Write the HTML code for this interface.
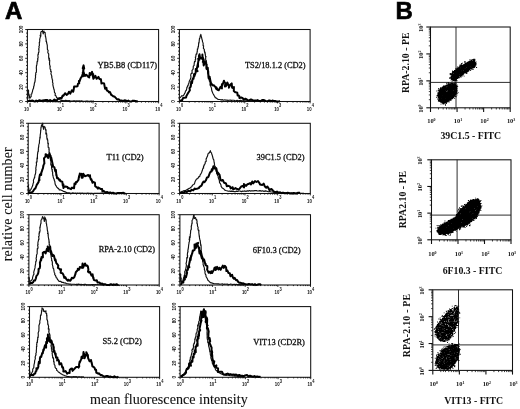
<!DOCTYPE html>
<html><head><meta charset="utf-8"><style>html,body{margin:0;padding:0;background:#fff;width:520px;height:409px;overflow:hidden}svg{display:block;filter:grayscale(1) blur(0.3px)}</style></head><body>
<svg width="520" height="409" viewBox="0 0 520 409">
<rect width="520" height="409" fill="#fff"/>
<text x="4.9" y="18.7" font-family="&quot;Liberation Sans&quot;, sans-serif" font-weight="bold" font-size="24" fill="#000" stroke="#000" stroke-width="0.7">A</text>
<text x="395.6" y="18.8" font-family="&quot;Liberation Sans&quot;, sans-serif" font-weight="bold" font-size="24" fill="#000" stroke="#000" stroke-width="0.6">B</text>
<rect x="27.4" y="29.5" width="131.20" height="72.00" fill="none" stroke="#111" stroke-width="1.05"/>
<line x1="25.20" y1="101.50" x2="27.4" y2="101.50" stroke="#111" stroke-width="0.9"/>
<line x1="26.10" y1="97.90" x2="27.4" y2="97.90" stroke="#111" stroke-width="0.9"/>
<line x1="26.10" y1="94.30" x2="27.4" y2="94.30" stroke="#111" stroke-width="0.9"/>
<line x1="26.10" y1="90.70" x2="27.4" y2="90.70" stroke="#111" stroke-width="0.9"/>
<line x1="25.20" y1="87.10" x2="27.4" y2="87.10" stroke="#111" stroke-width="0.9"/>
<line x1="26.10" y1="83.50" x2="27.4" y2="83.50" stroke="#111" stroke-width="0.9"/>
<line x1="26.10" y1="79.90" x2="27.4" y2="79.90" stroke="#111" stroke-width="0.9"/>
<line x1="26.10" y1="76.30" x2="27.4" y2="76.30" stroke="#111" stroke-width="0.9"/>
<line x1="25.20" y1="72.70" x2="27.4" y2="72.70" stroke="#111" stroke-width="0.9"/>
<line x1="26.10" y1="69.10" x2="27.4" y2="69.10" stroke="#111" stroke-width="0.9"/>
<line x1="26.10" y1="65.50" x2="27.4" y2="65.50" stroke="#111" stroke-width="0.9"/>
<line x1="26.10" y1="61.90" x2="27.4" y2="61.90" stroke="#111" stroke-width="0.9"/>
<line x1="25.20" y1="58.30" x2="27.4" y2="58.30" stroke="#111" stroke-width="0.9"/>
<line x1="26.10" y1="54.70" x2="27.4" y2="54.70" stroke="#111" stroke-width="0.9"/>
<line x1="26.10" y1="51.10" x2="27.4" y2="51.10" stroke="#111" stroke-width="0.9"/>
<line x1="26.10" y1="47.50" x2="27.4" y2="47.50" stroke="#111" stroke-width="0.9"/>
<line x1="25.20" y1="43.90" x2="27.4" y2="43.90" stroke="#111" stroke-width="0.9"/>
<line x1="26.10" y1="40.30" x2="27.4" y2="40.30" stroke="#111" stroke-width="0.9"/>
<line x1="26.10" y1="36.70" x2="27.4" y2="36.70" stroke="#111" stroke-width="0.9"/>
<line x1="26.10" y1="33.10" x2="27.4" y2="33.10" stroke="#111" stroke-width="0.9"/>
<line x1="25.20" y1="29.50" x2="27.4" y2="29.50" stroke="#111" stroke-width="0.9"/>
<text transform="translate(22.80,101.50) rotate(-90) scale(0.8,1)" font-family="&quot;Liberation Sans&quot;, sans-serif" font-weight="bold" font-size="5.8" text-anchor="middle" fill="#111">0</text>
<text transform="translate(22.80,87.10) rotate(-90) scale(0.8,1)" font-family="&quot;Liberation Sans&quot;, sans-serif" font-weight="bold" font-size="5.8" text-anchor="middle" fill="#111">20</text>
<text transform="translate(22.80,72.70) rotate(-90) scale(0.8,1)" font-family="&quot;Liberation Sans&quot;, sans-serif" font-weight="bold" font-size="5.8" text-anchor="middle" fill="#111">40</text>
<text transform="translate(22.80,58.30) rotate(-90) scale(0.8,1)" font-family="&quot;Liberation Sans&quot;, sans-serif" font-weight="bold" font-size="5.8" text-anchor="middle" fill="#111">60</text>
<text transform="translate(22.80,43.90) rotate(-90) scale(0.8,1)" font-family="&quot;Liberation Sans&quot;, sans-serif" font-weight="bold" font-size="5.8" text-anchor="middle" fill="#111">80</text>
<text transform="translate(22.80,29.50) rotate(-90) scale(0.8,1)" font-family="&quot;Liberation Sans&quot;, sans-serif" font-weight="bold" font-size="5.8" text-anchor="middle" fill="#111">100</text>
<line x1="27.40" y1="101.5" x2="27.40" y2="103.40" stroke="#111" stroke-width="0.9"/>
<line x1="37.27" y1="101.5" x2="37.27" y2="102.60" stroke="#111" stroke-width="0.9"/>
<line x1="43.05" y1="101.5" x2="43.05" y2="102.60" stroke="#111" stroke-width="0.9"/>
<line x1="47.15" y1="101.5" x2="47.15" y2="102.60" stroke="#111" stroke-width="0.9"/>
<line x1="50.33" y1="101.5" x2="50.33" y2="102.60" stroke="#111" stroke-width="0.9"/>
<line x1="52.92" y1="101.5" x2="52.92" y2="102.60" stroke="#111" stroke-width="0.9"/>
<line x1="55.12" y1="101.5" x2="55.12" y2="102.60" stroke="#111" stroke-width="0.9"/>
<line x1="57.02" y1="101.5" x2="57.02" y2="102.60" stroke="#111" stroke-width="0.9"/>
<line x1="58.70" y1="101.5" x2="58.70" y2="102.60" stroke="#111" stroke-width="0.9"/>
<line x1="60.20" y1="101.5" x2="60.20" y2="103.40" stroke="#111" stroke-width="0.9"/>
<line x1="70.07" y1="101.5" x2="70.07" y2="102.60" stroke="#111" stroke-width="0.9"/>
<line x1="75.85" y1="101.5" x2="75.85" y2="102.60" stroke="#111" stroke-width="0.9"/>
<line x1="79.95" y1="101.5" x2="79.95" y2="102.60" stroke="#111" stroke-width="0.9"/>
<line x1="83.13" y1="101.5" x2="83.13" y2="102.60" stroke="#111" stroke-width="0.9"/>
<line x1="85.72" y1="101.5" x2="85.72" y2="102.60" stroke="#111" stroke-width="0.9"/>
<line x1="87.92" y1="101.5" x2="87.92" y2="102.60" stroke="#111" stroke-width="0.9"/>
<line x1="89.82" y1="101.5" x2="89.82" y2="102.60" stroke="#111" stroke-width="0.9"/>
<line x1="91.50" y1="101.5" x2="91.50" y2="102.60" stroke="#111" stroke-width="0.9"/>
<line x1="93.00" y1="101.5" x2="93.00" y2="103.40" stroke="#111" stroke-width="0.9"/>
<line x1="102.87" y1="101.5" x2="102.87" y2="102.60" stroke="#111" stroke-width="0.9"/>
<line x1="108.65" y1="101.5" x2="108.65" y2="102.60" stroke="#111" stroke-width="0.9"/>
<line x1="112.75" y1="101.5" x2="112.75" y2="102.60" stroke="#111" stroke-width="0.9"/>
<line x1="115.93" y1="101.5" x2="115.93" y2="102.60" stroke="#111" stroke-width="0.9"/>
<line x1="118.52" y1="101.5" x2="118.52" y2="102.60" stroke="#111" stroke-width="0.9"/>
<line x1="120.72" y1="101.5" x2="120.72" y2="102.60" stroke="#111" stroke-width="0.9"/>
<line x1="122.62" y1="101.5" x2="122.62" y2="102.60" stroke="#111" stroke-width="0.9"/>
<line x1="124.30" y1="101.5" x2="124.30" y2="102.60" stroke="#111" stroke-width="0.9"/>
<line x1="125.80" y1="101.5" x2="125.80" y2="103.40" stroke="#111" stroke-width="0.9"/>
<line x1="135.67" y1="101.5" x2="135.67" y2="102.60" stroke="#111" stroke-width="0.9"/>
<line x1="141.45" y1="101.5" x2="141.45" y2="102.60" stroke="#111" stroke-width="0.9"/>
<line x1="145.55" y1="101.5" x2="145.55" y2="102.60" stroke="#111" stroke-width="0.9"/>
<line x1="148.73" y1="101.5" x2="148.73" y2="102.60" stroke="#111" stroke-width="0.9"/>
<line x1="151.32" y1="101.5" x2="151.32" y2="102.60" stroke="#111" stroke-width="0.9"/>
<line x1="153.52" y1="101.5" x2="153.52" y2="102.60" stroke="#111" stroke-width="0.9"/>
<line x1="155.42" y1="101.5" x2="155.42" y2="102.60" stroke="#111" stroke-width="0.9"/>
<line x1="157.10" y1="101.5" x2="157.10" y2="102.60" stroke="#111" stroke-width="0.9"/>
<line x1="158.60" y1="101.5" x2="158.60" y2="103.40" stroke="#111" stroke-width="0.9"/>
<text transform="translate(26.50,110.50) scale(0.72,1)" font-family="&quot;Liberation Sans&quot;, sans-serif" font-weight="bold" font-size="6.0" text-anchor="middle" fill="#111">10</text>
<text transform="translate(29.00,107.30) scale(0.8,1)" font-family="&quot;Liberation Sans&quot;, sans-serif" font-weight="bold" font-size="5.0" fill="#111">0</text>
<text transform="translate(59.30,110.50) scale(0.72,1)" font-family="&quot;Liberation Sans&quot;, sans-serif" font-weight="bold" font-size="6.0" text-anchor="middle" fill="#111">10</text>
<text transform="translate(61.80,107.30) scale(0.8,1)" font-family="&quot;Liberation Sans&quot;, sans-serif" font-weight="bold" font-size="5.0" fill="#111">1</text>
<text transform="translate(92.10,110.50) scale(0.72,1)" font-family="&quot;Liberation Sans&quot;, sans-serif" font-weight="bold" font-size="6.0" text-anchor="middle" fill="#111">10</text>
<text transform="translate(94.60,107.30) scale(0.8,1)" font-family="&quot;Liberation Sans&quot;, sans-serif" font-weight="bold" font-size="5.0" fill="#111">2</text>
<text transform="translate(124.90,110.50) scale(0.72,1)" font-family="&quot;Liberation Sans&quot;, sans-serif" font-weight="bold" font-size="6.0" text-anchor="middle" fill="#111">10</text>
<text transform="translate(127.40,107.30) scale(0.8,1)" font-family="&quot;Liberation Sans&quot;, sans-serif" font-weight="bold" font-size="5.0" fill="#111">3</text>
<text transform="translate(157.70,110.50) scale(0.72,1)" font-family="&quot;Liberation Sans&quot;, sans-serif" font-weight="bold" font-size="6.0" text-anchor="middle" fill="#111">10</text>
<text transform="translate(160.20,107.30) scale(0.8,1)" font-family="&quot;Liberation Sans&quot;, sans-serif" font-weight="bold" font-size="5.0" fill="#111">4</text>
<path d="M28.1,98.7 L28.0,98.1 L27.8,96.3 L28.0,95.8 L28.0,94.1 L28.4,92.9 L27.8,91.6 L28.1,89.9 L28.0,89.9 L28.6,90.7 L28.5,92.5 L28.6,93.5 L29.2,94.9 L29.5,97.0 L29.5,97.5 L29.9,98.3 L30.4,97.2 L31.2,96.5 L31.1,94.2 L31.7,94.0 L32.2,92.2 L32.4,91.9 L32.7,90.1 L32.7,89.9 L33.7,87.7 L33.5,87.3 L34.2,85.2 L34.1,85.3 L34.5,82.7 L34.7,82.5 L35.1,81.0 L35.2,80.2 L35.2,78.9 L35.6,77.1 L35.5,76.6 L35.5,74.7 L35.8,74.7 L35.7,72.8 L36.3,72.5 L36.4,71.6 L36.5,68.5 L36.2,68.1 L36.4,67.3 L36.5,65.4 L36.7,65.5 L37.1,63.1 L36.9,63.5 L37.2,61.2 L37.5,61.8 L37.9,59.0 L37.5,59.0 L38.1,57.7 L37.9,55.2 L38.2,53.9 L38.3,54.6 L38.5,52.2 L38.9,52.2 L38.9,51.2 L38.9,48.5 L38.5,49.1 L39.2,47.4 L38.9,46.5 L39.4,45.5 L39.3,42.3 L39.5,42.7 L39.8,40.2 L39.7,40.1 L39.7,39.4 L40.5,36.4 L40.1,35.3 L40.8,36.2 L40.8,32.4 L40.7,34.0 L41.0,31.8 L42.1,31.2 L42.5,30.6 L43.2,33.9 L44.0,31.0 L44.1,32.4 L45.2,32.5 L45.1,32.8 L45.4,36.4 L45.5,36.1 L46.0,38.9 L46.1,39.8 L46.1,41.6 L46.4,41.1 L46.6,42.3 L46.7,43.0 L47.3,45.3 L47.2,44.8 L47.3,45.9 L47.4,49.1 L47.5,49.6 L48.1,50.3 L47.8,52.4 L48.6,54.0 L48.5,53.5 L48.7,54.2 L48.7,56.5 L48.6,56.6 L48.9,59.2 L49.4,58.3 L49.2,60.6 L49.7,60.2 L49.6,62.6 L49.5,62.4 L49.6,64.6 L49.7,64.9 L50.3,66.7 L50.0,66.3 L50.1,69.1 L50.8,69.6 L50.7,71.5 L51.3,71.6 L50.9,74.0 L51.2,74.4 L51.8,76.1 L51.8,77.1 L51.6,76.9 L51.9,77.8 L52.4,80.2 L52.6,79.9 L52.5,82.3 L53.0,83.2 L52.8,84.9 L53.0,85.3 L53.4,87.3 L53.5,87.3 L53.9,89.3 L54.2,89.6 L54.3,90.7 L54.5,92.5 L55.3,93.3 L55.1,95.4 L56.0,95.8 L56.6,97.7 L57.2,97.9 L58.1,99.1 L59.1,99.1 L60.1,99.7 L61.2,100.4 L63.2,100.6 L64.2,100.7 L65.4,100.4 L66.9,100.5 L68.0,100.9 L69.0,100.5 L70.1,100.9 L71.2,101.0 L72.4,101.0 L73.6,100.8 L74.7,100.8 L75.8,101.0 L76.9,100.8 L78.0,101.1 L79.1,100.8 L80.6,101.1 L81.7,100.9 L82.9,101.2 L84.0,101.2 L85.2,101.3 L86.3,101.0 L87.5,101.1 L88.6,101.3 L89.6,101.2 L91.1,101.1 L92.4,101.3 L93.4,101.1 L94.0,101.4" fill="none" stroke="#111" stroke-width="1.15" stroke-linejoin="round" stroke-opacity="1.0"/>
<path d="M27.9,101.5 L29.4,100.5 L30.7,101.2 L32.2,100.5 L34.0,101.2 L35.1,101.5 L36.2,100.6 L37.9,101.2 L39.5,100.2 L41.0,101.0 L42.7,100.5 L44.3,100.2 L45.9,100.1 L47.4,100.1 L48.8,101.2 L50.1,100.0 L51.3,100.9 L53.0,100.8 L54.4,99.6 L55.7,100.6 L57.0,100.2 L58.4,98.4 L60.3,97.9 L61.5,98.4 L62.7,95.5 L63.3,95.8 L65.2,93.2 L66.6,95.0 L68.1,93.7 L69.0,91.7 L70.3,93.6 L71.8,90.3 L73.2,91.7 L73.7,89.6 L74.1,86.6 L76.2,86.4 L77.5,86.2 L78.0,83.7 L79.2,83.3 L78.9,81.0 L79.4,81.7 L80.5,78.6 L82.1,76.0 L82.5,74.5 L83.0,76.2 L82.9,73.4 L83.2,71.9 L82.7,72.9 L83.4,71.1 L83.4,68.2 L82.7,68.2 L83.6,65.4 L84.2,68.6 L83.5,68.5 L83.8,67.2 L83.3,68.3 L83.1,73.0 L83.5,71.8 L84.0,73.3 L84.9,76.0 L86.3,74.8 L88.7,77.2 L89.2,77.5 L89.7,72.9 L90.6,74.9 L92.1,71.8 L93.0,77.0 L93.2,73.9 L93.3,78.8 L95.4,75.9 L96.6,78.8 L98.5,76.9 L99.3,78.8 L100.8,79.5 L100.9,79.1 L101.5,83.6 L101.9,82.9 L104.1,83.5 L104.7,86.7 L105.1,88.7 L106.4,87.7 L106.8,90.4 L108.8,91.6 L108.9,92.3 L109.9,92.0 L111.3,95.0 L112.0,95.2 L113.2,96.3 L114.8,96.8 L115.3,97.4 L117.1,99.4 L118.6,99.3 L119.9,100.5 L121.4,100.6 L123.1,100.9 L124.5,100.3 L125.9,100.5 L127.1,101.4 L128.4,100.6 L129.8,101.5 L131.5,101.5 L132.7,100.7 L133.9,100.8 L135.6,101.0 L137.0,101.5 L138.0,101.1" fill="none" stroke="#000" stroke-width="2.0" stroke-linejoin="round" stroke-opacity="1.0"/>
<text x="97.5" y="67.5" font-family="&quot;Liberation Serif&quot;, serif" font-size="8.6" fill="#111" stroke="#111" stroke-width="0.3" textLength="59.5" lengthAdjust="spacingAndGlyphs">YB5.B8 (CD117)</text>
<rect x="179.4" y="29.5" width="130.70" height="72.00" fill="none" stroke="#111" stroke-width="1.05"/>
<line x1="177.20" y1="101.50" x2="179.4" y2="101.50" stroke="#111" stroke-width="0.9"/>
<line x1="178.10" y1="97.90" x2="179.4" y2="97.90" stroke="#111" stroke-width="0.9"/>
<line x1="178.10" y1="94.30" x2="179.4" y2="94.30" stroke="#111" stroke-width="0.9"/>
<line x1="178.10" y1="90.70" x2="179.4" y2="90.70" stroke="#111" stroke-width="0.9"/>
<line x1="177.20" y1="87.10" x2="179.4" y2="87.10" stroke="#111" stroke-width="0.9"/>
<line x1="178.10" y1="83.50" x2="179.4" y2="83.50" stroke="#111" stroke-width="0.9"/>
<line x1="178.10" y1="79.90" x2="179.4" y2="79.90" stroke="#111" stroke-width="0.9"/>
<line x1="178.10" y1="76.30" x2="179.4" y2="76.30" stroke="#111" stroke-width="0.9"/>
<line x1="177.20" y1="72.70" x2="179.4" y2="72.70" stroke="#111" stroke-width="0.9"/>
<line x1="178.10" y1="69.10" x2="179.4" y2="69.10" stroke="#111" stroke-width="0.9"/>
<line x1="178.10" y1="65.50" x2="179.4" y2="65.50" stroke="#111" stroke-width="0.9"/>
<line x1="178.10" y1="61.90" x2="179.4" y2="61.90" stroke="#111" stroke-width="0.9"/>
<line x1="177.20" y1="58.30" x2="179.4" y2="58.30" stroke="#111" stroke-width="0.9"/>
<line x1="178.10" y1="54.70" x2="179.4" y2="54.70" stroke="#111" stroke-width="0.9"/>
<line x1="178.10" y1="51.10" x2="179.4" y2="51.10" stroke="#111" stroke-width="0.9"/>
<line x1="178.10" y1="47.50" x2="179.4" y2="47.50" stroke="#111" stroke-width="0.9"/>
<line x1="177.20" y1="43.90" x2="179.4" y2="43.90" stroke="#111" stroke-width="0.9"/>
<line x1="178.10" y1="40.30" x2="179.4" y2="40.30" stroke="#111" stroke-width="0.9"/>
<line x1="178.10" y1="36.70" x2="179.4" y2="36.70" stroke="#111" stroke-width="0.9"/>
<line x1="178.10" y1="33.10" x2="179.4" y2="33.10" stroke="#111" stroke-width="0.9"/>
<line x1="177.20" y1="29.50" x2="179.4" y2="29.50" stroke="#111" stroke-width="0.9"/>
<text transform="translate(174.80,101.50) rotate(-90) scale(0.8,1)" font-family="&quot;Liberation Sans&quot;, sans-serif" font-weight="bold" font-size="5.8" text-anchor="middle" fill="#111">0</text>
<text transform="translate(174.80,87.10) rotate(-90) scale(0.8,1)" font-family="&quot;Liberation Sans&quot;, sans-serif" font-weight="bold" font-size="5.8" text-anchor="middle" fill="#111">20</text>
<text transform="translate(174.80,72.70) rotate(-90) scale(0.8,1)" font-family="&quot;Liberation Sans&quot;, sans-serif" font-weight="bold" font-size="5.8" text-anchor="middle" fill="#111">40</text>
<text transform="translate(174.80,58.30) rotate(-90) scale(0.8,1)" font-family="&quot;Liberation Sans&quot;, sans-serif" font-weight="bold" font-size="5.8" text-anchor="middle" fill="#111">60</text>
<text transform="translate(174.80,43.90) rotate(-90) scale(0.8,1)" font-family="&quot;Liberation Sans&quot;, sans-serif" font-weight="bold" font-size="5.8" text-anchor="middle" fill="#111">80</text>
<text transform="translate(174.80,29.50) rotate(-90) scale(0.8,1)" font-family="&quot;Liberation Sans&quot;, sans-serif" font-weight="bold" font-size="5.8" text-anchor="middle" fill="#111">100</text>
<line x1="179.40" y1="101.5" x2="179.40" y2="103.40" stroke="#111" stroke-width="0.9"/>
<line x1="189.24" y1="101.5" x2="189.24" y2="102.60" stroke="#111" stroke-width="0.9"/>
<line x1="194.99" y1="101.5" x2="194.99" y2="102.60" stroke="#111" stroke-width="0.9"/>
<line x1="199.07" y1="101.5" x2="199.07" y2="102.60" stroke="#111" stroke-width="0.9"/>
<line x1="202.24" y1="101.5" x2="202.24" y2="102.60" stroke="#111" stroke-width="0.9"/>
<line x1="204.83" y1="101.5" x2="204.83" y2="102.60" stroke="#111" stroke-width="0.9"/>
<line x1="207.01" y1="101.5" x2="207.01" y2="102.60" stroke="#111" stroke-width="0.9"/>
<line x1="208.91" y1="101.5" x2="208.91" y2="102.60" stroke="#111" stroke-width="0.9"/>
<line x1="210.58" y1="101.5" x2="210.58" y2="102.60" stroke="#111" stroke-width="0.9"/>
<line x1="212.08" y1="101.5" x2="212.08" y2="103.40" stroke="#111" stroke-width="0.9"/>
<line x1="221.91" y1="101.5" x2="221.91" y2="102.60" stroke="#111" stroke-width="0.9"/>
<line x1="227.66" y1="101.5" x2="227.66" y2="102.60" stroke="#111" stroke-width="0.9"/>
<line x1="231.75" y1="101.5" x2="231.75" y2="102.60" stroke="#111" stroke-width="0.9"/>
<line x1="234.91" y1="101.5" x2="234.91" y2="102.60" stroke="#111" stroke-width="0.9"/>
<line x1="237.50" y1="101.5" x2="237.50" y2="102.60" stroke="#111" stroke-width="0.9"/>
<line x1="239.69" y1="101.5" x2="239.69" y2="102.60" stroke="#111" stroke-width="0.9"/>
<line x1="241.58" y1="101.5" x2="241.58" y2="102.60" stroke="#111" stroke-width="0.9"/>
<line x1="243.25" y1="101.5" x2="243.25" y2="102.60" stroke="#111" stroke-width="0.9"/>
<line x1="244.75" y1="101.5" x2="244.75" y2="103.40" stroke="#111" stroke-width="0.9"/>
<line x1="254.59" y1="101.5" x2="254.59" y2="102.60" stroke="#111" stroke-width="0.9"/>
<line x1="260.34" y1="101.5" x2="260.34" y2="102.60" stroke="#111" stroke-width="0.9"/>
<line x1="264.42" y1="101.5" x2="264.42" y2="102.60" stroke="#111" stroke-width="0.9"/>
<line x1="267.59" y1="101.5" x2="267.59" y2="102.60" stroke="#111" stroke-width="0.9"/>
<line x1="270.18" y1="101.5" x2="270.18" y2="102.60" stroke="#111" stroke-width="0.9"/>
<line x1="272.36" y1="101.5" x2="272.36" y2="102.60" stroke="#111" stroke-width="0.9"/>
<line x1="274.26" y1="101.5" x2="274.26" y2="102.60" stroke="#111" stroke-width="0.9"/>
<line x1="275.93" y1="101.5" x2="275.93" y2="102.60" stroke="#111" stroke-width="0.9"/>
<line x1="277.43" y1="101.5" x2="277.43" y2="103.40" stroke="#111" stroke-width="0.9"/>
<line x1="287.26" y1="101.5" x2="287.26" y2="102.60" stroke="#111" stroke-width="0.9"/>
<line x1="293.01" y1="101.5" x2="293.01" y2="102.60" stroke="#111" stroke-width="0.9"/>
<line x1="297.10" y1="101.5" x2="297.10" y2="102.60" stroke="#111" stroke-width="0.9"/>
<line x1="300.26" y1="101.5" x2="300.26" y2="102.60" stroke="#111" stroke-width="0.9"/>
<line x1="302.85" y1="101.5" x2="302.85" y2="102.60" stroke="#111" stroke-width="0.9"/>
<line x1="305.04" y1="101.5" x2="305.04" y2="102.60" stroke="#111" stroke-width="0.9"/>
<line x1="306.93" y1="101.5" x2="306.93" y2="102.60" stroke="#111" stroke-width="0.9"/>
<line x1="308.60" y1="101.5" x2="308.60" y2="102.60" stroke="#111" stroke-width="0.9"/>
<line x1="310.10" y1="101.5" x2="310.10" y2="103.40" stroke="#111" stroke-width="0.9"/>
<text transform="translate(178.50,110.50) scale(0.72,1)" font-family="&quot;Liberation Sans&quot;, sans-serif" font-weight="bold" font-size="6.0" text-anchor="middle" fill="#111">10</text>
<text transform="translate(181.00,107.30) scale(0.8,1)" font-family="&quot;Liberation Sans&quot;, sans-serif" font-weight="bold" font-size="5.0" fill="#111">0</text>
<text transform="translate(211.18,110.50) scale(0.72,1)" font-family="&quot;Liberation Sans&quot;, sans-serif" font-weight="bold" font-size="6.0" text-anchor="middle" fill="#111">10</text>
<text transform="translate(213.68,107.30) scale(0.8,1)" font-family="&quot;Liberation Sans&quot;, sans-serif" font-weight="bold" font-size="5.0" fill="#111">1</text>
<text transform="translate(243.85,110.50) scale(0.72,1)" font-family="&quot;Liberation Sans&quot;, sans-serif" font-weight="bold" font-size="6.0" text-anchor="middle" fill="#111">10</text>
<text transform="translate(246.35,107.30) scale(0.8,1)" font-family="&quot;Liberation Sans&quot;, sans-serif" font-weight="bold" font-size="5.0" fill="#111">2</text>
<text transform="translate(276.53,110.50) scale(0.72,1)" font-family="&quot;Liberation Sans&quot;, sans-serif" font-weight="bold" font-size="6.0" text-anchor="middle" fill="#111">10</text>
<text transform="translate(279.03,107.30) scale(0.8,1)" font-family="&quot;Liberation Sans&quot;, sans-serif" font-weight="bold" font-size="5.0" fill="#111">3</text>
<text transform="translate(309.20,110.50) scale(0.72,1)" font-family="&quot;Liberation Sans&quot;, sans-serif" font-weight="bold" font-size="6.0" text-anchor="middle" fill="#111">10</text>
<text transform="translate(311.70,107.30) scale(0.8,1)" font-family="&quot;Liberation Sans&quot;, sans-serif" font-weight="bold" font-size="5.0" fill="#111">4</text>
<path d="M179.9,97.8 L180.6,97.1 L181.9,95.7 L183.1,95.9 L183.9,94.9 L184.8,93.0 L185.1,92.9 L185.5,91.0 L186.2,90.5 L186.7,88.8 L186.9,87.3 L187.6,86.7 L187.5,85.9 L188.0,85.8 L188.5,83.7 L188.9,83.4 L189.3,81.2 L190.0,79.8 L190.3,79.4 L190.5,78.5 L191.0,77.1 L190.7,75.4 L191.0,73.8 L191.4,73.2 L192.2,73.4 L192.0,70.5 L192.8,69.7 L193.2,68.5 L193.2,68.3 L193.3,66.6 L193.3,66.2 L194.2,65.3 L194.1,64.3 L194.5,61.6 L195.2,61.7 L195.3,59.2 L195.7,59.2 L195.3,57.0 L195.7,57.1 L196.1,54.1 L196.8,54.2 L197.1,51.6 L197.3,51.8 L197.3,51.0 L197.4,48.9 L197.8,49.1 L198.2,46.4 L198.4,46.9 L198.6,44.5 L198.6,44.4 L198.7,42.6 L199.0,43.1 L199.2,41.0 L199.5,38.3 L199.8,38.5 L200.3,35.7 L200.5,36.3 L200.8,34.3 L201.5,37.3 L201.5,37.2 L202.1,39.9 L202.4,40.2 L202.3,40.2 L202.5,41.6 L203.1,43.1 L203.1,45.7 L203.6,45.9 L203.4,48.3 L204.3,49.3 L204.3,50.9 L204.3,50.3 L204.8,53.1 L205.0,52.1 L205.4,54.8 L205.2,54.4 L205.7,57.2 L206.0,56.6 L205.6,57.7 L205.8,61.1 L206.3,60.7 L206.6,62.8 L206.3,63.0 L207.1,64.5 L206.9,65.6 L206.9,65.9 L207.1,68.1 L207.1,67.9 L207.5,70.6 L207.7,71.0 L207.9,73.3 L208.2,74.2 L208.5,74.1 L208.6,76.3 L208.9,76.1 L209.0,78.1 L209.2,79.9 L209.4,81.2 L210.0,81.4 L210.2,83.4 L210.3,83.1 L210.1,85.3 L210.3,85.2 L211.2,87.4 L211.5,88.4 L211.7,90.2 L212.0,91.3 L212.4,91.8 L212.5,92.6 L213.1,93.8 L214.2,95.6 L214.4,96.0 L215.3,97.6 L216.2,98.0 L217.2,98.8 L218.2,99.5 L219.9,99.5 L221.2,100.0 L222.1,99.6 L223.5,100.2 L224.9,99.8 L225.8,100.2 L226.8,100.0 L227.9,100.4 L229.1,100.3 L230.2,100.1 L231.4,100.4 L232.5,100.2 L233.8,100.3 L234.9,100.6 L236.0,100.7 L237.1,100.3 L238.1,100.7 L239.5,100.5 L240.6,100.4 L241.7,100.6 L243.0,100.8 L244.1,101.0 L245.3,100.9 L246.5,100.9 L247.6,101.0 L248.7,100.8 L249.7,101.1 L251.2,100.9 L252.4,101.3 L253.4,101.0 L254.0,101.0" fill="none" stroke="#111" stroke-width="1.15" stroke-linejoin="round" stroke-opacity="1.0"/>
<path d="M180.0,100.8 L181.1,100.3 L182.2,100.1 L183.1,97.9 L184.3,97.8 L186.1,97.5 L186.4,95.9 L188.1,93.1 L188.3,92.7 L188.3,92.8 L189.9,90.2 L189.5,88.1 L190.8,86.5 L190.7,85.0 L190.9,85.7 L191.2,81.5 L192.0,83.1 L192.6,79.0 L193.2,78.0 L193.5,78.8 L194.1,74.1 L194.3,76.5 L195.8,72.1 L195.7,72.6 L195.8,68.9 L197.5,71.1 L196.6,69.7 L198.0,63.3 L198.1,66.8 L197.9,64.0 L198.5,60.4 L198.2,58.7 L199.5,59.7 L198.9,56.0 L199.5,54.3 L200.1,57.8 L200.3,57.6 L202.3,59.0 L202.4,54.6 L202.7,59.3 L202.4,56.4 L203.8,60.2 L202.8,62.0 L203.3,60.4 L203.7,65.4 L205.0,61.8 L206.2,64.1 L206.6,69.0 L206.3,67.8 L207.8,67.8 L208.1,73.3 L208.2,71.1 L208.4,76.3 L208.6,78.2 L209.9,79.3 L209.7,76.8 L209.9,78.6 L211.0,83.2 L210.8,84.8 L210.9,82.7 L212.8,85.5 L213.8,85.3 L215.1,86.6 L216.4,89.1 L216.3,87.2 L217.8,90.1 L218.7,90.2 L220.6,86.7 L221.9,88.4 L221.9,84.6 L222.1,83.9 L222.4,85.3 L223.9,80.7 L224.5,82.3 L225.1,82.8 L225.4,82.9 L224.9,86.6 L225.7,86.4 L227.3,83.8 L227.4,82.5 L229.0,86.6 L228.9,87.7 L230.4,84.5 L231.7,83.4 L232.1,87.6 L233.6,88.5 L233.9,87.1 L233.8,91.0 L235.2,92.2 L235.3,92.1 L237.3,92.8 L237.6,95.5 L238.4,95.3 L239.3,96.2 L239.4,98.0 L241.2,97.5 L242.8,98.2 L243.7,99.8 L245.4,98.7 L246.6,99.4 L248.1,100.4 L249.4,100.2 L250.9,99.5 L251.9,99.8 L253.7,100.7 L254.6,100.6 L256.0,100.6 L257.5,100.1 L259.0,100.9 L260.6,101.0 L262.5,99.9 L264.0,100.1 L265.7,100.9 L267.3,101.3 L268.7,100.5 L270.0,100.6 L271.4,101.2 L272.5,100.5 L273.8,101.1 L275.0,100.9 L276.6,101.5 L278.0,101.5 L279.1,101.5 L280.0,100.8" fill="none" stroke="#000" stroke-width="2.0" stroke-linejoin="round" stroke-opacity="1.0"/>
<text x="244.9" y="67.7" font-family="&quot;Liberation Serif&quot;, serif" font-size="8.6" fill="#111" stroke="#111" stroke-width="0.3" textLength="60.7" lengthAdjust="spacingAndGlyphs">TS2/18.1.2 (CD2)</text>
<rect x="28.2" y="123.3" width="130.90" height="70.20" fill="none" stroke="#111" stroke-width="1.05"/>
<line x1="26.00" y1="193.50" x2="28.2" y2="193.50" stroke="#111" stroke-width="0.9"/>
<line x1="26.90" y1="189.99" x2="28.2" y2="189.99" stroke="#111" stroke-width="0.9"/>
<line x1="26.90" y1="186.48" x2="28.2" y2="186.48" stroke="#111" stroke-width="0.9"/>
<line x1="26.90" y1="182.97" x2="28.2" y2="182.97" stroke="#111" stroke-width="0.9"/>
<line x1="26.00" y1="179.46" x2="28.2" y2="179.46" stroke="#111" stroke-width="0.9"/>
<line x1="26.90" y1="175.95" x2="28.2" y2="175.95" stroke="#111" stroke-width="0.9"/>
<line x1="26.90" y1="172.44" x2="28.2" y2="172.44" stroke="#111" stroke-width="0.9"/>
<line x1="26.90" y1="168.93" x2="28.2" y2="168.93" stroke="#111" stroke-width="0.9"/>
<line x1="26.00" y1="165.42" x2="28.2" y2="165.42" stroke="#111" stroke-width="0.9"/>
<line x1="26.90" y1="161.91" x2="28.2" y2="161.91" stroke="#111" stroke-width="0.9"/>
<line x1="26.90" y1="158.40" x2="28.2" y2="158.40" stroke="#111" stroke-width="0.9"/>
<line x1="26.90" y1="154.89" x2="28.2" y2="154.89" stroke="#111" stroke-width="0.9"/>
<line x1="26.00" y1="151.38" x2="28.2" y2="151.38" stroke="#111" stroke-width="0.9"/>
<line x1="26.90" y1="147.87" x2="28.2" y2="147.87" stroke="#111" stroke-width="0.9"/>
<line x1="26.90" y1="144.36" x2="28.2" y2="144.36" stroke="#111" stroke-width="0.9"/>
<line x1="26.90" y1="140.85" x2="28.2" y2="140.85" stroke="#111" stroke-width="0.9"/>
<line x1="26.00" y1="137.34" x2="28.2" y2="137.34" stroke="#111" stroke-width="0.9"/>
<line x1="26.90" y1="133.83" x2="28.2" y2="133.83" stroke="#111" stroke-width="0.9"/>
<line x1="26.90" y1="130.32" x2="28.2" y2="130.32" stroke="#111" stroke-width="0.9"/>
<line x1="26.90" y1="126.81" x2="28.2" y2="126.81" stroke="#111" stroke-width="0.9"/>
<line x1="26.00" y1="123.30" x2="28.2" y2="123.30" stroke="#111" stroke-width="0.9"/>
<text transform="translate(23.60,193.50) rotate(-90) scale(0.8,1)" font-family="&quot;Liberation Sans&quot;, sans-serif" font-weight="bold" font-size="5.8" text-anchor="middle" fill="#111">0</text>
<text transform="translate(23.60,179.46) rotate(-90) scale(0.8,1)" font-family="&quot;Liberation Sans&quot;, sans-serif" font-weight="bold" font-size="5.8" text-anchor="middle" fill="#111">20</text>
<text transform="translate(23.60,165.42) rotate(-90) scale(0.8,1)" font-family="&quot;Liberation Sans&quot;, sans-serif" font-weight="bold" font-size="5.8" text-anchor="middle" fill="#111">40</text>
<text transform="translate(23.60,151.38) rotate(-90) scale(0.8,1)" font-family="&quot;Liberation Sans&quot;, sans-serif" font-weight="bold" font-size="5.8" text-anchor="middle" fill="#111">60</text>
<text transform="translate(23.60,137.34) rotate(-90) scale(0.8,1)" font-family="&quot;Liberation Sans&quot;, sans-serif" font-weight="bold" font-size="5.8" text-anchor="middle" fill="#111">80</text>
<text transform="translate(23.60,123.30) rotate(-90) scale(0.8,1)" font-family="&quot;Liberation Sans&quot;, sans-serif" font-weight="bold" font-size="5.8" text-anchor="middle" fill="#111">100</text>
<line x1="28.20" y1="193.5" x2="28.20" y2="195.40" stroke="#111" stroke-width="0.9"/>
<line x1="38.05" y1="193.5" x2="38.05" y2="194.60" stroke="#111" stroke-width="0.9"/>
<line x1="43.81" y1="193.5" x2="43.81" y2="194.60" stroke="#111" stroke-width="0.9"/>
<line x1="47.90" y1="193.5" x2="47.90" y2="194.60" stroke="#111" stroke-width="0.9"/>
<line x1="51.07" y1="193.5" x2="51.07" y2="194.60" stroke="#111" stroke-width="0.9"/>
<line x1="53.66" y1="193.5" x2="53.66" y2="194.60" stroke="#111" stroke-width="0.9"/>
<line x1="55.86" y1="193.5" x2="55.86" y2="194.60" stroke="#111" stroke-width="0.9"/>
<line x1="57.75" y1="193.5" x2="57.75" y2="194.60" stroke="#111" stroke-width="0.9"/>
<line x1="59.43" y1="193.5" x2="59.43" y2="194.60" stroke="#111" stroke-width="0.9"/>
<line x1="60.92" y1="193.5" x2="60.92" y2="195.40" stroke="#111" stroke-width="0.9"/>
<line x1="70.78" y1="193.5" x2="70.78" y2="194.60" stroke="#111" stroke-width="0.9"/>
<line x1="76.54" y1="193.5" x2="76.54" y2="194.60" stroke="#111" stroke-width="0.9"/>
<line x1="80.63" y1="193.5" x2="80.63" y2="194.60" stroke="#111" stroke-width="0.9"/>
<line x1="83.80" y1="193.5" x2="83.80" y2="194.60" stroke="#111" stroke-width="0.9"/>
<line x1="86.39" y1="193.5" x2="86.39" y2="194.60" stroke="#111" stroke-width="0.9"/>
<line x1="88.58" y1="193.5" x2="88.58" y2="194.60" stroke="#111" stroke-width="0.9"/>
<line x1="90.48" y1="193.5" x2="90.48" y2="194.60" stroke="#111" stroke-width="0.9"/>
<line x1="92.15" y1="193.5" x2="92.15" y2="194.60" stroke="#111" stroke-width="0.9"/>
<line x1="93.65" y1="193.5" x2="93.65" y2="195.40" stroke="#111" stroke-width="0.9"/>
<line x1="103.50" y1="193.5" x2="103.50" y2="194.60" stroke="#111" stroke-width="0.9"/>
<line x1="109.26" y1="193.5" x2="109.26" y2="194.60" stroke="#111" stroke-width="0.9"/>
<line x1="113.35" y1="193.5" x2="113.35" y2="194.60" stroke="#111" stroke-width="0.9"/>
<line x1="116.52" y1="193.5" x2="116.52" y2="194.60" stroke="#111" stroke-width="0.9"/>
<line x1="119.11" y1="193.5" x2="119.11" y2="194.60" stroke="#111" stroke-width="0.9"/>
<line x1="121.31" y1="193.5" x2="121.31" y2="194.60" stroke="#111" stroke-width="0.9"/>
<line x1="123.20" y1="193.5" x2="123.20" y2="194.60" stroke="#111" stroke-width="0.9"/>
<line x1="124.88" y1="193.5" x2="124.88" y2="194.60" stroke="#111" stroke-width="0.9"/>
<line x1="126.38" y1="193.5" x2="126.38" y2="195.40" stroke="#111" stroke-width="0.9"/>
<line x1="136.23" y1="193.5" x2="136.23" y2="194.60" stroke="#111" stroke-width="0.9"/>
<line x1="141.99" y1="193.5" x2="141.99" y2="194.60" stroke="#111" stroke-width="0.9"/>
<line x1="146.08" y1="193.5" x2="146.08" y2="194.60" stroke="#111" stroke-width="0.9"/>
<line x1="149.25" y1="193.5" x2="149.25" y2="194.60" stroke="#111" stroke-width="0.9"/>
<line x1="151.84" y1="193.5" x2="151.84" y2="194.60" stroke="#111" stroke-width="0.9"/>
<line x1="154.03" y1="193.5" x2="154.03" y2="194.60" stroke="#111" stroke-width="0.9"/>
<line x1="155.93" y1="193.5" x2="155.93" y2="194.60" stroke="#111" stroke-width="0.9"/>
<line x1="157.60" y1="193.5" x2="157.60" y2="194.60" stroke="#111" stroke-width="0.9"/>
<line x1="159.10" y1="193.5" x2="159.10" y2="195.40" stroke="#111" stroke-width="0.9"/>
<text transform="translate(27.30,202.50) scale(0.72,1)" font-family="&quot;Liberation Sans&quot;, sans-serif" font-weight="bold" font-size="6.0" text-anchor="middle" fill="#111">10</text>
<text transform="translate(29.80,199.30) scale(0.8,1)" font-family="&quot;Liberation Sans&quot;, sans-serif" font-weight="bold" font-size="5.0" fill="#111">0</text>
<text transform="translate(60.02,202.50) scale(0.72,1)" font-family="&quot;Liberation Sans&quot;, sans-serif" font-weight="bold" font-size="6.0" text-anchor="middle" fill="#111">10</text>
<text transform="translate(62.52,199.30) scale(0.8,1)" font-family="&quot;Liberation Sans&quot;, sans-serif" font-weight="bold" font-size="5.0" fill="#111">1</text>
<text transform="translate(92.75,202.50) scale(0.72,1)" font-family="&quot;Liberation Sans&quot;, sans-serif" font-weight="bold" font-size="6.0" text-anchor="middle" fill="#111">10</text>
<text transform="translate(95.25,199.30) scale(0.8,1)" font-family="&quot;Liberation Sans&quot;, sans-serif" font-weight="bold" font-size="5.0" fill="#111">2</text>
<text transform="translate(125.48,202.50) scale(0.72,1)" font-family="&quot;Liberation Sans&quot;, sans-serif" font-weight="bold" font-size="6.0" text-anchor="middle" fill="#111">10</text>
<text transform="translate(127.98,199.30) scale(0.8,1)" font-family="&quot;Liberation Sans&quot;, sans-serif" font-weight="bold" font-size="5.0" fill="#111">3</text>
<text transform="translate(158.20,202.50) scale(0.72,1)" font-family="&quot;Liberation Sans&quot;, sans-serif" font-weight="bold" font-size="6.0" text-anchor="middle" fill="#111">10</text>
<text transform="translate(160.70,199.30) scale(0.8,1)" font-family="&quot;Liberation Sans&quot;, sans-serif" font-weight="bold" font-size="5.0" fill="#111">4</text>
<path d="M28.6,191.8 L28.6,190.4 L28.7,189.7 L28.3,187.6 L28.5,186.9 L28.3,185.3 L28.7,184.9 L28.3,185.1 L28.4,187.0 L28.8,188.5 L29.1,190.0 L29.8,190.9 L30.8,189.7 L31.2,188.6 L31.7,187.8 L32.6,185.8 L32.7,185.3 L33.2,183.1 L33.6,182.5 L33.4,180.5 L33.6,179.5 L34.2,178.7 L34.2,178.1 L34.8,177.1 L34.7,176.5 L35.2,174.1 L35.4,174.2 L35.7,172.7 L35.7,170.7 L36.1,169.7 L35.8,169.4 L35.8,167.8 L35.9,167.9 L36.3,165.1 L36.5,165.3 L36.5,164.4 L36.3,162.0 L36.5,162.7 L37.0,161.7 L37.0,160.0 L37.0,157.8 L37.5,158.7 L37.4,157.3 L37.4,156.3 L37.5,154.4 L37.8,152.6 L37.6,153.2 L38.2,150.7 L38.3,151.6 L38.4,148.8 L38.2,149.5 L38.6,146.7 L38.7,147.3 L38.8,144.5 L39.0,144.2 L39.4,143.1 L39.5,140.3 L39.7,139.4 L39.9,138.0 L39.8,137.1 L40.2,137.9 L40.2,134.8 L40.4,134.3 L40.4,134.2 L40.7,130.8 L40.6,130.4 L40.8,130.5 L41.0,127.2 L41.2,127.3 L41.5,125.1 L42.1,124.7 L42.8,123.2 L42.6,126.7 L43.2,126.4 L43.5,129.3 L44.1,126.4 L45.1,127.2 L45.3,129.0 L45.5,130.2 L45.8,129.4 L46.1,130.2 L45.8,134.0 L46.5,133.2 L46.9,136.2 L46.7,136.0 L47.0,138.9 L47.3,139.9 L47.4,138.6 L47.9,141.4 L47.8,141.4 L47.9,143.8 L48.4,143.1 L48.1,145.9 L48.3,147.6 L49.1,147.7 L48.9,149.9 L49.2,149.4 L49.0,152.1 L49.2,151.7 L49.4,153.9 L49.3,155.0 L50.1,154.7 L49.6,155.6 L50.2,157.2 L50.3,158.0 L50.4,159.3 L50.5,160.5 L51.0,161.7 L50.8,163.5 L50.8,164.9 L51.3,164.4 L51.6,166.7 L51.6,168.1 L52.1,170.0 L52.5,169.8 L52.1,170.9 L52.7,172.3 L52.6,173.1 L52.8,175.5 L53.0,175.4 L53.2,176.9 L53.5,178.0 L54.3,179.7 L54.2,180.0 L54.9,181.8 L54.9,182.3 L55.2,184.3 L55.8,185.5 L56.1,185.8 L56.6,186.8 L57.7,188.1 L58.6,188.5 L59.3,189.9 L60.3,189.8 L61.4,190.3 L62.5,190.8 L63.6,191.4 L64.5,191.6 L65.7,192.1 L67.1,192.9 L69.2,192.8 L70.2,193.1 L71.5,193.2 L72.8,192.9 L74.3,193.2 L75.3,193.1 L76.5,193.2 L77.6,193.0 L78.7,193.3 L79.9,193.1 L81.0,193.3 L82.2,193.1 L83.3,193.3 L84.5,193.2 L85.6,193.4 L86.7,193.4 L87.7,193.1 L89.1,193.4 L90.6,193.4 L91.9,193.2 L93.1,193.5 L94.3,193.2 L95.5,193.2 L96.7,193.4 L97.8,193.2 L98.8,193.3 L99.8,193.2 L101.2,193.1 L102.4,193.3 L103.4,193.0 L104.0,193.2" fill="none" stroke="#111" stroke-width="1.15" stroke-linejoin="round" stroke-opacity="1.0"/>
<path d="M28.5,193.5 L29.2,192.3 L30.6,192.7 L31.9,192.1 L32.9,191.6 L34.0,189.7 L35.1,188.4 L35.3,188.6 L36.7,185.0 L36.6,185.1 L38.2,182.6 L38.4,182.4 L39.3,178.8 L39.5,180.2 L39.1,179.2 L39.9,174.6 L41.2,175.0 L41.3,172.3 L41.6,172.1 L42.5,169.1 L42.8,168.9 L43.4,165.9 L43.1,166.3 L44.4,163.0 L44.4,163.5 L44.0,158.4 L45.0,157.0 L45.7,156.6 L45.6,155.2 L45.6,154.2 L47.2,155.1 L47.2,156.3 L48.2,157.9 L49.5,153.2 L50.4,156.7 L50.6,155.8 L50.9,159.0 L51.2,157.4 L52.5,163.5 L52.0,161.1 L53.0,165.7 L52.3,166.6 L52.8,166.2 L54.4,167.3 L55.3,171.4 L55.9,170.0 L56.2,173.5 L56.3,175.2 L56.4,174.5 L57.1,178.2 L57.7,177.7 L59.7,180.6 L59.5,179.5 L61.2,181.6 L62.3,181.7 L62.8,185.7 L63.4,184.5 L63.4,188.1 L64.0,186.7 L65.5,186.5 L67.5,187.0 L68.0,188.3 L68.9,188.1 L71.0,189.1 L72.0,187.6 L74.0,188.3 L74.2,187.0 L74.5,183.4 L75.5,184.2 L76.0,181.9 L76.6,182.3 L78.6,179.7 L78.5,179.5 L79.1,175.9 L79.1,177.2 L79.8,173.6 L79.9,174.9 L81.6,173.9 L81.7,177.8 L82.0,175.6 L82.7,177.6 L83.3,173.7 L84.9,176.2 L86.2,175.8 L88.1,175.0 L89.5,176.7 L90.0,175.2 L90.2,177.5 L90.9,179.8 L91.3,179.1 L92.6,182.8 L93.1,181.8 L94.9,182.7 L95.2,186.2 L97.2,187.6 L97.9,188.6 L98.4,187.5 L100.9,189.1 L102.1,188.9 L102.4,191.4 L103.8,191.1 L105.5,192.6 L107.0,192.0 L108.8,192.8 L110.3,192.4 L111.7,193.4 L113.0,192.7 L114.7,193.5 L116.2,193.5 L117.8,193.0 L119.5,193.0 L120.7,193.0 L121.9,193.1 L123.5,192.8 L124.8,193.4 L125.4,193.4" fill="none" stroke="#000" stroke-width="2.0" stroke-linejoin="round" stroke-opacity="1.0"/>
<text x="106.5" y="159.7" font-family="&quot;Liberation Serif&quot;, serif" font-size="8.6" fill="#111" stroke="#111" stroke-width="0.3" textLength="37.2" lengthAdjust="spacingAndGlyphs">T11 (CD2)</text>
<rect x="179.6" y="123.3" width="130.70" height="70.20" fill="none" stroke="#111" stroke-width="1.05"/>
<line x1="177.40" y1="193.50" x2="179.6" y2="193.50" stroke="#111" stroke-width="0.9"/>
<line x1="178.30" y1="189.99" x2="179.6" y2="189.99" stroke="#111" stroke-width="0.9"/>
<line x1="178.30" y1="186.48" x2="179.6" y2="186.48" stroke="#111" stroke-width="0.9"/>
<line x1="178.30" y1="182.97" x2="179.6" y2="182.97" stroke="#111" stroke-width="0.9"/>
<line x1="177.40" y1="179.46" x2="179.6" y2="179.46" stroke="#111" stroke-width="0.9"/>
<line x1="178.30" y1="175.95" x2="179.6" y2="175.95" stroke="#111" stroke-width="0.9"/>
<line x1="178.30" y1="172.44" x2="179.6" y2="172.44" stroke="#111" stroke-width="0.9"/>
<line x1="178.30" y1="168.93" x2="179.6" y2="168.93" stroke="#111" stroke-width="0.9"/>
<line x1="177.40" y1="165.42" x2="179.6" y2="165.42" stroke="#111" stroke-width="0.9"/>
<line x1="178.30" y1="161.91" x2="179.6" y2="161.91" stroke="#111" stroke-width="0.9"/>
<line x1="178.30" y1="158.40" x2="179.6" y2="158.40" stroke="#111" stroke-width="0.9"/>
<line x1="178.30" y1="154.89" x2="179.6" y2="154.89" stroke="#111" stroke-width="0.9"/>
<line x1="177.40" y1="151.38" x2="179.6" y2="151.38" stroke="#111" stroke-width="0.9"/>
<line x1="178.30" y1="147.87" x2="179.6" y2="147.87" stroke="#111" stroke-width="0.9"/>
<line x1="178.30" y1="144.36" x2="179.6" y2="144.36" stroke="#111" stroke-width="0.9"/>
<line x1="178.30" y1="140.85" x2="179.6" y2="140.85" stroke="#111" stroke-width="0.9"/>
<line x1="177.40" y1="137.34" x2="179.6" y2="137.34" stroke="#111" stroke-width="0.9"/>
<line x1="178.30" y1="133.83" x2="179.6" y2="133.83" stroke="#111" stroke-width="0.9"/>
<line x1="178.30" y1="130.32" x2="179.6" y2="130.32" stroke="#111" stroke-width="0.9"/>
<line x1="178.30" y1="126.81" x2="179.6" y2="126.81" stroke="#111" stroke-width="0.9"/>
<line x1="177.40" y1="123.30" x2="179.6" y2="123.30" stroke="#111" stroke-width="0.9"/>
<text transform="translate(175.00,193.50) rotate(-90) scale(0.8,1)" font-family="&quot;Liberation Sans&quot;, sans-serif" font-weight="bold" font-size="5.8" text-anchor="middle" fill="#111">0</text>
<text transform="translate(175.00,179.46) rotate(-90) scale(0.8,1)" font-family="&quot;Liberation Sans&quot;, sans-serif" font-weight="bold" font-size="5.8" text-anchor="middle" fill="#111">20</text>
<text transform="translate(175.00,165.42) rotate(-90) scale(0.8,1)" font-family="&quot;Liberation Sans&quot;, sans-serif" font-weight="bold" font-size="5.8" text-anchor="middle" fill="#111">40</text>
<text transform="translate(175.00,151.38) rotate(-90) scale(0.8,1)" font-family="&quot;Liberation Sans&quot;, sans-serif" font-weight="bold" font-size="5.8" text-anchor="middle" fill="#111">60</text>
<text transform="translate(175.00,137.34) rotate(-90) scale(0.8,1)" font-family="&quot;Liberation Sans&quot;, sans-serif" font-weight="bold" font-size="5.8" text-anchor="middle" fill="#111">80</text>
<text transform="translate(175.00,123.30) rotate(-90) scale(0.8,1)" font-family="&quot;Liberation Sans&quot;, sans-serif" font-weight="bold" font-size="5.8" text-anchor="middle" fill="#111">100</text>
<line x1="179.60" y1="193.5" x2="179.60" y2="195.40" stroke="#111" stroke-width="0.9"/>
<line x1="189.44" y1="193.5" x2="189.44" y2="194.60" stroke="#111" stroke-width="0.9"/>
<line x1="195.19" y1="193.5" x2="195.19" y2="194.60" stroke="#111" stroke-width="0.9"/>
<line x1="199.27" y1="193.5" x2="199.27" y2="194.60" stroke="#111" stroke-width="0.9"/>
<line x1="202.44" y1="193.5" x2="202.44" y2="194.60" stroke="#111" stroke-width="0.9"/>
<line x1="205.03" y1="193.5" x2="205.03" y2="194.60" stroke="#111" stroke-width="0.9"/>
<line x1="207.21" y1="193.5" x2="207.21" y2="194.60" stroke="#111" stroke-width="0.9"/>
<line x1="209.11" y1="193.5" x2="209.11" y2="194.60" stroke="#111" stroke-width="0.9"/>
<line x1="210.78" y1="193.5" x2="210.78" y2="194.60" stroke="#111" stroke-width="0.9"/>
<line x1="212.28" y1="193.5" x2="212.28" y2="195.40" stroke="#111" stroke-width="0.9"/>
<line x1="222.11" y1="193.5" x2="222.11" y2="194.60" stroke="#111" stroke-width="0.9"/>
<line x1="227.86" y1="193.5" x2="227.86" y2="194.60" stroke="#111" stroke-width="0.9"/>
<line x1="231.95" y1="193.5" x2="231.95" y2="194.60" stroke="#111" stroke-width="0.9"/>
<line x1="235.11" y1="193.5" x2="235.11" y2="194.60" stroke="#111" stroke-width="0.9"/>
<line x1="237.70" y1="193.5" x2="237.70" y2="194.60" stroke="#111" stroke-width="0.9"/>
<line x1="239.89" y1="193.5" x2="239.89" y2="194.60" stroke="#111" stroke-width="0.9"/>
<line x1="241.78" y1="193.5" x2="241.78" y2="194.60" stroke="#111" stroke-width="0.9"/>
<line x1="243.45" y1="193.5" x2="243.45" y2="194.60" stroke="#111" stroke-width="0.9"/>
<line x1="244.95" y1="193.5" x2="244.95" y2="195.40" stroke="#111" stroke-width="0.9"/>
<line x1="254.79" y1="193.5" x2="254.79" y2="194.60" stroke="#111" stroke-width="0.9"/>
<line x1="260.54" y1="193.5" x2="260.54" y2="194.60" stroke="#111" stroke-width="0.9"/>
<line x1="264.62" y1="193.5" x2="264.62" y2="194.60" stroke="#111" stroke-width="0.9"/>
<line x1="267.79" y1="193.5" x2="267.79" y2="194.60" stroke="#111" stroke-width="0.9"/>
<line x1="270.38" y1="193.5" x2="270.38" y2="194.60" stroke="#111" stroke-width="0.9"/>
<line x1="272.56" y1="193.5" x2="272.56" y2="194.60" stroke="#111" stroke-width="0.9"/>
<line x1="274.46" y1="193.5" x2="274.46" y2="194.60" stroke="#111" stroke-width="0.9"/>
<line x1="276.13" y1="193.5" x2="276.13" y2="194.60" stroke="#111" stroke-width="0.9"/>
<line x1="277.62" y1="193.5" x2="277.62" y2="195.40" stroke="#111" stroke-width="0.9"/>
<line x1="287.46" y1="193.5" x2="287.46" y2="194.60" stroke="#111" stroke-width="0.9"/>
<line x1="293.21" y1="193.5" x2="293.21" y2="194.60" stroke="#111" stroke-width="0.9"/>
<line x1="297.30" y1="193.5" x2="297.30" y2="194.60" stroke="#111" stroke-width="0.9"/>
<line x1="300.46" y1="193.5" x2="300.46" y2="194.60" stroke="#111" stroke-width="0.9"/>
<line x1="303.05" y1="193.5" x2="303.05" y2="194.60" stroke="#111" stroke-width="0.9"/>
<line x1="305.24" y1="193.5" x2="305.24" y2="194.60" stroke="#111" stroke-width="0.9"/>
<line x1="307.13" y1="193.5" x2="307.13" y2="194.60" stroke="#111" stroke-width="0.9"/>
<line x1="308.80" y1="193.5" x2="308.80" y2="194.60" stroke="#111" stroke-width="0.9"/>
<line x1="310.30" y1="193.5" x2="310.30" y2="195.40" stroke="#111" stroke-width="0.9"/>
<text transform="translate(178.70,202.50) scale(0.72,1)" font-family="&quot;Liberation Sans&quot;, sans-serif" font-weight="bold" font-size="6.0" text-anchor="middle" fill="#111">10</text>
<text transform="translate(181.20,199.30) scale(0.8,1)" font-family="&quot;Liberation Sans&quot;, sans-serif" font-weight="bold" font-size="5.0" fill="#111">0</text>
<text transform="translate(211.38,202.50) scale(0.72,1)" font-family="&quot;Liberation Sans&quot;, sans-serif" font-weight="bold" font-size="6.0" text-anchor="middle" fill="#111">10</text>
<text transform="translate(213.88,199.30) scale(0.8,1)" font-family="&quot;Liberation Sans&quot;, sans-serif" font-weight="bold" font-size="5.0" fill="#111">1</text>
<text transform="translate(244.05,202.50) scale(0.72,1)" font-family="&quot;Liberation Sans&quot;, sans-serif" font-weight="bold" font-size="6.0" text-anchor="middle" fill="#111">10</text>
<text transform="translate(246.55,199.30) scale(0.8,1)" font-family="&quot;Liberation Sans&quot;, sans-serif" font-weight="bold" font-size="5.0" fill="#111">2</text>
<text transform="translate(276.73,202.50) scale(0.72,1)" font-family="&quot;Liberation Sans&quot;, sans-serif" font-weight="bold" font-size="6.0" text-anchor="middle" fill="#111">10</text>
<text transform="translate(279.23,199.30) scale(0.8,1)" font-family="&quot;Liberation Sans&quot;, sans-serif" font-weight="bold" font-size="5.0" fill="#111">3</text>
<text transform="translate(309.40,202.50) scale(0.72,1)" font-family="&quot;Liberation Sans&quot;, sans-serif" font-weight="bold" font-size="6.0" text-anchor="middle" fill="#111">10</text>
<text transform="translate(311.90,199.30) scale(0.8,1)" font-family="&quot;Liberation Sans&quot;, sans-serif" font-weight="bold" font-size="5.0" fill="#111">4</text>
<path d="M180.0,193.2 L180.7,192.2 L181.9,191.4 L183.0,191.3 L184.1,190.6 L185.4,190.8 L186.4,189.9 L187.1,190.0 L188.0,189.0 L189.0,188.4 L190.0,188.2 L190.6,187.3 L191.5,187.0 L192.3,185.6 L192.9,184.7 L193.9,184.5 L194.6,183.4 L195.0,181.9 L195.1,181.6 L196.1,179.7 L196.8,178.9 L197.2,178.9 L198.0,178.2 L198.9,176.6 L199.7,176.6 L200.2,174.7 L200.5,174.5 L201.5,172.7 L201.8,171.9 L202.2,170.8 L202.8,168.7 L202.9,168.1 L203.6,168.2 L203.5,166.1 L204.1,165.9 L204.4,164.2 L205.1,164.0 L205.3,161.8 L205.9,161.6 L206.2,161.3 L206.1,158.8 L206.4,158.6 L207.0,157.0 L207.5,156.1 L207.9,154.3 L208.4,153.1 L209.2,153.1 L210.4,150.7 L210.8,152.5 L211.5,152.7 L211.7,154.0 L212.1,154.8 L212.7,157.0 L213.2,159.1 L213.1,158.8 L213.8,159.9 L214.1,162.2 L214.5,164.1 L214.4,165.1 L214.5,164.9 L214.9,166.8 L215.3,166.5 L216.0,167.9 L215.8,170.2 L216.4,170.5 L216.5,171.1 L216.7,173.9 L217.6,173.9 L217.5,175.2 L218.2,176.3 L218.2,177.3 L218.4,178.1 L219.2,179.9 L219.4,180.9 L219.5,182.5 L219.7,182.9 L220.4,183.7 L221.0,184.9 L221.1,186.3 L222.2,187.9 L222.8,188.3 L223.9,189.0 L224.8,190.1 L225.8,190.5 L226.9,190.8 L228.2,191.2 L229.4,191.0 L230.5,191.4 L231.7,191.1 L233.2,191.5 L234.3,191.6 L235.4,191.7 L236.5,191.1 L237.7,191.5 L238.9,191.0 L239.9,191.0 L241.4,191.6 L242.8,191.1 L243.7,191.3 L245.0,190.9 L246.0,191.4 L247.2,190.7 L248.1,191.3 L249.3,190.6 L250.2,191.1 L251.2,190.8 L252.3,190.8 L253.6,190.9 L254.9,190.6 L256.4,190.5 L257.2,191.0 L258.3,191.0 L259.9,190.6 L261.4,191.1 L262.5,190.8 L264.0,191.4 L265.5,190.9 L267.0,191.3 L268.3,191.8 L269.8,191.5 L271.1,192.0 L272.1,192.0 L273.2,192.3 L274.4,192.0 L275.4,192.4 L276.7,192.3 L278.1,192.3 L279.6,192.8 L280.7,192.8 L281.7,192.8 L282.8,192.5 L283.8,192.6 L284.9,192.9 L286.0,192.8 L287.0,193.0 L288.0,193.1 L289.0,192.9 L290.5,193.1 L291.6,192.8 L292.8,193.1 L293.9,193.0 L295.1,193.2 L296.2,193.0 L297.4,193.2 L298.5,193.1 L299.6,193.3 L300.6,193.3 L301.9,193.3 L303.1,193.2 L304.0,193.2" fill="none" stroke="#111" stroke-width="1.15" stroke-linejoin="round" stroke-opacity="1.0"/>
<path d="M180.0,192.8 L181.2,192.8 L182.5,192.4 L183.8,192.8 L185.2,191.5 L186.9,192.0 L188.5,190.7 L190.4,191.4 L191.5,189.8 L193.2,190.4 L194.8,188.5 L195.4,189.0 L196.8,188.8 L198.8,188.1 L199.6,186.9 L201.5,185.7 L202.6,183.0 L203.5,181.6 L204.5,182.2 L206.0,180.0 L205.9,180.4 L207.0,177.4 L207.9,177.3 L208.4,176.8 L209.8,173.0 L210.7,171.6 L211.6,171.5 L211.8,169.2 L212.5,170.1 L213.4,166.2 L214.4,168.4 L216.3,168.2 L217.1,172.1 L216.5,171.1 L218.1,174.2 L217.7,172.3 L219.6,174.9 L220.3,178.8 L220.4,179.5 L221.2,180.7 L222.8,180.0 L224.0,182.7 L224.9,183.0 L226.0,183.5 L226.8,186.3 L227.8,185.8 L229.9,186.4 L230.7,188.4 L232.7,187.2 L233.2,189.5 L235.5,188.1 L236.9,189.0 L238.8,189.4 L239.6,188.6 L241.2,186.5 L242.8,186.0 L244.0,187.5 L243.9,184.1 L246.1,185.9 L247.5,184.2 L249.1,183.7 L250.1,183.0 L251.0,184.5 L252.2,181.5 L253.2,183.4 L255.0,181.1 L256.4,182.0 L258.0,181.1 L259.6,183.3 L260.0,184.4 L262.4,184.9 L263.7,183.6 L264.9,186.6 L266.2,187.7 L267.4,186.5 L268.9,188.9 L269.4,190.1 L271.4,189.0 L273.1,190.8 L274.1,191.8 L275.8,192.3 L277.0,191.6 L278.4,192.7 L280.1,192.3 L281.6,193.2 L283.0,192.6 L284.5,193.3 L286.1,193.3 L287.8,192.8 L289.5,193.4 L291.0,193.5 L292.7,193.5 L293.8,193.0 L295.0,193.5 L296.7,193.5 L298.2,192.7 L299.4,192.7 L300.0,192.9" fill="none" stroke="#000" stroke-width="2.0" stroke-linejoin="round" stroke-opacity="1.0"/>
<text x="256.6" y="159.5" font-family="&quot;Liberation Serif&quot;, serif" font-size="8.6" fill="#111" stroke="#111" stroke-width="0.3" textLength="48.0" lengthAdjust="spacingAndGlyphs">39C1.5 (CD2)</text>
<rect x="28.9" y="214.7" width="130.30" height="70.30" fill="none" stroke="#111" stroke-width="1.05"/>
<line x1="26.70" y1="285.00" x2="28.9" y2="285.00" stroke="#111" stroke-width="0.9"/>
<line x1="27.60" y1="281.49" x2="28.9" y2="281.49" stroke="#111" stroke-width="0.9"/>
<line x1="27.60" y1="277.97" x2="28.9" y2="277.97" stroke="#111" stroke-width="0.9"/>
<line x1="27.60" y1="274.45" x2="28.9" y2="274.45" stroke="#111" stroke-width="0.9"/>
<line x1="26.70" y1="270.94" x2="28.9" y2="270.94" stroke="#111" stroke-width="0.9"/>
<line x1="27.60" y1="267.43" x2="28.9" y2="267.43" stroke="#111" stroke-width="0.9"/>
<line x1="27.60" y1="263.91" x2="28.9" y2="263.91" stroke="#111" stroke-width="0.9"/>
<line x1="27.60" y1="260.39" x2="28.9" y2="260.39" stroke="#111" stroke-width="0.9"/>
<line x1="26.70" y1="256.88" x2="28.9" y2="256.88" stroke="#111" stroke-width="0.9"/>
<line x1="27.60" y1="253.37" x2="28.9" y2="253.37" stroke="#111" stroke-width="0.9"/>
<line x1="27.60" y1="249.85" x2="28.9" y2="249.85" stroke="#111" stroke-width="0.9"/>
<line x1="27.60" y1="246.33" x2="28.9" y2="246.33" stroke="#111" stroke-width="0.9"/>
<line x1="26.70" y1="242.82" x2="28.9" y2="242.82" stroke="#111" stroke-width="0.9"/>
<line x1="27.60" y1="239.31" x2="28.9" y2="239.31" stroke="#111" stroke-width="0.9"/>
<line x1="27.60" y1="235.79" x2="28.9" y2="235.79" stroke="#111" stroke-width="0.9"/>
<line x1="27.60" y1="232.27" x2="28.9" y2="232.27" stroke="#111" stroke-width="0.9"/>
<line x1="26.70" y1="228.76" x2="28.9" y2="228.76" stroke="#111" stroke-width="0.9"/>
<line x1="27.60" y1="225.25" x2="28.9" y2="225.25" stroke="#111" stroke-width="0.9"/>
<line x1="27.60" y1="221.73" x2="28.9" y2="221.73" stroke="#111" stroke-width="0.9"/>
<line x1="27.60" y1="218.21" x2="28.9" y2="218.21" stroke="#111" stroke-width="0.9"/>
<line x1="26.70" y1="214.70" x2="28.9" y2="214.70" stroke="#111" stroke-width="0.9"/>
<text transform="translate(24.30,285.00) rotate(-90) scale(0.8,1)" font-family="&quot;Liberation Sans&quot;, sans-serif" font-weight="bold" font-size="5.8" text-anchor="middle" fill="#111">0</text>
<text transform="translate(24.30,270.94) rotate(-90) scale(0.8,1)" font-family="&quot;Liberation Sans&quot;, sans-serif" font-weight="bold" font-size="5.8" text-anchor="middle" fill="#111">20</text>
<text transform="translate(24.30,256.88) rotate(-90) scale(0.8,1)" font-family="&quot;Liberation Sans&quot;, sans-serif" font-weight="bold" font-size="5.8" text-anchor="middle" fill="#111">40</text>
<text transform="translate(24.30,242.82) rotate(-90) scale(0.8,1)" font-family="&quot;Liberation Sans&quot;, sans-serif" font-weight="bold" font-size="5.8" text-anchor="middle" fill="#111">60</text>
<text transform="translate(24.30,228.76) rotate(-90) scale(0.8,1)" font-family="&quot;Liberation Sans&quot;, sans-serif" font-weight="bold" font-size="5.8" text-anchor="middle" fill="#111">80</text>
<text transform="translate(24.30,214.70) rotate(-90) scale(0.8,1)" font-family="&quot;Liberation Sans&quot;, sans-serif" font-weight="bold" font-size="5.8" text-anchor="middle" fill="#111">100</text>
<line x1="28.90" y1="285.0" x2="28.90" y2="286.90" stroke="#111" stroke-width="0.9"/>
<line x1="38.71" y1="285.0" x2="38.71" y2="286.10" stroke="#111" stroke-width="0.9"/>
<line x1="44.44" y1="285.0" x2="44.44" y2="286.10" stroke="#111" stroke-width="0.9"/>
<line x1="48.51" y1="285.0" x2="48.51" y2="286.10" stroke="#111" stroke-width="0.9"/>
<line x1="51.67" y1="285.0" x2="51.67" y2="286.10" stroke="#111" stroke-width="0.9"/>
<line x1="54.25" y1="285.0" x2="54.25" y2="286.10" stroke="#111" stroke-width="0.9"/>
<line x1="56.43" y1="285.0" x2="56.43" y2="286.10" stroke="#111" stroke-width="0.9"/>
<line x1="58.32" y1="285.0" x2="58.32" y2="286.10" stroke="#111" stroke-width="0.9"/>
<line x1="59.98" y1="285.0" x2="59.98" y2="286.10" stroke="#111" stroke-width="0.9"/>
<line x1="61.47" y1="285.0" x2="61.47" y2="286.90" stroke="#111" stroke-width="0.9"/>
<line x1="71.28" y1="285.0" x2="71.28" y2="286.10" stroke="#111" stroke-width="0.9"/>
<line x1="77.02" y1="285.0" x2="77.02" y2="286.10" stroke="#111" stroke-width="0.9"/>
<line x1="81.09" y1="285.0" x2="81.09" y2="286.10" stroke="#111" stroke-width="0.9"/>
<line x1="84.24" y1="285.0" x2="84.24" y2="286.10" stroke="#111" stroke-width="0.9"/>
<line x1="86.82" y1="285.0" x2="86.82" y2="286.10" stroke="#111" stroke-width="0.9"/>
<line x1="89.00" y1="285.0" x2="89.00" y2="286.10" stroke="#111" stroke-width="0.9"/>
<line x1="90.89" y1="285.0" x2="90.89" y2="286.10" stroke="#111" stroke-width="0.9"/>
<line x1="92.56" y1="285.0" x2="92.56" y2="286.10" stroke="#111" stroke-width="0.9"/>
<line x1="94.05" y1="285.0" x2="94.05" y2="286.90" stroke="#111" stroke-width="0.9"/>
<line x1="103.86" y1="285.0" x2="103.86" y2="286.10" stroke="#111" stroke-width="0.9"/>
<line x1="109.59" y1="285.0" x2="109.59" y2="286.10" stroke="#111" stroke-width="0.9"/>
<line x1="113.66" y1="285.0" x2="113.66" y2="286.10" stroke="#111" stroke-width="0.9"/>
<line x1="116.82" y1="285.0" x2="116.82" y2="286.10" stroke="#111" stroke-width="0.9"/>
<line x1="119.40" y1="285.0" x2="119.40" y2="286.10" stroke="#111" stroke-width="0.9"/>
<line x1="121.58" y1="285.0" x2="121.58" y2="286.10" stroke="#111" stroke-width="0.9"/>
<line x1="123.47" y1="285.0" x2="123.47" y2="286.10" stroke="#111" stroke-width="0.9"/>
<line x1="125.13" y1="285.0" x2="125.13" y2="286.10" stroke="#111" stroke-width="0.9"/>
<line x1="126.62" y1="285.0" x2="126.62" y2="286.90" stroke="#111" stroke-width="0.9"/>
<line x1="136.43" y1="285.0" x2="136.43" y2="286.10" stroke="#111" stroke-width="0.9"/>
<line x1="142.17" y1="285.0" x2="142.17" y2="286.10" stroke="#111" stroke-width="0.9"/>
<line x1="146.24" y1="285.0" x2="146.24" y2="286.10" stroke="#111" stroke-width="0.9"/>
<line x1="149.39" y1="285.0" x2="149.39" y2="286.10" stroke="#111" stroke-width="0.9"/>
<line x1="151.97" y1="285.0" x2="151.97" y2="286.10" stroke="#111" stroke-width="0.9"/>
<line x1="154.15" y1="285.0" x2="154.15" y2="286.10" stroke="#111" stroke-width="0.9"/>
<line x1="156.04" y1="285.0" x2="156.04" y2="286.10" stroke="#111" stroke-width="0.9"/>
<line x1="157.71" y1="285.0" x2="157.71" y2="286.10" stroke="#111" stroke-width="0.9"/>
<line x1="159.20" y1="285.0" x2="159.20" y2="286.90" stroke="#111" stroke-width="0.9"/>
<text transform="translate(28.00,294.00) scale(0.72,1)" font-family="&quot;Liberation Sans&quot;, sans-serif" font-weight="bold" font-size="6.0" text-anchor="middle" fill="#111">10</text>
<text transform="translate(30.50,290.80) scale(0.8,1)" font-family="&quot;Liberation Sans&quot;, sans-serif" font-weight="bold" font-size="5.0" fill="#111">0</text>
<text transform="translate(60.57,294.00) scale(0.72,1)" font-family="&quot;Liberation Sans&quot;, sans-serif" font-weight="bold" font-size="6.0" text-anchor="middle" fill="#111">10</text>
<text transform="translate(63.07,290.80) scale(0.8,1)" font-family="&quot;Liberation Sans&quot;, sans-serif" font-weight="bold" font-size="5.0" fill="#111">1</text>
<text transform="translate(93.15,294.00) scale(0.72,1)" font-family="&quot;Liberation Sans&quot;, sans-serif" font-weight="bold" font-size="6.0" text-anchor="middle" fill="#111">10</text>
<text transform="translate(95.65,290.80) scale(0.8,1)" font-family="&quot;Liberation Sans&quot;, sans-serif" font-weight="bold" font-size="5.0" fill="#111">2</text>
<text transform="translate(125.72,294.00) scale(0.72,1)" font-family="&quot;Liberation Sans&quot;, sans-serif" font-weight="bold" font-size="6.0" text-anchor="middle" fill="#111">10</text>
<text transform="translate(128.22,290.80) scale(0.8,1)" font-family="&quot;Liberation Sans&quot;, sans-serif" font-weight="bold" font-size="5.0" fill="#111">3</text>
<text transform="translate(158.30,294.00) scale(0.72,1)" font-family="&quot;Liberation Sans&quot;, sans-serif" font-weight="bold" font-size="6.0" text-anchor="middle" fill="#111">10</text>
<text transform="translate(160.80,290.80) scale(0.8,1)" font-family="&quot;Liberation Sans&quot;, sans-serif" font-weight="bold" font-size="5.0" fill="#111">4</text>
<path d="M29.1,282.8 L29.2,281.6 L29.2,280.3 L29.1,279.2 L29.4,278.2 L28.9,277.3 L29.3,279.3 L29.3,280.6 L29.5,281.3 L30.4,281.2 L31.4,280.3 L32.5,279.0 L32.5,277.8 L32.9,276.4 L33.4,275.0 L34.0,274.1 L33.7,272.5 L33.9,271.7 L34.4,269.8 L34.4,269.8 L35.0,267.9 L35.1,266.8 L35.1,266.1 L35.3,265.3 L35.6,263.9 L35.8,261.4 L36.3,261.2 L36.4,259.2 L36.2,259.1 L36.1,258.2 L36.5,257.0 L36.5,255.0 L36.5,255.2 L37.1,253.7 L37.2,253.1 L37.1,250.7 L37.2,251.5 L37.3,248.5 L37.8,248.8 L38.0,247.1 L38.1,247.4 L37.6,245.1 L38.1,244.8 L37.9,243.8 L38.0,241.8 L38.1,242.0 L38.7,239.3 L38.4,240.2 L39.0,239.1 L38.6,236.4 L39.2,236.1 L39.0,233.6 L39.3,233.9 L39.3,231.8 L39.7,232.5 L40.1,230.5 L40.0,230.0 L39.8,227.0 L40.1,228.0 L40.2,226.7 L40.7,223.7 L41.0,223.5 L41.0,220.5 L41.6,219.3 L41.8,218.8 L42.0,219.1 L42.5,216.5 L43.0,217.3 L43.1,217.4 L43.9,219.0 L44.3,221.5 L44.8,220.1 L44.7,216.9 L45.2,217.9 L46.1,220.0 L46.2,221.4 L46.1,221.0 L46.3,223.6 L46.6,223.9 L46.6,225.1 L46.9,226.5 L47.1,227.4 L47.3,229.8 L47.7,231.5 L47.9,232.5 L47.5,233.6 L48.0,233.0 L48.3,235.1 L48.1,235.2 L48.4,237.5 L48.5,237.7 L48.8,240.0 L49.0,239.7 L49.0,242.4 L49.4,241.9 L49.2,242.8 L49.2,245.2 L49.9,245.1 L49.8,247.6 L49.8,246.9 L49.9,249.5 L50.1,250.5 L50.7,251.0 L50.6,251.6 L50.5,252.8 L50.8,254.9 L50.9,254.9 L51.3,257.3 L51.1,256.8 L51.7,259.2 L51.6,260.6 L52.1,260.8 L52.4,262.8 L52.4,263.0 L52.3,264.5 L52.5,265.2 L53.0,267.1 L52.9,268.1 L53.6,268.5 L53.8,269.6 L54.1,271.7 L54.3,272.4 L54.8,273.5 L54.7,274.7 L55.6,275.7 L56.3,277.8 L56.9,278.1 L57.5,279.5 L58.1,280.0 L58.9,281.3 L60.6,281.3 L61.7,282.3 L63.0,282.3 L64.1,283.0 L65.3,282.9 L66.4,283.6 L67.9,283.8 L69.2,284.1 L70.3,284.0 L71.5,284.2 L72.8,284.3 L74.3,284.2 L75.3,284.5 L76.4,284.2 L77.6,284.4 L78.7,284.1 L79.9,284.5 L81.1,284.4 L82.2,284.5 L83.3,284.6 L84.5,284.3 L85.6,284.4 L86.7,284.7 L87.7,284.7 L89.1,284.7 L90.6,284.7 L91.9,284.5 L93.1,284.5 L94.3,284.8 L95.5,284.6 L96.7,284.7 L97.7,284.5 L98.8,284.8 L99.8,284.7 L101.2,284.9 L102.4,284.9 L103.4,284.6 L104.0,284.8" fill="none" stroke="#111" stroke-width="1.15" stroke-linejoin="round" stroke-opacity="1.0"/>
<path d="M29.2,284.5 L29.3,284.2 L30.6,282.8 L32.0,283.1 L33.1,282.3 L33.8,280.6 L35.0,280.6 L35.9,278.3 L36.4,275.9 L36.5,276.0 L37.3,275.0 L38.1,273.6 L38.6,271.0 L38.5,269.2 L39.3,268.7 L39.7,268.2 L40.1,266.0 L39.9,262.3 L40.4,261.6 L41.1,258.6 L41.2,260.2 L41.5,257.1 L42.6,257.6 L42.9,257.3 L42.8,252.8 L44.2,251.7 L45.6,253.4 L46.9,248.7 L48.3,251.2 L47.7,246.6 L49.1,248.8 L50.2,246.9 L50.5,250.6 L50.4,252.3 L51.0,250.9 L51.9,254.3 L52.3,256.1 L52.8,254.8 L53.9,255.6 L55.1,260.6 L55.5,259.4 L56.3,263.1 L57.4,264.2 L58.3,265.6 L57.9,267.8 L59.8,269.0 L60.0,269.8 L61.1,269.3 L60.6,272.8 L61.4,273.0 L62.5,273.2 L63.5,274.9 L64.3,277.9 L65.2,277.1 L66.4,279.3 L67.9,280.8 L68.3,279.7 L70.2,280.8 L70.7,280.2 L71.9,277.7 L73.1,278.3 L74.3,277.2 L75.4,274.2 L75.8,272.2 L77.4,270.5 L77.8,270.2 L77.8,268.8 L79.1,269.6 L79.9,266.9 L82.0,267.9 L82.6,263.5 L82.8,266.0 L83.1,267.7 L85.0,263.5 L86.0,265.7 L86.1,265.8 L87.3,265.6 L87.8,266.3 L88.4,269.4 L88.0,271.7 L89.0,272.5 L89.9,271.8 L91.5,275.6 L92.6,274.3 L93.2,278.2 L93.4,277.5 L93.8,279.9 L95.5,280.6 L96.8,280.2 L97.6,282.6 L99.4,282.5 L100.6,283.7 L102.2,283.6 L103.5,284.6 L104.9,284.1 L106.5,284.9 L107.8,285.0 L109.4,285.0 L110.9,284.2 L112.6,285.0 L113.8,284.3 L115.0,285.0 L116.6,284.2 L117.9,285.0 L118.5,284.3" fill="none" stroke="#000" stroke-width="2.0" stroke-linejoin="round" stroke-opacity="1.0"/>
<text x="98.7" y="252.1" font-family="&quot;Liberation Serif&quot;, serif" font-size="8.6" fill="#111" stroke="#111" stroke-width="0.3" textLength="56.4" lengthAdjust="spacingAndGlyphs">RPA-2.10 (CD2)</text>
<rect x="179.9" y="214.7" width="130.60" height="70.30" fill="none" stroke="#111" stroke-width="1.05"/>
<line x1="177.70" y1="285.00" x2="179.9" y2="285.00" stroke="#111" stroke-width="0.9"/>
<line x1="178.60" y1="281.49" x2="179.9" y2="281.49" stroke="#111" stroke-width="0.9"/>
<line x1="178.60" y1="277.97" x2="179.9" y2="277.97" stroke="#111" stroke-width="0.9"/>
<line x1="178.60" y1="274.45" x2="179.9" y2="274.45" stroke="#111" stroke-width="0.9"/>
<line x1="177.70" y1="270.94" x2="179.9" y2="270.94" stroke="#111" stroke-width="0.9"/>
<line x1="178.60" y1="267.43" x2="179.9" y2="267.43" stroke="#111" stroke-width="0.9"/>
<line x1="178.60" y1="263.91" x2="179.9" y2="263.91" stroke="#111" stroke-width="0.9"/>
<line x1="178.60" y1="260.39" x2="179.9" y2="260.39" stroke="#111" stroke-width="0.9"/>
<line x1="177.70" y1="256.88" x2="179.9" y2="256.88" stroke="#111" stroke-width="0.9"/>
<line x1="178.60" y1="253.37" x2="179.9" y2="253.37" stroke="#111" stroke-width="0.9"/>
<line x1="178.60" y1="249.85" x2="179.9" y2="249.85" stroke="#111" stroke-width="0.9"/>
<line x1="178.60" y1="246.33" x2="179.9" y2="246.33" stroke="#111" stroke-width="0.9"/>
<line x1="177.70" y1="242.82" x2="179.9" y2="242.82" stroke="#111" stroke-width="0.9"/>
<line x1="178.60" y1="239.31" x2="179.9" y2="239.31" stroke="#111" stroke-width="0.9"/>
<line x1="178.60" y1="235.79" x2="179.9" y2="235.79" stroke="#111" stroke-width="0.9"/>
<line x1="178.60" y1="232.27" x2="179.9" y2="232.27" stroke="#111" stroke-width="0.9"/>
<line x1="177.70" y1="228.76" x2="179.9" y2="228.76" stroke="#111" stroke-width="0.9"/>
<line x1="178.60" y1="225.25" x2="179.9" y2="225.25" stroke="#111" stroke-width="0.9"/>
<line x1="178.60" y1="221.73" x2="179.9" y2="221.73" stroke="#111" stroke-width="0.9"/>
<line x1="178.60" y1="218.21" x2="179.9" y2="218.21" stroke="#111" stroke-width="0.9"/>
<line x1="177.70" y1="214.70" x2="179.9" y2="214.70" stroke="#111" stroke-width="0.9"/>
<text transform="translate(175.30,285.00) rotate(-90) scale(0.8,1)" font-family="&quot;Liberation Sans&quot;, sans-serif" font-weight="bold" font-size="5.8" text-anchor="middle" fill="#111">0</text>
<text transform="translate(175.30,270.94) rotate(-90) scale(0.8,1)" font-family="&quot;Liberation Sans&quot;, sans-serif" font-weight="bold" font-size="5.8" text-anchor="middle" fill="#111">20</text>
<text transform="translate(175.30,256.88) rotate(-90) scale(0.8,1)" font-family="&quot;Liberation Sans&quot;, sans-serif" font-weight="bold" font-size="5.8" text-anchor="middle" fill="#111">40</text>
<text transform="translate(175.30,242.82) rotate(-90) scale(0.8,1)" font-family="&quot;Liberation Sans&quot;, sans-serif" font-weight="bold" font-size="5.8" text-anchor="middle" fill="#111">60</text>
<text transform="translate(175.30,228.76) rotate(-90) scale(0.8,1)" font-family="&quot;Liberation Sans&quot;, sans-serif" font-weight="bold" font-size="5.8" text-anchor="middle" fill="#111">80</text>
<text transform="translate(175.30,214.70) rotate(-90) scale(0.8,1)" font-family="&quot;Liberation Sans&quot;, sans-serif" font-weight="bold" font-size="5.8" text-anchor="middle" fill="#111">100</text>
<line x1="179.90" y1="285.0" x2="179.90" y2="286.90" stroke="#111" stroke-width="0.9"/>
<line x1="189.73" y1="285.0" x2="189.73" y2="286.10" stroke="#111" stroke-width="0.9"/>
<line x1="195.48" y1="285.0" x2="195.48" y2="286.10" stroke="#111" stroke-width="0.9"/>
<line x1="199.56" y1="285.0" x2="199.56" y2="286.10" stroke="#111" stroke-width="0.9"/>
<line x1="202.72" y1="285.0" x2="202.72" y2="286.10" stroke="#111" stroke-width="0.9"/>
<line x1="205.31" y1="285.0" x2="205.31" y2="286.10" stroke="#111" stroke-width="0.9"/>
<line x1="207.49" y1="285.0" x2="207.49" y2="286.10" stroke="#111" stroke-width="0.9"/>
<line x1="209.39" y1="285.0" x2="209.39" y2="286.10" stroke="#111" stroke-width="0.9"/>
<line x1="211.06" y1="285.0" x2="211.06" y2="286.10" stroke="#111" stroke-width="0.9"/>
<line x1="212.55" y1="285.0" x2="212.55" y2="286.90" stroke="#111" stroke-width="0.9"/>
<line x1="222.38" y1="285.0" x2="222.38" y2="286.10" stroke="#111" stroke-width="0.9"/>
<line x1="228.13" y1="285.0" x2="228.13" y2="286.10" stroke="#111" stroke-width="0.9"/>
<line x1="232.21" y1="285.0" x2="232.21" y2="286.10" stroke="#111" stroke-width="0.9"/>
<line x1="235.37" y1="285.0" x2="235.37" y2="286.10" stroke="#111" stroke-width="0.9"/>
<line x1="237.96" y1="285.0" x2="237.96" y2="286.10" stroke="#111" stroke-width="0.9"/>
<line x1="240.14" y1="285.0" x2="240.14" y2="286.10" stroke="#111" stroke-width="0.9"/>
<line x1="242.04" y1="285.0" x2="242.04" y2="286.10" stroke="#111" stroke-width="0.9"/>
<line x1="243.71" y1="285.0" x2="243.71" y2="286.10" stroke="#111" stroke-width="0.9"/>
<line x1="245.20" y1="285.0" x2="245.20" y2="286.90" stroke="#111" stroke-width="0.9"/>
<line x1="255.03" y1="285.0" x2="255.03" y2="286.10" stroke="#111" stroke-width="0.9"/>
<line x1="260.78" y1="285.0" x2="260.78" y2="286.10" stroke="#111" stroke-width="0.9"/>
<line x1="264.86" y1="285.0" x2="264.86" y2="286.10" stroke="#111" stroke-width="0.9"/>
<line x1="268.02" y1="285.0" x2="268.02" y2="286.10" stroke="#111" stroke-width="0.9"/>
<line x1="270.61" y1="285.0" x2="270.61" y2="286.10" stroke="#111" stroke-width="0.9"/>
<line x1="272.79" y1="285.0" x2="272.79" y2="286.10" stroke="#111" stroke-width="0.9"/>
<line x1="274.69" y1="285.0" x2="274.69" y2="286.10" stroke="#111" stroke-width="0.9"/>
<line x1="276.36" y1="285.0" x2="276.36" y2="286.10" stroke="#111" stroke-width="0.9"/>
<line x1="277.85" y1="285.0" x2="277.85" y2="286.90" stroke="#111" stroke-width="0.9"/>
<line x1="287.68" y1="285.0" x2="287.68" y2="286.10" stroke="#111" stroke-width="0.9"/>
<line x1="293.43" y1="285.0" x2="293.43" y2="286.10" stroke="#111" stroke-width="0.9"/>
<line x1="297.51" y1="285.0" x2="297.51" y2="286.10" stroke="#111" stroke-width="0.9"/>
<line x1="300.67" y1="285.0" x2="300.67" y2="286.10" stroke="#111" stroke-width="0.9"/>
<line x1="303.26" y1="285.0" x2="303.26" y2="286.10" stroke="#111" stroke-width="0.9"/>
<line x1="305.44" y1="285.0" x2="305.44" y2="286.10" stroke="#111" stroke-width="0.9"/>
<line x1="307.34" y1="285.0" x2="307.34" y2="286.10" stroke="#111" stroke-width="0.9"/>
<line x1="309.01" y1="285.0" x2="309.01" y2="286.10" stroke="#111" stroke-width="0.9"/>
<line x1="310.50" y1="285.0" x2="310.50" y2="286.90" stroke="#111" stroke-width="0.9"/>
<text transform="translate(179.00,294.00) scale(0.72,1)" font-family="&quot;Liberation Sans&quot;, sans-serif" font-weight="bold" font-size="6.0" text-anchor="middle" fill="#111">10</text>
<text transform="translate(181.50,290.80) scale(0.8,1)" font-family="&quot;Liberation Sans&quot;, sans-serif" font-weight="bold" font-size="5.0" fill="#111">0</text>
<text transform="translate(211.65,294.00) scale(0.72,1)" font-family="&quot;Liberation Sans&quot;, sans-serif" font-weight="bold" font-size="6.0" text-anchor="middle" fill="#111">10</text>
<text transform="translate(214.15,290.80) scale(0.8,1)" font-family="&quot;Liberation Sans&quot;, sans-serif" font-weight="bold" font-size="5.0" fill="#111">1</text>
<text transform="translate(244.30,294.00) scale(0.72,1)" font-family="&quot;Liberation Sans&quot;, sans-serif" font-weight="bold" font-size="6.0" text-anchor="middle" fill="#111">10</text>
<text transform="translate(246.80,290.80) scale(0.8,1)" font-family="&quot;Liberation Sans&quot;, sans-serif" font-weight="bold" font-size="5.0" fill="#111">2</text>
<text transform="translate(276.95,294.00) scale(0.72,1)" font-family="&quot;Liberation Sans&quot;, sans-serif" font-weight="bold" font-size="6.0" text-anchor="middle" fill="#111">10</text>
<text transform="translate(279.45,290.80) scale(0.8,1)" font-family="&quot;Liberation Sans&quot;, sans-serif" font-weight="bold" font-size="5.0" fill="#111">3</text>
<text transform="translate(309.60,294.00) scale(0.72,1)" font-family="&quot;Liberation Sans&quot;, sans-serif" font-weight="bold" font-size="6.0" text-anchor="middle" fill="#111">10</text>
<text transform="translate(312.10,290.80) scale(0.8,1)" font-family="&quot;Liberation Sans&quot;, sans-serif" font-weight="bold" font-size="5.0" fill="#111">4</text>
<path d="M180.3,282.8 L180.2,282.0 L180.3,280.4 L180.1,279.2 L180.3,278.4 L180.5,276.0 L180.0,275.7 L179.9,273.9 L179.9,273.6 L180.8,274.5 L180.7,276.4 L180.7,277.1 L181.3,278.4 L181.1,280.0 L181.5,281.4 L181.7,282.0 L182.3,281.7 L183.0,281.1 L183.3,279.2 L183.7,277.3 L184.5,276.6 L184.2,275.5 L184.8,274.2 L184.8,273.6 L184.7,271.5 L185.1,271.0 L185.7,269.3 L185.9,268.0 L186.1,267.3 L186.4,265.2 L186.4,264.8 L186.0,263.1 L186.3,263.0 L186.6,261.0 L186.8,259.8 L186.7,259.0 L186.9,257.4 L187.5,257.9 L187.6,255.2 L187.3,255.2 L187.6,252.3 L188.1,251.8 L187.8,251.6 L187.9,250.4 L188.3,248.2 L188.2,249.1 L188.5,246.7 L188.5,246.5 L188.7,244.8 L189.1,242.5 L188.9,242.9 L189.6,240.9 L189.1,239.0 L189.7,239.7 L189.4,236.8 L190.1,237.8 L190.2,236.8 L190.3,235.4 L190.2,234.9 L190.5,233.5 L190.7,230.3 L191.0,229.9 L191.3,229.2 L191.3,225.9 L191.2,226.8 L191.7,224.8 L191.9,223.0 L192.2,223.4 L192.0,220.7 L192.2,220.3 L192.7,219.5 L193.2,217.7 L193.6,215.3 L194.1,215.1 L194.3,218.4 L195.2,217.9 L195.5,217.5 L196.2,219.8 L196.7,219.5 L197.1,221.9 L196.8,223.2 L196.9,222.5 L197.4,224.1 L197.5,226.0 L198.2,227.9 L197.9,228.8 L198.5,230.9 L198.9,230.2 L198.8,232.8 L198.9,233.2 L199.0,234.1 L199.3,236.6 L199.4,235.7 L199.4,237.0 L199.6,238.7 L200.3,241.4 L200.4,240.8 L200.3,241.5 L200.6,244.0 L200.7,245.4 L201.0,244.7 L201.1,246.0 L201.2,248.7 L201.1,248.4 L201.3,250.5 L201.1,249.9 L201.4,251.4 L201.5,252.5 L202.1,254.6 L202.0,254.0 L201.9,255.7 L202.5,257.4 L202.7,257.4 L202.5,259.4 L202.6,261.2 L203.0,262.6 L203.2,262.5 L203.1,264.5 L203.5,265.6 L203.8,266.7 L204.1,267.0 L204.5,268.9 L204.3,269.2 L205.2,271.6 L204.9,271.8 L205.2,273.8 L205.5,274.4 L205.9,274.9 L206.1,276.7 L206.8,277.8 L207.3,278.6 L207.9,280.2 L208.7,280.9 L210.0,282.3 L211.1,282.9 L212.1,282.9 L213.1,283.4 L214.2,283.7 L215.4,283.8 L217.7,283.9 L218.7,283.9 L219.9,284.2 L221.3,284.0 L222.7,283.9 L223.8,284.4 L224.8,284.1 L226.0,284.3 L227.1,284.1 L228.3,284.4 L229.4,284.5 L230.6,284.1 L231.8,284.2 L232.9,284.5 L234.1,284.2 L235.2,284.5 L236.2,284.3 L237.3,284.5 L238.7,284.6 L240.0,284.4 L241.3,284.7 L242.6,284.4 L243.8,284.4 L245.0,284.4 L246.2,284.4 L247.3,284.6 L248.4,284.7 L249.4,284.5 L250.8,284.5 L252.1,284.8 L253.1,284.5 L254.0,284.6" fill="none" stroke="#111" stroke-width="1.15" stroke-linejoin="round" stroke-opacity="1.0"/>
<path d="M180.2,284.5 L181.1,284.2 L182.3,282.3 L183.3,282.6 L183.5,280.4 L184.9,279.5 L184.8,279.6 L184.8,276.1 L186.0,277.2 L187.1,272.8 L186.5,273.5 L186.8,270.3 L187.2,270.6 L187.9,269.7 L188.2,266.1 L189.4,267.3 L188.9,265.7 L189.7,261.1 L189.7,262.1 L190.2,257.9 L190.6,260.1 L191.1,255.6 L191.1,256.9 L192.3,252.7 L192.3,253.2 L192.8,250.4 L193.4,250.8 L194.7,249.8 L194.5,244.6 L196.0,247.9 L196.3,243.5 L195.9,244.7 L198.2,242.9 L197.4,244.3 L199.2,249.5 L199.2,247.5 L199.2,251.4 L199.5,253.4 L200.0,250.4 L201.0,252.8 L200.9,254.8 L201.9,258.6 L201.9,255.9 L203.3,260.7 L204.0,259.3 L204.3,260.3 L205.6,265.3 L205.6,263.8 L205.6,265.0 L207.3,266.0 L207.4,267.7 L207.1,269.6 L208.7,272.7 L209.2,271.7 L210.5,273.2 L211.3,271.2 L212.1,273.0 L213.9,269.6 L214.6,267.8 L214.4,268.4 L215.5,267.3 L215.5,270.0 L216.4,269.2 L217.2,266.9 L218.6,269.4 L219.5,267.7 L220.6,269.8 L222.8,265.6 L223.8,267.9 L224.9,265.8 L226.1,267.3 L226.4,271.1 L227.2,270.2 L228.5,273.0 L229.8,273.2 L230.5,276.2 L232.1,274.7 L232.9,277.5 L234.0,278.8 L234.7,277.9 L236.1,280.2 L237.1,280.0 L238.4,282.3 L239.5,282.7 L240.8,282.8 L242.1,283.5 L243.3,283.3 L244.5,283.9 L245.8,284.3 L247.2,284.5 L248.9,284.0 L250.6,284.5 L252.1,284.1 L253.7,285.0 L254.9,284.2 L256.1,284.9 L257.3,284.8 L258.9,284.2 L260.2,284.3 L261.2,285.0" fill="none" stroke="#000" stroke-width="2.0" stroke-linejoin="round" stroke-opacity="1.0"/>
<text x="252.7" y="252.5" font-family="&quot;Liberation Serif&quot;, serif" font-size="8.6" fill="#111" stroke="#111" stroke-width="0.3" textLength="48.0" lengthAdjust="spacingAndGlyphs">6F10.3 (CD2)</text>
<rect x="29.5" y="306.6" width="130.10" height="70.70" fill="none" stroke="#111" stroke-width="1.05"/>
<line x1="27.30" y1="377.30" x2="29.5" y2="377.30" stroke="#111" stroke-width="0.9"/>
<line x1="28.20" y1="373.76" x2="29.5" y2="373.76" stroke="#111" stroke-width="0.9"/>
<line x1="28.20" y1="370.23" x2="29.5" y2="370.23" stroke="#111" stroke-width="0.9"/>
<line x1="28.20" y1="366.69" x2="29.5" y2="366.69" stroke="#111" stroke-width="0.9"/>
<line x1="27.30" y1="363.16" x2="29.5" y2="363.16" stroke="#111" stroke-width="0.9"/>
<line x1="28.20" y1="359.62" x2="29.5" y2="359.62" stroke="#111" stroke-width="0.9"/>
<line x1="28.20" y1="356.09" x2="29.5" y2="356.09" stroke="#111" stroke-width="0.9"/>
<line x1="28.20" y1="352.56" x2="29.5" y2="352.56" stroke="#111" stroke-width="0.9"/>
<line x1="27.30" y1="349.02" x2="29.5" y2="349.02" stroke="#111" stroke-width="0.9"/>
<line x1="28.20" y1="345.49" x2="29.5" y2="345.49" stroke="#111" stroke-width="0.9"/>
<line x1="28.20" y1="341.95" x2="29.5" y2="341.95" stroke="#111" stroke-width="0.9"/>
<line x1="28.20" y1="338.42" x2="29.5" y2="338.42" stroke="#111" stroke-width="0.9"/>
<line x1="27.30" y1="334.88" x2="29.5" y2="334.88" stroke="#111" stroke-width="0.9"/>
<line x1="28.20" y1="331.35" x2="29.5" y2="331.35" stroke="#111" stroke-width="0.9"/>
<line x1="28.20" y1="327.81" x2="29.5" y2="327.81" stroke="#111" stroke-width="0.9"/>
<line x1="28.20" y1="324.28" x2="29.5" y2="324.28" stroke="#111" stroke-width="0.9"/>
<line x1="27.30" y1="320.74" x2="29.5" y2="320.74" stroke="#111" stroke-width="0.9"/>
<line x1="28.20" y1="317.21" x2="29.5" y2="317.21" stroke="#111" stroke-width="0.9"/>
<line x1="28.20" y1="313.67" x2="29.5" y2="313.67" stroke="#111" stroke-width="0.9"/>
<line x1="28.20" y1="310.13" x2="29.5" y2="310.13" stroke="#111" stroke-width="0.9"/>
<line x1="27.30" y1="306.60" x2="29.5" y2="306.60" stroke="#111" stroke-width="0.9"/>
<text transform="translate(24.90,377.30) rotate(-90) scale(0.8,1)" font-family="&quot;Liberation Sans&quot;, sans-serif" font-weight="bold" font-size="5.8" text-anchor="middle" fill="#111">0</text>
<text transform="translate(24.90,363.16) rotate(-90) scale(0.8,1)" font-family="&quot;Liberation Sans&quot;, sans-serif" font-weight="bold" font-size="5.8" text-anchor="middle" fill="#111">20</text>
<text transform="translate(24.90,349.02) rotate(-90) scale(0.8,1)" font-family="&quot;Liberation Sans&quot;, sans-serif" font-weight="bold" font-size="5.8" text-anchor="middle" fill="#111">40</text>
<text transform="translate(24.90,334.88) rotate(-90) scale(0.8,1)" font-family="&quot;Liberation Sans&quot;, sans-serif" font-weight="bold" font-size="5.8" text-anchor="middle" fill="#111">60</text>
<text transform="translate(24.90,320.74) rotate(-90) scale(0.8,1)" font-family="&quot;Liberation Sans&quot;, sans-serif" font-weight="bold" font-size="5.8" text-anchor="middle" fill="#111">80</text>
<text transform="translate(24.90,306.60) rotate(-90) scale(0.8,1)" font-family="&quot;Liberation Sans&quot;, sans-serif" font-weight="bold" font-size="5.8" text-anchor="middle" fill="#111">100</text>
<line x1="29.50" y1="377.3" x2="29.50" y2="379.20" stroke="#111" stroke-width="0.9"/>
<line x1="39.29" y1="377.3" x2="39.29" y2="378.40" stroke="#111" stroke-width="0.9"/>
<line x1="45.02" y1="377.3" x2="45.02" y2="378.40" stroke="#111" stroke-width="0.9"/>
<line x1="49.08" y1="377.3" x2="49.08" y2="378.40" stroke="#111" stroke-width="0.9"/>
<line x1="52.23" y1="377.3" x2="52.23" y2="378.40" stroke="#111" stroke-width="0.9"/>
<line x1="54.81" y1="377.3" x2="54.81" y2="378.40" stroke="#111" stroke-width="0.9"/>
<line x1="56.99" y1="377.3" x2="56.99" y2="378.40" stroke="#111" stroke-width="0.9"/>
<line x1="58.87" y1="377.3" x2="58.87" y2="378.40" stroke="#111" stroke-width="0.9"/>
<line x1="60.54" y1="377.3" x2="60.54" y2="378.40" stroke="#111" stroke-width="0.9"/>
<line x1="62.02" y1="377.3" x2="62.02" y2="379.20" stroke="#111" stroke-width="0.9"/>
<line x1="71.82" y1="377.3" x2="71.82" y2="378.40" stroke="#111" stroke-width="0.9"/>
<line x1="77.54" y1="377.3" x2="77.54" y2="378.40" stroke="#111" stroke-width="0.9"/>
<line x1="81.61" y1="377.3" x2="81.61" y2="378.40" stroke="#111" stroke-width="0.9"/>
<line x1="84.76" y1="377.3" x2="84.76" y2="378.40" stroke="#111" stroke-width="0.9"/>
<line x1="87.33" y1="377.3" x2="87.33" y2="378.40" stroke="#111" stroke-width="0.9"/>
<line x1="89.51" y1="377.3" x2="89.51" y2="378.40" stroke="#111" stroke-width="0.9"/>
<line x1="91.40" y1="377.3" x2="91.40" y2="378.40" stroke="#111" stroke-width="0.9"/>
<line x1="93.06" y1="377.3" x2="93.06" y2="378.40" stroke="#111" stroke-width="0.9"/>
<line x1="94.55" y1="377.3" x2="94.55" y2="379.20" stroke="#111" stroke-width="0.9"/>
<line x1="104.34" y1="377.3" x2="104.34" y2="378.40" stroke="#111" stroke-width="0.9"/>
<line x1="110.07" y1="377.3" x2="110.07" y2="378.40" stroke="#111" stroke-width="0.9"/>
<line x1="114.13" y1="377.3" x2="114.13" y2="378.40" stroke="#111" stroke-width="0.9"/>
<line x1="117.28" y1="377.3" x2="117.28" y2="378.40" stroke="#111" stroke-width="0.9"/>
<line x1="119.86" y1="377.3" x2="119.86" y2="378.40" stroke="#111" stroke-width="0.9"/>
<line x1="122.04" y1="377.3" x2="122.04" y2="378.40" stroke="#111" stroke-width="0.9"/>
<line x1="123.92" y1="377.3" x2="123.92" y2="378.40" stroke="#111" stroke-width="0.9"/>
<line x1="125.59" y1="377.3" x2="125.59" y2="378.40" stroke="#111" stroke-width="0.9"/>
<line x1="127.07" y1="377.3" x2="127.07" y2="379.20" stroke="#111" stroke-width="0.9"/>
<line x1="136.87" y1="377.3" x2="136.87" y2="378.40" stroke="#111" stroke-width="0.9"/>
<line x1="142.59" y1="377.3" x2="142.59" y2="378.40" stroke="#111" stroke-width="0.9"/>
<line x1="146.66" y1="377.3" x2="146.66" y2="378.40" stroke="#111" stroke-width="0.9"/>
<line x1="149.81" y1="377.3" x2="149.81" y2="378.40" stroke="#111" stroke-width="0.9"/>
<line x1="152.38" y1="377.3" x2="152.38" y2="378.40" stroke="#111" stroke-width="0.9"/>
<line x1="154.56" y1="377.3" x2="154.56" y2="378.40" stroke="#111" stroke-width="0.9"/>
<line x1="156.45" y1="377.3" x2="156.45" y2="378.40" stroke="#111" stroke-width="0.9"/>
<line x1="158.11" y1="377.3" x2="158.11" y2="378.40" stroke="#111" stroke-width="0.9"/>
<line x1="159.60" y1="377.3" x2="159.60" y2="379.20" stroke="#111" stroke-width="0.9"/>
<text transform="translate(28.60,386.30) scale(0.72,1)" font-family="&quot;Liberation Sans&quot;, sans-serif" font-weight="bold" font-size="6.0" text-anchor="middle" fill="#111">10</text>
<text transform="translate(31.10,383.10) scale(0.8,1)" font-family="&quot;Liberation Sans&quot;, sans-serif" font-weight="bold" font-size="5.0" fill="#111">0</text>
<text transform="translate(61.12,386.30) scale(0.72,1)" font-family="&quot;Liberation Sans&quot;, sans-serif" font-weight="bold" font-size="6.0" text-anchor="middle" fill="#111">10</text>
<text transform="translate(63.62,383.10) scale(0.8,1)" font-family="&quot;Liberation Sans&quot;, sans-serif" font-weight="bold" font-size="5.0" fill="#111">1</text>
<text transform="translate(93.65,386.30) scale(0.72,1)" font-family="&quot;Liberation Sans&quot;, sans-serif" font-weight="bold" font-size="6.0" text-anchor="middle" fill="#111">10</text>
<text transform="translate(96.15,383.10) scale(0.8,1)" font-family="&quot;Liberation Sans&quot;, sans-serif" font-weight="bold" font-size="5.0" fill="#111">2</text>
<text transform="translate(126.17,386.30) scale(0.72,1)" font-family="&quot;Liberation Sans&quot;, sans-serif" font-weight="bold" font-size="6.0" text-anchor="middle" fill="#111">10</text>
<text transform="translate(128.67,383.10) scale(0.8,1)" font-family="&quot;Liberation Sans&quot;, sans-serif" font-weight="bold" font-size="5.0" fill="#111">3</text>
<text transform="translate(158.70,386.30) scale(0.72,1)" font-family="&quot;Liberation Sans&quot;, sans-serif" font-weight="bold" font-size="6.0" text-anchor="middle" fill="#111">10</text>
<text transform="translate(161.20,383.10) scale(0.8,1)" font-family="&quot;Liberation Sans&quot;, sans-serif" font-weight="bold" font-size="5.0" fill="#111">4</text>
<path d="M29.8,374.7 L29.7,373.3 L29.9,372.2 L29.6,370.6 L30.0,372.6 L29.7,373.8 L30.4,374.9 L31.3,374.1 L31.7,373.0 L32.7,371.2 L32.7,369.5 L32.9,368.8 L33.8,367.7 L33.9,365.8 L33.9,365.6 L34.2,363.8 L34.5,363.3 L34.6,361.6 L34.6,360.9 L35.1,359.3 L35.4,358.0 L35.1,357.2 L35.7,355.3 L36.1,355.0 L35.8,353.8 L36.3,352.5 L36.3,350.2 L36.5,349.7 L36.4,349.7 L36.5,348.5 L36.5,346.3 L36.9,346.3 L36.6,344.4 L36.8,344.5 L36.9,342.0 L37.4,342.4 L37.4,340.3 L37.5,339.7 L37.7,339.9 L37.7,337.0 L38.2,337.4 L38.2,336.2 L38.3,335.2 L38.2,333.2 L38.1,333.2 L38.7,331.3 L38.9,330.9 L38.9,328.5 L39.0,328.2 L38.9,325.5 L39.2,325.0 L39.2,324.7 L39.9,322.7 L39.8,322.0 L39.8,322.3 L39.8,321.0 L40.5,318.7 L40.4,318.5 L40.5,315.3 L41.2,314.2 L41.1,315.1 L41.6,311.5 L41.4,310.8 L41.9,311.2 L42.0,307.8 L42.2,308.4 L43.3,309.0 L43.7,311.5 L43.9,310.6 L44.5,311.6 L45.5,311.2 L46.0,310.8 L45.8,313.1 L46.6,313.3 L46.7,316.3 L46.9,315.1 L46.9,318.0 L46.9,319.6 L47.1,319.5 L47.7,321.5 L47.7,321.9 L47.8,324.5 L47.8,323.4 L48.2,324.8 L48.6,326.5 L48.3,329.1 L49.1,328.9 L49.0,331.2 L48.7,330.9 L49.1,333.5 L49.5,333.4 L49.7,335.8 L50.0,334.7 L50.0,335.9 L50.0,337.0 L50.3,339.1 L50.4,339.6 L50.6,341.5 L50.8,342.4 L50.7,342.3 L51.2,343.4 L51.3,345.7 L50.9,345.5 L51.5,347.5 L51.4,349.0 L51.9,348.9 L51.7,351.3 L52.4,351.6 L52.1,353.9 L52.2,353.3 L52.4,355.5 L52.6,356.0 L52.7,358.0 L53.5,357.9 L53.7,360.4 L53.6,361.8 L54.1,361.7 L54.1,364.0 L54.5,364.9 L54.9,365.2 L55.1,367.4 L55.8,368.3 L56.6,368.7 L56.7,370.5 L57.5,370.7 L58.5,372.2 L59.3,372.3 L60.3,373.4 L61.5,374.1 L62.6,374.8 L63.4,375.0 L64.5,375.6 L65.8,376.0 L67.1,376.4 L68.4,376.5 L70.0,376.7 L71.2,376.7 L72.7,376.8 L73.8,376.5 L74.9,376.8 L76.1,376.6 L77.3,377.0 L78.5,376.7 L79.7,376.7 L80.8,377.0 L81.8,376.8 L83.1,377.1 L84.0,376.8" fill="none" stroke="#111" stroke-width="1.15" stroke-linejoin="round" stroke-opacity="1.0"/>
<path d="M29.8,376.7 L30.0,375.6 L31.4,374.7 L33.1,375.3 L34.2,373.8 L35.2,373.5 L35.7,371.4 L36.5,370.8 L36.4,368.2 L37.5,368.8 L38.4,366.7 L38.3,365.6 L38.9,361.7 L39.8,363.1 L39.9,358.8 L40.2,357.2 L40.9,356.3 L41.2,356.9 L42.2,353.1 L42.7,353.5 L43.4,349.5 L43.3,350.8 L43.6,350.5 L45.0,345.3 L46.1,347.7 L46.1,343.2 L46.3,341.7 L47.1,343.0 L46.9,338.2 L48.0,340.8 L47.9,334.4 L48.0,337.7 L49.3,337.3 L49.2,340.8 L50.3,342.1 L51.2,340.4 L51.7,341.2 L52.1,343.5 L53.2,344.7 L53.5,350.0 L53.8,347.1 L53.7,351.8 L54.3,350.6 L55.4,355.0 L55.6,353.4 L56.0,357.6 L57.4,357.4 L57.1,360.5 L57.9,359.3 L58.9,360.8 L59.4,364.4 L61.2,363.2 L62.3,367.4 L63.0,367.3 L63.5,370.2 L63.3,371.4 L64.8,371.6 L65.6,371.0 L67.2,373.7 L69.0,372.5 L69.6,372.9 L69.8,369.7 L71.3,368.6 L72.0,368.4 L72.5,370.9 L75.2,368.0 L76.2,367.1 L78.2,366.9 L78.6,367.6 L79.3,366.3 L79.0,365.1 L79.7,361.5 L79.7,362.7 L80.9,359.8 L81.3,358.5 L81.6,356.7 L82.7,358.3 L82.3,356.7 L83.2,355.8 L83.5,352.1 L83.5,353.4 L84.0,353.4 L83.8,354.6 L84.9,354.5 L84.6,358.3 L85.4,355.2 L85.4,356.6 L86.5,354.4 L86.3,352.2 L88.0,356.0 L87.8,354.8 L88.1,358.0 L88.7,359.3 L89.6,361.3 L91.0,360.0 L91.6,363.0 L91.6,362.3 L92.4,366.3 L93.9,367.1 L94.7,368.1 L95.1,369.8 L96.1,369.8 L96.3,372.6 L98.2,373.7 L98.8,373.2 L100.6,375.2 L101.7,375.0 L103.3,376.1 L104.8,376.5 L106.0,376.1 L107.8,376.0 L108.8,377.0 L110.3,376.4 L112.0,377.1 L113.2,377.3 L114.4,376.3 L116.1,377.3 L117.5,377.3 L118.5,376.5" fill="none" stroke="#000" stroke-width="2.0" stroke-linejoin="round" stroke-opacity="1.0"/>
<text x="102.6" y="343.7" font-family="&quot;Liberation Serif&quot;, serif" font-size="8.6" fill="#111" stroke="#111" stroke-width="0.3" textLength="39.2" lengthAdjust="spacingAndGlyphs">S5.2 (CD2)</text>
<rect x="180.1" y="306.6" width="130.60" height="70.70" fill="none" stroke="#111" stroke-width="1.05"/>
<line x1="177.90" y1="377.30" x2="180.1" y2="377.30" stroke="#111" stroke-width="0.9"/>
<line x1="178.80" y1="373.76" x2="180.1" y2="373.76" stroke="#111" stroke-width="0.9"/>
<line x1="178.80" y1="370.23" x2="180.1" y2="370.23" stroke="#111" stroke-width="0.9"/>
<line x1="178.80" y1="366.69" x2="180.1" y2="366.69" stroke="#111" stroke-width="0.9"/>
<line x1="177.90" y1="363.16" x2="180.1" y2="363.16" stroke="#111" stroke-width="0.9"/>
<line x1="178.80" y1="359.62" x2="180.1" y2="359.62" stroke="#111" stroke-width="0.9"/>
<line x1="178.80" y1="356.09" x2="180.1" y2="356.09" stroke="#111" stroke-width="0.9"/>
<line x1="178.80" y1="352.56" x2="180.1" y2="352.56" stroke="#111" stroke-width="0.9"/>
<line x1="177.90" y1="349.02" x2="180.1" y2="349.02" stroke="#111" stroke-width="0.9"/>
<line x1="178.80" y1="345.49" x2="180.1" y2="345.49" stroke="#111" stroke-width="0.9"/>
<line x1="178.80" y1="341.95" x2="180.1" y2="341.95" stroke="#111" stroke-width="0.9"/>
<line x1="178.80" y1="338.42" x2="180.1" y2="338.42" stroke="#111" stroke-width="0.9"/>
<line x1="177.90" y1="334.88" x2="180.1" y2="334.88" stroke="#111" stroke-width="0.9"/>
<line x1="178.80" y1="331.35" x2="180.1" y2="331.35" stroke="#111" stroke-width="0.9"/>
<line x1="178.80" y1="327.81" x2="180.1" y2="327.81" stroke="#111" stroke-width="0.9"/>
<line x1="178.80" y1="324.28" x2="180.1" y2="324.28" stroke="#111" stroke-width="0.9"/>
<line x1="177.90" y1="320.74" x2="180.1" y2="320.74" stroke="#111" stroke-width="0.9"/>
<line x1="178.80" y1="317.21" x2="180.1" y2="317.21" stroke="#111" stroke-width="0.9"/>
<line x1="178.80" y1="313.67" x2="180.1" y2="313.67" stroke="#111" stroke-width="0.9"/>
<line x1="178.80" y1="310.13" x2="180.1" y2="310.13" stroke="#111" stroke-width="0.9"/>
<line x1="177.90" y1="306.60" x2="180.1" y2="306.60" stroke="#111" stroke-width="0.9"/>
<text transform="translate(175.50,377.30) rotate(-90) scale(0.8,1)" font-family="&quot;Liberation Sans&quot;, sans-serif" font-weight="bold" font-size="5.8" text-anchor="middle" fill="#111">0</text>
<text transform="translate(175.50,363.16) rotate(-90) scale(0.8,1)" font-family="&quot;Liberation Sans&quot;, sans-serif" font-weight="bold" font-size="5.8" text-anchor="middle" fill="#111">20</text>
<text transform="translate(175.50,349.02) rotate(-90) scale(0.8,1)" font-family="&quot;Liberation Sans&quot;, sans-serif" font-weight="bold" font-size="5.8" text-anchor="middle" fill="#111">40</text>
<text transform="translate(175.50,334.88) rotate(-90) scale(0.8,1)" font-family="&quot;Liberation Sans&quot;, sans-serif" font-weight="bold" font-size="5.8" text-anchor="middle" fill="#111">60</text>
<text transform="translate(175.50,320.74) rotate(-90) scale(0.8,1)" font-family="&quot;Liberation Sans&quot;, sans-serif" font-weight="bold" font-size="5.8" text-anchor="middle" fill="#111">80</text>
<text transform="translate(175.50,306.60) rotate(-90) scale(0.8,1)" font-family="&quot;Liberation Sans&quot;, sans-serif" font-weight="bold" font-size="5.8" text-anchor="middle" fill="#111">100</text>
<line x1="180.10" y1="377.3" x2="180.10" y2="379.20" stroke="#111" stroke-width="0.9"/>
<line x1="189.93" y1="377.3" x2="189.93" y2="378.40" stroke="#111" stroke-width="0.9"/>
<line x1="195.68" y1="377.3" x2="195.68" y2="378.40" stroke="#111" stroke-width="0.9"/>
<line x1="199.76" y1="377.3" x2="199.76" y2="378.40" stroke="#111" stroke-width="0.9"/>
<line x1="202.92" y1="377.3" x2="202.92" y2="378.40" stroke="#111" stroke-width="0.9"/>
<line x1="205.51" y1="377.3" x2="205.51" y2="378.40" stroke="#111" stroke-width="0.9"/>
<line x1="207.69" y1="377.3" x2="207.69" y2="378.40" stroke="#111" stroke-width="0.9"/>
<line x1="209.59" y1="377.3" x2="209.59" y2="378.40" stroke="#111" stroke-width="0.9"/>
<line x1="211.26" y1="377.3" x2="211.26" y2="378.40" stroke="#111" stroke-width="0.9"/>
<line x1="212.75" y1="377.3" x2="212.75" y2="379.20" stroke="#111" stroke-width="0.9"/>
<line x1="222.58" y1="377.3" x2="222.58" y2="378.40" stroke="#111" stroke-width="0.9"/>
<line x1="228.33" y1="377.3" x2="228.33" y2="378.40" stroke="#111" stroke-width="0.9"/>
<line x1="232.41" y1="377.3" x2="232.41" y2="378.40" stroke="#111" stroke-width="0.9"/>
<line x1="235.57" y1="377.3" x2="235.57" y2="378.40" stroke="#111" stroke-width="0.9"/>
<line x1="238.16" y1="377.3" x2="238.16" y2="378.40" stroke="#111" stroke-width="0.9"/>
<line x1="240.34" y1="377.3" x2="240.34" y2="378.40" stroke="#111" stroke-width="0.9"/>
<line x1="242.24" y1="377.3" x2="242.24" y2="378.40" stroke="#111" stroke-width="0.9"/>
<line x1="243.91" y1="377.3" x2="243.91" y2="378.40" stroke="#111" stroke-width="0.9"/>
<line x1="245.40" y1="377.3" x2="245.40" y2="379.20" stroke="#111" stroke-width="0.9"/>
<line x1="255.23" y1="377.3" x2="255.23" y2="378.40" stroke="#111" stroke-width="0.9"/>
<line x1="260.98" y1="377.3" x2="260.98" y2="378.40" stroke="#111" stroke-width="0.9"/>
<line x1="265.06" y1="377.3" x2="265.06" y2="378.40" stroke="#111" stroke-width="0.9"/>
<line x1="268.22" y1="377.3" x2="268.22" y2="378.40" stroke="#111" stroke-width="0.9"/>
<line x1="270.81" y1="377.3" x2="270.81" y2="378.40" stroke="#111" stroke-width="0.9"/>
<line x1="272.99" y1="377.3" x2="272.99" y2="378.40" stroke="#111" stroke-width="0.9"/>
<line x1="274.89" y1="377.3" x2="274.89" y2="378.40" stroke="#111" stroke-width="0.9"/>
<line x1="276.56" y1="377.3" x2="276.56" y2="378.40" stroke="#111" stroke-width="0.9"/>
<line x1="278.05" y1="377.3" x2="278.05" y2="379.20" stroke="#111" stroke-width="0.9"/>
<line x1="287.88" y1="377.3" x2="287.88" y2="378.40" stroke="#111" stroke-width="0.9"/>
<line x1="293.63" y1="377.3" x2="293.63" y2="378.40" stroke="#111" stroke-width="0.9"/>
<line x1="297.71" y1="377.3" x2="297.71" y2="378.40" stroke="#111" stroke-width="0.9"/>
<line x1="300.87" y1="377.3" x2="300.87" y2="378.40" stroke="#111" stroke-width="0.9"/>
<line x1="303.46" y1="377.3" x2="303.46" y2="378.40" stroke="#111" stroke-width="0.9"/>
<line x1="305.64" y1="377.3" x2="305.64" y2="378.40" stroke="#111" stroke-width="0.9"/>
<line x1="307.54" y1="377.3" x2="307.54" y2="378.40" stroke="#111" stroke-width="0.9"/>
<line x1="309.21" y1="377.3" x2="309.21" y2="378.40" stroke="#111" stroke-width="0.9"/>
<line x1="310.70" y1="377.3" x2="310.70" y2="379.20" stroke="#111" stroke-width="0.9"/>
<text transform="translate(179.20,386.30) scale(0.72,1)" font-family="&quot;Liberation Sans&quot;, sans-serif" font-weight="bold" font-size="6.0" text-anchor="middle" fill="#111">10</text>
<text transform="translate(181.70,383.10) scale(0.8,1)" font-family="&quot;Liberation Sans&quot;, sans-serif" font-weight="bold" font-size="5.0" fill="#111">0</text>
<text transform="translate(211.85,386.30) scale(0.72,1)" font-family="&quot;Liberation Sans&quot;, sans-serif" font-weight="bold" font-size="6.0" text-anchor="middle" fill="#111">10</text>
<text transform="translate(214.35,383.10) scale(0.8,1)" font-family="&quot;Liberation Sans&quot;, sans-serif" font-weight="bold" font-size="5.0" fill="#111">1</text>
<text transform="translate(244.50,386.30) scale(0.72,1)" font-family="&quot;Liberation Sans&quot;, sans-serif" font-weight="bold" font-size="6.0" text-anchor="middle" fill="#111">10</text>
<text transform="translate(247.00,383.10) scale(0.8,1)" font-family="&quot;Liberation Sans&quot;, sans-serif" font-weight="bold" font-size="5.0" fill="#111">2</text>
<text transform="translate(277.15,386.30) scale(0.72,1)" font-family="&quot;Liberation Sans&quot;, sans-serif" font-weight="bold" font-size="6.0" text-anchor="middle" fill="#111">10</text>
<text transform="translate(279.65,383.10) scale(0.8,1)" font-family="&quot;Liberation Sans&quot;, sans-serif" font-weight="bold" font-size="5.0" fill="#111">3</text>
<text transform="translate(309.80,386.30) scale(0.72,1)" font-family="&quot;Liberation Sans&quot;, sans-serif" font-weight="bold" font-size="6.0" text-anchor="middle" fill="#111">10</text>
<text transform="translate(312.30,383.10) scale(0.8,1)" font-family="&quot;Liberation Sans&quot;, sans-serif" font-weight="bold" font-size="5.0" fill="#111">4</text>
<path d="M180.5,375.6 L181.8,375.2 L183.1,374.7 L183.8,374.0 L184.7,372.7 L185.7,372.2 L186.3,371.0 L186.5,369.4 L187.2,368.5 L187.9,366.9 L188.3,366.6 L188.7,365.6 L188.6,363.9 L189.4,362.5 L189.9,362.1 L189.7,360.0 L190.3,359.9 L190.3,357.8 L190.6,356.8 L190.9,356.9 L191.2,355.5 L191.7,353.3 L191.7,353.3 L192.3,351.2 L191.9,350.6 L192.3,349.1 L193.1,349.4 L193.3,347.6 L193.5,347.3 L193.4,344.9 L193.7,344.8 L194.0,343.1 L194.4,343.4 L194.9,340.3 L194.7,339.0 L195.2,339.2 L195.4,337.3 L196.1,335.9 L195.9,335.4 L196.2,333.0 L196.8,332.9 L197.0,331.8 L197.3,329.9 L197.1,329.7 L197.4,329.0 L197.9,327.8 L197.6,325.1 L198.2,326.2 L198.5,323.3 L198.6,323.4 L198.8,321.5 L199.1,321.2 L199.5,320.3 L199.4,319.6 L199.6,316.9 L200.3,315.7 L200.0,315.6 L200.6,312.7 L200.8,311.1 L201.0,311.0 L201.5,312.3 L201.7,315.3 L202.1,314.6 L202.7,316.1 L203.2,313.3 L203.5,311.9 L203.7,312.1 L204.4,311.5 L203.9,314.3 L204.6,314.0 L204.6,317.2 L204.7,316.3 L205.1,317.7 L205.3,318.9 L205.8,321.6 L206.0,321.7 L206.3,324.2 L206.4,324.3 L206.6,325.5 L206.6,327.5 L206.8,328.7 L207.1,329.4 L207.1,330.4 L207.1,332.9 L207.0,334.2 L207.3,333.8 L207.1,334.5 L207.2,337.6 L207.1,337.2 L207.3,339.3 L207.8,339.7 L207.7,340.6 L207.8,342.7 L208.5,342.3 L208.5,344.7 L208.6,345.7 L209.0,346.9 L208.7,346.3 L209.2,347.7 L209.5,349.6 L209.6,349.6 L209.8,351.8 L210.4,351.2 L210.2,352.4 L210.4,354.9 L210.3,354.5 L211.0,356.7 L210.8,356.9 L210.9,358.0 L211.6,360.0 L211.5,360.4 L212.1,361.2 L212.4,363.5 L212.5,363.7 L213.5,364.5 L213.8,365.6 L214.4,367.3 L215.0,367.5 L215.4,369.5 L216.0,370.3 L216.8,370.7 L217.7,372.4 L218.6,372.4 L219.6,372.9 L220.7,373.6 L222.1,374.1 L223.5,375.0 L224.8,374.9 L226.2,375.4 L227.5,375.0 L228.6,375.1 L229.9,375.6 L231.3,375.8 L232.4,375.9 L233.3,375.7 L234.5,376.2 L235.7,375.9 L236.8,376.1 L238.0,376.6 L239.2,376.4 L240.3,376.7 L241.3,376.5 L242.7,377.0 L243.7,377.1 L244.0,376.8" fill="none" stroke="#111" stroke-width="1.15" stroke-linejoin="round" stroke-opacity="1.0"/>
<path d="M180.5,376.1 L181.9,376.5 L182.8,374.9 L183.6,375.1 L184.9,374.0 L186.1,372.6 L185.8,371.7 L186.9,368.7 L187.7,369.0 L188.8,367.8 L189.4,364.0 L191.0,365.7 L190.6,364.1 L191.5,360.9 L192.4,361.8 L192.6,357.2 L193.5,356.3 L193.6,357.4 L193.7,353.8 L194.6,354.0 L194.7,350.3 L195.8,352.2 L195.5,346.5 L195.7,347.6 L197.2,343.7 L197.6,345.8 L197.6,343.2 L197.0,340.1 L197.5,341.9 L197.7,336.5 L198.5,338.5 L198.4,334.3 L199.0,336.1 L199.1,330.9 L199.3,331.4 L200.2,330.1 L199.5,329.1 L200.6,323.6 L200.3,323.2 L200.3,324.2 L201.5,320.5 L201.0,321.9 L201.2,316.6 L201.5,318.3 L201.2,313.7 L202.0,317.5 L201.4,311.9 L202.2,311.8 L203.1,317.1 L203.2,314.5 L204.2,315.4 L203.5,310.7 L203.9,309.3 L205.4,315.1 L205.6,311.3 L205.7,312.9 L205.3,314.2 L206.2,319.0 L205.6,322.0 L206.7,317.4 L207.2,319.2 L207.0,324.5 L207.6,325.5 L207.1,324.9 L206.9,328.4 L208.0,328.3 L207.9,328.5 L208.7,331.6 L208.3,334.7 L208.5,333.3 L208.3,337.8 L209.5,339.6 L209.6,337.9 L210.2,341.4 L209.7,340.3 L209.5,342.7 L210.9,346.4 L210.2,344.4 L211.6,347.6 L211.5,351.5 L212.2,352.7 L212.0,351.0 L212.0,356.7 L212.2,354.8 L212.4,358.8 L212.4,358.2 L213.5,362.5 L214.3,361.3 L213.6,364.9 L214.6,366.5 L216.4,365.4 L216.1,367.6 L218.1,368.4 L218.0,371.4 L218.5,371.9 L220.1,371.7 L222.0,371.7 L223.2,374.1 L224.7,374.6 L225.7,374.3 L227.7,373.6 L229.2,374.6 L230.2,374.1 L232.2,374.8 L233.5,374.4 L234.7,375.0 L236.1,374.5 L237.9,375.6 L239.2,374.9 L241.0,375.8 L242.2,375.7 L243.7,376.3 L245.1,375.4 L247.0,375.0 L248.5,376.5 L250.0,375.7 L251.5,376.3 L253.3,376.7 L254.5,376.0 L255.5,376.7 L257.3,376.4 L258.7,377.0 L260.0,376.7 L260.0,376.8" fill="none" stroke="#000" stroke-width="2.0" stroke-linejoin="round" stroke-opacity="1.0"/>
<text x="253.2" y="344.9" font-family="&quot;Liberation Serif&quot;, serif" font-size="8.6" fill="#111" stroke="#111" stroke-width="0.3" textLength="51.7" lengthAdjust="spacingAndGlyphs">VIT13 (CD2R)</text>
<text x="90" y="403.6" font-family="&quot;Liberation Serif&quot;, serif" font-size="14.1" fill="#111" stroke="#111" stroke-width="0.1" textLength="157.7">mean fluorescence intensity</text>
<text x="0" y="0" transform="translate(11.8,261.2) rotate(-90)" font-family="&quot;Liberation Serif&quot;, serif" font-size="14.2" fill="#111" stroke="#111" stroke-width="0.08" textLength="114">relative cell number</text>
<rect x="430.5" y="27.0" width="79.70" height="80.80" fill="none" stroke="#111" stroke-width="1.05"/>
<line x1="456.0" y1="27.0" x2="456.0" y2="107.8" stroke="#222" stroke-width="0.95"/>
<line x1="430.5" y1="82.4" x2="510.2" y2="82.4" stroke="#222" stroke-width="0.95"/>
<line x1="426.30" y1="107.80" x2="430.5" y2="107.80" stroke="#111" stroke-width="1.1"/>
<line x1="430.50" y1="107.8" x2="430.50" y2="112.00" stroke="#111" stroke-width="1.1"/>
<line x1="428.80" y1="99.69" x2="430.5" y2="99.69" stroke="#111" stroke-width="0.8"/>
<line x1="438.50" y1="107.8" x2="438.50" y2="109.50" stroke="#111" stroke-width="0.8"/>
<line x1="428.80" y1="94.95" x2="430.5" y2="94.95" stroke="#111" stroke-width="0.8"/>
<line x1="443.18" y1="107.8" x2="443.18" y2="109.50" stroke="#111" stroke-width="0.8"/>
<line x1="428.80" y1="91.58" x2="430.5" y2="91.58" stroke="#111" stroke-width="0.8"/>
<line x1="446.49" y1="107.8" x2="446.49" y2="109.50" stroke="#111" stroke-width="0.8"/>
<line x1="428.80" y1="88.97" x2="430.5" y2="88.97" stroke="#111" stroke-width="0.8"/>
<line x1="449.07" y1="107.8" x2="449.07" y2="109.50" stroke="#111" stroke-width="0.8"/>
<line x1="428.80" y1="86.84" x2="430.5" y2="86.84" stroke="#111" stroke-width="0.8"/>
<line x1="451.17" y1="107.8" x2="451.17" y2="109.50" stroke="#111" stroke-width="0.8"/>
<line x1="428.80" y1="85.04" x2="430.5" y2="85.04" stroke="#111" stroke-width="0.8"/>
<line x1="452.95" y1="107.8" x2="452.95" y2="109.50" stroke="#111" stroke-width="0.8"/>
<line x1="428.80" y1="83.48" x2="430.5" y2="83.48" stroke="#111" stroke-width="0.8"/>
<line x1="454.49" y1="107.8" x2="454.49" y2="109.50" stroke="#111" stroke-width="0.8"/>
<line x1="428.80" y1="82.10" x2="430.5" y2="82.10" stroke="#111" stroke-width="0.8"/>
<line x1="455.85" y1="107.8" x2="455.85" y2="109.50" stroke="#111" stroke-width="0.8"/>
<line x1="426.30" y1="80.87" x2="430.5" y2="80.87" stroke="#111" stroke-width="1.1"/>
<line x1="457.07" y1="107.8" x2="457.07" y2="112.00" stroke="#111" stroke-width="1.1"/>
<line x1="428.80" y1="72.76" x2="430.5" y2="72.76" stroke="#111" stroke-width="0.8"/>
<line x1="465.06" y1="107.8" x2="465.06" y2="109.50" stroke="#111" stroke-width="0.8"/>
<line x1="428.80" y1="68.02" x2="430.5" y2="68.02" stroke="#111" stroke-width="0.8"/>
<line x1="469.74" y1="107.8" x2="469.74" y2="109.50" stroke="#111" stroke-width="0.8"/>
<line x1="428.80" y1="64.65" x2="430.5" y2="64.65" stroke="#111" stroke-width="0.8"/>
<line x1="473.06" y1="107.8" x2="473.06" y2="109.50" stroke="#111" stroke-width="0.8"/>
<line x1="428.80" y1="62.04" x2="430.5" y2="62.04" stroke="#111" stroke-width="0.8"/>
<line x1="475.64" y1="107.8" x2="475.64" y2="109.50" stroke="#111" stroke-width="0.8"/>
<line x1="428.80" y1="59.91" x2="430.5" y2="59.91" stroke="#111" stroke-width="0.8"/>
<line x1="477.74" y1="107.8" x2="477.74" y2="109.50" stroke="#111" stroke-width="0.8"/>
<line x1="428.80" y1="58.11" x2="430.5" y2="58.11" stroke="#111" stroke-width="0.8"/>
<line x1="479.52" y1="107.8" x2="479.52" y2="109.50" stroke="#111" stroke-width="0.8"/>
<line x1="428.80" y1="56.54" x2="430.5" y2="56.54" stroke="#111" stroke-width="0.8"/>
<line x1="481.06" y1="107.8" x2="481.06" y2="109.50" stroke="#111" stroke-width="0.8"/>
<line x1="428.80" y1="55.17" x2="430.5" y2="55.17" stroke="#111" stroke-width="0.8"/>
<line x1="482.42" y1="107.8" x2="482.42" y2="109.50" stroke="#111" stroke-width="0.8"/>
<line x1="426.30" y1="53.93" x2="430.5" y2="53.93" stroke="#111" stroke-width="1.1"/>
<line x1="483.63" y1="107.8" x2="483.63" y2="112.00" stroke="#111" stroke-width="1.1"/>
<line x1="428.80" y1="45.83" x2="430.5" y2="45.83" stroke="#111" stroke-width="0.8"/>
<line x1="491.63" y1="107.8" x2="491.63" y2="109.50" stroke="#111" stroke-width="0.8"/>
<line x1="428.80" y1="41.08" x2="430.5" y2="41.08" stroke="#111" stroke-width="0.8"/>
<line x1="496.31" y1="107.8" x2="496.31" y2="109.50" stroke="#111" stroke-width="0.8"/>
<line x1="428.80" y1="37.72" x2="430.5" y2="37.72" stroke="#111" stroke-width="0.8"/>
<line x1="499.63" y1="107.8" x2="499.63" y2="109.50" stroke="#111" stroke-width="0.8"/>
<line x1="428.80" y1="35.11" x2="430.5" y2="35.11" stroke="#111" stroke-width="0.8"/>
<line x1="502.20" y1="107.8" x2="502.20" y2="109.50" stroke="#111" stroke-width="0.8"/>
<line x1="428.80" y1="32.98" x2="430.5" y2="32.98" stroke="#111" stroke-width="0.8"/>
<line x1="504.31" y1="107.8" x2="504.31" y2="109.50" stroke="#111" stroke-width="0.8"/>
<line x1="428.80" y1="31.17" x2="430.5" y2="31.17" stroke="#111" stroke-width="0.8"/>
<line x1="506.08" y1="107.8" x2="506.08" y2="109.50" stroke="#111" stroke-width="0.8"/>
<line x1="428.80" y1="29.61" x2="430.5" y2="29.61" stroke="#111" stroke-width="0.8"/>
<line x1="507.63" y1="107.8" x2="507.63" y2="109.50" stroke="#111" stroke-width="0.8"/>
<line x1="428.80" y1="28.23" x2="430.5" y2="28.23" stroke="#111" stroke-width="0.8"/>
<line x1="508.98" y1="107.8" x2="508.98" y2="109.50" stroke="#111" stroke-width="0.8"/>
<line x1="426.30" y1="27.0" x2="430.5" y2="27.0" stroke="#111" stroke-width="1.1"/>
<line x1="510.2" y1="107.8" x2="510.2" y2="112.0" stroke="#111" stroke-width="1.1"/>
<text x="0" y="0" transform="translate(422.90,108.60) rotate(-90)" font-family="&quot;Liberation Serif&quot;, serif" font-weight="bold" font-size="6.4" text-anchor="middle" fill="#111">10<tspan dy="-2.0" font-size="4.0">0</tspan></text>
<text x="431.40" y="122.80" font-family="&quot;Liberation Serif&quot;, serif" font-weight="bold" font-size="6.4" text-anchor="middle" fill="#111">10<tspan dy="-2.0" font-size="4.0">0</tspan></text>
<text x="0" y="0" transform="translate(422.90,81.67) rotate(-90)" font-family="&quot;Liberation Serif&quot;, serif" font-weight="bold" font-size="6.4" text-anchor="middle" fill="#111">10<tspan dy="-2.0" font-size="4.0">1</tspan></text>
<text x="457.97" y="122.80" font-family="&quot;Liberation Serif&quot;, serif" font-weight="bold" font-size="6.4" text-anchor="middle" fill="#111">10<tspan dy="-2.0" font-size="4.0">1</tspan></text>
<text x="0" y="0" transform="translate(422.90,54.73) rotate(-90)" font-family="&quot;Liberation Serif&quot;, serif" font-weight="bold" font-size="6.4" text-anchor="middle" fill="#111">10<tspan dy="-2.0" font-size="4.0">2</tspan></text>
<text x="484.53" y="122.80" font-family="&quot;Liberation Serif&quot;, serif" font-weight="bold" font-size="6.4" text-anchor="middle" fill="#111">10<tspan dy="-2.0" font-size="4.0">2</tspan></text>
<text x="0" y="0" transform="translate(422.90,27.80) rotate(-90)" font-family="&quot;Liberation Serif&quot;, serif" font-weight="bold" font-size="6.4" text-anchor="middle" fill="#111">10<tspan dy="-2.0" font-size="4.0">3</tspan></text>
<text x="511.10" y="122.80" font-family="&quot;Liberation Serif&quot;, serif" font-weight="bold" font-size="6.4" text-anchor="middle" fill="#111">10<tspan dy="-2.0" font-size="4.0">3</tspan></text>
<text x="470.75" y="139.0" font-family="&quot;Liberation Serif&quot;, serif" font-weight="bold" font-size="9.8" text-anchor="middle" fill="#111">39C1.5 - FITC</text>
<text x="0" y="0" transform="translate(409.2,62.8) rotate(-90)" font-family="&quot;Liberation Serif&quot;, serif" font-weight="bold" font-size="9.8" text-anchor="middle" fill="#111">RPA-2.10 - PE</text>
<rect x="431.5" y="159.8" width="79.50" height="80.00" fill="none" stroke="#111" stroke-width="1.05"/>
<line x1="457.1" y1="159.8" x2="457.1" y2="239.8" stroke="#222" stroke-width="0.95"/>
<line x1="431.5" y1="215.1" x2="511.0" y2="215.1" stroke="#222" stroke-width="0.95"/>
<line x1="427.30" y1="239.80" x2="431.5" y2="239.80" stroke="#111" stroke-width="1.1"/>
<line x1="431.50" y1="239.8" x2="431.50" y2="244.00" stroke="#111" stroke-width="1.1"/>
<line x1="429.80" y1="231.77" x2="431.5" y2="231.77" stroke="#111" stroke-width="0.8"/>
<line x1="439.48" y1="239.8" x2="439.48" y2="241.50" stroke="#111" stroke-width="0.8"/>
<line x1="429.80" y1="227.08" x2="431.5" y2="227.08" stroke="#111" stroke-width="0.8"/>
<line x1="444.14" y1="239.8" x2="444.14" y2="241.50" stroke="#111" stroke-width="0.8"/>
<line x1="429.80" y1="223.75" x2="431.5" y2="223.75" stroke="#111" stroke-width="0.8"/>
<line x1="447.45" y1="239.8" x2="447.45" y2="241.50" stroke="#111" stroke-width="0.8"/>
<line x1="429.80" y1="221.16" x2="431.5" y2="221.16" stroke="#111" stroke-width="0.8"/>
<line x1="450.02" y1="239.8" x2="450.02" y2="241.50" stroke="#111" stroke-width="0.8"/>
<line x1="429.80" y1="219.05" x2="431.5" y2="219.05" stroke="#111" stroke-width="0.8"/>
<line x1="452.12" y1="239.8" x2="452.12" y2="241.50" stroke="#111" stroke-width="0.8"/>
<line x1="429.80" y1="217.26" x2="431.5" y2="217.26" stroke="#111" stroke-width="0.8"/>
<line x1="453.90" y1="239.8" x2="453.90" y2="241.50" stroke="#111" stroke-width="0.8"/>
<line x1="429.80" y1="215.72" x2="431.5" y2="215.72" stroke="#111" stroke-width="0.8"/>
<line x1="455.43" y1="239.8" x2="455.43" y2="241.50" stroke="#111" stroke-width="0.8"/>
<line x1="429.80" y1="214.35" x2="431.5" y2="214.35" stroke="#111" stroke-width="0.8"/>
<line x1="456.79" y1="239.8" x2="456.79" y2="241.50" stroke="#111" stroke-width="0.8"/>
<line x1="427.30" y1="213.13" x2="431.5" y2="213.13" stroke="#111" stroke-width="1.1"/>
<line x1="458.00" y1="239.8" x2="458.00" y2="244.00" stroke="#111" stroke-width="1.1"/>
<line x1="429.80" y1="205.11" x2="431.5" y2="205.11" stroke="#111" stroke-width="0.8"/>
<line x1="465.98" y1="239.8" x2="465.98" y2="241.50" stroke="#111" stroke-width="0.8"/>
<line x1="429.80" y1="200.41" x2="431.5" y2="200.41" stroke="#111" stroke-width="0.8"/>
<line x1="470.64" y1="239.8" x2="470.64" y2="241.50" stroke="#111" stroke-width="0.8"/>
<line x1="429.80" y1="197.08" x2="431.5" y2="197.08" stroke="#111" stroke-width="0.8"/>
<line x1="473.95" y1="239.8" x2="473.95" y2="241.50" stroke="#111" stroke-width="0.8"/>
<line x1="429.80" y1="194.49" x2="431.5" y2="194.49" stroke="#111" stroke-width="0.8"/>
<line x1="476.52" y1="239.8" x2="476.52" y2="241.50" stroke="#111" stroke-width="0.8"/>
<line x1="429.80" y1="192.38" x2="431.5" y2="192.38" stroke="#111" stroke-width="0.8"/>
<line x1="478.62" y1="239.8" x2="478.62" y2="241.50" stroke="#111" stroke-width="0.8"/>
<line x1="429.80" y1="190.60" x2="431.5" y2="190.60" stroke="#111" stroke-width="0.8"/>
<line x1="480.40" y1="239.8" x2="480.40" y2="241.50" stroke="#111" stroke-width="0.8"/>
<line x1="429.80" y1="189.05" x2="431.5" y2="189.05" stroke="#111" stroke-width="0.8"/>
<line x1="481.93" y1="239.8" x2="481.93" y2="241.50" stroke="#111" stroke-width="0.8"/>
<line x1="429.80" y1="187.69" x2="431.5" y2="187.69" stroke="#111" stroke-width="0.8"/>
<line x1="483.29" y1="239.8" x2="483.29" y2="241.50" stroke="#111" stroke-width="0.8"/>
<line x1="427.30" y1="186.47" x2="431.5" y2="186.47" stroke="#111" stroke-width="1.1"/>
<line x1="484.50" y1="239.8" x2="484.50" y2="244.00" stroke="#111" stroke-width="1.1"/>
<line x1="429.80" y1="178.44" x2="431.5" y2="178.44" stroke="#111" stroke-width="0.8"/>
<line x1="492.48" y1="239.8" x2="492.48" y2="241.50" stroke="#111" stroke-width="0.8"/>
<line x1="429.80" y1="173.74" x2="431.5" y2="173.74" stroke="#111" stroke-width="0.8"/>
<line x1="497.14" y1="239.8" x2="497.14" y2="241.50" stroke="#111" stroke-width="0.8"/>
<line x1="429.80" y1="170.41" x2="431.5" y2="170.41" stroke="#111" stroke-width="0.8"/>
<line x1="500.45" y1="239.8" x2="500.45" y2="241.50" stroke="#111" stroke-width="0.8"/>
<line x1="429.80" y1="167.83" x2="431.5" y2="167.83" stroke="#111" stroke-width="0.8"/>
<line x1="503.02" y1="239.8" x2="503.02" y2="241.50" stroke="#111" stroke-width="0.8"/>
<line x1="429.80" y1="165.72" x2="431.5" y2="165.72" stroke="#111" stroke-width="0.8"/>
<line x1="505.12" y1="239.8" x2="505.12" y2="241.50" stroke="#111" stroke-width="0.8"/>
<line x1="429.80" y1="163.93" x2="431.5" y2="163.93" stroke="#111" stroke-width="0.8"/>
<line x1="506.90" y1="239.8" x2="506.90" y2="241.50" stroke="#111" stroke-width="0.8"/>
<line x1="429.80" y1="162.38" x2="431.5" y2="162.38" stroke="#111" stroke-width="0.8"/>
<line x1="508.43" y1="239.8" x2="508.43" y2="241.50" stroke="#111" stroke-width="0.8"/>
<line x1="429.80" y1="161.02" x2="431.5" y2="161.02" stroke="#111" stroke-width="0.8"/>
<line x1="509.79" y1="239.8" x2="509.79" y2="241.50" stroke="#111" stroke-width="0.8"/>
<line x1="427.30" y1="159.8" x2="431.5" y2="159.8" stroke="#111" stroke-width="1.1"/>
<line x1="511.0" y1="239.8" x2="511.0" y2="244.0" stroke="#111" stroke-width="1.1"/>
<text x="0" y="0" transform="translate(422.40,240.60) rotate(-90)" font-family="&quot;Liberation Serif&quot;, serif" font-weight="bold" font-size="6.4" text-anchor="middle" fill="#111">10<tspan dy="-2.0" font-size="4.0">0</tspan></text>
<text x="432.40" y="255.80" font-family="&quot;Liberation Serif&quot;, serif" font-weight="bold" font-size="6.4" text-anchor="middle" fill="#111">10<tspan dy="-2.0" font-size="4.0">0</tspan></text>
<text x="0" y="0" transform="translate(422.40,213.93) rotate(-90)" font-family="&quot;Liberation Serif&quot;, serif" font-weight="bold" font-size="6.4" text-anchor="middle" fill="#111">10<tspan dy="-2.0" font-size="4.0">1</tspan></text>
<text x="458.90" y="255.80" font-family="&quot;Liberation Serif&quot;, serif" font-weight="bold" font-size="6.4" text-anchor="middle" fill="#111">10<tspan dy="-2.0" font-size="4.0">1</tspan></text>
<text x="0" y="0" transform="translate(422.40,187.27) rotate(-90)" font-family="&quot;Liberation Serif&quot;, serif" font-weight="bold" font-size="6.4" text-anchor="middle" fill="#111">10<tspan dy="-2.0" font-size="4.0">2</tspan></text>
<text x="485.40" y="255.80" font-family="&quot;Liberation Serif&quot;, serif" font-weight="bold" font-size="6.4" text-anchor="middle" fill="#111">10<tspan dy="-2.0" font-size="4.0">2</tspan></text>
<text x="0" y="0" transform="translate(422.40,160.60) rotate(-90)" font-family="&quot;Liberation Serif&quot;, serif" font-weight="bold" font-size="6.4" text-anchor="middle" fill="#111">10<tspan dy="-2.0" font-size="4.0">3</tspan></text>
<text x="511.90" y="255.80" font-family="&quot;Liberation Serif&quot;, serif" font-weight="bold" font-size="6.4" text-anchor="middle" fill="#111">10<tspan dy="-2.0" font-size="4.0">3</tspan></text>
<text x="472.45" y="274.3" font-family="&quot;Liberation Serif&quot;, serif" font-weight="bold" font-size="9.8" text-anchor="middle" fill="#111">6F10.3 - FITC</text>
<text x="0" y="0" transform="translate(405.8,199.6) rotate(-90)" font-family="&quot;Liberation Serif&quot;, serif" font-weight="bold" font-size="9.8" text-anchor="middle" fill="#111">RPA2.10 - PE</text>
<rect x="432.8" y="289.8" width="79.70" height="80.60" fill="none" stroke="#111" stroke-width="1.05"/>
<line x1="458.5" y1="289.8" x2="458.5" y2="370.4" stroke="#222" stroke-width="0.95"/>
<line x1="432.8" y1="344.9" x2="512.5" y2="344.9" stroke="#222" stroke-width="0.95"/>
<line x1="428.60" y1="370.40" x2="432.8" y2="370.40" stroke="#111" stroke-width="1.1"/>
<line x1="432.80" y1="370.4" x2="432.80" y2="374.60" stroke="#111" stroke-width="1.1"/>
<line x1="431.10" y1="362.31" x2="432.8" y2="362.31" stroke="#111" stroke-width="0.8"/>
<line x1="440.80" y1="370.4" x2="440.80" y2="372.10" stroke="#111" stroke-width="0.8"/>
<line x1="431.10" y1="357.58" x2="432.8" y2="357.58" stroke="#111" stroke-width="0.8"/>
<line x1="445.48" y1="370.4" x2="445.48" y2="372.10" stroke="#111" stroke-width="0.8"/>
<line x1="431.10" y1="354.22" x2="432.8" y2="354.22" stroke="#111" stroke-width="0.8"/>
<line x1="448.79" y1="370.4" x2="448.79" y2="372.10" stroke="#111" stroke-width="0.8"/>
<line x1="431.10" y1="351.62" x2="432.8" y2="351.62" stroke="#111" stroke-width="0.8"/>
<line x1="451.37" y1="370.4" x2="451.37" y2="372.10" stroke="#111" stroke-width="0.8"/>
<line x1="431.10" y1="349.49" x2="432.8" y2="349.49" stroke="#111" stroke-width="0.8"/>
<line x1="453.47" y1="370.4" x2="453.47" y2="372.10" stroke="#111" stroke-width="0.8"/>
<line x1="431.10" y1="347.70" x2="432.8" y2="347.70" stroke="#111" stroke-width="0.8"/>
<line x1="455.25" y1="370.4" x2="455.25" y2="372.10" stroke="#111" stroke-width="0.8"/>
<line x1="431.10" y1="346.14" x2="432.8" y2="346.14" stroke="#111" stroke-width="0.8"/>
<line x1="456.79" y1="370.4" x2="456.79" y2="372.10" stroke="#111" stroke-width="0.8"/>
<line x1="431.10" y1="344.76" x2="432.8" y2="344.76" stroke="#111" stroke-width="0.8"/>
<line x1="458.15" y1="370.4" x2="458.15" y2="372.10" stroke="#111" stroke-width="0.8"/>
<line x1="428.60" y1="343.53" x2="432.8" y2="343.53" stroke="#111" stroke-width="1.1"/>
<line x1="459.37" y1="370.4" x2="459.37" y2="374.60" stroke="#111" stroke-width="1.1"/>
<line x1="431.10" y1="335.45" x2="432.8" y2="335.45" stroke="#111" stroke-width="0.8"/>
<line x1="467.36" y1="370.4" x2="467.36" y2="372.10" stroke="#111" stroke-width="0.8"/>
<line x1="431.10" y1="330.71" x2="432.8" y2="330.71" stroke="#111" stroke-width="0.8"/>
<line x1="472.04" y1="370.4" x2="472.04" y2="372.10" stroke="#111" stroke-width="0.8"/>
<line x1="431.10" y1="327.36" x2="432.8" y2="327.36" stroke="#111" stroke-width="0.8"/>
<line x1="475.36" y1="370.4" x2="475.36" y2="372.10" stroke="#111" stroke-width="0.8"/>
<line x1="431.10" y1="324.75" x2="432.8" y2="324.75" stroke="#111" stroke-width="0.8"/>
<line x1="477.94" y1="370.4" x2="477.94" y2="372.10" stroke="#111" stroke-width="0.8"/>
<line x1="431.10" y1="322.63" x2="432.8" y2="322.63" stroke="#111" stroke-width="0.8"/>
<line x1="480.04" y1="370.4" x2="480.04" y2="372.10" stroke="#111" stroke-width="0.8"/>
<line x1="431.10" y1="320.83" x2="432.8" y2="320.83" stroke="#111" stroke-width="0.8"/>
<line x1="481.82" y1="370.4" x2="481.82" y2="372.10" stroke="#111" stroke-width="0.8"/>
<line x1="431.10" y1="319.27" x2="432.8" y2="319.27" stroke="#111" stroke-width="0.8"/>
<line x1="483.36" y1="370.4" x2="483.36" y2="372.10" stroke="#111" stroke-width="0.8"/>
<line x1="431.10" y1="317.90" x2="432.8" y2="317.90" stroke="#111" stroke-width="0.8"/>
<line x1="484.72" y1="370.4" x2="484.72" y2="372.10" stroke="#111" stroke-width="0.8"/>
<line x1="428.60" y1="316.67" x2="432.8" y2="316.67" stroke="#111" stroke-width="1.1"/>
<line x1="485.93" y1="370.4" x2="485.93" y2="374.60" stroke="#111" stroke-width="1.1"/>
<line x1="431.10" y1="308.58" x2="432.8" y2="308.58" stroke="#111" stroke-width="0.8"/>
<line x1="493.93" y1="370.4" x2="493.93" y2="372.10" stroke="#111" stroke-width="0.8"/>
<line x1="431.10" y1="303.85" x2="432.8" y2="303.85" stroke="#111" stroke-width="0.8"/>
<line x1="498.61" y1="370.4" x2="498.61" y2="372.10" stroke="#111" stroke-width="0.8"/>
<line x1="431.10" y1="300.49" x2="432.8" y2="300.49" stroke="#111" stroke-width="0.8"/>
<line x1="501.93" y1="370.4" x2="501.93" y2="372.10" stroke="#111" stroke-width="0.8"/>
<line x1="431.10" y1="297.89" x2="432.8" y2="297.89" stroke="#111" stroke-width="0.8"/>
<line x1="504.50" y1="370.4" x2="504.50" y2="372.10" stroke="#111" stroke-width="0.8"/>
<line x1="431.10" y1="295.76" x2="432.8" y2="295.76" stroke="#111" stroke-width="0.8"/>
<line x1="506.61" y1="370.4" x2="506.61" y2="372.10" stroke="#111" stroke-width="0.8"/>
<line x1="431.10" y1="293.96" x2="432.8" y2="293.96" stroke="#111" stroke-width="0.8"/>
<line x1="508.38" y1="370.4" x2="508.38" y2="372.10" stroke="#111" stroke-width="0.8"/>
<line x1="431.10" y1="292.40" x2="432.8" y2="292.40" stroke="#111" stroke-width="0.8"/>
<line x1="509.93" y1="370.4" x2="509.93" y2="372.10" stroke="#111" stroke-width="0.8"/>
<line x1="431.10" y1="291.03" x2="432.8" y2="291.03" stroke="#111" stroke-width="0.8"/>
<line x1="511.28" y1="370.4" x2="511.28" y2="372.10" stroke="#111" stroke-width="0.8"/>
<line x1="428.60" y1="289.8" x2="432.8" y2="289.8" stroke="#111" stroke-width="1.1"/>
<line x1="512.5" y1="370.4" x2="512.5" y2="374.59999999999997" stroke="#111" stroke-width="1.1"/>
<text x="0" y="0" transform="translate(424.00,371.20) rotate(-90)" font-family="&quot;Liberation Serif&quot;, serif" font-weight="bold" font-size="6.4" text-anchor="middle" fill="#111">10<tspan dy="-2.0" font-size="4.0">0</tspan></text>
<text x="433.70" y="386.20" font-family="&quot;Liberation Serif&quot;, serif" font-weight="bold" font-size="6.4" text-anchor="middle" fill="#111">10<tspan dy="-2.0" font-size="4.0">0</tspan></text>
<text x="0" y="0" transform="translate(424.00,344.33) rotate(-90)" font-family="&quot;Liberation Serif&quot;, serif" font-weight="bold" font-size="6.4" text-anchor="middle" fill="#111">10<tspan dy="-2.0" font-size="4.0">1</tspan></text>
<text x="460.27" y="386.20" font-family="&quot;Liberation Serif&quot;, serif" font-weight="bold" font-size="6.4" text-anchor="middle" fill="#111">10<tspan dy="-2.0" font-size="4.0">1</tspan></text>
<text x="0" y="0" transform="translate(424.00,317.47) rotate(-90)" font-family="&quot;Liberation Serif&quot;, serif" font-weight="bold" font-size="6.4" text-anchor="middle" fill="#111">10<tspan dy="-2.0" font-size="4.0">2</tspan></text>
<text x="486.83" y="386.20" font-family="&quot;Liberation Serif&quot;, serif" font-weight="bold" font-size="6.4" text-anchor="middle" fill="#111">10<tspan dy="-2.0" font-size="4.0">2</tspan></text>
<text x="0" y="0" transform="translate(424.00,290.60) rotate(-90)" font-family="&quot;Liberation Serif&quot;, serif" font-weight="bold" font-size="6.4" text-anchor="middle" fill="#111">10<tspan dy="-2.0" font-size="4.0">3</tspan></text>
<text x="513.40" y="386.20" font-family="&quot;Liberation Serif&quot;, serif" font-weight="bold" font-size="6.4" text-anchor="middle" fill="#111">10<tspan dy="-2.0" font-size="4.0">3</tspan></text>
<text x="473.65" y="404.4" font-family="&quot;Liberation Serif&quot;, serif" font-weight="bold" font-size="9.8" text-anchor="middle" fill="#111">VIT13 - FITC</text>
<text x="0" y="0" transform="translate(410.4,325.6) rotate(-90)" font-family="&quot;Liberation Serif&quot;, serif" font-weight="bold" font-size="9.8" text-anchor="middle" fill="#111" textLength="63.5" lengthAdjust="spacing">RPA-2.10 -  PE</text>
<path d="M473.6 64.5h1v1h-1zM461.2 74.7h1v1h-1zM455.0 74.4h1v1h-1zM471.9 60.4h1v1h-1zM455.4 76.4h1v1h-1zM451.4 75.5h1v1h-1zM464.8 66.1h1v1h-1zM458.5 70.2h1v1h-1zM464.0 64.7h1v1h-1zM467.5 66.2h1v1h-1zM470.1 62.2h1v1h-1zM463.4 68.4h1v1h-1zM475.6 64.3h1v1h-1zM462.0 70.3h1v1h-1zM452.3 77.7h1v1h-1zM468.9 61.7h1v1h-1zM451.3 78.4h1v1h-1zM455.5 77.0h1v1h-1zM469.3 65.7h1v1h-1zM467.4 70.1h1v1h-1zM462.9 67.8h1v1h-1zM465.9 66.0h1v1h-1zM461.4 68.1h1v1h-1zM455.4 78.2h1v1h-1zM471.5 66.0h1v1h-1zM460.0 72.5h1v1h-1zM472.3 63.9h1v1h-1zM460.8 72.0h1v1h-1zM462.8 65.2h1v1h-1zM456.3 70.0h1v1h-1zM466.3 68.1h1v1h-1zM467.4 65.9h1v1h-1zM467.3 64.1h1v1h-1zM453.1 79.7h1v1h-1zM470.1 65.2h1v1h-1zM470.5 62.5h1v1h-1zM451.0 73.4h1v1h-1zM454.0 70.1h1v1h-1zM460.1 66.2h1v1h-1zM457.4 68.1h1v1h-1zM464.1 67.2h1v1h-1zM454.7 70.3h1v1h-1zM466.2 67.9h1v1h-1zM469.9 63.4h1v1h-1zM468.4 66.7h1v1h-1zM461.7 66.0h1v1h-1zM456.6 75.2h1v1h-1zM451.2 74.7h1v1h-1zM458.5 75.1h1v1h-1zM469.5 59.3h.9v.9h-.9zM459.7 71.9h1v1h-1zM461.3 72.7h1v1h-1zM462.5 73.6h1v1h-1zM468.1 66.3h1v1h-1zM458.9 67.5h1v1h-1zM457.0 67.8h1v1h-1zM456.3 71.2h1v1h-1zM471.8 63.9h1v1h-1zM471.8 66.8h1v1h-1zM457.0 73.9h1v1h-1zM457.6 69.7h1v1h-1zM460.5 69.5h1v1h-1zM463.6 66.3h1v1h-1zM453.4 77.4h1v1h-1zM455.1 69.7h1v1h-1zM459.3 71.9h1v1h-1zM469.2 61.2h1v1h-1zM455.5 69.4h1v1h-1zM470.2 66.4h1v1h-1zM462.4 66.7h1v1h-1zM471.1 67.5h1v1h-1zM458.0 68.8h1v1h-1zM463.0 65.6h1v1h-1zM458.5 72.5h1v1h-1zM468.0 61.2h1v1h-1zM473.9 67.2h.9v.9h-.9zM456.2 75.6h1v1h-1zM463.8 72.6h1v1h-1zM460.3 74.2h1v1h-1zM456.9 77.9h1v1h-1zM455.1 76.1h1v1h-1zM455.1 71.8h1v1h-1zM454.6 71.9h1v1h-1zM467.5 65.8h1v1h-1zM457.4 69.6h1v1h-1zM469.2 63.7h1v1h-1zM456.6 74.7h1v1h-1zM460.1 66.5h1v1h-1zM470.8 62.8h1v1h-1zM467.4 64.4h1v1h-1zM456.9 73.5h1v1h-1zM452.5 71.4h1v1h-1zM461.2 64.9h1v1h-1zM471.1 63.2h1v1h-1zM469.0 60.8h1v1h-1zM474.7 62.5h1v1h-1zM456.8 71.5h1v1h-1zM466.3 67.4h1v1h-1zM475.8 62.9h.9v.9h-.9zM469.7 60.8h1v1h-1zM469.1 63.3h1v1h-1zM465.3 63.6h1v1h-1zM463.3 67.2h1v1h-1zM459.6 67.9h1v1h-1zM469.9 63.9h1v1h-1zM462.6 73.1h1v1h-1zM454.6 70.5h1v1h-1zM460.1 71.5h1v1h-1zM463.1 70.7h1v1h-1zM465.2 68.1h1v1h-1zM455.3 73.2h1v1h-1zM451.4 78.6h1v1h-1zM460.7 72.6h1v1h-1zM460.3 74.6h1v1h-1zM467.4 66.5h1v1h-1zM453.4 71.5h1v1h-1zM470.2 66.9h1v1h-1zM465.3 65.2h1v1h-1zM463.6 64.1h1v1h-1zM466.2 69.9h1v1h-1zM459.4 71.4h1v1h-1zM451.3 77.1h1v1h-1zM470.1 63.2h1v1h-1zM451.3 74.0h1v1h-1zM452.3 77.7h1v1h-1zM471.6 64.4h1v1h-1zM461.9 72.2h1v1h-1zM474.1 63.4h1v1h-1zM470.6 59.7h1v1h-1zM467.4 67.3h1v1h-1zM469.5 68.1h1v1h-1zM467.1 70.0h1v1h-1zM462.9 67.0h1v1h-1zM471.6 60.3h1v1h-1zM456.9 73.7h1v1h-1zM465.9 70.7h1v1h-1zM464.2 63.7h1v1h-1zM469.1 62.0h1v1h-1zM455.0 80.1h1v1h-1zM473.6 59.5h1v1h-1zM464.9 68.7h1v1h-1zM458.2 69.0h1v1h-1zM456.8 75.9h1v1h-1zM464.1 61.3h.9v.9h-.9zM455.0 76.5h1v1h-1zM449.6 73.3h.9v.9h-.9zM458.4 69.2h1v1h-1zM457.0 77.0h1v1h-1zM464.5 65.2h1v1h-1zM453.1 78.6h1v1h-1zM452.0 75.4h1v1h-1zM457.9 70.7h1v1h-1zM454.2 77.5h1v1h-1zM459.2 74.8h1v1h-1zM458.3 70.5h1v1h-1zM465.2 69.0h1v1h-1zM453.7 77.5h1v1h-1zM452.5 72.2h1v1h-1zM473.8 62.5h1v1h-1zM468.5 65.5h1v1h-1zM457.1 68.6h1v1h-1zM457.6 72.5h1v1h-1zM453.5 71.3h1v1h-1zM462.0 69.1h1v1h-1zM466.9 68.7h1v1h-1zM462.8 65.5h1v1h-1zM458.7 75.3h1v1h-1zM469.7 68.6h1v1h-1zM470.6 59.9h1v1h-1zM471.0 68.5h.9v.9h-.9zM462.2 70.2h1v1h-1zM467.8 65.0h1v1h-1zM467.6 65.7h1v1h-1zM461.3 70.7h1v1h-1zM455.9 69.8h1v1h-1zM472.9 62.1h1v1h-1zM470.9 65.2h1v1h-1zM456.4 77.0h1v1h-1zM458.0 72.2h1v1h-1zM453.8 73.7h1v1h-1zM456.1 72.7h1v1h-1zM464.2 69.2h1v1h-1zM453.1 75.8h1v1h-1zM474.4 63.8h1v1h-1zM453.0 71.2h1v1h-1zM465.8 68.1h1v1h-1zM452.1 77.5h1v1h-1zM472.1 62.1h1v1h-1zM460.7 66.5h1v1h-1zM451.6 77.0h1v1h-1zM463.8 65.6h1v1h-1zM462.1 72.0h1v1h-1zM468.0 66.0h1v1h-1zM456.5 70.8h1v1h-1zM455.2 76.5h1v1h-1zM454.1 70.4h1v1h-1zM460.5 73.6h1v1h-1zM454.1 75.3h1v1h-1zM455.1 70.0h1v1h-1zM454.0 71.6h1v1h-1zM464.8 63.2h1v1h-1zM462.1 65.8h1v1h-1zM460.3 73.4h1v1h-1zM476.2 67.1h.9v.9h-.9zM453.2 74.2h1v1h-1zM466.3 68.2h1v1h-1zM456.5 73.7h1v1h-1zM465.0 65.8h1v1h-1zM470.0 67.4h1v1h-1zM469.0 65.5h1v1h-1zM472.1 62.8h1v1h-1zM456.2 72.6h1v1h-1zM452.8 73.9h1v1h-1zM456.9 70.9h1v1h-1zM461.5 67.1h1v1h-1zM466.2 69.6h1v1h-1zM461.3 73.0h1v1h-1zM455.0 71.7h1v1h-1zM456.9 75.2h1v1h-1zM456.1 75.8h1v1h-1zM469.9 60.8h1v1h-1zM464.8 67.5h1v1h-1zM457.6 71.2h1v1h-1zM463.5 64.1h1v1h-1zM451.7 72.7h1v1h-1zM467.1 68.4h1v1h-1zM473.6 60.3h1v1h-1zM454.9 71.1h1v1h-1zM454.7 73.3h1v1h-1zM464.6 65.5h1v1h-1zM472.2 66.8h1v1h-1zM473.5 59.8h1v1h-1zM457.5 72.0h1v1h-1zM465.2 68.5h1v1h-1zM457.2 72.7h1v1h-1zM468.2 67.9h1v1h-1zM465.7 70.3h1v1h-1zM454.0 72.7h1v1h-1zM473.8 62.8h1v1h-1zM460.0 65.9h1v1h-1zM461.6 70.4h1v1h-1zM469.6 62.7h1v1h-1zM454.5 79.2h1v1h-1zM461.5 75.8h.9v.9h-.9zM457.9 73.2h1v1h-1zM451.6 76.0h1v1h-1zM468.5 66.5h1v1h-1zM454.4 75.6h1v1h-1zM458.2 74.4h1v1h-1zM465.3 68.1h1v1h-1zM471.2 60.3h1v1h-1zM455.7 73.6h1v1h-1zM457.1 74.9h1v1h-1zM452.2 70.6h.9v.9h-.9zM470.7 60.7h1v1h-1zM469.3 68.1h1v1h-1zM462.4 67.0h1v1h-1zM457.5 74.9h1v1h-1zM452.7 75.0h1v1h-1zM453.9 72.2h1v1h-1zM471.3 63.4h1v1h-1zM469.5 68.5h1v1h-1zM457.2 66.4h.9v.9h-.9zM455.9 79.1h1v1h-1zM472.9 64.5h1v1h-1zM473.3 63.9h1v1h-1zM450.9 77.7h1v1h-1zM451.5 73.0h1v1h-1zM454.3 76.7h1v1h-1zM474.3 58.7h.9v.9h-.9zM458.3 68.6h1v1h-1zM453.1 75.8h1v1h-1zM461.3 67.3h1v1h-1zM461.2 69.4h1v1h-1zM467.6 66.3h1v1h-1zM464.8 64.0h1v1h-1zM473.7 63.0h1v1h-1zM462.7 69.0h1v1h-1zM462.6 74.5h.9v.9h-.9zM458.8 72.7h1v1h-1zM460.2 71.9h1v1h-1zM463.0 68.2h1v1h-1zM465.3 70.6h1v1h-1zM467.4 66.7h1v1h-1zM461.6 70.3h1v1h-1zM454.2 72.0h1v1h-1zM458.5 74.2h1v1h-1zM457.3 77.3h1v1h-1zM460.9 73.1h1v1h-1zM474.4 62.4h1v1h-1zM474.3 62.7h1v1h-1zM469.9 62.1h1v1h-1zM463.0 73.1h1v1h-1zM470.6 61.3h1v1h-1zM463.4 72.5h1v1h-1zM457.3 71.3h1v1h-1zM452.1 77.6h1v1h-1zM459.2 69.5h1v1h-1zM458.0 71.9h1v1h-1zM450.8 74.3h1v1h-1zM455.7 74.6h1v1h-1zM459.8 66.3h1v1h-1zM467.2 65.9h1v1h-1zM474.2 62.5h1v1h-1zM470.4 63.1h1v1h-1zM449.8 73.8h.9v.9h-.9zM460.3 70.1h1v1h-1zM450.3 76.5h.9v.9h-.9zM461.8 67.1h1v1h-1zM458.3 67.1h1v1h-1zM452.9 78.4h1v1h-1zM452.1 72.5h1v1h-1zM455.7 77.4h1v1h-1zM460.3 65.5h1v1h-1zM474.3 63.9h1v1h-1zM456.0 74.8h1v1h-1zM466.3 62.2h.9v.9h-.9zM464.8 62.3h.9v.9h-.9zM469.9 63.7h1v1h-1zM463.2 70.5h1v1h-1zM470.2 60.9h1v1h-1zM452.1 75.5h1v1h-1zM469.7 63.2h1v1h-1zM472.9 62.1h1v1h-1zM457.5 67.8h1v1h-1zM470.1 64.7h1v1h-1zM468.0 64.0h1v1h-1zM459.3 68.7h1v1h-1zM462.0 66.8h1v1h-1zM464.1 69.0h1v1h-1zM471.7 61.4h1v1h-1zM458.1 68.2h1v1h-1zM473.0 59.7h1v1h-1zM472.5 59.1h1v1h-1zM465.0 65.4h1v1h-1zM461.0 67.3h1v1h-1zM466.1 70.1h1v1h-1zM450.2 72.9h.9v.9h-.9zM454.7 72.7h1v1h-1zM467.6 65.9h1v1h-1zM473.1 67.1h.9v.9h-.9zM463.3 72.2h1v1h-1zM469.2 60.7h1v1h-1zM454.0 78.5h1v1h-1zM455.8 75.5h1v1h-1zM464.2 70.5h1v1h-1zM457.3 73.2h1v1h-1zM455.1 71.1h1v1h-1zM459.7 66.5h1v1h-1zM465.8 71.7h1v1h-1zM471.8 60.4h1v1h-1zM462.4 71.1h1v1h-1zM458.6 76.8h.9v.9h-.9zM456.1 72.8h1v1h-1zM468.0 62.5h1v1h-1zM472.8 63.5h1v1h-1zM475.0 63.5h1v1h-1zM455.2 69.5h1v1h-1zM469.9 61.1h1v1h-1zM465.2 66.7h1v1h-1zM465.2 64.1h1v1h-1zM452.8 78.4h1v1h-1zM467.1 70.5h1v1h-1zM464.5 68.7h1v1h-1zM457.3 75.3h1v1h-1zM463.0 67.6h1v1h-1zM466.1 72.8h.9v.9h-.9zM472.9 61.2h1v1h-1zM470.1 62.2h1v1h-1zM469.1 67.6h1v1h-1zM467.6 65.0h1v1h-1zM457.9 76.8h1v1h-1zM460.1 73.5h1v1h-1zM470.5 63.6h1v1h-1zM472.3 67.0h1v1h-1zM461.2 68.9h1v1h-1zM451.2 73.7h1v1h-1zM464.4 66.6h1v1h-1zM468.1 64.6h1v1h-1zM452.6 80.1h1v1h-1zM462.1 68.0h1v1h-1zM465.7 72.9h.9v.9h-.9zM469.6 63.1h1v1h-1zM472.4 62.8h1v1h-1zM460.1 72.9h1v1h-1zM466.5 64.7h1v1h-1zM455.4 79.4h1v1h-1zM455.6 76.5h1v1h-1zM473.2 59.8h1v1h-1zM462.4 71.8h1v1h-1zM472.7 64.0h1v1h-1zM455.3 74.7h1v1h-1zM453.3 79.8h1v1h-1zM451.4 77.5h1v1h-1zM456.6 75.6h1v1h-1zM468.2 61.5h1v1h-1zM458.8 73.6h1v1h-1zM461.9 68.3h1v1h-1zM458.5 72.1h1v1h-1zM465.2 70.0h1v1h-1zM470.0 67.8h1v1h-1zM456.4 77.8h1v1h-1zM467.5 68.0h1v1h-1zM466.5 68.9h1v1h-1zM457.8 72.5h1v1h-1zM460.5 77.2h.9v.9h-.9zM460.9 68.0h1v1h-1zM456.5 72.8h1v1h-1zM468.0 66.7h1v1h-1zM457.1 77.8h1v1h-1zM464.8 71.7h1v1h-1zM454.2 78.5h1v1h-1zM472.2 63.0h1v1h-1zM462.5 68.9h1v1h-1zM457.9 72.6h1v1h-1zM451.8 74.5h1v1h-1zM465.1 64.6h1v1h-1zM456.3 77.5h1v1h-1zM466.7 63.5h1v1h-1zM458.5 67.2h1v1h-1zM472.9 63.4h1v1h-1zM471.3 67.6h1v1h-1zM471.7 68.9h.9v.9h-.9zM464.6 71.8h1v1h-1zM458.9 72.3h1v1h-1zM470.0 63.6h1v1h-1zM468.5 69.7h1v1h-1zM457.2 67.5h1v1h-1zM473.4 64.3h1v1h-1zM459.2 71.1h1v1h-1zM465.9 65.2h1v1h-1zM471.7 60.6h1v1h-1zM452.9 74.2h1v1h-1zM471.9 68.4h.9v.9h-.9zM459.0 77.3h.9v.9h-.9zM466.6 63.1h1v1h-1zM460.5 71.0h1v1h-1zM462.3 70.4h1v1h-1zM467.6 69.0h1v1h-1zM471.1 62.7h1v1h-1zM460.2 69.9h1v1h-1zM458.4 69.5h1v1h-1zM463.2 64.7h1v1h-1zM467.2 66.8h1v1h-1zM459.0 73.4h1v1h-1zM459.9 72.3h1v1h-1zM459.8 73.9h1v1h-1zM472.8 63.3h1v1h-1zM471.1 61.4h1v1h-1zM470.7 66.5h1v1h-1zM471.1 64.8h1v1h-1zM467.7 71.2h.9v.9h-.9zM456.4 69.7h1v1h-1zM469.0 64.3h1v1h-1zM452.1 77.6h1v1h-1zM475.0 63.3h1v1h-1zM469.1 66.5h1v1h-1zM461.8 66.1h1v1h-1zM454.9 74.9h1v1h-1zM462.0 64.9h1v1h-1zM454.2 71.4h1v1h-1zM460.3 70.2h1v1h-1zM469.6 65.6h1v1h-1zM462.9 67.8h1v1h-1zM469.6 66.6h1v1h-1zM455.6 76.7h1v1h-1zM449.7 73.9h.9v.9h-.9zM461.6 72.2h1v1h-1zM471.9 64.0h1v1h-1zM451.6 75.2h1v1h-1zM458.9 66.8h1v1h-1zM454.7 74.9h1v1h-1zM454.9 70.2h1v1h-1zM467.9 67.3h1v1h-1zM466.7 68.9h1v1h-1zM458.2 67.9h1v1h-1zM463.3 64.3h1v1h-1zM476.0 67.2h.9v.9h-.9zM468.7 62.5h1v1h-1zM473.2 61.8h1v1h-1zM463.9 71.3h1v1h-1zM450.6 79.5h.9v.9h-.9zM465.6 70.1h1v1h-1zM461.7 74.1h1v1h-1zM469.3 67.9h1v1h-1zM462.8 70.9h1v1h-1zM463.1 65.1h1v1h-1zM470.5 68.5h1v1h-1zM454.3 72.4h1v1h-1zM473.6 66.5h1v1h-1zM455.7 78.6h1v1h-1zM463.6 72.0h1v1h-1zM469.8 63.0h1v1h-1zM466.4 63.7h1v1h-1zM467.7 67.7h1v1h-1zM451.9 79.4h1v1h-1zM465.9 65.7h1v1h-1zM451.8 78.3h1v1h-1zM470.7 64.4h1v1h-1zM471.3 62.3h1v1h-1zM454.7 78.6h1v1h-1zM461.4 68.5h1v1h-1zM461.0 74.3h1v1h-1zM458.9 72.0h1v1h-1zM462.3 67.5h1v1h-1zM460.7 71.4h1v1h-1zM457.4 72.1h1v1h-1zM451.2 77.8h1v1h-1zM456.7 77.0h1v1h-1zM453.3 71.3h1v1h-1zM460.5 75.6h.9v.9h-.9zM471.1 61.1h1v1h-1zM466.5 71.4h1v1h-1zM450.6 77.0h1v1h-1zM452.6 79.7h1v1h-1zM465.2 71.0h1v1h-1zM461.8 71.3h1v1h-1zM457.9 68.6h1v1h-1zM457.7 75.9h1v1h-1zM458.4 73.6h1v1h-1zM463.5 69.0h1v1h-1zM471.7 62.4h1v1h-1zM454.6 71.3h1v1h-1zM462.2 72.1h1v1h-1zM455.1 78.9h1v1h-1zM455.8 77.4h1v1h-1zM467.4 62.2h1v1h-1zM473.5 60.1h1v1h-1zM457.7 76.0h1v1h-1zM455.8 72.1h1v1h-1zM467.2 65.4h1v1h-1zM462.9 72.6h1v1h-1zM457.7 70.7h1v1h-1zM457.2 74.5h1v1h-1zM456.6 72.1h1v1h-1zM449.4 78.2h.9v.9h-.9zM461.7 65.9h1v1h-1zM472.0 61.4h1v1h-1zM451.5 72.7h1v1h-1zM458.7 66.5h1v1h-1zM470.1 68.2h1v1h-1zM463.5 65.7h1v1h-1zM466.2 65.6h1v1h-1zM473.7 59.5h1v1h-1zM461.0 67.9h1v1h-1zM457.1 74.5h1v1h-1zM472.9 65.4h1v1h-1zM472.4 63.0h1v1h-1zM470.4 61.6h1v1h-1zM453.7 71.5h1v1h-1zM453.9 74.0h1v1h-1zM465.1 64.6h1v1h-1zM465.1 65.6h1v1h-1zM465.9 67.9h1v1h-1zM471.3 62.4h1v1h-1zM460.8 64.7h.9v.9h-.9zM474.3 61.4h1v1h-1zM453.4 78.7h1v1h-1zM461.9 69.9h1v1h-1zM452.2 72.8h1v1h-1zM456.6 80.3h.9v.9h-.9zM463.7 75.7h.9v.9h-.9zM459.8 68.0h1v1h-1zM453.5 77.1h1v1h-1zM462.4 72.9h1v1h-1zM468.3 70.2h1v1h-1zM474.1 60.4h1v1h-1zM455.1 70.5h1v1h-1zM455.0 76.9h1v1h-1zM453.3 77.3h1v1h-1zM468.1 66.4h1v1h-1zM470.2 70.0h.9v.9h-.9zM466.0 70.3h1v1h-1zM470.1 62.1h1v1h-1zM462.0 70.3h1v1h-1zM464.4 69.8h1v1h-1zM468.6 68.5h1v1h-1zM467.0 66.5h1v1h-1zM454.2 74.5h1v1h-1zM469.4 65.5h1v1h-1zM469.7 66.7h1v1h-1zM458.1 70.3h1v1h-1zM457.6 77.2h1v1h-1zM465.2 67.7h1v1h-1zM456.2 73.1h1v1h-1zM454.6 77.7h1v1h-1zM460.6 67.1h1v1h-1zM460.0 68.4h1v1h-1zM449.9 74.4h.9v.9h-.9zM455.9 78.5h1v1h-1zM456.4 68.3h1v1h-1zM457.5 67.8h1v1h-1zM462.5 72.6h1v1h-1zM454.6 79.6h1v1h-1zM451.5 72.9h1v1h-1zM454.7 70.6h1v1h-1zM469.5 67.0h1v1h-1zM461.1 67.9h1v1h-1zM461.3 68.5h1v1h-1zM474.1 65.5h1v1h-1zM455.9 70.6h1v1h-1zM463.7 64.6h1v1h-1zM465.8 72.2h.9v.9h-.9zM466.5 62.5h1v1h-1zM453.9 73.2h1v1h-1zM466.2 70.7h1v1h-1zM454.3 80.4h1v1h-1zM467.1 67.4h1v1h-1zM458.1 73.0h1v1h-1zM470.2 67.7h1v1h-1zM455.6 71.8h1v1h-1zM466.9 69.8h1v1h-1zM465.3 64.4h1v1h-1zM466.9 61.9h1v1h-1zM451.6 76.1h1v1h-1zM452.0 75.2h1v1h-1zM458.9 73.6h1v1h-1zM469.1 68.9h1v1h-1zM468.0 62.2h1v1h-1zM464.9 65.0h1v1h-1zM471.6 63.6h1v1h-1zM466.7 71.5h1v1h-1zM456.4 73.3h1v1h-1zM467.0 65.2h1v1h-1zM451.9 79.1h1v1h-1zM455.5 77.6h1v1h-1zM452.4 71.8h1v1h-1zM454.8 77.2h1v1h-1zM455.1 69.6h1v1h-1zM464.6 72.1h1v1h-1zM472.0 61.9h1v1h-1zM461.5 65.5h1v1h-1zM462.9 69.0h1v1h-1zM458.6 69.9h1v1h-1zM473.1 65.9h1v1h-1zM465.2 71.6h1v1h-1zM456.5 70.6h1v1h-1zM462.6 64.6h1v1h-1zM453.8 80.2h1v1h-1zM454.5 76.6h1v1h-1zM472.1 65.3h1v1h-1zM458.1 73.0h1v1h-1zM464.9 72.3h1v1h-1zM453.9 74.7h1v1h-1zM460.0 70.7h1v1h-1zM472.9 63.6h1v1h-1zM458.3 69.5h1v1h-1zM461.8 68.9h1v1h-1zM462.9 71.9h1v1h-1zM468.1 68.1h1v1h-1zM471.8 62.4h1v1h-1zM466.5 73.2h.9v.9h-.9zM455.0 78.1h1v1h-1zM454.0 73.3h1v1h-1zM457.3 77.4h1v1h-1zM456.0 72.1h1v1h-1zM463.5 64.6h1v1h-1zM473.7 63.5h1v1h-1zM470.6 65.3h1v1h-1zM452.9 75.6h1v1h-1zM458.8 67.3h1v1h-1zM471.2 65.9h1v1h-1zM469.5 64.9h1v1h-1zM463.7 69.3h1v1h-1zM451.5 72.8h1v1h-1zM455.2 69.9h1v1h-1zM461.7 65.6h1v1h-1zM460.9 67.0h1v1h-1zM473.9 65.6h1v1h-1zM455.3 74.2h1v1h-1zM472.9 66.4h1v1h-1zM454.3 77.2h1v1h-1zM467.1 65.3h1v1h-1zM461.0 69.3h1v1h-1zM463.9 71.9h1v1h-1zM463.3 65.7h1v1h-1zM469.0 61.2h1v1h-1zM470.4 66.6h1v1h-1zM467.8 68.7h1v1h-1zM461.2 63.0h.9v.9h-.9zM473.5 63.2h1v1h-1zM450.9 77.3h1v1h-1zM460.7 72.0h1v1h-1zM463.8 71.2h1v1h-1zM466.6 64.7h1v1h-1zM459.6 64.4h.9v.9h-.9zM472.5 63.5h1v1h-1zM455.8 71.2h1v1h-1zM472.2 66.2h1v1h-1zM462.1 72.5h1v1h-1zM468.3 66.1h1v1h-1zM457.8 74.0h1v1h-1zM469.0 64.0h1v1h-1zM464.0 66.1h1v1h-1zM451.7 77.2h1v1h-1zM471.5 62.6h1v1h-1zM454.2 76.2h1v1h-1zM460.4 69.7h1v1h-1zM467.5 63.0h1v1h-1zM459.8 66.0h1v1h-1zM465.5 72.2h1v1h-1zM457.7 68.6h1v1h-1zM474.3 64.8h1v1h-1zM470.0 67.5h1v1h-1zM465.1 67.2h1v1h-1zM466.1 71.5h1v1h-1zM452.4 73.3h1v1h-1zM471.5 67.6h1v1h-1zM468.8 64.3h1v1h-1zM456.3 78.0h1v1h-1zM460.9 74.0h1v1h-1zM466.8 69.5h1v1h-1zM471.5 64.5h1v1h-1zM468.1 64.7h1v1h-1zM472.4 61.2h1v1h-1zM455.3 78.0h1v1h-1zM450.8 73.5h1v1h-1zM454.9 74.2h1v1h-1zM464.0 67.7h1v1h-1zM449.6 77.8h.9v.9h-.9zM463.1 69.1h1v1h-1zM464.1 72.6h1v1h-1zM462.3 70.4h1v1h-1zM459.8 68.4h1v1h-1zM469.1 66.2h1v1h-1zM471.3 61.8h1v1h-1zM459.6 69.6h1v1h-1zM456.4 76.0h1v1h-1zM451.0 76.1h1v1h-1zM471.5 66.1h1v1h-1zM472.6 60.5h1v1h-1zM451.9 77.9h1v1h-1zM464.4 61.8h.9v.9h-.9zM467.5 67.1h1v1h-1zM452.8 71.3h1v1h-1zM462.6 73.1h1v1h-1zM455.3 76.2h1v1h-1zM465.3 62.9h1v1h-1zM455.1 75.3h1v1h-1zM462.9 73.6h1v1h-1zM454.8 75.8h1v1h-1zM467.6 69.7h1v1h-1zM453.0 73.9h1v1h-1zM458.4 75.3h1v1h-1zM454.5 78.9h1v1h-1zM464.1 70.8h1v1h-1zM467.9 68.9h1v1h-1zM463.5 64.7h1v1h-1zM462.0 65.9h1v1h-1zM472.8 68.8h.9v.9h-.9zM466.2 63.6h1v1h-1zM463.1 73.5h1v1h-1zM458.4 69.5h1v1h-1zM469.0 69.0h1v1h-1zM455.4 76.0h1v1h-1zM455.6 74.2h1v1h-1zM468.3 63.3h1v1h-1zM453.2 76.0h1v1h-1zM462.2 68.4h1v1h-1zM471.9 64.9h1v1h-1zM473.9 61.5h1v1h-1zM455.3 67.9h.9v.9h-.9zM474.5 64.7h1v1h-1zM459.6 65.2h.9v.9h-.9zM461.5 74.4h1v1h-1zM470.1 60.9h1v1h-1zM473.3 58.7h.9v.9h-.9zM455.2 76.6h1v1h-1zM473.3 63.6h1v1h-1zM473.0 61.8h1v1h-1zM453.7 75.3h1v1h-1zM454.0 73.7h1v1h-1zM465.1 71.1h1v1h-1zM453.4 71.7h1v1h-1zM465.2 69.1h1v1h-1zM472.4 65.3h1v1h-1zM457.8 70.5h1v1h-1zM471.6 61.0h1v1h-1zM462.9 68.6h1v1h-1zM453.2 70.9h1v1h-1zM453.8 77.0h1v1h-1zM468.4 69.6h1v1h-1zM469.2 67.2h1v1h-1zM473.0 65.2h1v1h-1zM461.9 73.2h1v1h-1zM456.4 77.9h1v1h-1zM457.9 71.9h1v1h-1zM463.4 72.2h1v1h-1zM461.8 73.2h1v1h-1zM461.0 68.1h1v1h-1zM471.4 63.5h1v1h-1zM455.4 73.8h1v1h-1zM474.9 62.8h1v1h-1zM452.3 72.6h1v1h-1zM463.1 66.8h1v1h-1zM471.1 63.0h1v1h-1zM451.3 75.2h1v1h-1zM460.9 72.7h1v1h-1zM466.9 70.0h1v1h-1zM458.4 72.5h1v1h-1zM463.6 65.2h1v1h-1zM459.7 70.6h1v1h-1zM473.6 62.1h1v1h-1zM460.1 73.6h1v1h-1zM462.9 72.4h1v1h-1zM455.4 69.4h1v1h-1zM456.3 73.3h1v1h-1zM473.1 63.3h1v1h-1zM466.9 64.6h1v1h-1zM455.1 78.2h1v1h-1zM455.3 75.0h1v1h-1zM458.7 68.2h1v1h-1zM467.6 61.6h1v1h-1zM472.2 65.8h1v1h-1zM465.8 68.5h1v1h-1zM451.5 74.2h1v1h-1zM467.9 62.8h1v1h-1zM473.0 59.7h1v1h-1zM460.1 71.4h1v1h-1zM452.0 75.0h1v1h-1zM461.0 72.1h1v1h-1zM455.7 69.3h1v1h-1zM472.0 61.5h1v1h-1zM474.3 59.2h.9v.9h-.9zM472.0 60.8h1v1h-1zM463.1 68.1h1v1h-1zM465.6 63.5h1v1h-1zM466.7 67.8h1v1h-1zM471.2 59.5h1v1h-1zM465.0 65.6h1v1h-1zM465.9 63.4h1v1h-1zM466.3 64.7h1v1h-1zM456.7 74.0h1v1h-1zM473.5 62.0h1v1h-1zM470.5 64.0h1v1h-1zM474.4 65.0h1v1h-1zM472.4 63.9h1v1h-1zM471.9 63.3h1v1h-1zM464.8 67.5h1v1h-1zM468.5 69.0h1v1h-1zM466.1 65.9h1v1h-1zM462.9 65.2h1v1h-1zM452.4 75.7h1v1h-1zM472.0 63.5h1v1h-1zM467.7 70.2h1v1h-1zM454.4 76.8h1v1h-1zM452.1 76.2h1v1h-1zM465.0 72.1h1v1h-1zM474.7 62.1h1v1h-1zM459.8 75.4h1v1h-1zM462.3 72.3h1v1h-1zM449.5 77.3h.9v.9h-.9zM457.0 70.5h1v1h-1zM469.1 62.2h1v1h-1zM470.2 65.2h1v1h-1zM455.7 75.1h1v1h-1zM456.8 70.3h1v1h-1zM473.3 67.4h.9v.9h-.9zM452.3 71.1h1v1h-1zM464.8 61.2h.9v.9h-.9zM473.1 66.9h1v1h-1zM471.4 63.8h1v1h-1zM467.4 65.1h1v1h-1zM453.9 74.5h1v1h-1zM467.9 61.7h1v1h-1zM451.0 76.4h1v1h-1zM473.3 64.1h1v1h-1zM468.0 66.2h1v1h-1zM462.8 68.6h1v1h-1zM464.5 63.4h1v1h-1zM454.4 70.6h1v1h-1zM467.2 65.0h1v1h-1zM453.2 71.9h1v1h-1zM464.0 70.4h1v1h-1zM467.9 62.4h1v1h-1zM462.8 66.6h1v1h-1zM457.8 77.5h1v1h-1zM465.4 69.3h1v1h-1zM460.2 71.6h1v1h-1zM455.9 69.0h1v1h-1zM462.0 62.7h.9v.9h-.9zM463.2 68.4h1v1h-1zM461.2 74.0h1v1h-1zM459.2 68.2h1v1h-1zM466.0 64.8h1v1h-1zM471.7 62.5h1v1h-1zM459.2 75.1h1v1h-1zM459.2 70.8h1v1h-1zM460.1 74.2h1v1h-1zM460.7 71.8h1v1h-1zM453.7 73.4h1v1h-1zM452.6 72.7h1v1h-1zM455.0 76.4h1v1h-1zM452.0 75.1h1v1h-1zM455.2 72.6h1v1h-1zM468.8 63.7h1v1h-1zM465.0 71.8h1v1h-1zM473.8 62.9h1v1h-1zM458.3 75.9h1v1h-1zM458.6 70.4h1v1h-1zM472.1 65.3h1v1h-1zM471.7 64.0h1v1h-1zM459.1 68.9h1v1h-1zM473.4 62.0h1v1h-1zM465.1 63.7h1v1h-1zM458.8 69.0h1v1h-1zM460.0 72.7h1v1h-1zM466.9 71.2h1v1h-1zM456.7 71.6h1v1h-1zM473.6 63.3h1v1h-1zM458.7 70.4h1v1h-1zM452.0 77.4h1v1h-1zM460.9 65.7h1v1h-1zM460.4 65.9h1v1h-1zM456.8 70.1h1v1h-1zM472.3 59.0h1v1h-1zM470.8 65.2h1v1h-1zM471.1 61.1h1v1h-1zM458.3 71.7h1v1h-1zM465.0 69.9h1v1h-1zM459.5 67.5h1v1h-1zM461.5 72.3h1v1h-1zM455.4 77.9h1v1h-1zM473.0 64.8h1v1h-1zM473.0 66.6h1v1h-1zM457.5 68.0h1v1h-1zM467.7 62.3h1v1h-1zM454.4 71.8h1v1h-1zM459.0 72.1h1v1h-1zM452.9 71.9h1v1h-1zM456.6 75.9h1v1h-1zM468.2 63.4h1v1h-1zM474.2 66.4h1v1h-1zM461.1 67.6h1v1h-1zM461.3 66.7h1v1h-1zM453.2 74.1h1v1h-1zM474.7 64.1h1v1h-1zM452.2 71.6h1v1h-1zM461.3 64.8h1v1h-1zM454.3 77.7h1v1h-1zM464.6 71.9h1v1h-1zM451.3 79.2h.9v.9h-.9zM451.4 76.4h1v1h-1zM468.5 65.3h1v1h-1zM454.5 79.9h1v1h-1zM454.1 75.9h1v1h-1zM460.0 74.4h1v1h-1zM459.7 68.9h1v1h-1zM469.4 61.0h1v1h-1zM450.7 78.0h1v1h-1zM473.9 64.1h1v1h-1zM470.1 68.4h1v1h-1zM469.5 61.4h1v1h-1zM460.3 68.7h1v1h-1zM459.3 65.5h.9v.9h-.9zM463.3 66.8h1v1h-1zM468.9 65.3h1v1h-1zM460.2 75.5h1v1h-1zM471.6 63.0h1v1h-1zM474.5 59.6h1v1h-1zM472.6 66.8h1v1h-1zM455.3 78.6h1v1h-1zM463.2 66.2h1v1h-1zM473.2 60.4h1v1h-1zM466.6 64.2h1v1h-1zM459.3 71.2h1v1h-1zM455.7 75.9h1v1h-1zM457.4 68.2h1v1h-1zM465.5 66.0h1v1h-1zM472.4 65.1h1v1h-1zM471.8 63.6h1v1h-1zM459.3 73.1h1v1h-1zM472.8 65.6h1v1h-1zM465.1 69.7h1v1h-1zM455.5 78.4h1v1h-1zM459.5 71.4h1v1h-1zM466.9 70.5h1v1h-1zM462.1 70.4h1v1h-1zM474.8 62.5h1v1h-1zM462.3 72.5h1v1h-1zM470.0 61.2h1v1h-1zM456.1 76.2h1v1h-1zM475.7 61.6h.9v.9h-.9zM453.4 74.0h1v1h-1zM471.8 61.0h1v1h-1zM462.1 69.8h1v1h-1zM466.3 64.4h1v1h-1zM473.2 64.9h1v1h-1zM467.5 62.3h1v1h-1zM465.6 69.5h1v1h-1zM458.1 77.1h1v1h-1zM458.0 71.4h1v1h-1zM468.8 62.6h1v1h-1zM455.5 78.5h1v1h-1zM453.0 77.4h1v1h-1zM452.6 73.6h1v1h-1zM466.3 68.5h1v1h-1zM456.5 69.3h1v1h-1zM459.9 70.2h1v1h-1zM457.6 70.4h1v1h-1zM454.2 77.5h1v1h-1zM458.3 71.4h1v1h-1zM454.3 71.4h1v1h-1zM457.5 70.0h1v1h-1zM452.0 71.6h1v1h-1zM468.7 67.7h1v1h-1zM466.6 64.5h1v1h-1zM474.2 64.7h1v1h-1zM464.8 67.5h1v1h-1zM468.4 65.0h1v1h-1zM459.0 70.6h1v1h-1zM463.4 69.7h1v1h-1zM453.8 78.9h1v1h-1zM464.3 72.2h1v1h-1zM463.6 71.2h1v1h-1zM457.0 71.4h1v1h-1zM462.7 71.3h1v1h-1zM467.5 68.4h1v1h-1zM467.4 64.0h1v1h-1zM473.5 63.4h1v1h-1zM464.9 69.0h1v1h-1zM460.1 65.5h1v1h-1zM463.0 65.6h1v1h-1zM456.4 72.6h1v1h-1zM464.7 64.5h1v1h-1zM463.4 65.2h1v1h-1zM470.9 66.0h1v1h-1zM463.2 66.2h1v1h-1zM460.5 68.5h1v1h-1zM456.0 71.6h1v1h-1zM473.3 65.6h1v1h-1zM463.2 68.0h1v1h-1zM456.1 73.2h1v1h-1zM453.4 72.0h1v1h-1zM470.9 65.0h1v1h-1zM457.0 78.1h1v1h-1zM457.5 72.2h1v1h-1zM461.9 71.3h1v1h-1zM458.3 68.7h1v1h-1zM461.9 68.8h1v1h-1zM469.4 60.9h1v1h-1zM454.4 79.5h1v1h-1zM462.3 68.6h1v1h-1zM474.2 63.8h1v1h-1zM466.5 67.2h1v1h-1zM452.9 80.1h1v1h-1zM460.3 68.2h1v1h-1zM455.7 69.6h1v1h-1zM470.7 61.6h1v1h-1zM452.3 79.0h1v1h-1zM458.2 71.8h1v1h-1zM465.5 70.5h1v1h-1zM460.6 64.5h.9v.9h-.9zM455.7 73.8h1v1h-1zM463.3 67.4h1v1h-1zM468.4 69.6h1v1h-1zM463.6 64.6h1v1h-1zM452.9 74.0h1v1h-1zM455.9 72.8h1v1h-1zM460.2 72.4h1v1h-1zM468.9 68.3h1v1h-1zM464.8 65.3h1v1h-1zM472.9 66.1h1v1h-1zM475.1 65.6h1v1h-1zM471.6 65.0h1v1h-1zM461.9 68.0h1v1h-1zM467.9 61.7h1v1h-1zM462.5 66.9h1v1h-1zM473.1 60.2h1v1h-1zM455.0 74.4h1v1h-1zM462.8 71.8h1v1h-1zM463.5 64.5h1v1h-1zM472.1 60.4h1v1h-1zM464.3 66.1h1v1h-1zM466.3 62.7h1v1h-1zM460.1 73.8h1v1h-1zM465.2 66.5h1v1h-1zM469.7 66.1h1v1h-1zM457.3 72.8h1v1h-1zM456.6 77.4h1v1h-1zM467.0 68.5h1v1h-1zM471.1 63.4h1v1h-1zM456.1 79.9h.9v.9h-.9zM459.2 71.8h1v1h-1zM470.8 60.6h1v1h-1zM461.7 74.5h1v1h-1zM462.7 73.3h1v1h-1zM462.0 66.6h1v1h-1zM473.6 59.8h1v1h-1zM464.7 72.1h1v1h-1zM465.9 68.7h1v1h-1zM467.3 64.2h1v1h-1zM453.1 75.9h1v1h-1zM458.0 73.9h1v1h-1zM455.1 80.4h.9v.9h-.9zM456.7 68.1h1v1h-1zM456.5 67.8h1v1h-1zM464.7 65.2h1v1h-1zM468.3 68.2h1v1h-1zM463.6 71.4h1v1h-1zM453.4 74.7h1v1h-1zM473.3 65.7h1v1h-1zM453.3 76.2h1v1h-1zM473.1 60.0h1v1h-1zM466.2 63.0h1v1h-1zM465.7 64.1h1v1h-1zM449.2 77.4h.9v.9h-.9zM465.8 66.4h1v1h-1zM456.5 77.8h1v1h-1zM462.2 70.5h1v1h-1zM456.6 73.5h1v1h-1zM462.2 70.8h1v1h-1zM468.2 62.5h1v1h-1zM455.6 77.0h1v1h-1zM465.8 70.8h1v1h-1zM465.1 63.5h1v1h-1zM452.1 75.0h1v1h-1zM456.6 67.9h1v1h-1zM460.1 76.0h.9v.9h-.9zM453.4 75.9h1v1h-1zM467.5 63.3h1v1h-1zM463.5 71.8h1v1h-1zM462.4 70.7h1v1h-1zM458.8 75.4h1v1h-1zM454.9 74.3h1v1h-1zM462.8 68.6h1v1h-1zM458.9 69.7h1v1h-1zM458.7 68.0h1v1h-1zM462.7 72.7h1v1h-1zM470.9 68.6h.9v.9h-.9zM456.2 72.4h1v1h-1zM452.4 73.9h1v1h-1zM462.0 70.1h1v1h-1zM472.9 65.0h1v1h-1zM455.8 72.3h1v1h-1zM469.0 62.8h1v1h-1zM463.3 65.5h1v1h-1zM456.1 72.9h1v1h-1zM453.7 78.1h1v1h-1zM452.6 80.3h.9v.9h-.9zM458.4 75.2h1v1h-1zM463.9 68.9h1v1h-1zM461.7 73.3h1v1h-1zM460.4 69.3h1v1h-1zM456.3 70.4h1v1h-1zM470.9 65.8h1v1h-1zM464.2 70.3h1v1h-1zM453.8 71.8h1v1h-1zM452.6 79.2h1v1h-1zM454.8 75.1h1v1h-1zM456.0 78.2h1v1h-1zM473.2 62.6h1v1h-1zM474.9 62.3h1v1h-1zM457.0 70.9h1v1h-1zM467.5 61.7h1v1h-1zM465.1 69.6h1v1h-1zM471.0 63.3h1v1h-1zM473.6 65.0h1v1h-1zM457.4 71.8h1v1h-1zM464.0 68.9h1v1h-1zM463.8 63.9h1v1h-1zM462.2 67.8h1v1h-1zM457.1 69.4h1v1h-1zM473.5 63.8h1v1h-1zM460.9 63.5h.9v.9h-.9zM452.9 76.6h1v1h-1zM473.1 65.7h1v1h-1zM456.4 70.7h1v1h-1zM458.4 73.4h1v1h-1zM453.8 73.3h1v1h-1zM453.3 75.0h1v1h-1zM467.9 65.2h1v1h-1zM460.4 70.4h1v1h-1zM472.0 63.7h1v1h-1zM451.1 78.4h1v1h-1z" fill="#000"/>
<path d="M453.0 91.9h1v1h-1zM449.6 84.1h1v1h-1zM446.4 94.0h1v1h-1zM451.6 85.3h1v1h-1zM453.0 97.2h1v1h-1zM444.7 94.1h1v1h-1zM437.3 95.2h1v1h-1zM439.5 90.9h1v1h-1zM445.0 104.8h.9v.9h-.9zM444.9 101.7h1v1h-1zM447.1 86.9h1v1h-1zM442.6 98.0h1v1h-1zM439.6 95.3h1v1h-1zM446.7 95.4h1v1h-1zM443.9 102.4h1v1h-1zM446.8 92.1h1v1h-1zM443.5 100.3h1v1h-1zM438.9 101.0h.9v.9h-.9zM443.0 102.7h1v1h-1zM453.1 86.5h1v1h-1zM451.0 95.6h1v1h-1zM448.0 90.3h1v1h-1zM443.4 96.6h1v1h-1zM454.0 97.9h.9v.9h-.9zM447.8 83.9h1v1h-1zM448.1 98.3h1v1h-1zM451.8 97.2h1v1h-1zM448.2 100.7h.9v.9h-.9zM442.2 88.9h1v1h-1zM442.1 97.8h1v1h-1zM451.6 91.4h1v1h-1zM447.6 89.6h1v1h-1zM449.4 90.6h1v1h-1zM447.0 94.4h1v1h-1zM438.6 94.9h1v1h-1zM440.8 91.9h1v1h-1zM452.6 88.5h1v1h-1zM451.2 89.3h1v1h-1zM442.6 102.2h1v1h-1zM444.2 98.5h1v1h-1zM452.3 87.6h1v1h-1zM449.2 99.6h1v1h-1zM440.6 97.0h1v1h-1zM444.3 98.0h1v1h-1zM443.9 96.0h1v1h-1zM445.0 102.0h1v1h-1zM449.3 98.1h1v1h-1zM447.9 84.3h1v1h-1zM446.1 86.5h1v1h-1zM438.8 90.6h1v1h-1zM443.7 87.9h1v1h-1zM436.1 96.8h.9v.9h-.9zM444.2 95.3h1v1h-1zM440.1 88.0h1v1h-1zM446.8 93.4h1v1h-1zM444.7 99.9h1v1h-1zM440.9 92.9h1v1h-1zM437.6 96.3h1v1h-1zM453.4 87.4h1v1h-1zM449.5 87.2h1v1h-1zM450.1 86.2h1v1h-1zM439.3 96.4h1v1h-1zM442.9 100.2h1v1h-1zM440.2 100.9h1v1h-1zM453.8 83.7h1v1h-1zM456.8 90.5h.9v.9h-.9zM443.8 101.9h1v1h-1zM445.5 84.9h1v1h-1zM438.7 93.5h1v1h-1zM450.7 90.9h1v1h-1zM448.2 90.9h1v1h-1zM448.2 89.8h1v1h-1zM442.7 89.6h1v1h-1zM453.1 85.8h1v1h-1zM454.0 87.2h1v1h-1zM445.1 95.0h1v1h-1zM456.6 86.0h.9v.9h-.9zM448.9 86.6h1v1h-1zM455.9 92.7h1v1h-1zM439.7 96.5h1v1h-1zM455.2 85.0h1v1h-1zM447.6 81.9h.9v.9h-.9zM443.2 89.2h1v1h-1zM442.3 97.0h1v1h-1zM450.7 96.6h1v1h-1zM441.8 101.2h1v1h-1zM442.7 94.6h1v1h-1zM453.8 94.6h1v1h-1zM455.6 85.7h1v1h-1zM451.7 97.9h1v1h-1zM442.0 98.0h1v1h-1zM441.2 94.5h1v1h-1zM446.3 92.2h1v1h-1zM450.7 83.3h1v1h-1zM448.1 96.6h1v1h-1zM447.8 94.9h1v1h-1zM442.0 98.5h1v1h-1zM445.1 85.4h1v1h-1zM442.8 94.5h1v1h-1zM443.3 89.7h1v1h-1zM442.4 98.4h1v1h-1zM438.9 93.8h1v1h-1zM449.4 87.8h1v1h-1zM448.9 94.4h1v1h-1zM447.3 85.5h1v1h-1zM454.1 88.2h1v1h-1zM445.2 90.1h1v1h-1zM451.7 95.9h1v1h-1zM453.7 94.0h1v1h-1zM456.4 90.0h1v1h-1zM442.4 89.6h1v1h-1zM441.4 96.7h1v1h-1zM441.3 101.0h1v1h-1zM440.2 100.2h1v1h-1zM450.6 82.8h.9v.9h-.9zM445.9 96.7h1v1h-1zM443.9 97.8h1v1h-1zM447.6 88.5h1v1h-1zM447.5 91.1h1v1h-1zM437.8 93.5h1v1h-1zM447.0 93.5h1v1h-1zM450.3 88.5h1v1h-1zM447.5 89.2h1v1h-1zM451.6 94.7h1v1h-1zM455.2 88.1h1v1h-1zM438.6 99.1h1v1h-1zM445.5 92.2h1v1h-1zM451.1 96.2h1v1h-1zM454.8 85.4h1v1h-1zM453.3 84.1h1v1h-1zM447.7 92.6h1v1h-1zM446.2 92.1h1v1h-1zM453.4 91.1h1v1h-1zM443.8 89.0h1v1h-1zM444.8 103.9h.9v.9h-.9zM453.0 91.5h1v1h-1zM445.7 97.3h1v1h-1zM444.9 85.9h1v1h-1zM448.7 90.4h1v1h-1zM444.1 99.5h1v1h-1zM445.7 97.1h1v1h-1zM452.8 92.6h1v1h-1zM449.5 98.4h1v1h-1zM450.8 98.6h1v1h-1zM443.8 94.3h1v1h-1zM445.2 91.4h1v1h-1zM456.5 94.5h.9v.9h-.9zM452.4 92.0h1v1h-1zM453.6 95.6h1v1h-1zM442.3 92.9h1v1h-1zM440.0 92.9h1v1h-1zM440.1 101.5h1v1h-1zM446.6 88.1h1v1h-1zM441.3 100.3h1v1h-1zM455.0 92.2h1v1h-1zM441.6 95.4h1v1h-1zM442.4 91.4h1v1h-1zM451.7 90.7h1v1h-1zM440.1 86.9h.9v.9h-.9zM445.4 97.3h1v1h-1zM446.7 89.4h1v1h-1zM450.7 94.6h1v1h-1zM452.2 91.3h1v1h-1zM453.9 84.9h1v1h-1zM455.3 86.9h1v1h-1zM447.1 98.5h1v1h-1zM447.1 95.3h1v1h-1zM444.1 100.7h1v1h-1zM448.5 88.6h1v1h-1zM448.5 93.2h1v1h-1zM441.3 92.7h1v1h-1zM450.7 94.7h1v1h-1zM449.7 89.8h1v1h-1zM450.4 92.9h1v1h-1zM446.9 98.8h1v1h-1zM445.4 85.3h1v1h-1zM449.6 86.2h1v1h-1zM444.9 101.4h1v1h-1zM445.4 90.4h1v1h-1zM447.4 93.4h1v1h-1zM447.1 85.7h1v1h-1zM445.7 93.2h1v1h-1zM444.4 97.0h1v1h-1zM440.2 100.7h1v1h-1zM443.4 96.1h1v1h-1zM444.6 90.6h1v1h-1zM452.2 85.2h1v1h-1zM450.8 93.1h1v1h-1zM446.0 95.1h1v1h-1zM455.2 89.0h1v1h-1zM442.7 90.3h1v1h-1zM454.2 94.8h1v1h-1zM445.7 98.4h1v1h-1zM437.8 94.8h1v1h-1zM443.6 88.9h1v1h-1zM442.7 88.9h1v1h-1zM440.0 95.9h1v1h-1zM449.9 92.3h1v1h-1zM457.0 84.7h.9v.9h-.9zM449.7 83.2h1v1h-1zM440.5 98.0h1v1h-1zM451.5 86.1h1v1h-1zM453.1 84.0h1v1h-1zM451.3 87.7h1v1h-1zM438.7 97.9h1v1h-1zM452.2 90.7h1v1h-1zM445.9 90.1h1v1h-1zM441.2 90.7h1v1h-1zM439.0 90.7h1v1h-1zM449.4 95.3h1v1h-1zM442.8 98.1h1v1h-1zM450.5 85.7h1v1h-1zM450.8 91.1h1v1h-1zM447.2 88.1h1v1h-1zM449.9 95.4h1v1h-1zM445.6 92.6h1v1h-1zM453.5 84.6h1v1h-1zM444.8 101.4h1v1h-1zM440.2 89.3h1v1h-1zM449.0 85.6h1v1h-1zM453.9 91.2h1v1h-1zM439.7 88.3h1v1h-1zM452.0 97.9h1v1h-1zM455.9 88.6h1v1h-1zM443.5 98.7h1v1h-1zM447.5 88.0h1v1h-1zM439.0 93.0h1v1h-1zM446.4 89.6h1v1h-1zM447.2 97.5h1v1h-1zM448.0 87.2h1v1h-1zM447.3 88.5h1v1h-1zM455.2 85.7h1v1h-1zM440.3 90.0h1v1h-1zM448.2 93.8h1v1h-1zM455.0 84.9h1v1h-1zM443.1 101.3h1v1h-1zM440.1 95.9h1v1h-1zM440.2 93.4h1v1h-1zM443.7 91.7h1v1h-1zM448.2 98.3h1v1h-1zM447.1 97.3h1v1h-1zM444.3 101.7h1v1h-1zM448.7 95.1h1v1h-1zM455.2 93.9h1v1h-1zM452.1 91.4h1v1h-1zM441.4 89.7h1v1h-1zM455.2 90.5h1v1h-1zM440.8 99.5h1v1h-1zM454.6 84.3h1v1h-1zM446.5 97.1h1v1h-1zM442.7 94.8h1v1h-1zM441.4 99.3h1v1h-1zM442.8 91.9h1v1h-1zM448.5 98.7h1v1h-1zM440.4 97.9h1v1h-1zM443.9 97.6h1v1h-1zM437.9 100.5h.9v.9h-.9zM441.9 91.8h1v1h-1zM446.5 95.3h1v1h-1zM439.7 89.2h1v1h-1zM451.4 97.3h1v1h-1zM455.6 89.6h1v1h-1zM442.2 86.7h1v1h-1zM438.5 95.2h1v1h-1zM453.8 91.9h1v1h-1zM447.6 96.7h1v1h-1zM445.8 101.3h1v1h-1zM439.1 91.6h1v1h-1zM446.4 96.9h1v1h-1zM446.4 88.1h1v1h-1zM445.8 95.6h1v1h-1zM440.7 95.6h1v1h-1zM437.1 98.7h.9v.9h-.9zM448.2 84.7h1v1h-1zM438.5 92.0h1v1h-1zM452.3 96.0h1v1h-1zM447.1 92.5h1v1h-1zM448.8 89.4h1v1h-1zM453.1 90.6h1v1h-1zM451.2 96.1h1v1h-1zM453.0 95.5h1v1h-1zM449.7 92.6h1v1h-1zM440.6 94.6h1v1h-1zM442.0 94.5h1v1h-1zM453.0 84.9h1v1h-1zM446.5 94.2h1v1h-1zM442.8 88.6h1v1h-1zM455.8 96.3h.9v.9h-.9zM446.8 93.4h1v1h-1zM444.3 101.4h1v1h-1zM450.8 91.4h1v1h-1zM443.7 95.6h1v1h-1zM443.6 97.5h1v1h-1zM443.4 92.8h1v1h-1zM449.5 96.3h1v1h-1zM449.1 95.5h1v1h-1zM438.2 99.7h.9v.9h-.9zM451.1 93.8h1v1h-1zM451.7 85.7h1v1h-1zM444.8 92.5h1v1h-1zM438.2 94.6h1v1h-1zM448.4 84.7h1v1h-1zM450.0 90.8h1v1h-1zM454.2 86.6h1v1h-1zM449.5 83.2h.9v.9h-.9zM453.8 88.2h1v1h-1zM443.3 91.4h1v1h-1zM455.7 89.6h1v1h-1zM446.3 88.8h1v1h-1zM440.6 101.3h1v1h-1zM448.0 90.5h1v1h-1zM452.6 92.2h1v1h-1zM453.3 90.3h1v1h-1zM447.0 88.4h1v1h-1zM443.7 92.7h1v1h-1zM439.4 92.6h1v1h-1zM444.5 86.9h1v1h-1zM449.5 85.4h1v1h-1zM441.1 87.6h1v1h-1zM454.4 85.6h1v1h-1zM447.0 91.2h1v1h-1zM443.6 95.0h1v1h-1zM450.6 88.0h1v1h-1zM448.8 83.6h1v1h-1zM442.7 98.8h1v1h-1zM452.8 83.8h1v1h-1zM455.1 89.5h1v1h-1zM450.5 84.5h1v1h-1zM440.9 98.8h1v1h-1zM453.3 94.6h1v1h-1zM454.3 85.3h1v1h-1zM441.7 90.6h1v1h-1zM443.6 93.6h1v1h-1zM438.3 99.4h1v1h-1zM453.7 85.1h1v1h-1zM438.9 97.5h1v1h-1zM449.0 84.1h1v1h-1zM449.2 89.3h1v1h-1zM447.7 87.9h1v1h-1zM448.8 97.1h1v1h-1zM444.7 100.8h1v1h-1zM444.7 99.1h1v1h-1zM444.3 93.1h1v1h-1zM452.5 92.1h1v1h-1zM437.7 92.7h1v1h-1zM443.0 85.5h.9v.9h-.9zM439.7 94.0h1v1h-1zM446.1 86.7h1v1h-1zM440.7 88.6h1v1h-1zM441.8 100.9h1v1h-1zM440.9 88.7h1v1h-1zM444.7 99.0h1v1h-1zM441.3 100.0h1v1h-1zM453.4 91.4h1v1h-1zM455.6 93.0h1v1h-1zM453.5 85.0h1v1h-1zM437.5 96.3h1v1h-1zM446.1 94.5h1v1h-1zM452.8 92.5h1v1h-1zM446.7 99.3h1v1h-1zM454.3 83.5h1v1h-1zM449.8 97.9h1v1h-1zM446.9 101.2h1v1h-1zM440.6 94.1h1v1h-1zM448.0 89.0h1v1h-1zM455.5 83.0h.9v.9h-.9zM450.8 93.4h1v1h-1zM441.6 95.1h1v1h-1zM454.3 94.3h1v1h-1zM444.6 87.8h1v1h-1zM442.2 101.8h1v1h-1zM453.6 85.0h1v1h-1zM448.2 92.1h1v1h-1zM443.8 98.4h1v1h-1zM440.0 101.4h1v1h-1zM440.0 98.6h1v1h-1zM452.3 85.8h1v1h-1zM451.2 95.6h1v1h-1zM444.0 102.8h1v1h-1zM441.8 100.8h1v1h-1zM437.7 97.7h.9v.9h-.9zM448.7 99.0h1v1h-1zM448.5 94.6h1v1h-1zM452.4 85.8h1v1h-1zM441.7 93.2h1v1h-1zM453.4 94.0h1v1h-1zM445.1 97.0h1v1h-1zM448.0 86.1h1v1h-1zM444.6 102.2h1v1h-1zM453.9 94.2h1v1h-1zM442.8 102.4h1v1h-1zM454.0 88.8h1v1h-1zM444.6 90.9h1v1h-1zM443.3 101.4h1v1h-1zM446.3 91.8h1v1h-1zM446.0 97.0h1v1h-1zM448.0 90.2h1v1h-1zM448.1 92.4h1v1h-1zM453.4 96.6h1v1h-1zM443.4 97.0h1v1h-1zM452.2 84.8h1v1h-1zM442.5 96.7h1v1h-1zM447.5 94.2h1v1h-1zM439.3 99.2h1v1h-1zM439.7 98.1h1v1h-1zM445.7 88.4h1v1h-1zM442.4 92.0h1v1h-1zM439.1 89.7h1v1h-1zM446.0 93.4h1v1h-1zM448.2 95.1h1v1h-1zM442.5 93.5h1v1h-1zM451.0 96.0h1v1h-1zM442.0 87.6h1v1h-1zM451.7 93.0h1v1h-1zM438.5 88.8h.9v.9h-.9zM444.8 99.6h1v1h-1zM451.3 89.7h1v1h-1zM452.7 96.4h1v1h-1zM450.6 89.1h1v1h-1zM452.9 83.2h1v1h-1zM444.6 97.0h1v1h-1zM450.6 97.5h1v1h-1zM440.4 99.2h1v1h-1zM439.0 91.3h1v1h-1zM439.8 99.1h1v1h-1zM442.6 86.6h1v1h-1zM439.3 93.5h1v1h-1zM453.3 83.8h1v1h-1zM453.8 86.5h1v1h-1zM443.9 87.9h1v1h-1zM446.5 101.6h1v1h-1zM443.6 91.4h1v1h-1zM455.6 90.0h1v1h-1zM441.5 89.3h1v1h-1zM441.9 97.9h1v1h-1zM447.0 98.9h1v1h-1zM444.0 96.7h1v1h-1zM442.6 101.3h1v1h-1zM443.6 89.2h1v1h-1zM445.2 95.6h1v1h-1zM450.9 97.8h1v1h-1zM445.8 103.2h.9v.9h-.9zM449.0 93.0h1v1h-1zM449.3 90.7h1v1h-1zM442.2 91.1h1v1h-1zM449.3 96.3h1v1h-1zM450.1 85.4h1v1h-1zM446.9 89.3h1v1h-1zM443.9 90.1h1v1h-1zM450.3 83.2h1v1h-1zM447.7 90.3h1v1h-1zM448.6 85.0h1v1h-1zM450.8 98.6h1v1h-1zM445.8 99.4h1v1h-1zM451.1 89.7h1v1h-1zM447.6 88.2h1v1h-1zM448.5 94.0h1v1h-1zM444.0 92.6h1v1h-1zM453.0 96.9h1v1h-1zM452.1 96.3h1v1h-1zM454.0 94.7h1v1h-1zM448.5 86.0h1v1h-1zM448.4 83.5h1v1h-1zM441.1 92.9h1v1h-1zM437.4 92.8h.9v.9h-.9zM455.9 92.9h1v1h-1zM448.6 98.2h1v1h-1zM454.3 86.7h1v1h-1zM450.9 94.0h1v1h-1zM443.2 97.3h1v1h-1zM441.7 101.8h1v1h-1zM446.0 103.0h.9v.9h-.9zM447.4 85.9h1v1h-1zM455.3 82.2h.9v.9h-.9zM449.6 94.1h1v1h-1zM448.3 98.3h1v1h-1zM438.8 94.7h1v1h-1zM455.1 96.1h.9v.9h-.9zM454.5 91.7h1v1h-1zM443.9 85.8h1v1h-1zM443.8 91.3h1v1h-1zM448.1 97.3h1v1h-1zM446.0 102.1h.9v.9h-.9zM447.9 92.5h1v1h-1zM440.4 98.3h1v1h-1zM445.4 97.1h1v1h-1zM444.5 101.2h1v1h-1zM445.8 85.8h1v1h-1zM455.4 93.4h1v1h-1zM442.5 91.9h1v1h-1zM440.3 98.2h1v1h-1zM438.7 95.6h1v1h-1zM455.4 85.9h1v1h-1zM451.8 86.6h1v1h-1zM447.9 94.6h1v1h-1zM447.2 98.3h1v1h-1zM449.6 94.2h1v1h-1zM446.0 92.3h1v1h-1zM447.8 99.1h1v1h-1zM443.1 101.9h1v1h-1zM439.1 95.4h1v1h-1zM446.9 96.0h1v1h-1zM450.4 97.8h1v1h-1zM445.7 85.0h1v1h-1zM455.3 89.6h1v1h-1zM451.0 95.4h1v1h-1zM439.9 99.7h1v1h-1zM447.0 100.8h1v1h-1zM452.7 87.3h1v1h-1zM452.1 91.6h1v1h-1zM439.1 97.5h1v1h-1zM443.6 100.0h1v1h-1zM450.3 97.2h1v1h-1zM453.5 88.1h1v1h-1zM442.5 93.1h1v1h-1zM456.3 85.9h1v1h-1zM446.2 89.9h1v1h-1zM448.9 92.8h1v1h-1zM451.8 92.3h1v1h-1zM448.2 99.2h1v1h-1zM437.6 92.8h1v1h-1zM452.9 94.2h1v1h-1zM451.1 94.0h1v1h-1zM449.6 84.7h1v1h-1zM443.5 95.5h1v1h-1zM442.2 87.2h1v1h-1zM446.6 99.9h1v1h-1zM450.7 86.7h1v1h-1zM454.0 92.4h1v1h-1zM456.5 89.9h1v1h-1zM437.4 94.1h1v1h-1zM452.0 95.7h1v1h-1zM445.3 93.3h1v1h-1zM446.9 84.8h1v1h-1zM444.3 97.4h1v1h-1zM454.5 89.4h1v1h-1zM450.6 85.4h1v1h-1zM443.4 100.3h1v1h-1zM440.5 97.4h1v1h-1zM441.3 90.3h1v1h-1zM445.3 90.7h1v1h-1zM453.3 90.9h1v1h-1zM450.9 95.1h1v1h-1zM442.5 92.7h1v1h-1zM456.2 87.4h1v1h-1zM454.5 95.0h1v1h-1zM443.8 88.5h1v1h-1zM447.6 83.0h.9v.9h-.9zM443.4 96.3h1v1h-1zM438.4 99.6h1v1h-1zM440.1 90.2h1v1h-1zM456.3 90.7h1v1h-1zM453.4 85.6h1v1h-1zM444.8 91.8h1v1h-1zM457.7 92.2h.9v.9h-.9zM448.9 93.3h1v1h-1zM447.3 89.5h1v1h-1zM441.3 97.6h1v1h-1zM449.5 89.0h1v1h-1zM455.5 92.5h1v1h-1zM446.1 91.9h1v1h-1zM442.8 103.0h1v1h-1zM439.2 93.6h1v1h-1zM443.2 102.0h1v1h-1zM448.7 85.4h1v1h-1zM451.1 90.9h1v1h-1zM447.4 99.3h1v1h-1zM443.2 89.8h1v1h-1zM451.9 94.8h1v1h-1zM453.1 84.4h1v1h-1zM446.5 86.9h1v1h-1zM450.3 94.8h1v1h-1zM448.9 97.5h1v1h-1zM445.1 101.4h1v1h-1zM452.6 88.4h1v1h-1zM444.4 102.1h1v1h-1zM449.8 92.5h1v1h-1zM438.2 94.4h1v1h-1zM454.7 87.6h1v1h-1zM436.4 90.5h.9v.9h-.9zM448.3 98.7h1v1h-1zM451.4 86.1h1v1h-1zM452.1 83.0h1v1h-1zM438.8 91.2h1v1h-1zM450.3 84.6h1v1h-1zM449.3 91.2h1v1h-1zM454.9 86.0h1v1h-1zM443.4 95.5h1v1h-1zM450.8 95.0h1v1h-1zM452.7 90.6h1v1h-1zM454.7 94.6h1v1h-1zM444.9 98.6h1v1h-1zM455.0 94.3h1v1h-1zM454.2 83.9h1v1h-1zM456.3 90.1h1v1h-1zM439.0 91.5h1v1h-1zM437.7 92.2h1v1h-1zM446.8 87.5h1v1h-1zM455.9 85.5h1v1h-1zM447.6 85.3h1v1h-1zM455.6 85.8h1v1h-1zM444.0 101.0h1v1h-1zM437.9 94.3h1v1h-1zM448.8 92.1h1v1h-1zM444.4 85.5h1v1h-1zM444.9 86.3h1v1h-1zM439.1 91.2h1v1h-1zM451.1 92.1h1v1h-1zM451.6 81.3h.9v.9h-.9zM443.1 88.1h1v1h-1zM449.1 92.6h1v1h-1zM441.2 100.8h1v1h-1zM446.1 94.7h1v1h-1zM442.8 91.7h1v1h-1zM441.2 99.9h1v1h-1zM438.8 100.1h.9v.9h-.9zM451.6 88.9h1v1h-1zM446.1 84.8h1v1h-1zM451.9 86.7h1v1h-1zM449.4 98.8h1v1h-1zM446.4 88.7h1v1h-1zM443.5 101.4h1v1h-1zM441.5 94.3h1v1h-1zM451.0 91.4h1v1h-1zM450.7 87.1h1v1h-1zM448.0 93.1h1v1h-1zM443.4 90.8h1v1h-1zM445.6 94.5h1v1h-1zM442.9 95.6h1v1h-1zM447.5 88.8h1v1h-1zM449.8 86.6h1v1h-1zM446.0 102.0h.9v.9h-.9zM456.2 86.1h1v1h-1zM439.0 90.1h1v1h-1zM445.3 91.6h1v1h-1zM439.7 92.1h1v1h-1zM441.3 91.2h1v1h-1zM454.5 91.6h1v1h-1zM449.6 93.8h1v1h-1zM448.8 94.3h1v1h-1zM449.4 83.6h1v1h-1zM442.4 93.3h1v1h-1zM456.6 88.6h1v1h-1zM448.4 97.7h1v1h-1zM449.0 93.3h1v1h-1zM449.7 84.8h1v1h-1zM453.1 85.8h1v1h-1zM441.9 88.3h1v1h-1zM447.7 92.7h1v1h-1zM447.0 91.6h1v1h-1zM448.2 95.1h1v1h-1zM451.5 83.4h1v1h-1zM439.5 92.7h1v1h-1zM438.8 94.8h1v1h-1zM439.9 100.5h1v1h-1zM443.5 101.4h1v1h-1zM449.1 89.0h1v1h-1zM446.8 95.3h1v1h-1zM454.9 92.9h1v1h-1zM453.4 84.4h1v1h-1zM442.7 86.0h1v1h-1zM442.1 96.0h1v1h-1zM445.4 87.4h1v1h-1zM455.2 94.3h1v1h-1zM451.3 94.1h1v1h-1zM453.7 89.2h1v1h-1zM440.6 91.7h1v1h-1zM445.8 101.2h1v1h-1zM447.6 87.7h1v1h-1zM445.7 92.3h1v1h-1zM453.1 88.6h1v1h-1zM445.9 98.1h1v1h-1zM452.2 90.1h1v1h-1zM453.3 84.8h1v1h-1zM439.2 94.3h1v1h-1zM441.0 92.0h1v1h-1zM456.0 85.9h1v1h-1zM444.0 92.6h1v1h-1zM452.1 90.7h1v1h-1zM447.8 90.4h1v1h-1zM453.1 92.0h1v1h-1zM452.6 90.7h1v1h-1zM446.0 82.8h.9v.9h-.9zM456.5 88.0h1v1h-1zM452.2 95.1h1v1h-1zM437.8 96.6h1v1h-1zM449.4 94.6h1v1h-1zM453.0 92.1h1v1h-1zM441.4 91.2h1v1h-1zM442.2 101.5h1v1h-1zM450.5 83.7h1v1h-1zM451.6 83.4h1v1h-1zM444.4 96.7h1v1h-1zM453.7 86.8h1v1h-1zM455.1 84.8h1v1h-1zM439.7 92.2h1v1h-1zM455.5 93.6h1v1h-1zM451.4 93.8h1v1h-1zM444.5 96.7h1v1h-1zM450.4 95.4h1v1h-1zM451.3 84.7h1v1h-1zM437.8 97.0h1v1h-1zM442.4 98.2h1v1h-1zM448.0 95.8h1v1h-1zM443.4 90.6h1v1h-1zM444.0 99.0h1v1h-1zM438.0 100.1h.9v.9h-.9zM442.9 89.7h1v1h-1zM450.6 88.4h1v1h-1zM448.5 94.7h1v1h-1zM442.5 100.1h1v1h-1zM441.0 96.4h1v1h-1zM452.5 93.4h1v1h-1zM438.8 89.9h1v1h-1zM444.9 95.9h1v1h-1zM440.2 101.1h1v1h-1zM453.7 85.8h1v1h-1zM443.7 101.8h1v1h-1zM439.9 94.4h1v1h-1zM444.9 93.9h1v1h-1zM453.8 91.1h1v1h-1zM453.9 92.0h1v1h-1zM440.4 97.1h1v1h-1zM449.7 94.2h1v1h-1zM452.2 88.9h1v1h-1zM440.1 100.3h1v1h-1zM452.7 92.7h1v1h-1zM456.1 88.2h1v1h-1zM451.3 87.3h1v1h-1zM438.6 91.3h1v1h-1zM439.7 100.0h1v1h-1zM442.9 95.3h1v1h-1zM441.6 97.9h1v1h-1zM446.3 95.1h1v1h-1zM438.2 98.7h1v1h-1zM447.7 91.5h1v1h-1zM451.0 85.6h1v1h-1zM449.4 89.4h1v1h-1zM450.2 89.6h1v1h-1zM443.9 102.5h1v1h-1zM452.2 96.8h1v1h-1zM445.7 89.6h1v1h-1zM451.3 96.9h1v1h-1zM446.9 100.9h1v1h-1zM444.5 87.2h1v1h-1zM450.6 85.7h1v1h-1zM445.4 98.2h1v1h-1zM447.3 101.4h.9v.9h-.9zM449.4 97.9h1v1h-1zM443.4 89.0h1v1h-1zM448.9 85.1h1v1h-1zM454.8 91.5h1v1h-1zM449.0 96.4h1v1h-1zM452.9 95.9h1v1h-1zM450.0 91.1h1v1h-1zM439.4 93.4h1v1h-1zM441.2 96.6h1v1h-1zM454.1 93.8h1v1h-1zM448.5 100.2h1v1h-1zM447.1 98.2h1v1h-1zM448.7 89.3h1v1h-1zM438.3 90.2h.9v.9h-.9zM448.4 94.6h1v1h-1zM442.8 92.5h1v1h-1zM448.1 85.0h1v1h-1zM449.4 98.7h1v1h-1zM449.3 84.2h1v1h-1zM440.5 99.6h1v1h-1zM443.1 99.1h1v1h-1zM449.9 83.7h1v1h-1zM451.6 87.4h1v1h-1zM448.2 90.6h1v1h-1zM443.6 102.8h1v1h-1zM453.3 88.7h1v1h-1zM451.1 94.0h1v1h-1zM439.6 92.6h1v1h-1zM443.0 95.3h1v1h-1zM444.0 99.8h1v1h-1zM451.1 95.3h1v1h-1zM442.5 93.4h1v1h-1zM450.1 92.6h1v1h-1zM443.4 93.5h1v1h-1zM441.9 88.0h1v1h-1zM450.5 95.2h1v1h-1zM447.6 99.8h1v1h-1zM451.2 86.7h1v1h-1zM439.8 95.4h1v1h-1zM454.3 93.8h1v1h-1zM446.8 96.6h1v1h-1zM445.0 91.2h1v1h-1zM449.1 88.9h1v1h-1zM449.5 93.4h1v1h-1zM441.5 87.6h1v1h-1zM453.1 83.4h1v1h-1zM445.6 91.2h1v1h-1zM443.5 91.6h1v1h-1zM438.3 95.6h1v1h-1zM448.8 100.6h.9v.9h-.9zM443.5 98.2h1v1h-1zM447.7 98.3h1v1h-1zM444.9 93.7h1v1h-1zM452.5 96.7h1v1h-1zM454.2 86.2h1v1h-1zM453.4 94.6h1v1h-1zM450.4 96.2h1v1h-1zM450.4 99.1h1v1h-1zM440.0 95.7h1v1h-1zM449.2 89.9h1v1h-1zM453.4 85.7h1v1h-1zM449.7 85.2h1v1h-1zM446.6 100.6h1v1h-1zM439.4 97.4h1v1h-1zM455.0 91.8h1v1h-1zM444.3 85.4h1v1h-1zM438.5 93.0h1v1h-1zM440.2 98.0h1v1h-1zM446.6 97.1h1v1h-1zM441.2 96.7h1v1h-1zM448.0 93.2h1v1h-1zM444.6 101.7h1v1h-1zM451.4 89.0h1v1h-1zM448.0 87.9h1v1h-1zM448.2 93.4h1v1h-1zM438.9 98.7h1v1h-1zM451.3 91.3h1v1h-1zM449.5 89.1h1v1h-1zM442.4 97.9h1v1h-1zM450.3 87.5h1v1h-1zM446.8 92.4h1v1h-1zM439.8 93.0h1v1h-1zM447.0 88.1h1v1h-1zM455.1 88.3h1v1h-1zM448.0 91.0h1v1h-1zM441.5 102.3h1v1h-1zM453.1 89.0h1v1h-1zM445.1 101.4h1v1h-1zM441.1 96.7h1v1h-1zM439.6 94.0h1v1h-1zM445.4 84.9h1v1h-1zM450.0 85.6h1v1h-1zM451.0 96.5h1v1h-1zM440.5 96.6h1v1h-1zM453.6 85.9h1v1h-1zM443.1 102.2h1v1h-1zM446.5 94.7h1v1h-1zM439.2 95.7h1v1h-1zM457.2 92.8h.9v.9h-.9zM450.3 94.3h1v1h-1zM450.4 84.3h1v1h-1zM449.1 88.4h1v1h-1zM453.5 90.0h1v1h-1zM450.2 95.3h1v1h-1zM452.3 91.0h1v1h-1zM439.1 92.3h1v1h-1zM453.2 97.0h1v1h-1zM447.5 96.7h1v1h-1zM442.1 98.0h1v1h-1zM447.9 86.4h1v1h-1zM444.1 100.8h1v1h-1zM448.6 85.9h1v1h-1zM453.4 91.0h1v1h-1zM449.9 93.9h1v1h-1zM446.8 96.3h1v1h-1zM442.7 89.8h1v1h-1zM442.5 91.1h1v1h-1zM452.0 83.9h1v1h-1zM452.2 86.2h1v1h-1zM440.5 101.4h1v1h-1zM437.8 89.8h.9v.9h-.9zM445.3 90.6h1v1h-1zM449.2 96.1h1v1h-1zM445.1 85.9h1v1h-1zM440.9 100.8h1v1h-1zM453.5 84.1h1v1h-1zM447.4 96.3h1v1h-1zM446.6 97.3h1v1h-1zM439.5 91.5h1v1h-1zM450.2 86.5h1v1h-1zM438.9 93.8h1v1h-1zM438.6 93.5h1v1h-1zM455.1 93.3h1v1h-1zM452.7 87.7h1v1h-1zM442.5 94.8h1v1h-1zM450.5 96.1h1v1h-1zM448.1 93.6h1v1h-1zM439.2 91.6h1v1h-1zM447.6 97.2h1v1h-1zM450.1 99.3h1v1h-1zM456.2 89.4h1v1h-1zM447.9 99.0h1v1h-1zM440.7 96.9h1v1h-1zM447.6 94.9h1v1h-1zM446.2 92.0h1v1h-1zM438.1 87.9h.9v.9h-.9zM440.3 97.6h1v1h-1zM447.9 85.4h1v1h-1zM447.5 90.6h1v1h-1zM450.7 98.6h1v1h-1zM445.4 99.8h1v1h-1zM450.7 87.9h1v1h-1zM440.1 93.8h1v1h-1zM441.2 95.7h1v1h-1zM452.3 83.0h1v1h-1zM438.5 92.8h1v1h-1zM442.8 86.2h1v1h-1zM439.3 96.7h1v1h-1zM445.8 87.6h1v1h-1zM455.9 91.8h1v1h-1zM439.0 90.7h1v1h-1zM448.6 99.3h1v1h-1zM448.3 94.8h1v1h-1zM446.5 94.6h1v1h-1zM441.5 91.4h1v1h-1zM439.2 94.7h1v1h-1zM450.1 85.7h1v1h-1zM455.5 84.0h.9v.9h-.9zM438.7 93.0h1v1h-1zM453.0 84.2h1v1h-1zM446.4 97.8h1v1h-1zM446.3 94.3h1v1h-1zM448.4 98.7h1v1h-1zM452.5 84.8h1v1h-1zM445.3 100.6h1v1h-1zM453.2 95.7h1v1h-1zM440.0 91.0h1v1h-1zM455.2 93.9h1v1h-1zM443.0 103.7h.9v.9h-.9zM444.0 93.2h1v1h-1zM442.8 88.7h1v1h-1zM450.4 91.7h1v1h-1zM449.1 83.3h1v1h-1zM443.6 86.7h1v1h-1zM440.7 100.2h1v1h-1zM453.3 87.9h1v1h-1zM453.6 83.6h1v1h-1zM450.1 89.2h1v1h-1zM441.0 90.3h1v1h-1zM441.5 91.6h1v1h-1zM452.9 85.8h1v1h-1zM448.8 92.6h1v1h-1zM446.4 93.6h1v1h-1zM445.5 90.3h1v1h-1zM448.4 90.3h1v1h-1zM444.0 87.3h1v1h-1zM440.8 97.6h1v1h-1zM452.1 95.0h1v1h-1zM445.0 87.3h1v1h-1zM443.2 87.1h1v1h-1zM447.2 86.3h1v1h-1zM454.3 95.1h1v1h-1zM443.1 96.0h1v1h-1zM449.7 91.8h1v1h-1zM449.4 98.8h1v1h-1zM447.6 96.5h1v1h-1zM450.1 97.2h1v1h-1zM450.1 96.5h1v1h-1zM442.8 93.5h1v1h-1zM453.2 94.8h1v1h-1zM451.0 87.8h1v1h-1zM440.9 91.0h1v1h-1zM450.5 87.4h1v1h-1zM450.4 84.4h1v1h-1zM446.4 95.2h1v1h-1zM449.7 88.6h1v1h-1zM448.4 97.4h1v1h-1zM453.4 94.1h1v1h-1zM455.4 87.0h1v1h-1zM456.1 90.1h1v1h-1zM444.4 89.0h1v1h-1zM446.8 98.1h1v1h-1zM441.6 91.9h1v1h-1zM452.7 92.2h1v1h-1zM445.4 85.2h1v1h-1zM452.8 85.8h1v1h-1zM452.2 92.5h1v1h-1zM447.1 99.5h1v1h-1zM452.6 87.2h1v1h-1zM455.5 89.5h1v1h-1zM444.4 102.8h1v1h-1zM440.5 91.4h1v1h-1zM444.0 96.3h1v1h-1zM449.1 85.6h1v1h-1zM437.9 94.6h1v1h-1zM451.6 92.6h1v1h-1zM445.9 96.1h1v1h-1zM452.1 86.3h1v1h-1zM451.5 88.9h1v1h-1zM446.9 98.3h1v1h-1zM444.6 87.4h1v1h-1zM443.1 102.6h1v1h-1zM438.7 91.2h1v1h-1zM445.2 102.1h1v1h-1zM452.6 87.4h1v1h-1zM447.7 84.9h1v1h-1zM448.2 93.5h1v1h-1zM456.1 91.1h1v1h-1zM442.0 91.1h1v1h-1zM441.2 98.8h1v1h-1zM437.6 94.7h1v1h-1zM440.3 100.1h1v1h-1zM447.8 85.0h1v1h-1zM449.9 85.2h1v1h-1zM438.8 98.2h1v1h-1zM450.0 94.0h1v1h-1zM448.6 83.5h1v1h-1zM440.1 97.9h1v1h-1zM442.5 92.8h1v1h-1zM450.7 90.6h1v1h-1zM438.5 97.3h1v1h-1zM454.0 89.8h1v1h-1zM444.2 99.2h1v1h-1zM452.9 86.6h1v1h-1zM445.7 95.8h1v1h-1zM443.5 86.0h1v1h-1zM440.9 95.1h1v1h-1zM452.2 89.0h1v1h-1zM451.4 94.2h1v1h-1zM438.5 96.4h1v1h-1zM441.5 92.0h1v1h-1zM450.0 99.1h1v1h-1zM450.5 91.3h1v1h-1zM445.9 84.6h1v1h-1zM453.1 83.5h1v1h-1zM456.1 92.2h1v1h-1zM453.3 87.4h1v1h-1zM445.8 95.6h1v1h-1zM448.1 89.7h1v1h-1zM454.3 82.5h.9v.9h-.9zM454.0 91.3h1v1h-1zM444.2 95.7h1v1h-1zM455.0 85.0h1v1h-1zM445.8 98.2h1v1h-1zM442.8 97.4h1v1h-1zM442.7 89.9h1v1h-1zM451.2 96.6h1v1h-1zM443.2 102.6h1v1h-1zM442.2 101.2h1v1h-1zM443.1 95.1h1v1h-1zM441.1 99.2h1v1h-1zM451.9 94.3h1v1h-1zM449.8 90.8h1v1h-1zM452.4 84.1h1v1h-1zM444.7 88.9h1v1h-1zM443.6 95.3h1v1h-1zM454.9 89.8h1v1h-1zM444.1 89.6h1v1h-1zM444.4 99.0h1v1h-1zM454.9 83.8h1v1h-1zM454.6 91.1h1v1h-1zM451.1 95.6h1v1h-1zM440.6 89.4h1v1h-1zM453.7 90.5h1v1h-1zM438.5 90.9h1v1h-1zM439.6 94.5h1v1h-1zM450.3 88.9h1v1h-1zM444.8 91.5h1v1h-1zM441.8 91.2h1v1h-1zM444.0 88.0h1v1h-1zM439.8 97.8h1v1h-1zM447.9 88.3h1v1h-1zM450.7 88.9h1v1h-1zM441.5 100.1h1v1h-1zM447.3 86.2h1v1h-1zM440.9 97.0h1v1h-1zM443.3 99.8h1v1h-1zM445.0 88.4h1v1h-1zM446.6 86.8h1v1h-1zM447.5 86.3h1v1h-1zM438.6 95.5h1v1h-1zM441.9 99.2h1v1h-1zM440.7 97.0h1v1h-1zM442.9 89.6h1v1h-1zM442.0 89.4h1v1h-1zM445.0 93.6h1v1h-1zM449.7 98.3h1v1h-1zM443.6 101.8h1v1h-1zM448.9 87.7h1v1h-1zM443.3 102.4h1v1h-1zM454.3 88.3h1v1h-1zM450.5 90.3h1v1h-1zM440.7 97.1h1v1h-1zM439.7 91.9h1v1h-1zM446.1 89.0h1v1h-1zM443.6 102.1h1v1h-1zM444.4 93.7h1v1h-1zM446.7 98.8h1v1h-1zM441.4 87.4h1v1h-1zM442.7 102.1h1v1h-1zM450.5 85.2h1v1h-1zM447.5 89.8h1v1h-1zM442.2 90.9h1v1h-1zM452.7 96.9h1v1h-1zM451.6 86.8h1v1h-1zM450.8 84.9h1v1h-1zM437.5 92.4h1v1h-1zM453.4 94.1h1v1h-1zM455.6 91.5h1v1h-1zM447.5 100.5h1v1h-1zM445.0 87.5h1v1h-1zM456.0 86.6h1v1h-1zM450.7 87.9h1v1h-1zM444.9 88.4h1v1h-1zM454.3 84.3h1v1h-1zM448.8 89.4h1v1h-1zM443.1 95.7h1v1h-1zM454.0 95.8h1v1h-1zM443.9 90.8h1v1h-1zM446.8 85.1h1v1h-1zM447.8 96.8h1v1h-1zM454.1 93.1h1v1h-1zM450.6 87.0h1v1h-1zM444.5 93.6h1v1h-1zM439.8 92.1h1v1h-1zM450.9 91.3h1v1h-1zM448.2 83.8h1v1h-1zM450.6 85.5h1v1h-1zM456.2 89.5h1v1h-1zM444.9 92.6h1v1h-1zM449.9 99.6h1v1h-1zM451.5 88.0h1v1h-1zM440.5 103.7h.9v.9h-.9zM451.8 85.4h1v1h-1zM437.9 94.3h1v1h-1zM454.4 90.2h1v1h-1zM451.3 86.9h1v1h-1zM449.3 84.6h1v1h-1zM452.5 94.3h1v1h-1zM440.9 91.7h1v1h-1zM451.2 83.4h1v1h-1zM442.5 102.0h1v1h-1zM446.3 98.4h1v1h-1zM447.6 92.4h1v1h-1zM450.5 90.2h1v1h-1zM438.4 95.7h1v1h-1zM451.3 89.6h1v1h-1zM442.6 92.3h1v1h-1zM451.7 92.6h1v1h-1zM443.1 86.3h1v1h-1zM443.9 96.1h1v1h-1zM454.4 91.5h1v1h-1zM444.1 93.4h1v1h-1zM438.3 92.6h1v1h-1zM448.4 89.7h1v1h-1zM453.0 84.6h1v1h-1zM448.6 85.5h1v1h-1zM453.3 90.8h1v1h-1zM437.4 92.6h.9v.9h-.9zM453.7 89.9h1v1h-1zM445.6 95.2h1v1h-1zM454.2 83.3h1v1h-1zM451.2 92.9h1v1h-1zM441.0 100.2h1v1h-1zM440.5 96.6h1v1h-1zM438.6 93.1h1v1h-1zM449.3 88.1h1v1h-1zM453.3 92.9h1v1h-1zM453.4 91.9h1v1h-1zM439.5 91.6h1v1h-1zM453.0 88.9h1v1h-1zM449.3 87.9h1v1h-1zM439.8 89.1h1v1h-1zM446.2 98.6h1v1h-1zM450.5 86.5h1v1h-1zM450.4 98.6h1v1h-1zM449.9 95.6h1v1h-1zM439.7 93.8h1v1h-1zM452.3 91.6h1v1h-1zM450.4 84.5h1v1h-1zM442.7 93.3h1v1h-1zM443.9 95.7h1v1h-1zM440.0 89.9h1v1h-1zM450.9 90.0h1v1h-1zM445.8 102.3h.9v.9h-.9zM452.4 83.1h1v1h-1zM442.8 88.1h1v1h-1zM439.4 100.3h1v1h-1zM441.5 92.6h1v1h-1zM444.5 91.4h1v1h-1zM448.5 86.9h1v1h-1zM439.0 91.7h1v1h-1zM452.7 91.5h1v1h-1zM453.0 88.2h1v1h-1zM446.4 98.6h1v1h-1zM448.2 96.2h1v1h-1zM445.0 87.1h1v1h-1zM447.7 98.9h1v1h-1zM437.8 93.2h1v1h-1zM451.4 94.2h1v1h-1zM449.8 99.1h1v1h-1zM443.3 99.6h1v1h-1zM451.4 93.9h1v1h-1zM453.7 91.2h1v1h-1zM441.5 90.6h1v1h-1zM453.9 95.1h1v1h-1zM453.2 86.9h1v1h-1zM445.6 94.1h1v1h-1zM442.3 97.5h1v1h-1zM443.6 100.6h1v1h-1zM449.5 86.8h1v1h-1zM452.4 91.8h1v1h-1zM440.2 93.8h1v1h-1zM447.4 83.8h1v1h-1zM453.9 94.2h1v1h-1zM443.7 88.3h1v1h-1zM441.6 90.7h1v1h-1zM446.0 95.5h1v1h-1zM440.1 91.8h1v1h-1zM444.5 85.6h1v1h-1zM440.9 95.5h1v1h-1zM439.1 93.3h1v1h-1zM441.6 87.1h1v1h-1zM455.7 88.4h1v1h-1zM445.4 100.3h1v1h-1zM445.8 100.7h1v1h-1zM444.4 98.5h1v1h-1zM448.5 83.7h1v1h-1zM441.1 101.0h1v1h-1zM453.9 91.0h1v1h-1zM452.4 94.7h1v1h-1zM445.2 100.6h1v1h-1zM455.1 86.5h1v1h-1zM446.2 87.3h1v1h-1zM455.8 87.6h1v1h-1zM454.1 90.4h1v1h-1zM446.3 97.1h1v1h-1zM442.3 99.9h1v1h-1zM444.8 100.4h1v1h-1zM449.0 95.8h1v1h-1zM448.5 85.6h1v1h-1zM444.7 95.8h1v1h-1zM448.6 95.0h1v1h-1zM441.0 89.7h1v1h-1zM443.9 94.1h1v1h-1zM449.0 84.0h1v1h-1zM443.7 87.2h1v1h-1zM445.8 92.2h1v1h-1zM446.4 99.2h1v1h-1zM450.2 89.9h1v1h-1zM456.7 86.7h.9v.9h-.9zM453.4 93.6h1v1h-1zM444.8 94.5h1v1h-1zM442.8 101.1h1v1h-1zM455.2 92.6h1v1h-1zM445.9 101.3h1v1h-1zM447.2 91.2h1v1h-1zM439.0 97.0h1v1h-1zM442.8 96.9h1v1h-1zM443.0 102.9h1v1h-1zM444.5 94.4h1v1h-1zM440.3 99.9h1v1h-1zM451.9 87.5h1v1h-1zM437.7 94.9h1v1h-1zM440.0 88.0h1v1h-1zM441.2 89.0h1v1h-1zM438.0 93.4h1v1h-1zM450.8 90.7h1v1h-1zM450.5 95.7h1v1h-1zM445.6 98.8h1v1h-1zM445.2 99.7h1v1h-1zM438.6 96.5h1v1h-1zM451.3 95.7h1v1h-1zM442.4 90.2h1v1h-1zM447.6 85.1h1v1h-1zM445.0 88.2h1v1h-1zM442.7 94.3h1v1h-1zM438.8 100.0h1v1h-1zM442.1 87.4h1v1h-1zM442.6 92.0h1v1h-1zM454.5 92.6h1v1h-1zM451.4 98.4h1v1h-1zM439.3 99.3h1v1h-1zM447.6 85.5h1v1h-1zM442.4 98.4h1v1h-1zM444.6 98.5h1v1h-1zM452.9 93.9h1v1h-1zM442.5 90.0h1v1h-1zM441.2 94.7h1v1h-1zM443.0 87.4h1v1h-1zM439.5 94.0h1v1h-1zM446.4 94.2h1v1h-1zM447.5 101.0h1v1h-1zM446.1 93.7h1v1h-1zM443.5 95.6h1v1h-1zM444.3 93.4h1v1h-1zM452.6 85.4h1v1h-1zM445.1 101.1h1v1h-1zM448.8 98.5h1v1h-1zM441.9 103.4h.9v.9h-.9zM442.4 97.1h1v1h-1zM445.0 98.3h1v1h-1zM453.2 83.2h1v1h-1zM451.7 86.0h1v1h-1zM449.0 95.3h1v1h-1zM436.6 95.1h.9v.9h-.9zM442.3 91.5h1v1h-1zM441.0 96.9h1v1h-1zM438.1 94.9h1v1h-1zM444.0 99.3h1v1h-1zM444.1 90.5h1v1h-1zM442.7 91.7h1v1h-1zM455.2 84.0h.9v.9h-.9zM450.3 87.9h1v1h-1zM446.7 98.7h1v1h-1zM440.5 92.7h1v1h-1zM443.7 91.8h1v1h-1zM438.7 101.1h.9v.9h-.9zM441.7 97.8h1v1h-1zM448.1 93.4h1v1h-1zM442.5 90.5h1v1h-1zM438.9 100.1h1v1h-1zM441.4 93.5h1v1h-1zM443.2 96.8h1v1h-1zM455.9 84.9h1v1h-1zM439.0 91.8h1v1h-1zM455.9 89.1h1v1h-1zM448.2 82.3h.9v.9h-.9zM451.2 90.7h1v1h-1zM450.3 90.9h1v1h-1zM444.9 99.8h1v1h-1zM454.3 87.8h1v1h-1zM442.0 88.0h1v1h-1zM450.1 97.0h1v1h-1zM447.7 90.4h1v1h-1zM444.3 101.6h1v1h-1zM455.7 90.2h1v1h-1zM438.1 96.6h1v1h-1zM453.9 89.7h1v1h-1zM451.8 89.6h1v1h-1zM446.9 98.1h1v1h-1zM451.3 83.1h1v1h-1zM446.2 92.9h1v1h-1zM451.5 91.1h1v1h-1zM449.8 97.6h1v1h-1zM439.2 96.1h1v1h-1zM447.4 92.2h1v1h-1zM446.0 101.3h1v1h-1zM452.0 87.9h1v1h-1zM447.0 95.4h1v1h-1zM452.2 96.7h1v1h-1zM444.2 90.8h1v1h-1zM445.7 95.0h1v1h-1zM455.1 92.8h1v1h-1zM441.8 94.8h1v1h-1zM454.8 84.0h1v1h-1zM452.1 88.6h1v1h-1zM451.0 87.9h1v1h-1zM441.7 91.8h1v1h-1zM446.0 100.2h1v1h-1zM449.5 97.7h1v1h-1zM448.0 99.2h1v1h-1zM448.7 84.7h1v1h-1zM451.7 83.7h1v1h-1zM442.5 96.9h1v1h-1zM438.5 95.8h1v1h-1zM454.6 86.2h1v1h-1zM448.6 90.5h1v1h-1zM445.9 96.7h1v1h-1zM446.0 88.9h1v1h-1zM448.2 87.2h1v1h-1zM451.5 85.5h1v1h-1zM441.8 86.8h1v1h-1zM445.3 93.5h1v1h-1zM451.5 95.4h1v1h-1zM438.7 98.6h1v1h-1zM444.6 96.4h1v1h-1zM444.2 86.7h1v1h-1zM447.2 89.1h1v1h-1zM450.5 87.9h1v1h-1zM443.8 91.4h1v1h-1zM440.0 99.9h1v1h-1zM452.7 96.9h1v1h-1zM451.2 89.2h1v1h-1zM455.7 91.5h1v1h-1zM446.6 100.7h1v1h-1zM443.5 86.6h1v1h-1zM452.6 86.9h1v1h-1zM452.0 86.1h1v1h-1zM448.9 96.2h1v1h-1zM443.4 90.2h1v1h-1zM444.8 99.3h1v1h-1zM445.5 88.0h1v1h-1zM449.6 87.6h1v1h-1zM447.4 84.9h1v1h-1zM443.6 92.3h1v1h-1zM442.8 94.7h1v1h-1zM441.2 92.7h1v1h-1zM439.3 96.7h1v1h-1zM451.2 88.5h1v1h-1zM446.6 92.1h1v1h-1zM448.6 93.8h1v1h-1zM448.1 83.8h1v1h-1zM447.3 96.9h1v1h-1zM450.2 98.6h1v1h-1zM446.9 99.3h1v1h-1zM439.1 97.2h1v1h-1zM457.3 85.9h.9v.9h-.9zM448.3 90.1h1v1h-1zM446.7 97.5h1v1h-1zM444.2 93.2h1v1h-1zM443.5 93.1h1v1h-1zM450.6 93.9h1v1h-1zM443.2 96.8h1v1h-1zM440.7 101.8h1v1h-1zM451.2 87.8h1v1h-1zM443.4 85.6h1v1h-1zM445.4 101.7h1v1h-1zM442.3 96.8h1v1h-1zM446.8 96.4h1v1h-1zM448.1 97.2h1v1h-1zM448.8 91.8h1v1h-1zM441.6 97.4h1v1h-1zM441.0 96.8h1v1h-1zM449.2 91.1h1v1h-1zM446.1 89.2h1v1h-1zM441.8 95.1h1v1h-1zM442.0 88.4h1v1h-1zM450.4 90.3h1v1h-1zM442.5 99.2h1v1h-1zM441.2 97.5h1v1h-1zM447.1 92.9h1v1h-1zM448.6 101.7h.9v.9h-.9zM450.5 100.1h.9v.9h-.9zM441.3 90.1h1v1h-1zM446.7 91.5h1v1h-1zM444.2 97.9h1v1h-1zM440.1 94.3h1v1h-1zM448.8 94.3h1v1h-1zM437.5 92.9h1v1h-1zM450.0 94.1h1v1h-1zM450.8 89.1h1v1h-1zM439.9 89.1h1v1h-1zM449.7 95.5h1v1h-1zM444.9 87.9h1v1h-1zM446.6 98.0h1v1h-1zM447.9 98.6h1v1h-1zM451.1 93.3h1v1h-1zM452.4 85.9h1v1h-1zM450.4 85.4h1v1h-1zM441.3 92.6h1v1h-1z" fill="#000"/>
<path d="M454.8 230.2h.9v.9h-.9zM458.0 220.6h1v1h-1zM456.6 224.8h1v1h-1zM475.7 207.0h1v1h-1zM442.6 232.8h1v1h-1zM472.3 204.0h1v1h-1zM449.0 222.2h1v1h-1zM448.2 230.8h1v1h-1zM460.9 210.1h1v1h-1zM439.2 232.9h1v1h-1zM479.5 201.3h1v1h-1zM450.9 222.2h1v1h-1zM470.6 216.1h1v1h-1zM445.4 222.8h1v1h-1zM456.0 221.0h1v1h-1zM465.4 216.4h1v1h-1zM467.6 216.5h1v1h-1zM460.1 227.2h1v1h-1zM452.7 218.4h1v1h-1zM473.1 210.8h1v1h-1zM462.7 218.2h1v1h-1zM469.8 219.3h1v1h-1zM443.6 232.9h1v1h-1zM448.6 226.8h1v1h-1zM451.8 223.3h1v1h-1zM467.6 206.6h1v1h-1zM466.2 212.6h1v1h-1zM447.9 230.2h1v1h-1zM450.7 225.6h1v1h-1zM459.5 224.8h1v1h-1zM471.5 211.4h1v1h-1zM470.3 210.9h1v1h-1zM444.8 233.3h1v1h-1zM437.3 229.7h1v1h-1zM467.7 211.2h1v1h-1zM455.2 217.1h1v1h-1zM474.6 204.0h1v1h-1zM460.6 220.9h1v1h-1zM459.0 219.8h1v1h-1zM440.3 227.0h1v1h-1zM478.1 203.2h1v1h-1zM452.5 224.5h1v1h-1zM462.6 212.9h1v1h-1zM479.7 205.7h1v1h-1zM471.4 202.0h1v1h-1zM450.0 228.1h1v1h-1zM441.7 225.3h1v1h-1zM462.1 222.4h1v1h-1zM462.7 220.2h1v1h-1zM452.6 230.5h1v1h-1zM456.9 220.8h1v1h-1zM479.4 207.0h1v1h-1zM442.7 229.4h1v1h-1zM475.9 212.8h1v1h-1zM467.7 203.5h1v1h-1zM465.3 210.1h1v1h-1zM462.9 224.6h1v1h-1zM475.1 216.7h1v1h-1zM470.1 220.5h1v1h-1zM457.8 216.8h1v1h-1zM468.0 222.4h1v1h-1zM448.6 220.1h1v1h-1zM468.4 206.8h1v1h-1zM476.5 209.4h1v1h-1zM471.5 204.4h1v1h-1zM468.6 207.6h1v1h-1zM462.9 207.1h1v1h-1zM458.9 224.3h1v1h-1zM460.9 212.9h1v1h-1zM460.2 220.8h1v1h-1zM472.9 218.4h1v1h-1zM463.7 219.8h1v1h-1zM443.8 224.4h1v1h-1zM455.1 225.5h1v1h-1zM471.5 205.3h1v1h-1zM473.4 203.5h1v1h-1zM475.0 211.3h1v1h-1zM471.2 211.4h1v1h-1zM458.2 210.6h.9v.9h-.9zM447.1 222.4h1v1h-1zM473.2 210.0h1v1h-1zM474.2 214.0h1v1h-1zM475.5 209.2h1v1h-1zM469.3 209.1h1v1h-1zM464.4 218.4h1v1h-1zM455.4 225.5h1v1h-1zM450.3 227.4h1v1h-1zM439.6 234.1h.9v.9h-.9zM445.3 223.5h1v1h-1zM463.4 207.6h1v1h-1zM468.6 208.3h1v1h-1zM471.3 204.0h1v1h-1zM458.0 224.6h1v1h-1zM477.2 203.0h1v1h-1zM438.4 229.0h1v1h-1zM473.5 215.1h1v1h-1zM459.7 224.5h1v1h-1zM467.0 213.6h1v1h-1zM437.6 229.4h1v1h-1zM469.9 218.4h1v1h-1zM443.9 224.3h1v1h-1zM461.6 215.7h1v1h-1zM454.4 229.3h1v1h-1zM476.1 210.9h1v1h-1zM480.5 200.1h.9v.9h-.9zM444.2 227.9h1v1h-1zM469.0 208.2h1v1h-1zM472.4 210.7h1v1h-1zM476.3 202.5h1v1h-1zM459.5 213.9h1v1h-1zM465.0 209.7h1v1h-1zM474.2 214.5h1v1h-1zM475.0 207.8h1v1h-1zM452.2 228.2h1v1h-1zM462.3 226.2h1v1h-1zM457.7 221.3h1v1h-1zM468.7 212.0h1v1h-1zM458.1 219.4h1v1h-1zM437.0 230.6h1v1h-1zM461.4 221.6h1v1h-1zM467.4 210.7h1v1h-1zM437.9 232.4h1v1h-1zM478.0 203.5h1v1h-1zM437.6 226.7h.9v.9h-.9zM459.2 220.5h1v1h-1zM451.0 226.8h1v1h-1zM459.5 222.8h1v1h-1zM456.2 220.6h1v1h-1zM456.8 224.9h1v1h-1zM467.5 208.8h1v1h-1zM468.5 205.8h1v1h-1zM459.4 213.3h1v1h-1zM439.7 232.0h1v1h-1zM459.8 221.3h1v1h-1zM470.1 202.3h1v1h-1zM456.2 224.2h1v1h-1zM447.5 229.7h1v1h-1zM459.8 218.0h1v1h-1zM468.2 207.7h1v1h-1zM474.3 206.6h1v1h-1zM464.4 218.3h1v1h-1zM475.4 200.4h1v1h-1zM441.9 229.8h1v1h-1zM467.8 213.9h1v1h-1zM478.4 209.3h1v1h-1zM461.7 205.9h.9v.9h-.9zM457.0 216.6h1v1h-1zM445.1 225.5h1v1h-1zM475.9 206.5h1v1h-1zM465.1 220.1h1v1h-1zM441.0 231.3h1v1h-1zM472.3 205.3h1v1h-1zM460.6 223.2h1v1h-1zM464.2 210.1h1v1h-1zM479.0 208.1h1v1h-1zM451.0 227.8h1v1h-1zM465.6 218.4h1v1h-1zM461.7 210.1h1v1h-1zM442.7 230.2h1v1h-1zM460.1 218.4h1v1h-1zM469.0 213.0h1v1h-1zM476.3 205.0h1v1h-1zM446.7 225.7h1v1h-1zM438.6 228.5h1v1h-1zM438.8 229.2h1v1h-1zM442.1 231.2h1v1h-1zM443.4 229.0h1v1h-1zM465.1 205.5h1v1h-1zM449.3 223.9h1v1h-1zM463.2 207.3h1v1h-1zM478.9 207.5h1v1h-1zM439.3 228.6h1v1h-1zM454.7 217.7h1v1h-1zM479.4 207.0h1v1h-1zM458.6 219.3h1v1h-1zM461.7 213.9h1v1h-1zM465.2 205.2h1v1h-1zM450.0 222.5h1v1h-1zM467.3 209.3h1v1h-1zM478.9 208.4h1v1h-1zM466.9 215.6h1v1h-1zM439.1 230.8h1v1h-1zM450.7 229.6h1v1h-1zM463.3 212.9h1v1h-1zM471.3 214.8h1v1h-1zM448.3 226.5h1v1h-1zM442.8 230.0h1v1h-1zM465.9 206.8h1v1h-1zM463.1 226.4h.9v.9h-.9zM478.0 212.4h1v1h-1zM474.0 212.1h1v1h-1zM454.2 228.8h1v1h-1zM462.6 214.9h1v1h-1zM467.1 210.7h1v1h-1zM447.5 227.9h1v1h-1zM467.0 222.9h1v1h-1zM456.0 220.8h1v1h-1zM474.0 212.9h1v1h-1zM448.0 226.3h1v1h-1zM461.9 209.9h1v1h-1zM448.6 229.8h1v1h-1zM449.7 232.4h1v1h-1zM468.7 205.6h1v1h-1zM467.3 208.6h1v1h-1zM458.5 212.7h1v1h-1zM459.1 228.7h.9v.9h-.9zM453.2 219.2h1v1h-1zM467.1 209.6h1v1h-1zM472.9 212.2h1v1h-1zM474.2 204.5h1v1h-1zM466.7 212.5h1v1h-1zM451.8 218.7h1v1h-1zM441.5 232.2h1v1h-1zM461.9 217.6h1v1h-1zM465.8 205.7h1v1h-1zM458.1 222.9h1v1h-1zM461.3 223.8h1v1h-1zM476.5 214.0h1v1h-1zM451.2 220.5h1v1h-1zM468.5 205.0h1v1h-1zM449.0 227.9h1v1h-1zM477.3 207.6h1v1h-1zM457.0 220.1h1v1h-1zM457.8 213.1h1v1h-1zM448.4 222.8h1v1h-1zM476.6 204.8h1v1h-1zM460.1 208.8h1v1h-1zM452.0 231.1h1v1h-1zM454.9 225.2h1v1h-1zM442.7 226.9h1v1h-1zM470.6 207.1h1v1h-1zM467.4 208.1h1v1h-1zM446.7 231.8h1v1h-1zM461.3 212.9h1v1h-1zM456.1 230.7h.9v.9h-.9zM468.6 223.0h1v1h-1zM469.1 207.5h1v1h-1zM469.0 205.2h1v1h-1zM466.3 203.9h1v1h-1zM449.5 222.0h1v1h-1zM460.9 217.2h1v1h-1zM445.9 224.8h1v1h-1zM466.0 209.6h1v1h-1zM472.0 210.5h1v1h-1zM452.0 230.2h1v1h-1zM467.3 215.3h1v1h-1zM465.3 205.5h1v1h-1zM467.1 206.8h1v1h-1zM444.8 229.0h1v1h-1zM455.4 224.6h1v1h-1zM472.8 216.6h1v1h-1zM462.5 217.7h1v1h-1zM479.7 204.1h1v1h-1zM472.1 219.1h1v1h-1zM454.7 216.7h1v1h-1zM471.5 214.3h1v1h-1zM465.4 223.7h1v1h-1zM440.4 227.5h1v1h-1zM471.1 212.6h1v1h-1zM466.3 210.3h1v1h-1zM453.8 218.2h1v1h-1zM464.2 207.0h1v1h-1zM452.8 222.6h1v1h-1zM462.6 220.0h1v1h-1zM473.2 207.6h1v1h-1zM469.7 216.9h1v1h-1zM471.1 218.0h1v1h-1zM476.2 208.2h1v1h-1zM454.6 228.5h1v1h-1zM471.1 206.9h1v1h-1zM447.9 227.1h1v1h-1zM472.2 211.2h1v1h-1zM473.5 203.3h1v1h-1zM466.6 222.0h1v1h-1zM444.1 226.0h1v1h-1zM463.1 211.7h1v1h-1zM441.8 233.1h1v1h-1zM453.3 222.7h1v1h-1zM449.7 224.3h1v1h-1zM466.5 206.5h1v1h-1zM445.1 228.4h1v1h-1zM467.0 210.7h1v1h-1zM467.1 214.2h1v1h-1zM461.3 211.5h1v1h-1zM449.2 230.1h1v1h-1zM467.0 209.1h1v1h-1zM470.0 208.3h1v1h-1zM467.9 212.2h1v1h-1zM449.5 228.2h1v1h-1zM448.4 229.5h1v1h-1zM459.4 215.9h1v1h-1zM455.5 224.4h1v1h-1zM468.6 201.8h1v1h-1zM470.3 216.3h1v1h-1zM477.2 204.9h1v1h-1zM451.5 221.5h1v1h-1zM470.9 219.6h1v1h-1zM449.9 222.9h1v1h-1zM463.5 223.3h1v1h-1zM476.3 212.2h1v1h-1zM454.0 223.8h1v1h-1zM441.5 227.6h1v1h-1zM452.6 230.1h1v1h-1zM462.9 212.0h1v1h-1zM450.4 231.6h1v1h-1zM460.1 214.2h1v1h-1zM475.7 203.8h1v1h-1zM450.5 224.0h1v1h-1zM455.7 226.2h1v1h-1zM444.7 227.8h1v1h-1zM454.5 227.3h1v1h-1zM448.6 230.5h1v1h-1zM463.4 221.9h1v1h-1zM471.7 201.2h1v1h-1zM444.4 224.1h1v1h-1zM477.6 198.3h.9v.9h-.9zM469.5 213.6h1v1h-1zM465.9 207.3h1v1h-1zM478.6 206.9h1v1h-1zM438.6 226.7h1v1h-1zM470.4 202.6h1v1h-1zM465.4 214.5h1v1h-1zM458.3 226.2h1v1h-1zM464.6 217.5h1v1h-1zM475.3 202.5h1v1h-1zM450.9 229.2h1v1h-1zM455.6 224.0h1v1h-1zM477.5 204.8h1v1h-1zM467.0 218.8h1v1h-1zM456.7 218.0h1v1h-1zM468.4 207.9h1v1h-1zM450.0 223.1h1v1h-1zM458.3 222.5h1v1h-1zM456.2 215.0h1v1h-1zM443.6 222.4h.9v.9h-.9zM468.9 202.8h1v1h-1zM464.5 209.9h1v1h-1zM448.5 220.2h1v1h-1zM460.2 226.3h1v1h-1zM473.9 212.5h1v1h-1zM465.9 215.3h1v1h-1zM448.1 220.1h1v1h-1zM456.0 214.1h.9v.9h-.9zM474.2 208.7h1v1h-1zM474.9 210.5h1v1h-1zM448.4 228.2h1v1h-1zM470.3 212.0h1v1h-1zM464.0 204.1h.9v.9h-.9zM463.0 208.7h1v1h-1zM468.7 204.7h1v1h-1zM438.4 233.6h.9v.9h-.9zM469.7 208.2h1v1h-1zM465.2 212.1h1v1h-1zM452.7 226.3h1v1h-1zM468.1 212.2h1v1h-1zM437.9 231.1h1v1h-1zM461.7 219.1h1v1h-1zM457.2 228.2h1v1h-1zM466.0 212.6h1v1h-1zM452.6 229.4h1v1h-1zM468.9 219.5h1v1h-1zM456.1 216.3h1v1h-1zM473.5 209.1h1v1h-1zM455.4 229.3h1v1h-1zM457.6 223.4h1v1h-1zM461.1 222.8h1v1h-1zM460.1 209.8h1v1h-1zM466.5 204.6h1v1h-1zM475.2 205.2h1v1h-1zM456.2 225.1h1v1h-1zM472.2 206.8h1v1h-1zM446.9 224.3h1v1h-1zM475.4 214.6h1v1h-1zM442.6 232.4h1v1h-1zM453.1 229.1h1v1h-1zM469.2 213.5h1v1h-1zM471.3 202.6h1v1h-1zM479.1 206.3h1v1h-1zM466.8 223.7h1v1h-1zM452.8 230.2h1v1h-1zM477.0 208.4h1v1h-1zM440.6 232.3h1v1h-1zM465.7 223.8h1v1h-1zM471.6 214.3h1v1h-1zM444.0 223.3h1v1h-1zM477.2 212.1h1v1h-1zM479.9 207.4h1v1h-1zM463.5 220.4h1v1h-1zM468.1 211.8h1v1h-1zM451.9 225.0h1v1h-1zM442.5 230.3h1v1h-1zM458.3 224.5h1v1h-1zM437.4 227.2h.9v.9h-.9zM468.3 203.9h1v1h-1zM463.1 217.3h1v1h-1zM473.7 201.1h1v1h-1zM474.7 204.2h1v1h-1zM459.5 225.8h1v1h-1zM439.7 226.1h1v1h-1zM474.9 213.1h1v1h-1zM448.5 220.7h1v1h-1zM450.3 220.9h1v1h-1zM475.3 203.7h1v1h-1zM445.7 231.3h1v1h-1zM459.9 222.0h1v1h-1zM445.2 229.8h1v1h-1zM473.0 204.5h1v1h-1zM471.8 219.4h1v1h-1zM438.7 231.3h1v1h-1zM468.9 211.2h1v1h-1zM474.6 213.7h1v1h-1zM452.0 231.8h1v1h-1zM474.3 203.4h1v1h-1zM439.6 232.5h1v1h-1zM453.7 225.1h1v1h-1zM471.9 207.0h1v1h-1zM450.5 220.7h1v1h-1zM443.1 229.7h1v1h-1zM461.8 223.9h1v1h-1zM474.8 208.2h1v1h-1zM464.7 208.8h1v1h-1zM462.3 220.4h1v1h-1zM468.1 202.5h1v1h-1zM455.9 217.5h1v1h-1zM463.0 219.4h1v1h-1zM455.8 217.3h1v1h-1zM457.5 217.5h1v1h-1zM446.1 223.3h1v1h-1zM459.2 222.6h1v1h-1zM467.7 222.0h1v1h-1zM441.3 224.4h1v1h-1zM465.4 222.3h1v1h-1zM475.3 207.3h1v1h-1zM448.9 220.6h1v1h-1zM440.3 227.0h1v1h-1zM452.7 223.3h1v1h-1zM449.7 224.4h1v1h-1zM470.6 205.4h1v1h-1zM473.1 204.2h1v1h-1zM460.2 221.2h1v1h-1zM469.4 206.5h1v1h-1zM451.8 222.8h1v1h-1zM447.3 233.4h1v1h-1zM448.2 225.9h1v1h-1zM439.8 230.8h1v1h-1zM461.4 216.7h1v1h-1zM448.7 229.6h1v1h-1zM470.7 207.7h1v1h-1zM468.8 204.2h1v1h-1zM475.2 199.6h1v1h-1zM442.5 228.2h1v1h-1zM458.0 227.8h1v1h-1zM453.2 225.1h1v1h-1zM444.7 229.7h1v1h-1zM440.0 229.1h1v1h-1zM460.0 226.9h1v1h-1zM474.4 198.9h1v1h-1zM469.9 215.1h1v1h-1zM459.6 216.9h1v1h-1zM465.4 222.8h1v1h-1zM446.0 224.4h1v1h-1zM443.6 228.6h1v1h-1zM453.7 218.0h1v1h-1zM467.7 211.0h1v1h-1zM451.8 219.2h1v1h-1zM468.5 212.5h1v1h-1zM449.3 228.6h1v1h-1zM452.5 228.5h1v1h-1zM443.3 226.3h1v1h-1zM444.6 225.7h1v1h-1zM464.0 212.8h1v1h-1zM438.9 230.0h1v1h-1zM455.3 220.4h1v1h-1zM472.4 210.0h1v1h-1zM445.6 228.8h1v1h-1zM465.2 210.9h1v1h-1zM463.9 211.3h1v1h-1zM443.9 225.8h1v1h-1zM438.9 224.9h.9v.9h-.9zM467.2 217.3h1v1h-1zM475.2 200.7h1v1h-1zM443.2 226.3h1v1h-1zM448.6 231.3h1v1h-1zM443.7 227.2h1v1h-1zM453.2 221.2h1v1h-1zM466.0 206.2h1v1h-1zM441.7 226.7h1v1h-1zM446.6 231.8h1v1h-1zM459.0 210.7h1v1h-1zM462.0 211.4h1v1h-1zM473.1 219.9h.9v.9h-.9zM447.5 222.1h1v1h-1zM453.8 225.7h1v1h-1zM472.9 208.6h1v1h-1zM461.8 209.3h1v1h-1zM466.9 213.5h1v1h-1zM467.9 216.6h1v1h-1zM473.7 203.2h1v1h-1zM450.6 230.4h1v1h-1zM442.3 226.5h1v1h-1zM478.2 211.1h1v1h-1zM442.1 232.1h1v1h-1zM454.3 224.4h1v1h-1zM476.1 202.6h1v1h-1zM459.6 210.0h1v1h-1zM456.5 215.6h1v1h-1zM443.1 232.4h1v1h-1zM450.0 227.1h1v1h-1zM476.1 209.9h1v1h-1zM454.4 226.2h1v1h-1zM457.8 215.1h1v1h-1zM439.6 225.9h1v1h-1zM475.3 207.8h1v1h-1zM464.1 222.5h1v1h-1zM472.2 200.1h1v1h-1zM476.8 205.6h1v1h-1zM440.0 232.0h1v1h-1zM477.6 204.8h1v1h-1zM470.1 210.8h1v1h-1zM472.7 203.8h1v1h-1zM471.4 211.6h1v1h-1zM452.3 223.7h1v1h-1zM474.5 212.6h1v1h-1zM466.7 221.6h1v1h-1zM474.6 200.7h1v1h-1zM463.6 210.5h1v1h-1zM459.4 214.0h1v1h-1zM456.7 224.5h1v1h-1zM475.7 212.3h1v1h-1zM464.8 204.8h1v1h-1zM466.0 215.3h1v1h-1zM476.3 205.8h1v1h-1zM475.9 200.4h1v1h-1zM463.8 210.2h1v1h-1zM471.4 202.4h1v1h-1zM449.9 230.9h1v1h-1zM464.4 222.3h1v1h-1zM465.4 218.1h1v1h-1zM464.7 223.7h1v1h-1zM472.1 206.3h1v1h-1zM458.5 220.3h1v1h-1zM472.3 218.5h1v1h-1zM467.6 215.3h1v1h-1zM468.2 218.5h1v1h-1zM439.9 228.5h1v1h-1zM460.0 220.4h1v1h-1zM461.3 212.2h1v1h-1zM470.1 215.4h1v1h-1zM448.1 225.6h1v1h-1zM474.3 212.1h1v1h-1zM467.6 209.8h1v1h-1zM454.0 223.3h1v1h-1zM449.3 228.9h1v1h-1zM468.5 218.6h1v1h-1zM441.2 227.2h1v1h-1zM465.4 209.7h1v1h-1zM454.9 222.4h1v1h-1zM446.3 222.7h1v1h-1zM471.8 219.2h1v1h-1zM448.6 230.7h1v1h-1zM444.0 232.5h1v1h-1zM470.0 206.1h1v1h-1zM441.5 229.1h1v1h-1zM455.8 215.8h1v1h-1zM449.7 224.0h1v1h-1zM457.8 224.7h1v1h-1zM453.0 220.8h1v1h-1zM446.7 223.8h1v1h-1zM466.3 216.3h1v1h-1zM464.1 209.5h1v1h-1zM458.5 223.9h1v1h-1zM443.9 232.9h1v1h-1zM446.6 226.3h1v1h-1zM447.8 222.8h1v1h-1zM460.1 214.3h1v1h-1zM467.8 207.2h1v1h-1zM447.9 226.0h1v1h-1zM476.9 198.3h.9v.9h-.9zM439.0 231.9h1v1h-1zM459.3 221.2h1v1h-1zM463.0 218.9h1v1h-1zM443.9 231.2h1v1h-1zM481.5 205.4h.9v.9h-.9zM447.8 226.0h1v1h-1zM471.8 219.7h1v1h-1zM467.6 212.1h1v1h-1zM445.5 224.0h1v1h-1zM452.5 219.9h1v1h-1zM439.9 230.7h1v1h-1zM457.4 220.4h1v1h-1zM468.4 208.9h1v1h-1zM458.6 219.1h1v1h-1zM473.6 208.1h1v1h-1zM444.8 224.5h1v1h-1zM475.4 203.2h1v1h-1zM472.7 207.4h1v1h-1zM464.4 214.6h1v1h-1zM452.8 229.9h1v1h-1zM469.9 208.9h1v1h-1zM469.4 210.2h1v1h-1zM459.1 225.4h1v1h-1zM438.8 228.3h1v1h-1zM464.5 209.7h1v1h-1zM472.4 204.6h1v1h-1zM475.9 200.2h1v1h-1zM445.6 223.6h1v1h-1zM466.4 206.5h1v1h-1zM471.3 213.4h1v1h-1zM455.6 216.1h1v1h-1zM478.6 201.2h1v1h-1zM471.2 215.9h1v1h-1zM469.5 217.2h1v1h-1zM464.0 220.1h1v1h-1zM466.1 217.9h1v1h-1zM455.4 226.9h1v1h-1zM460.5 221.5h1v1h-1zM469.4 215.4h1v1h-1zM454.9 218.0h1v1h-1zM462.6 211.9h1v1h-1zM451.3 219.5h1v1h-1zM464.8 210.2h1v1h-1zM475.9 209.9h1v1h-1zM446.7 230.9h1v1h-1zM476.5 215.9h.9v.9h-.9zM449.6 222.9h1v1h-1zM450.6 220.3h1v1h-1zM448.1 225.7h1v1h-1zM467.3 213.0h1v1h-1zM441.7 232.8h1v1h-1zM463.4 217.4h1v1h-1zM478.1 210.5h1v1h-1zM447.5 231.9h1v1h-1zM473.7 212.9h1v1h-1zM457.4 219.9h1v1h-1zM476.3 211.4h1v1h-1zM447.2 230.9h1v1h-1zM470.9 204.0h1v1h-1zM445.2 226.3h1v1h-1zM468.0 201.9h1v1h-1zM466.1 216.8h1v1h-1zM446.5 225.8h1v1h-1zM463.3 220.7h1v1h-1zM471.8 217.1h1v1h-1zM447.2 224.1h1v1h-1zM458.2 209.0h.9v.9h-.9zM461.0 215.6h1v1h-1zM449.2 232.6h1v1h-1zM457.4 213.0h1v1h-1zM471.9 212.1h1v1h-1zM447.3 233.0h1v1h-1zM467.7 213.8h1v1h-1zM450.7 231.0h1v1h-1zM462.5 210.5h1v1h-1zM438.7 229.5h1v1h-1zM471.9 219.4h1v1h-1zM457.3 223.2h1v1h-1zM450.3 226.3h1v1h-1zM453.8 229.8h1v1h-1zM441.2 226.1h1v1h-1zM460.4 217.1h1v1h-1zM467.2 210.6h1v1h-1zM449.3 229.7h1v1h-1zM448.7 227.2h1v1h-1zM437.9 228.6h1v1h-1zM473.1 213.3h1v1h-1zM475.3 206.1h1v1h-1zM450.2 221.2h1v1h-1zM463.3 214.7h1v1h-1zM446.5 225.8h1v1h-1zM475.5 201.0h1v1h-1zM466.6 221.7h1v1h-1zM472.1 215.8h1v1h-1zM471.0 209.5h1v1h-1zM460.4 221.4h1v1h-1zM462.8 224.9h1v1h-1zM464.5 206.8h1v1h-1zM476.0 206.7h1v1h-1zM448.7 220.6h1v1h-1zM448.2 232.7h1v1h-1zM469.3 218.7h1v1h-1zM465.7 211.7h1v1h-1zM461.8 224.5h1v1h-1zM442.1 226.1h1v1h-1zM438.8 231.0h1v1h-1zM471.0 200.7h1v1h-1zM464.8 224.5h1v1h-1zM474.7 199.0h1v1h-1zM475.1 211.2h1v1h-1zM460.3 224.4h1v1h-1zM473.6 208.2h1v1h-1zM467.5 219.6h1v1h-1zM459.2 220.1h1v1h-1zM456.5 215.3h1v1h-1zM471.2 205.7h1v1h-1zM454.2 224.5h1v1h-1zM465.7 207.6h1v1h-1zM474.6 213.4h1v1h-1zM472.6 214.2h1v1h-1zM476.9 202.1h1v1h-1zM469.8 210.1h1v1h-1zM469.8 213.1h1v1h-1zM465.3 211.2h1v1h-1zM457.1 227.6h1v1h-1zM474.7 199.4h1v1h-1zM454.8 222.6h1v1h-1zM440.9 226.1h1v1h-1zM463.8 218.2h1v1h-1zM453.0 221.7h1v1h-1zM476.3 214.1h1v1h-1zM470.8 206.3h1v1h-1zM451.8 223.3h1v1h-1zM463.0 216.2h1v1h-1zM457.7 220.5h1v1h-1zM449.8 228.2h1v1h-1zM464.8 223.0h1v1h-1zM469.3 213.6h1v1h-1zM477.5 202.9h1v1h-1zM476.4 208.7h1v1h-1zM467.6 203.3h1v1h-1zM440.0 227.5h1v1h-1zM465.2 212.0h1v1h-1zM471.5 211.5h1v1h-1zM470.2 201.2h1v1h-1zM446.5 225.7h1v1h-1zM464.2 214.5h1v1h-1zM477.0 215.7h.9v.9h-.9zM449.8 223.7h1v1h-1zM467.3 210.0h1v1h-1zM473.3 212.5h1v1h-1zM466.2 207.4h1v1h-1zM464.1 212.1h1v1h-1zM452.2 226.1h1v1h-1zM449.7 231.8h1v1h-1zM464.5 225.0h1v1h-1zM445.6 225.2h1v1h-1zM479.3 203.7h1v1h-1zM439.0 231.7h1v1h-1zM464.3 207.1h1v1h-1zM476.3 215.5h1v1h-1zM451.7 230.0h1v1h-1zM459.0 227.5h1v1h-1zM478.9 202.4h1v1h-1zM450.5 229.1h1v1h-1zM447.0 230.5h1v1h-1zM466.6 219.1h1v1h-1zM462.1 214.0h1v1h-1zM463.6 217.1h1v1h-1zM452.7 227.0h1v1h-1zM472.2 199.3h1v1h-1zM457.8 214.8h1v1h-1zM452.2 228.5h1v1h-1zM478.4 204.9h1v1h-1zM466.2 215.7h1v1h-1zM443.4 224.9h1v1h-1zM451.1 232.1h1v1h-1zM471.5 206.2h1v1h-1zM480.0 205.6h1v1h-1zM458.7 215.9h1v1h-1zM470.6 212.3h1v1h-1zM469.5 201.1h1v1h-1zM456.1 221.8h1v1h-1zM460.1 210.3h1v1h-1zM470.4 221.3h1v1h-1zM450.7 229.8h1v1h-1zM454.1 219.7h1v1h-1zM449.1 220.2h1v1h-1zM471.2 206.6h1v1h-1zM443.3 233.0h1v1h-1zM447.3 223.7h1v1h-1zM454.7 217.9h1v1h-1zM455.2 226.1h1v1h-1zM466.3 205.8h1v1h-1zM472.0 210.2h1v1h-1zM444.7 229.1h1v1h-1zM469.0 220.5h1v1h-1zM461.2 216.5h1v1h-1zM465.5 218.5h1v1h-1zM450.7 226.7h1v1h-1zM446.0 228.1h1v1h-1zM453.2 220.0h1v1h-1zM456.0 224.4h1v1h-1zM469.0 221.4h1v1h-1zM463.1 216.6h1v1h-1zM435.5 227.7h.9v.9h-.9zM465.7 217.9h1v1h-1zM444.2 226.9h1v1h-1zM465.0 210.9h1v1h-1zM444.1 233.3h1v1h-1zM472.7 202.5h1v1h-1zM475.7 206.2h1v1h-1zM468.0 215.1h1v1h-1zM452.4 226.6h1v1h-1zM457.2 224.2h1v1h-1zM470.1 213.9h1v1h-1zM454.6 223.1h1v1h-1zM471.2 213.1h1v1h-1zM478.5 200.6h1v1h-1zM465.5 214.7h1v1h-1zM470.1 202.8h1v1h-1zM453.3 224.2h1v1h-1zM473.4 213.6h1v1h-1zM477.0 214.0h1v1h-1zM462.2 213.6h1v1h-1zM468.4 220.0h1v1h-1zM465.4 214.9h1v1h-1zM468.7 214.4h1v1h-1zM463.8 224.6h1v1h-1zM478.6 207.7h1v1h-1zM455.1 221.6h1v1h-1zM472.6 214.6h1v1h-1zM451.4 218.7h1v1h-1zM458.3 216.5h1v1h-1zM450.5 228.4h1v1h-1zM448.4 227.8h1v1h-1zM445.6 226.7h1v1h-1zM477.2 209.7h1v1h-1zM460.4 216.3h1v1h-1zM478.8 205.7h1v1h-1zM469.0 208.7h1v1h-1zM469.0 215.2h1v1h-1zM445.2 233.3h1v1h-1zM444.4 222.3h.9v.9h-.9zM461.0 220.4h1v1h-1zM456.3 227.5h1v1h-1zM461.6 207.9h1v1h-1zM473.9 216.0h1v1h-1zM472.8 203.5h1v1h-1zM452.5 225.8h1v1h-1zM469.1 216.8h1v1h-1zM456.8 214.0h1v1h-1zM452.6 221.0h1v1h-1zM454.3 222.8h1v1h-1zM474.7 206.4h1v1h-1zM471.0 217.4h1v1h-1zM442.5 232.4h1v1h-1zM464.5 219.0h1v1h-1zM450.6 231.6h1v1h-1zM470.3 200.5h1v1h-1zM467.9 216.7h1v1h-1zM444.6 232.7h1v1h-1zM460.1 224.3h1v1h-1zM442.3 229.6h1v1h-1zM449.6 227.1h1v1h-1zM450.4 220.5h1v1h-1zM461.4 208.1h1v1h-1zM448.5 225.8h1v1h-1zM474.5 214.4h1v1h-1zM477.8 210.7h1v1h-1zM470.0 218.1h1v1h-1zM478.3 200.1h1v1h-1zM464.7 205.0h1v1h-1zM469.0 207.7h1v1h-1zM465.1 208.2h1v1h-1zM472.1 211.7h1v1h-1zM451.7 222.4h1v1h-1zM456.4 220.0h1v1h-1zM456.5 225.2h1v1h-1zM457.2 226.1h1v1h-1zM459.1 214.0h1v1h-1zM474.7 216.0h1v1h-1zM464.0 210.8h1v1h-1zM472.0 202.1h1v1h-1zM475.7 199.7h1v1h-1zM475.6 210.9h1v1h-1zM468.2 203.1h1v1h-1zM467.4 215.6h1v1h-1zM446.8 221.4h1v1h-1zM465.3 213.2h1v1h-1zM465.3 208.1h1v1h-1zM469.9 215.3h1v1h-1zM465.9 212.2h1v1h-1zM474.5 214.4h1v1h-1zM456.1 215.5h1v1h-1zM444.8 228.3h1v1h-1zM470.3 211.4h1v1h-1zM440.4 226.6h1v1h-1zM471.7 202.8h1v1h-1zM467.1 219.1h1v1h-1zM466.0 213.1h1v1h-1zM468.8 217.4h1v1h-1zM459.1 227.4h1v1h-1zM471.2 221.2h.9v.9h-.9zM442.9 233.7h1v1h-1zM442.0 229.6h1v1h-1zM478.0 202.1h1v1h-1zM469.1 212.5h1v1h-1zM475.4 205.1h1v1h-1zM448.2 220.3h1v1h-1zM445.9 230.2h1v1h-1zM474.8 214.0h1v1h-1zM446.2 226.7h1v1h-1zM462.5 225.0h1v1h-1zM453.8 222.2h1v1h-1zM461.4 208.2h1v1h-1zM440.0 227.7h1v1h-1zM470.4 213.0h1v1h-1zM470.4 212.3h1v1h-1zM454.8 225.6h1v1h-1zM450.7 219.6h1v1h-1zM451.4 230.2h1v1h-1zM456.0 220.6h1v1h-1zM440.1 228.8h1v1h-1zM474.9 204.3h1v1h-1zM447.8 227.9h1v1h-1zM463.3 216.6h1v1h-1zM458.5 216.6h1v1h-1zM454.9 223.9h1v1h-1zM461.5 220.6h1v1h-1zM450.4 222.2h1v1h-1zM447.9 234.4h.9v.9h-.9zM458.8 221.9h1v1h-1zM466.0 212.6h1v1h-1zM461.8 208.8h1v1h-1zM461.2 218.3h1v1h-1zM467.9 200.1h.9v.9h-.9zM446.9 228.7h1v1h-1zM474.1 201.9h1v1h-1zM462.6 216.9h1v1h-1zM454.1 220.0h1v1h-1zM453.6 225.1h1v1h-1zM466.2 218.2h1v1h-1zM446.8 230.5h1v1h-1zM465.1 224.2h1v1h-1zM453.9 220.8h1v1h-1zM455.9 216.7h1v1h-1zM450.9 230.8h1v1h-1zM463.6 208.2h1v1h-1zM455.9 228.6h1v1h-1zM455.8 220.1h1v1h-1zM456.7 218.7h1v1h-1zM463.8 213.5h1v1h-1zM466.1 219.3h1v1h-1zM470.7 202.9h1v1h-1zM472.8 204.9h1v1h-1zM443.6 229.0h1v1h-1zM462.5 215.5h1v1h-1zM465.7 207.0h1v1h-1zM470.4 215.1h1v1h-1zM467.1 207.8h1v1h-1zM462.8 212.0h1v1h-1zM465.9 222.6h1v1h-1zM467.3 219.9h1v1h-1zM461.4 212.0h1v1h-1zM472.2 201.6h1v1h-1zM457.7 220.4h1v1h-1zM462.9 206.9h1v1h-1zM439.0 232.3h1v1h-1zM451.1 221.7h1v1h-1zM466.7 217.9h1v1h-1zM467.9 203.1h1v1h-1zM459.5 213.4h1v1h-1zM441.4 228.5h1v1h-1zM450.1 222.3h1v1h-1zM451.0 225.8h1v1h-1zM465.6 217.7h1v1h-1zM475.6 200.0h1v1h-1zM447.7 222.5h1v1h-1zM462.2 213.1h1v1h-1zM445.7 230.0h1v1h-1zM446.0 222.4h1v1h-1zM441.0 231.0h1v1h-1zM461.3 219.6h1v1h-1zM470.6 220.9h1v1h-1zM444.2 227.8h1v1h-1zM472.8 212.1h1v1h-1zM467.4 222.4h1v1h-1zM461.8 208.5h1v1h-1zM478.4 211.2h1v1h-1zM441.9 232.6h1v1h-1zM468.8 203.2h1v1h-1zM467.5 224.2h.9v.9h-.9zM439.8 229.5h1v1h-1zM463.9 213.5h1v1h-1zM469.1 219.1h1v1h-1zM462.1 214.5h1v1h-1zM476.8 214.0h1v1h-1zM479.1 204.6h1v1h-1zM472.3 200.6h1v1h-1zM474.7 211.2h1v1h-1zM472.1 209.3h1v1h-1zM473.5 204.8h1v1h-1zM477.9 204.8h1v1h-1zM458.7 221.4h1v1h-1zM468.6 219.8h1v1h-1zM461.1 216.3h1v1h-1zM468.6 210.2h1v1h-1zM475.5 207.9h1v1h-1zM450.6 224.6h1v1h-1zM458.0 223.5h1v1h-1zM465.1 205.0h1v1h-1zM458.0 227.0h1v1h-1zM451.5 227.5h1v1h-1zM466.3 218.2h1v1h-1zM467.0 203.0h1v1h-1zM467.8 217.7h1v1h-1zM454.6 219.0h1v1h-1zM462.5 221.9h1v1h-1zM455.2 226.2h1v1h-1zM470.0 220.2h1v1h-1zM469.4 203.4h1v1h-1zM456.2 222.7h1v1h-1zM469.9 203.8h1v1h-1zM438.4 225.1h.9v.9h-.9zM477.4 206.3h1v1h-1zM440.4 227.8h1v1h-1zM447.6 227.0h1v1h-1zM473.4 206.2h1v1h-1zM477.1 207.6h1v1h-1zM475.7 209.3h1v1h-1zM468.2 210.6h1v1h-1zM474.5 218.5h.9v.9h-.9zM442.2 230.9h1v1h-1zM453.9 218.6h1v1h-1zM472.8 211.6h1v1h-1zM452.9 230.0h1v1h-1zM466.7 217.5h1v1h-1zM471.5 204.2h1v1h-1zM471.7 208.4h1v1h-1zM462.1 224.8h1v1h-1zM469.0 202.5h1v1h-1zM456.7 224.6h1v1h-1zM445.4 226.5h1v1h-1zM468.1 205.3h1v1h-1zM467.9 220.2h1v1h-1zM465.8 208.3h1v1h-1zM448.0 225.4h1v1h-1zM462.6 206.9h1v1h-1zM439.7 228.7h1v1h-1zM475.4 204.7h1v1h-1zM460.3 219.8h1v1h-1zM466.1 213.8h1v1h-1zM475.1 217.6h.9v.9h-.9zM478.3 201.4h1v1h-1zM445.7 222.0h1v1h-1zM460.9 224.1h1v1h-1zM446.3 230.0h1v1h-1zM475.2 213.9h1v1h-1zM476.9 203.9h1v1h-1zM467.9 203.2h1v1h-1zM477.3 201.5h1v1h-1zM475.6 217.3h.9v.9h-.9zM442.9 231.5h1v1h-1zM460.5 211.8h1v1h-1zM451.4 223.2h1v1h-1zM469.0 203.3h1v1h-1zM470.8 205.6h1v1h-1zM478.2 201.9h1v1h-1zM444.5 229.6h1v1h-1zM448.1 228.2h1v1h-1zM444.8 230.7h1v1h-1zM464.3 216.9h1v1h-1zM455.9 226.9h1v1h-1zM448.8 223.3h1v1h-1zM471.7 218.5h1v1h-1zM477.6 210.4h1v1h-1zM462.9 213.5h1v1h-1zM467.4 206.4h1v1h-1zM478.4 210.5h1v1h-1zM462.7 224.4h1v1h-1zM463.2 214.5h1v1h-1zM472.8 217.4h1v1h-1zM474.1 218.1h.9v.9h-.9zM468.5 222.0h1v1h-1zM444.2 229.4h1v1h-1zM440.3 224.2h.9v.9h-.9zM477.3 207.3h1v1h-1zM470.2 200.3h1v1h-1zM478.0 203.8h1v1h-1zM464.3 222.5h1v1h-1zM473.6 205.5h1v1h-1zM450.6 224.7h1v1h-1zM474.5 212.6h1v1h-1zM446.9 224.4h1v1h-1zM443.7 230.1h1v1h-1zM468.4 201.7h1v1h-1zM465.3 209.1h1v1h-1zM472.3 219.5h1v1h-1zM463.8 218.8h1v1h-1zM458.1 215.0h1v1h-1zM470.6 202.5h1v1h-1zM458.3 221.4h1v1h-1zM468.0 205.6h1v1h-1zM466.0 223.0h1v1h-1zM452.3 227.1h1v1h-1zM478.0 211.4h1v1h-1zM460.5 209.6h1v1h-1zM473.8 213.0h1v1h-1zM476.5 207.2h1v1h-1zM444.3 223.6h1v1h-1zM458.1 218.9h1v1h-1zM470.6 207.4h1v1h-1zM462.6 218.3h1v1h-1zM476.5 208.0h1v1h-1zM468.9 210.1h1v1h-1zM461.5 219.8h1v1h-1zM437.3 231.4h1v1h-1zM468.8 213.9h1v1h-1zM447.6 222.0h1v1h-1zM464.0 215.2h1v1h-1zM479.4 202.9h1v1h-1zM460.3 218.5h1v1h-1zM445.9 230.2h1v1h-1zM476.8 213.5h1v1h-1zM453.9 217.6h1v1h-1zM464.0 214.7h1v1h-1zM475.7 213.8h1v1h-1zM473.0 205.1h1v1h-1zM461.5 220.0h1v1h-1zM472.4 208.5h1v1h-1zM474.4 212.4h1v1h-1zM464.9 204.6h1v1h-1zM452.4 220.0h1v1h-1zM465.1 216.1h1v1h-1zM473.4 202.4h1v1h-1zM453.7 227.8h1v1h-1zM471.6 214.1h1v1h-1zM441.8 230.3h1v1h-1zM467.8 221.8h1v1h-1zM473.9 206.3h1v1h-1zM455.7 226.2h1v1h-1zM455.9 228.9h1v1h-1zM479.3 201.2h1v1h-1zM455.5 219.2h1v1h-1zM454.0 218.3h1v1h-1zM466.7 218.8h1v1h-1zM474.8 204.1h1v1h-1zM465.8 210.0h1v1h-1zM453.5 224.6h1v1h-1zM472.0 207.0h1v1h-1zM472.9 211.1h1v1h-1zM473.0 203.8h1v1h-1zM452.5 222.4h1v1h-1zM466.6 217.4h1v1h-1zM467.2 218.9h1v1h-1zM462.3 223.0h1v1h-1zM470.6 220.8h1v1h-1zM461.3 220.8h1v1h-1zM457.0 214.7h1v1h-1zM475.2 203.5h1v1h-1zM442.5 225.6h1v1h-1zM476.5 202.5h1v1h-1zM466.8 223.3h1v1h-1zM460.0 216.6h1v1h-1zM471.7 211.9h1v1h-1zM462.8 209.7h1v1h-1zM472.7 215.3h1v1h-1zM469.0 208.0h1v1h-1zM466.2 208.3h1v1h-1zM455.8 222.1h1v1h-1zM472.8 205.4h1v1h-1zM472.6 200.2h1v1h-1zM476.8 212.9h1v1h-1zM474.2 211.8h1v1h-1zM457.7 216.2h1v1h-1zM476.6 213.3h1v1h-1zM473.7 211.8h1v1h-1zM453.6 223.5h1v1h-1zM441.9 225.0h1v1h-1zM463.4 212.6h1v1h-1zM455.3 220.8h1v1h-1zM459.8 220.7h1v1h-1zM453.0 223.1h1v1h-1zM466.3 209.6h1v1h-1zM451.3 224.7h1v1h-1zM468.9 219.9h1v1h-1zM454.9 227.4h1v1h-1zM438.7 227.8h1v1h-1zM454.0 224.0h1v1h-1zM442.7 233.4h1v1h-1zM444.5 230.2h1v1h-1zM442.7 227.0h1v1h-1zM472.9 203.3h1v1h-1zM469.6 216.4h1v1h-1zM472.0 219.5h1v1h-1zM467.7 208.6h1v1h-1zM469.0 210.0h1v1h-1zM460.9 217.8h1v1h-1zM478.7 211.4h1v1h-1zM464.6 215.5h1v1h-1zM442.1 232.2h1v1h-1zM447.2 230.9h1v1h-1zM472.9 214.9h1v1h-1zM450.7 229.8h1v1h-1zM452.0 224.4h1v1h-1zM461.3 223.8h1v1h-1zM450.6 226.3h1v1h-1zM460.0 227.1h1v1h-1zM451.1 231.9h1v1h-1zM463.9 207.2h1v1h-1zM477.6 201.3h1v1h-1zM467.1 208.7h1v1h-1zM465.9 216.0h1v1h-1zM446.1 226.2h1v1h-1zM460.1 212.6h1v1h-1zM475.2 207.8h1v1h-1zM477.0 205.0h1v1h-1zM461.2 209.4h1v1h-1zM471.9 219.8h1v1h-1zM474.6 205.0h1v1h-1zM464.8 220.2h1v1h-1zM451.3 229.1h1v1h-1zM452.9 225.8h1v1h-1zM472.8 210.1h1v1h-1zM469.9 214.6h1v1h-1zM451.8 221.8h1v1h-1zM468.8 221.7h1v1h-1zM468.5 204.3h1v1h-1zM476.7 214.4h1v1h-1zM469.1 222.3h1v1h-1zM470.9 201.4h1v1h-1zM478.5 206.1h1v1h-1zM452.4 221.6h1v1h-1zM476.3 205.7h1v1h-1zM443.6 227.2h1v1h-1zM480.6 207.6h.9v.9h-.9zM447.4 225.9h1v1h-1zM475.0 213.0h1v1h-1zM457.0 215.7h1v1h-1zM453.9 229.7h1v1h-1zM458.1 226.5h1v1h-1zM475.1 200.3h1v1h-1zM474.2 202.2h1v1h-1zM451.3 230.9h1v1h-1zM443.9 224.4h1v1h-1zM467.9 207.8h1v1h-1zM454.9 227.0h1v1h-1zM474.4 209.1h1v1h-1zM450.1 224.5h1v1h-1zM454.3 224.0h1v1h-1zM452.7 218.9h1v1h-1zM464.5 220.5h1v1h-1zM470.2 201.2h1v1h-1zM472.5 199.4h1v1h-1zM461.3 220.8h1v1h-1zM477.4 202.9h1v1h-1zM462.7 210.6h1v1h-1zM440.7 227.1h1v1h-1zM466.7 224.1h1v1h-1zM475.9 206.5h1v1h-1zM463.6 216.2h1v1h-1zM476.6 211.2h1v1h-1zM452.4 227.0h1v1h-1zM444.2 233.4h1v1h-1zM454.9 218.1h1v1h-1zM464.0 215.3h1v1h-1zM453.3 227.0h1v1h-1zM469.0 208.9h1v1h-1zM462.3 211.6h1v1h-1zM450.1 233.8h.9v.9h-.9zM478.1 209.3h1v1h-1zM459.6 217.5h1v1h-1zM445.6 222.9h1v1h-1zM441.9 232.9h1v1h-1zM466.3 211.7h1v1h-1zM443.0 233.8h1v1h-1zM468.5 214.7h1v1h-1zM478.3 204.3h1v1h-1zM444.6 231.8h1v1h-1zM468.5 222.6h1v1h-1zM453.4 223.5h1v1h-1zM462.4 214.0h1v1h-1zM439.5 231.9h1v1h-1zM444.3 223.1h1v1h-1zM478.3 199.0h1v1h-1zM441.3 225.7h1v1h-1zM478.9 205.5h1v1h-1zM462.7 213.4h1v1h-1zM446.1 232.4h1v1h-1zM475.1 206.8h1v1h-1zM463.0 212.7h1v1h-1zM448.1 231.3h1v1h-1zM470.8 213.8h1v1h-1zM455.7 219.4h1v1h-1zM447.5 225.7h1v1h-1zM463.3 222.8h1v1h-1zM445.6 225.6h1v1h-1zM442.0 231.6h1v1h-1zM456.5 227.2h1v1h-1zM449.8 225.9h1v1h-1zM470.3 202.9h1v1h-1zM454.5 224.5h1v1h-1zM459.6 210.2h1v1h-1zM474.9 212.5h1v1h-1zM455.2 228.4h1v1h-1zM436.8 231.1h1v1h-1zM476.1 198.7h1v1h-1zM444.5 220.5h.9v.9h-.9zM449.6 235.0h.9v.9h-.9zM468.5 209.9h1v1h-1zM458.1 216.6h1v1h-1zM466.9 202.3h.9v.9h-.9zM466.0 217.6h1v1h-1zM440.9 225.7h1v1h-1zM475.4 203.3h1v1h-1zM456.3 217.2h1v1h-1zM448.1 229.3h1v1h-1zM470.3 203.6h1v1h-1zM451.1 228.7h1v1h-1zM470.7 212.2h1v1h-1zM449.2 231.2h1v1h-1zM443.9 228.4h1v1h-1zM476.7 210.3h1v1h-1zM448.2 221.3h1v1h-1zM460.4 215.1h1v1h-1zM467.4 210.8h1v1h-1zM461.8 215.5h1v1h-1zM464.1 212.6h1v1h-1zM452.0 230.1h1v1h-1zM459.1 210.4h1v1h-1zM447.7 230.3h1v1h-1zM471.3 204.5h1v1h-1zM453.9 227.0h1v1h-1zM448.4 232.4h1v1h-1zM455.7 225.5h1v1h-1zM450.3 226.5h1v1h-1zM474.6 205.0h1v1h-1zM477.2 209.1h1v1h-1zM453.2 225.9h1v1h-1zM472.2 203.8h1v1h-1zM472.4 201.8h1v1h-1zM457.3 223.5h1v1h-1zM473.8 212.8h1v1h-1zM472.4 208.0h1v1h-1zM468.0 205.3h1v1h-1zM456.5 216.1h1v1h-1zM462.3 221.4h1v1h-1zM457.9 219.6h1v1h-1zM471.7 207.1h1v1h-1zM456.3 220.5h1v1h-1zM441.1 228.0h1v1h-1zM438.5 228.6h1v1h-1zM444.3 234.1h.9v.9h-.9zM467.1 212.1h1v1h-1zM460.5 225.4h1v1h-1zM468.5 204.9h1v1h-1zM472.5 214.9h1v1h-1zM471.3 206.0h1v1h-1zM461.6 222.7h1v1h-1zM469.2 206.5h1v1h-1zM452.2 222.3h1v1h-1zM477.6 211.2h1v1h-1zM459.6 215.7h1v1h-1zM479.1 209.2h1v1h-1zM465.8 214.3h1v1h-1zM463.6 222.9h1v1h-1zM461.0 213.1h1v1h-1zM461.8 208.8h1v1h-1zM474.1 213.7h1v1h-1zM462.6 225.0h1v1h-1zM468.3 213.8h1v1h-1zM466.4 206.7h1v1h-1zM448.1 230.2h1v1h-1zM458.0 224.7h1v1h-1zM462.8 211.6h1v1h-1zM446.5 222.4h1v1h-1zM453.2 221.9h1v1h-1zM456.1 218.2h1v1h-1zM477.1 199.3h1v1h-1zM461.2 224.4h1v1h-1zM447.5 223.0h1v1h-1zM470.7 200.5h1v1h-1zM448.6 220.9h1v1h-1zM463.3 216.7h1v1h-1zM465.4 218.2h1v1h-1zM449.0 225.9h1v1h-1zM449.9 222.9h1v1h-1zM466.2 226.0h.9v.9h-.9zM466.2 213.2h1v1h-1zM448.6 227.7h1v1h-1zM464.0 208.8h1v1h-1zM467.5 210.0h1v1h-1zM464.6 217.0h1v1h-1zM458.7 212.3h1v1h-1zM453.3 225.9h1v1h-1zM447.3 227.0h1v1h-1zM457.9 226.8h1v1h-1zM468.9 217.4h1v1h-1zM459.4 219.9h1v1h-1zM479.5 204.2h1v1h-1zM458.0 214.0h1v1h-1zM441.1 225.5h1v1h-1zM474.6 211.5h1v1h-1zM470.7 216.0h1v1h-1zM459.7 223.2h1v1h-1zM462.6 208.0h1v1h-1zM442.1 232.0h1v1h-1zM456.6 224.8h1v1h-1zM456.4 226.1h1v1h-1zM447.0 232.6h1v1h-1zM478.8 207.5h1v1h-1zM443.5 226.8h1v1h-1zM466.2 212.6h1v1h-1zM443.8 228.5h1v1h-1zM444.1 232.5h1v1h-1zM459.1 212.0h1v1h-1zM439.3 227.2h1v1h-1zM463.2 210.7h1v1h-1zM475.9 201.0h1v1h-1zM471.9 206.6h1v1h-1zM456.7 217.0h1v1h-1zM476.7 200.6h1v1h-1zM456.7 217.1h1v1h-1zM465.0 213.3h1v1h-1zM460.9 209.7h1v1h-1zM462.2 211.0h1v1h-1zM463.6 216.1h1v1h-1zM478.9 205.7h1v1h-1zM474.5 216.9h1v1h-1zM472.1 203.0h1v1h-1zM475.9 215.5h1v1h-1zM474.8 208.8h1v1h-1zM450.3 230.9h1v1h-1zM456.5 228.2h1v1h-1zM450.2 229.5h1v1h-1zM465.8 209.8h1v1h-1zM466.5 221.3h1v1h-1zM437.4 229.7h1v1h-1zM448.8 231.1h1v1h-1zM468.8 201.2h1v1h-1zM451.2 227.7h1v1h-1zM455.0 229.3h1v1h-1zM460.0 226.3h1v1h-1zM475.4 201.6h1v1h-1zM445.9 221.9h1v1h-1zM445.0 231.8h1v1h-1zM454.1 223.2h1v1h-1zM464.8 212.8h1v1h-1zM449.1 229.4h1v1h-1zM458.5 223.6h1v1h-1zM440.5 228.2h1v1h-1zM445.6 231.2h1v1h-1zM462.3 210.1h1v1h-1zM476.2 208.6h1v1h-1zM473.4 211.8h1v1h-1zM463.8 214.9h1v1h-1zM459.4 209.5h.9v.9h-.9zM461.2 226.2h1v1h-1zM477.8 211.8h1v1h-1zM476.3 215.3h1v1h-1zM455.1 228.0h1v1h-1zM465.0 219.3h1v1h-1zM461.4 218.1h1v1h-1zM476.1 209.9h1v1h-1zM470.9 201.8h1v1h-1zM476.1 200.7h1v1h-1zM444.4 227.3h1v1h-1zM476.8 210.4h1v1h-1zM453.9 227.4h1v1h-1zM445.0 224.7h1v1h-1zM472.3 216.8h1v1h-1zM445.1 224.2h1v1h-1zM441.5 232.9h1v1h-1zM454.8 219.5h1v1h-1zM451.1 222.5h1v1h-1zM475.1 201.4h1v1h-1zM462.2 222.9h1v1h-1zM452.5 224.8h1v1h-1zM470.0 216.4h1v1h-1zM465.0 219.5h1v1h-1zM447.7 223.3h1v1h-1zM472.4 214.2h1v1h-1zM446.1 232.1h1v1h-1zM474.4 202.9h1v1h-1zM446.1 222.4h1v1h-1zM475.0 209.0h1v1h-1zM472.9 201.5h1v1h-1zM437.3 229.4h1v1h-1zM458.7 223.9h1v1h-1zM439.6 228.3h1v1h-1zM469.0 205.0h1v1h-1zM463.4 206.9h1v1h-1zM463.3 215.6h1v1h-1zM472.3 204.2h1v1h-1zM476.0 212.7h1v1h-1zM474.5 205.7h1v1h-1zM464.0 212.9h1v1h-1zM459.5 224.0h1v1h-1zM471.2 207.9h1v1h-1zM444.2 229.6h1v1h-1zM457.6 227.7h1v1h-1zM463.4 220.3h1v1h-1zM467.3 222.1h1v1h-1zM457.6 217.4h1v1h-1zM469.5 221.5h1v1h-1zM442.5 228.1h1v1h-1zM474.6 217.4h1v1h-1zM473.7 201.7h1v1h-1zM440.9 231.4h1v1h-1zM464.4 223.4h1v1h-1zM438.8 231.5h1v1h-1zM473.4 204.0h1v1h-1zM445.8 231.6h1v1h-1zM477.3 204.0h1v1h-1zM452.9 223.0h1v1h-1zM472.3 209.2h1v1h-1zM479.7 208.6h.9v.9h-.9zM478.6 208.6h1v1h-1zM438.6 230.3h1v1h-1zM475.1 210.4h1v1h-1zM465.3 208.6h1v1h-1zM442.6 229.0h1v1h-1zM473.5 220.1h.9v.9h-.9zM455.0 226.4h1v1h-1zM445.0 223.6h1v1h-1zM457.3 219.4h1v1h-1zM442.1 229.0h1v1h-1zM468.6 216.4h1v1h-1zM468.3 204.7h1v1h-1zM462.8 216.7h1v1h-1zM463.0 226.6h.9v.9h-.9zM440.3 232.7h1v1h-1zM462.6 216.8h1v1h-1zM469.4 203.0h1v1h-1zM469.8 212.6h1v1h-1zM465.4 213.0h1v1h-1zM465.4 213.0h1v1h-1zM469.7 221.0h1v1h-1zM462.2 213.4h1v1h-1zM442.2 225.2h1v1h-1zM444.7 228.4h1v1h-1zM476.9 213.4h1v1h-1zM460.7 217.2h1v1h-1zM471.2 215.9h1v1h-1zM473.7 208.5h1v1h-1zM475.7 201.3h1v1h-1zM476.6 212.3h1v1h-1zM442.1 230.5h1v1h-1zM464.8 217.7h1v1h-1zM441.2 232.4h1v1h-1zM474.6 216.8h1v1h-1zM466.9 219.1h1v1h-1zM467.9 216.8h1v1h-1zM442.8 229.7h1v1h-1zM438.6 230.8h1v1h-1zM457.0 227.2h1v1h-1zM473.5 204.1h1v1h-1zM469.0 216.1h1v1h-1zM448.4 227.7h1v1h-1zM458.1 223.5h1v1h-1zM469.6 203.7h1v1h-1zM463.4 210.8h1v1h-1zM449.7 223.6h1v1h-1zM467.1 221.1h1v1h-1zM460.4 210.5h1v1h-1zM468.9 218.6h1v1h-1zM474.8 203.8h1v1h-1zM471.3 207.3h1v1h-1zM463.2 206.1h1v1h-1zM458.0 224.1h1v1h-1zM479.9 204.5h1v1h-1zM464.4 209.4h1v1h-1zM449.1 222.9h1v1h-1zM467.9 208.3h1v1h-1zM455.0 224.7h1v1h-1zM464.1 213.5h1v1h-1zM464.6 223.0h1v1h-1zM461.0 220.6h1v1h-1zM457.2 210.5h.9v.9h-.9zM451.1 227.7h1v1h-1zM457.7 217.1h1v1h-1zM447.0 222.2h1v1h-1zM468.1 207.6h1v1h-1zM471.3 199.7h1v1h-1zM477.6 211.5h1v1h-1zM448.2 229.7h1v1h-1zM466.7 215.9h1v1h-1zM472.1 215.4h1v1h-1zM463.9 213.3h1v1h-1zM464.9 211.0h1v1h-1zM468.7 220.7h1v1h-1zM473.2 210.5h1v1h-1zM468.8 213.5h1v1h-1zM451.1 221.2h1v1h-1zM447.1 228.0h1v1h-1zM437.7 230.6h1v1h-1zM479.5 205.9h1v1h-1zM467.5 211.3h1v1h-1zM465.1 213.3h1v1h-1zM460.8 220.2h1v1h-1zM463.0 216.2h1v1h-1zM464.0 214.8h1v1h-1zM442.0 223.9h1v1h-1zM477.1 201.4h1v1h-1zM473.6 215.5h1v1h-1zM475.7 206.6h1v1h-1zM453.7 223.9h1v1h-1zM453.7 222.2h1v1h-1zM457.1 221.3h1v1h-1zM470.9 211.7h1v1h-1zM476.1 213.0h1v1h-1zM474.8 210.9h1v1h-1zM460.0 220.3h1v1h-1zM467.3 206.3h1v1h-1zM458.5 221.4h1v1h-1zM447.2 228.5h1v1h-1zM448.1 232.6h1v1h-1zM460.9 216.8h1v1h-1zM476.2 206.3h1v1h-1zM473.0 208.7h1v1h-1zM463.1 225.4h1v1h-1zM459.2 217.9h1v1h-1zM473.6 216.1h1v1h-1zM469.4 203.7h1v1h-1zM469.3 221.8h1v1h-1zM468.5 215.2h1v1h-1zM455.8 224.5h1v1h-1zM473.6 210.6h1v1h-1zM464.0 216.6h1v1h-1zM462.3 208.7h1v1h-1zM466.3 223.3h1v1h-1zM469.6 209.2h1v1h-1zM463.3 212.8h1v1h-1zM471.1 216.6h1v1h-1zM468.5 209.3h1v1h-1zM450.4 220.4h1v1h-1zM447.1 233.2h1v1h-1zM442.7 229.1h1v1h-1zM458.3 218.9h1v1h-1zM472.4 210.5h1v1h-1zM462.3 216.7h1v1h-1zM462.5 225.7h1v1h-1zM466.7 223.6h1v1h-1zM469.4 225.3h.9v.9h-.9zM463.1 224.8h1v1h-1zM447.2 229.3h1v1h-1zM463.0 215.4h1v1h-1zM463.1 219.8h1v1h-1zM437.5 231.8h1v1h-1zM461.6 224.4h1v1h-1zM438.7 232.1h1v1h-1zM459.2 224.4h1v1h-1zM471.1 209.9h1v1h-1zM438.2 231.6h1v1h-1zM456.6 216.5h1v1h-1zM472.4 215.3h1v1h-1zM448.6 223.9h1v1h-1zM461.3 207.9h1v1h-1zM472.3 212.1h1v1h-1zM462.3 211.3h1v1h-1zM447.4 232.3h1v1h-1zM456.3 215.0h1v1h-1zM447.0 226.6h1v1h-1zM459.9 220.8h1v1h-1zM474.4 202.1h1v1h-1zM475.4 216.7h1v1h-1zM447.1 222.7h1v1h-1zM465.9 207.5h1v1h-1zM445.0 230.8h1v1h-1zM470.2 199.4h.9v.9h-.9zM453.3 223.4h1v1h-1zM476.9 211.9h1v1h-1zM450.1 220.3h1v1h-1zM455.7 219.7h1v1h-1zM479.9 206.7h1v1h-1zM471.8 206.9h1v1h-1zM451.2 218.8h1v1h-1zM474.6 217.3h1v1h-1zM465.2 221.6h1v1h-1zM442.4 225.8h1v1h-1zM458.7 217.8h1v1h-1zM445.0 232.2h1v1h-1zM446.6 232.2h1v1h-1zM444.4 230.5h1v1h-1zM448.5 222.8h1v1h-1zM466.4 209.9h1v1h-1zM439.8 226.0h1v1h-1zM473.6 200.8h1v1h-1zM465.2 221.1h1v1h-1zM456.4 227.3h1v1h-1zM475.2 200.6h1v1h-1zM464.2 207.0h1v1h-1zM470.5 210.3h1v1h-1zM470.8 203.9h1v1h-1zM469.4 204.0h1v1h-1zM457.5 215.8h1v1h-1zM462.8 205.5h.9v.9h-.9zM460.9 223.7h1v1h-1zM466.5 222.9h1v1h-1zM456.7 218.6h1v1h-1zM465.5 218.1h1v1h-1zM477.8 214.5h.9v.9h-.9zM446.1 222.3h1v1h-1zM465.5 222.4h1v1h-1zM455.8 217.2h1v1h-1zM456.2 220.4h1v1h-1zM458.8 214.9h1v1h-1zM441.5 228.9h1v1h-1zM470.7 201.4h1v1h-1zM474.0 210.9h1v1h-1zM475.2 199.9h1v1h-1zM461.5 216.9h1v1h-1zM472.2 202.8h1v1h-1zM469.2 219.6h1v1h-1zM459.2 211.6h1v1h-1zM458.9 212.1h1v1h-1zM456.3 217.3h1v1h-1zM469.8 224.4h.9v.9h-.9zM478.6 204.7h1v1h-1zM446.2 224.8h1v1h-1zM474.0 214.2h1v1h-1zM470.6 212.3h1v1h-1zM472.6 218.4h1v1h-1zM473.2 200.3h1v1h-1zM454.7 221.7h1v1h-1zM472.3 210.8h1v1h-1zM464.7 212.0h1v1h-1zM449.5 228.6h1v1h-1zM441.2 224.6h1v1h-1zM470.0 213.5h1v1h-1zM462.3 224.6h1v1h-1zM469.0 207.1h1v1h-1zM448.4 228.8h1v1h-1zM461.3 209.5h1v1h-1zM473.6 204.0h1v1h-1zM468.2 218.8h1v1h-1zM457.0 224.7h1v1h-1zM477.6 204.9h1v1h-1zM461.7 219.6h1v1h-1zM441.6 232.6h1v1h-1zM449.9 220.3h1v1h-1zM468.9 218.4h1v1h-1zM474.3 202.3h1v1h-1zM444.4 234.1h.9v.9h-.9zM449.9 228.3h1v1h-1zM454.5 217.8h1v1h-1zM472.1 205.9h1v1h-1zM456.8 218.7h1v1h-1zM448.8 230.4h1v1h-1zM471.2 210.2h1v1h-1zM438.5 232.2h1v1h-1zM447.6 223.5h1v1h-1zM464.8 209.1h1v1h-1zM470.7 219.0h1v1h-1zM476.2 205.7h1v1h-1zM467.3 215.6h1v1h-1zM455.1 225.3h1v1h-1zM450.4 225.0h1v1h-1zM477.4 200.4h1v1h-1zM467.0 209.7h1v1h-1zM453.4 227.0h1v1h-1zM459.9 215.2h1v1h-1zM447.8 229.5h1v1h-1zM471.3 216.6h1v1h-1zM459.2 215.6h1v1h-1zM467.6 206.9h1v1h-1zM464.8 223.5h1v1h-1zM446.4 232.4h1v1h-1zM438.4 229.3h1v1h-1zM444.3 228.0h1v1h-1zM462.9 218.3h1v1h-1zM465.1 208.9h1v1h-1zM478.0 199.4h1v1h-1zM442.2 231.7h1v1h-1zM477.8 201.1h1v1h-1zM478.4 209.9h1v1h-1zM456.9 225.8h1v1h-1zM458.9 217.2h1v1h-1zM451.8 222.6h1v1h-1zM438.5 232.6h1v1h-1zM466.6 219.6h1v1h-1zM447.9 223.6h1v1h-1zM457.0 221.9h1v1h-1zM445.2 228.1h1v1h-1zM455.6 217.1h1v1h-1zM468.9 205.2h1v1h-1zM446.5 221.4h1v1h-1zM477.2 204.8h1v1h-1zM461.4 209.0h1v1h-1zM471.7 204.0h1v1h-1zM440.3 232.1h1v1h-1zM465.1 224.1h1v1h-1zM453.5 217.6h.9v.9h-.9zM477.2 199.5h1v1h-1zM445.8 230.9h1v1h-1zM449.2 230.0h1v1h-1zM463.2 206.0h1v1h-1zM459.6 216.5h1v1h-1zM461.4 214.8h1v1h-1zM478.6 210.6h1v1h-1zM472.7 205.5h1v1h-1zM456.4 226.2h1v1h-1zM473.7 210.7h1v1h-1zM460.2 210.2h1v1h-1zM460.8 212.5h1v1h-1zM443.3 229.4h1v1h-1zM455.4 225.8h1v1h-1zM447.2 229.7h1v1h-1zM464.1 216.6h1v1h-1zM480.0 200.7h.9v.9h-.9zM476.3 204.5h1v1h-1zM440.5 232.8h1v1h-1zM449.8 219.5h1v1h-1zM467.0 208.7h1v1h-1zM450.8 228.3h1v1h-1zM451.1 222.5h1v1h-1zM459.9 225.8h1v1h-1zM464.6 218.2h1v1h-1zM447.3 231.1h1v1h-1zM457.0 225.6h1v1h-1zM440.1 231.4h1v1h-1zM443.7 222.8h.9v.9h-.9zM454.3 220.9h1v1h-1zM458.7 222.7h1v1h-1zM475.0 212.9h1v1h-1zM455.3 225.4h1v1h-1zM468.3 207.2h1v1h-1zM459.0 218.0h1v1h-1zM452.6 226.7h1v1h-1zM449.7 229.0h1v1h-1zM456.8 223.0h1v1h-1zM443.7 224.1h1v1h-1zM468.1 220.3h1v1h-1zM460.3 217.9h1v1h-1zM451.5 222.1h1v1h-1zM465.1 214.9h1v1h-1zM466.1 207.1h1v1h-1zM468.1 208.8h1v1h-1zM463.9 222.1h1v1h-1zM468.8 209.1h1v1h-1zM440.1 225.2h1v1h-1zM468.7 206.2h1v1h-1zM471.1 200.4h1v1h-1zM468.7 215.4h1v1h-1zM443.7 226.7h1v1h-1zM476.8 212.0h1v1h-1zM449.0 226.0h1v1h-1zM438.5 226.8h1v1h-1zM456.5 224.3h1v1h-1zM465.9 211.0h1v1h-1zM448.4 226.6h1v1h-1zM467.5 210.0h1v1h-1zM470.4 211.7h1v1h-1zM476.7 210.6h1v1h-1zM439.2 230.7h1v1h-1zM450.9 226.5h1v1h-1zM449.3 220.0h1v1h-1zM442.4 232.6h1v1h-1zM475.8 205.2h1v1h-1zM462.2 217.3h1v1h-1zM465.4 217.9h1v1h-1zM471.8 208.6h1v1h-1zM475.6 206.0h1v1h-1zM464.7 209.1h1v1h-1zM476.4 200.1h1v1h-1zM469.0 208.7h1v1h-1zM466.4 219.1h1v1h-1zM445.5 223.0h1v1h-1zM473.4 212.4h1v1h-1zM469.1 203.9h1v1h-1zM458.3 227.6h1v1h-1zM446.5 232.1h1v1h-1zM479.4 208.4h1v1h-1zM447.3 221.3h1v1h-1zM441.6 225.8h1v1h-1zM442.5 228.8h1v1h-1zM450.6 220.7h1v1h-1zM443.1 231.9h1v1h-1zM450.2 228.5h1v1h-1zM476.1 204.0h1v1h-1zM478.7 202.4h1v1h-1zM439.5 230.0h1v1h-1zM460.4 217.5h1v1h-1zM450.5 231.0h1v1h-1zM457.9 218.4h1v1h-1zM467.2 216.0h1v1h-1zM462.6 207.3h1v1h-1zM466.1 223.0h1v1h-1zM457.1 225.8h1v1h-1zM475.6 214.6h1v1h-1zM459.8 223.1h1v1h-1zM463.5 225.4h1v1h-1zM442.0 227.4h1v1h-1zM438.4 229.8h1v1h-1zM454.5 221.3h1v1h-1zM451.5 228.4h1v1h-1zM460.7 211.6h1v1h-1zM437.7 231.6h1v1h-1zM475.4 205.4h1v1h-1zM466.4 217.3h1v1h-1zM454.3 224.9h1v1h-1zM465.2 215.8h1v1h-1zM445.0 234.1h.9v.9h-.9zM470.8 213.7h1v1h-1zM461.6 225.0h1v1h-1zM479.0 204.3h1v1h-1zM459.7 212.4h1v1h-1zM452.0 228.1h1v1h-1zM471.2 201.7h1v1h-1zM461.4 210.5h1v1h-1zM467.9 216.4h1v1h-1zM477.3 207.0h1v1h-1zM456.8 223.1h1v1h-1zM449.8 225.6h1v1h-1zM463.6 217.0h1v1h-1zM472.1 218.5h1v1h-1zM448.2 227.2h1v1h-1zM474.0 209.5h1v1h-1zM471.5 215.2h1v1h-1zM461.8 223.2h1v1h-1zM441.7 232.3h1v1h-1zM463.1 211.9h1v1h-1zM470.6 205.5h1v1h-1zM471.8 208.4h1v1h-1zM479.6 205.8h1v1h-1zM476.7 199.1h1v1h-1zM443.2 227.8h1v1h-1zM470.4 210.1h1v1h-1zM449.9 227.6h1v1h-1zM464.2 224.9h1v1h-1zM475.0 212.2h1v1h-1zM475.6 211.0h1v1h-1zM470.5 202.0h1v1h-1zM469.2 206.5h1v1h-1zM438.9 231.7h1v1h-1zM450.5 222.8h1v1h-1zM467.9 222.0h1v1h-1zM457.7 224.5h1v1h-1zM453.1 222.8h1v1h-1zM475.6 211.9h1v1h-1zM471.3 206.4h1v1h-1zM455.6 221.8h1v1h-1zM462.1 215.0h1v1h-1zM476.7 202.8h1v1h-1zM449.2 223.2h1v1h-1zM473.9 202.9h1v1h-1zM476.8 209.3h1v1h-1zM447.4 223.6h1v1h-1zM468.1 208.7h1v1h-1zM469.0 203.2h1v1h-1zM446.7 230.8h1v1h-1zM441.9 233.2h1v1h-1zM468.2 223.1h1v1h-1zM453.1 224.4h1v1h-1zM469.8 216.6h1v1h-1zM463.4 207.1h1v1h-1zM462.5 223.7h1v1h-1zM471.2 207.8h1v1h-1zM464.2 209.9h1v1h-1zM442.9 226.7h1v1h-1zM454.5 228.2h1v1h-1zM475.1 203.5h1v1h-1zM474.2 212.0h1v1h-1zM471.8 213.0h1v1h-1zM454.0 227.5h1v1h-1zM449.7 221.5h1v1h-1zM473.5 212.1h1v1h-1zM461.2 208.2h1v1h-1zM477.4 206.8h1v1h-1zM464.7 209.9h1v1h-1zM458.6 225.5h1v1h-1zM463.3 220.3h1v1h-1zM451.2 225.4h1v1h-1zM443.9 228.7h1v1h-1zM476.0 212.1h1v1h-1zM464.6 220.4h1v1h-1zM457.7 216.2h1v1h-1zM451.7 231.3h1v1h-1zM465.6 212.6h1v1h-1zM460.4 220.5h1v1h-1zM465.8 222.6h1v1h-1zM450.3 231.0h1v1h-1zM455.9 216.0h1v1h-1zM447.6 229.0h1v1h-1zM469.9 211.9h1v1h-1zM467.3 204.7h1v1h-1zM450.8 227.7h1v1h-1zM457.5 224.7h1v1h-1zM449.6 224.3h1v1h-1zM464.5 224.7h1v1h-1zM470.6 213.4h1v1h-1zM470.2 201.3h1v1h-1zM455.2 219.3h1v1h-1zM465.4 216.1h1v1h-1zM469.4 206.0h1v1h-1zM460.6 226.1h1v1h-1zM457.5 224.6h1v1h-1zM442.4 230.5h1v1h-1zM472.7 202.5h1v1h-1zM456.6 226.9h1v1h-1zM462.8 220.8h1v1h-1zM467.4 207.8h1v1h-1zM465.6 203.7h.9v.9h-.9zM457.3 213.7h1v1h-1zM477.6 208.8h1v1h-1zM470.7 205.0h1v1h-1zM477.6 204.0h1v1h-1zM454.2 225.0h1v1h-1zM440.7 226.9h1v1h-1zM452.4 229.4h1v1h-1zM471.4 218.0h1v1h-1zM476.7 203.7h1v1h-1zM445.1 229.4h1v1h-1zM467.9 205.3h1v1h-1zM451.5 231.0h1v1h-1zM465.8 222.7h1v1h-1zM471.4 203.4h1v1h-1zM479.6 203.7h1v1h-1zM439.4 231.5h1v1h-1zM461.5 213.5h1v1h-1zM463.7 215.3h1v1h-1zM461.7 219.0h1v1h-1zM474.1 208.4h1v1h-1zM445.3 223.9h1v1h-1zM451.5 226.6h1v1h-1zM462.0 212.2h1v1h-1zM451.5 223.9h1v1h-1zM459.4 221.5h1v1h-1zM438.1 230.4h1v1h-1zM454.0 218.6h1v1h-1zM474.0 215.9h1v1h-1zM468.8 222.4h1v1h-1zM460.6 217.6h1v1h-1zM473.3 210.5h1v1h-1zM475.2 213.0h1v1h-1zM471.5 216.0h1v1h-1zM462.9 220.9h1v1h-1zM459.0 219.1h1v1h-1zM471.0 208.4h1v1h-1zM455.4 221.1h1v1h-1zM470.8 205.1h1v1h-1zM464.0 218.8h1v1h-1zM465.1 206.8h1v1h-1zM444.6 227.2h1v1h-1zM456.3 220.8h1v1h-1zM468.8 213.2h1v1h-1zM470.4 210.5h1v1h-1zM441.6 226.2h1v1h-1zM465.1 212.9h1v1h-1zM452.7 220.0h1v1h-1zM466.1 216.2h1v1h-1zM463.1 214.4h1v1h-1zM468.7 217.1h1v1h-1zM446.3 228.9h1v1h-1zM439.7 231.3h1v1h-1zM456.9 228.3h1v1h-1zM467.9 218.4h1v1h-1zM440.7 232.1h1v1h-1zM456.4 223.2h1v1h-1zM466.3 204.5h1v1h-1zM449.0 223.7h1v1h-1zM455.2 224.1h1v1h-1zM479.8 209.5h.9v.9h-.9zM474.3 214.5h1v1h-1zM476.3 211.3h1v1h-1zM476.9 199.9h1v1h-1zM477.4 213.3h1v1h-1zM480.6 206.9h.9v.9h-.9zM456.6 216.5h1v1h-1zM476.7 211.7h1v1h-1zM449.9 225.5h1v1h-1zM458.8 216.6h1v1h-1zM472.0 204.8h1v1h-1zM466.0 222.3h1v1h-1zM463.2 211.0h1v1h-1zM466.8 218.2h1v1h-1zM472.3 209.3h1v1h-1zM453.5 222.5h1v1h-1zM473.9 217.6h1v1h-1zM442.5 228.4h1v1h-1zM472.1 208.4h1v1h-1zM448.6 220.6h1v1h-1zM475.5 209.7h1v1h-1zM472.3 200.8h1v1h-1zM467.7 220.3h1v1h-1zM470.1 221.3h1v1h-1zM464.2 218.7h1v1h-1zM475.5 200.6h1v1h-1zM463.5 214.8h1v1h-1zM458.3 225.4h1v1h-1zM449.3 228.3h1v1h-1zM465.7 220.4h1v1h-1zM454.3 221.3h1v1h-1zM450.4 232.0h1v1h-1zM478.5 211.8h1v1h-1zM444.8 224.0h1v1h-1zM470.5 219.5h1v1h-1zM443.5 225.7h1v1h-1zM456.8 223.6h1v1h-1zM473.3 200.2h1v1h-1zM437.9 230.1h1v1h-1zM471.6 211.9h1v1h-1zM463.2 213.7h1v1h-1zM456.3 228.8h1v1h-1zM453.4 223.6h1v1h-1zM461.6 213.0h1v1h-1zM467.2 219.9h1v1h-1zM464.5 206.5h1v1h-1zM457.0 218.3h1v1h-1zM453.1 221.9h1v1h-1zM462.2 216.2h1v1h-1zM448.3 227.6h1v1h-1zM472.1 213.8h1v1h-1zM452.2 219.2h1v1h-1zM464.7 205.4h1v1h-1zM455.4 218.4h1v1h-1zM456.3 217.8h1v1h-1zM468.6 205.3h1v1h-1zM473.7 201.9h1v1h-1zM445.6 221.9h1v1h-1zM467.5 211.8h1v1h-1zM447.8 224.5h1v1h-1zM453.0 228.8h1v1h-1zM454.0 222.6h1v1h-1zM468.8 216.9h1v1h-1zM471.4 207.3h1v1h-1zM471.8 213.7h1v1h-1zM470.6 218.7h1v1h-1zM479.2 204.3h1v1h-1zM470.1 206.6h1v1h-1zM445.1 222.9h1v1h-1zM439.1 230.5h1v1h-1zM472.8 213.7h1v1h-1zM450.1 223.4h1v1h-1zM454.4 222.4h1v1h-1zM461.9 212.2h1v1h-1zM465.8 215.1h1v1h-1zM474.1 210.7h1v1h-1zM459.9 211.6h1v1h-1zM464.6 217.8h1v1h-1zM470.2 209.8h1v1h-1zM478.2 208.7h1v1h-1zM467.8 209.1h1v1h-1zM457.5 217.9h1v1h-1zM443.9 225.4h1v1h-1zM476.7 208.9h1v1h-1zM448.2 231.2h1v1h-1zM444.4 223.5h1v1h-1zM463.9 212.3h1v1h-1zM449.3 222.1h1v1h-1zM478.6 203.0h1v1h-1zM477.3 202.6h1v1h-1zM465.2 207.6h1v1h-1zM479.6 208.6h1v1h-1zM467.1 216.6h1v1h-1zM473.8 210.9h1v1h-1zM457.4 223.3h1v1h-1zM468.2 221.2h1v1h-1zM470.9 210.3h1v1h-1zM470.5 211.4h1v1h-1zM456.6 222.5h1v1h-1zM465.8 219.9h1v1h-1zM478.2 206.0h1v1h-1zM465.0 224.5h1v1h-1zM465.0 222.9h1v1h-1zM446.2 223.7h1v1h-1zM454.3 222.5h1v1h-1zM454.3 217.3h1v1h-1zM469.2 220.1h1v1h-1zM466.6 210.8h1v1h-1zM454.9 221.2h1v1h-1zM473.9 202.7h1v1h-1zM478.0 203.3h1v1h-1zM461.9 220.2h1v1h-1zM462.7 214.3h1v1h-1zM440.9 226.7h1v1h-1zM444.2 232.8h1v1h-1zM476.5 202.5h1v1h-1zM475.6 216.0h1v1h-1zM478.1 208.6h1v1h-1zM442.3 223.5h.9v.9h-.9zM451.4 224.6h1v1h-1zM470.2 212.8h1v1h-1zM467.0 215.2h1v1h-1zM469.5 208.9h1v1h-1zM445.1 231.4h1v1h-1zM462.9 209.3h1v1h-1zM476.9 210.1h1v1h-1zM458.5 224.3h1v1h-1zM466.0 206.6h1v1h-1zM469.5 207.8h1v1h-1zM445.1 231.3h1v1h-1zM455.5 220.5h1v1h-1zM473.3 204.6h1v1h-1zM472.6 211.1h1v1h-1zM442.7 233.8h1v1h-1zM441.7 229.3h1v1h-1zM462.3 207.1h1v1h-1zM438.1 226.7h1v1h-1zM443.9 233.2h1v1h-1zM464.0 214.0h1v1h-1zM462.0 224.3h1v1h-1zM464.0 214.4h1v1h-1zM448.7 220.7h1v1h-1zM450.4 230.3h1v1h-1zM451.6 227.2h1v1h-1zM477.8 205.8h1v1h-1zM456.4 224.8h1v1h-1zM462.8 222.8h1v1h-1zM463.5 221.3h1v1h-1zM458.6 213.2h1v1h-1zM475.0 216.6h1v1h-1zM448.1 220.4h1v1h-1zM455.7 215.4h1v1h-1zM445.7 225.1h1v1h-1zM445.3 226.2h1v1h-1zM449.0 222.4h1v1h-1zM461.4 215.9h1v1h-1zM465.6 206.5h1v1h-1zM464.6 214.1h1v1h-1zM439.7 229.8h1v1h-1zM460.8 215.3h1v1h-1zM469.9 202.2h1v1h-1zM463.9 216.2h1v1h-1zM460.8 214.0h1v1h-1zM444.7 230.3h1v1h-1zM444.9 225.4h1v1h-1zM471.1 212.3h1v1h-1zM461.3 213.4h1v1h-1zM457.0 219.5h1v1h-1zM443.2 223.7h1v1h-1zM470.7 199.8h1v1h-1zM454.0 220.3h1v1h-1zM471.0 205.0h1v1h-1zM451.0 222.3h1v1h-1zM467.4 217.3h1v1h-1zM471.3 220.5h1v1h-1zM469.0 205.8h1v1h-1zM439.7 227.1h1v1h-1zM438.6 227.1h1v1h-1zM440.0 225.6h1v1h-1zM465.4 205.2h1v1h-1zM459.5 225.2h1v1h-1zM459.4 210.2h1v1h-1zM480.8 202.9h.9v.9h-.9zM475.4 206.1h1v1h-1zM466.0 212.7h1v1h-1zM463.3 207.8h1v1h-1zM463.9 214.9h1v1h-1zM465.7 221.1h1v1h-1zM445.8 223.6h1v1h-1zM453.5 226.2h1v1h-1zM463.4 219.5h1v1h-1zM459.8 226.1h1v1h-1zM443.6 225.5h1v1h-1zM461.1 211.2h1v1h-1zM457.4 222.2h1v1h-1zM462.4 211.3h1v1h-1zM468.3 205.8h1v1h-1zM453.6 223.8h1v1h-1zM453.2 227.9h1v1h-1zM452.9 228.2h1v1h-1zM444.8 230.6h1v1h-1zM464.6 224.8h1v1h-1zM468.1 218.9h1v1h-1zM459.9 211.6h1v1h-1zM443.4 224.1h1v1h-1zM470.1 200.1h1v1h-1zM464.1 211.8h1v1h-1zM442.9 231.9h1v1h-1zM451.7 225.9h1v1h-1zM461.2 218.4h1v1h-1zM446.8 227.1h1v1h-1zM460.1 219.9h1v1h-1zM447.2 230.5h1v1h-1zM469.3 220.3h1v1h-1zM440.7 231.8h1v1h-1zM450.9 225.2h1v1h-1zM456.8 215.6h1v1h-1zM477.2 210.7h1v1h-1zM461.7 209.4h1v1h-1zM448.3 221.4h1v1h-1zM462.4 223.5h1v1h-1zM441.6 232.8h1v1h-1zM439.6 232.0h1v1h-1zM441.2 227.8h1v1h-1zM473.2 203.3h1v1h-1zM473.0 209.4h1v1h-1zM443.8 233.8h1v1h-1zM447.7 221.3h1v1h-1zM454.5 217.6h1v1h-1zM472.8 216.2h1v1h-1zM452.1 218.4h1v1h-1zM438.3 228.6h1v1h-1zM449.7 230.8h1v1h-1zM462.4 212.6h1v1h-1zM467.9 209.9h1v1h-1zM446.2 226.9h1v1h-1zM465.7 211.2h1v1h-1zM451.7 228.8h1v1h-1zM463.2 218.6h1v1h-1zM465.4 221.1h1v1h-1zM461.0 216.9h1v1h-1zM466.1 207.1h1v1h-1zM452.2 226.4h1v1h-1zM466.7 215.0h1v1h-1zM476.9 216.2h.9v.9h-.9zM453.2 218.4h1v1h-1zM451.3 231.6h1v1h-1zM461.2 209.3h1v1h-1zM469.6 213.2h1v1h-1zM453.4 223.6h1v1h-1zM472.4 219.2h1v1h-1zM463.9 224.3h1v1h-1zM451.7 221.9h1v1h-1zM459.2 226.0h1v1h-1zM444.1 224.3h1v1h-1zM472.5 204.2h1v1h-1zM445.4 226.4h1v1h-1zM459.0 215.7h1v1h-1zM468.6 215.6h1v1h-1zM461.0 205.9h.9v.9h-.9zM462.4 225.8h1v1h-1zM445.8 229.2h1v1h-1zM471.7 210.6h1v1h-1zM466.1 210.0h1v1h-1zM442.4 223.6h1v1h-1zM458.3 223.4h1v1h-1zM467.1 216.3h1v1h-1zM477.3 204.4h1v1h-1zM471.1 210.4h1v1h-1zM478.9 204.2h1v1h-1zM468.8 204.9h1v1h-1zM471.9 207.3h1v1h-1zM464.1 226.5h.9v.9h-.9zM461.4 213.0h1v1h-1zM448.4 233.0h1v1h-1zM466.0 203.9h1v1h-1zM461.4 208.9h1v1h-1zM464.1 221.7h1v1h-1zM444.7 222.7h1v1h-1zM476.5 213.1h1v1h-1zM463.6 218.5h1v1h-1zM474.0 214.1h1v1h-1zM472.7 216.0h1v1h-1zM458.8 223.1h1v1h-1zM480.2 206.9h.9v.9h-.9zM456.4 217.2h1v1h-1zM472.0 209.5h1v1h-1zM467.2 207.9h1v1h-1zM477.1 205.6h1v1h-1zM461.9 212.7h1v1h-1zM462.3 218.1h1v1h-1zM473.6 217.0h1v1h-1zM469.6 218.0h1v1h-1zM466.0 218.0h1v1h-1zM438.5 228.9h1v1h-1zM466.9 223.8h1v1h-1zM464.7 212.5h1v1h-1zM447.5 224.4h1v1h-1zM465.5 223.5h1v1h-1zM458.4 214.7h1v1h-1zM447.4 222.6h1v1h-1zM462.3 216.4h1v1h-1zM440.2 225.5h1v1h-1zM471.8 211.8h1v1h-1zM466.1 221.7h1v1h-1zM478.3 204.0h1v1h-1zM455.6 220.8h1v1h-1zM453.0 222.4h1v1h-1zM469.3 201.6h1v1h-1zM447.8 232.9h1v1h-1zM463.2 211.0h1v1h-1zM479.3 200.4h1v1h-1zM452.3 226.1h1v1h-1zM456.4 217.5h1v1h-1zM460.5 209.2h1v1h-1zM459.5 217.4h1v1h-1zM452.1 219.9h1v1h-1zM469.6 215.1h1v1h-1zM470.0 215.2h1v1h-1zM462.2 207.0h1v1h-1zM441.8 228.5h1v1h-1zM475.8 217.4h.9v.9h-.9zM475.2 202.5h1v1h-1zM454.7 225.5h1v1h-1zM456.5 227.8h1v1h-1zM455.5 228.2h1v1h-1zM457.9 218.1h1v1h-1zM474.1 213.5h1v1h-1zM468.0 212.5h1v1h-1zM478.0 210.8h1v1h-1zM446.6 226.9h1v1h-1zM457.5 220.6h1v1h-1zM478.5 211.0h1v1h-1zM463.4 207.0h1v1h-1zM443.0 230.1h1v1h-1zM449.8 226.5h1v1h-1zM456.3 221.7h1v1h-1zM466.1 209.0h1v1h-1zM476.0 209.9h1v1h-1zM459.2 224.1h1v1h-1zM461.6 224.1h1v1h-1zM451.7 230.6h1v1h-1zM475.7 214.2h1v1h-1zM451.1 224.6h1v1h-1zM449.1 223.2h1v1h-1zM459.2 216.4h1v1h-1zM457.7 226.5h1v1h-1zM448.3 232.2h1v1h-1zM473.4 214.7h1v1h-1zM469.4 220.1h1v1h-1zM451.0 222.4h1v1h-1zM450.1 225.8h1v1h-1zM448.1 225.7h1v1h-1zM450.4 226.0h1v1h-1zM463.1 217.2h1v1h-1zM477.5 204.9h1v1h-1zM449.0 226.2h1v1h-1zM439.2 232.4h1v1h-1zM460.6 216.6h1v1h-1zM446.9 223.0h1v1h-1zM446.9 226.7h1v1h-1zM450.1 230.2h1v1h-1zM470.4 206.4h1v1h-1zM452.7 224.8h1v1h-1zM472.1 208.5h1v1h-1zM444.7 223.9h1v1h-1zM468.2 215.9h1v1h-1zM468.9 212.8h1v1h-1zM441.2 229.4h1v1h-1zM441.9 227.2h1v1h-1zM470.6 214.9h1v1h-1zM439.3 231.7h1v1h-1zM466.1 212.5h1v1h-1zM447.2 227.0h1v1h-1zM463.0 206.4h1v1h-1zM450.8 221.7h1v1h-1zM466.5 211.0h1v1h-1zM470.9 217.7h1v1h-1zM456.6 221.8h1v1h-1zM440.4 230.9h1v1h-1zM456.3 219.5h1v1h-1zM450.4 221.4h1v1h-1zM456.5 215.9h1v1h-1zM457.3 220.0h1v1h-1zM470.2 218.0h1v1h-1zM471.4 202.7h1v1h-1zM447.4 222.0h1v1h-1zM473.8 203.4h1v1h-1zM468.2 213.9h1v1h-1zM458.5 225.5h1v1h-1zM476.7 202.9h1v1h-1zM456.6 225.5h1v1h-1zM460.2 215.9h1v1h-1zM454.5 225.8h1v1h-1zM455.5 221.8h1v1h-1zM462.4 225.7h1v1h-1zM441.3 226.0h1v1h-1zM455.6 218.9h1v1h-1zM472.5 202.8h1v1h-1zM468.4 222.3h1v1h-1zM441.2 224.5h1v1h-1zM440.0 231.5h1v1h-1zM449.1 223.2h1v1h-1zM442.6 234.5h.9v.9h-.9zM463.2 217.1h1v1h-1zM457.5 219.9h1v1h-1zM442.8 223.8h1v1h-1zM445.0 224.4h1v1h-1zM459.6 207.9h.9v.9h-.9zM451.7 232.0h1v1h-1zM458.6 216.0h1v1h-1zM462.9 224.7h1v1h-1zM461.1 212.8h1v1h-1zM464.2 216.4h1v1h-1zM469.1 209.4h1v1h-1zM465.9 217.7h1v1h-1zM458.3 226.9h1v1h-1zM453.3 221.1h1v1h-1zM471.8 207.8h1v1h-1zM471.5 200.8h1v1h-1zM478.0 206.8h1v1h-1zM438.4 231.3h1v1h-1zM465.0 218.9h1v1h-1zM450.9 230.8h1v1h-1zM460.1 217.9h1v1h-1zM447.7 229.4h1v1h-1zM458.6 224.1h1v1h-1zM476.1 199.9h1v1h-1zM477.2 199.2h1v1h-1zM458.3 227.7h1v1h-1zM439.7 230.3h1v1h-1zM462.8 215.7h1v1h-1zM466.3 221.9h1v1h-1zM476.3 215.0h1v1h-1zM456.2 224.4h1v1h-1zM473.4 211.8h1v1h-1zM449.8 231.4h1v1h-1zM461.7 208.2h1v1h-1zM449.3 227.5h1v1h-1zM473.8 209.0h1v1h-1zM462.8 223.2h1v1h-1zM475.7 201.4h1v1h-1zM460.8 219.0h1v1h-1zM453.0 226.0h1v1h-1zM453.9 228.3h1v1h-1zM465.5 204.4h1v1h-1zM476.0 218.0h.9v.9h-.9zM471.8 201.6h1v1h-1zM441.6 232.6h1v1h-1zM446.4 227.4h1v1h-1zM472.0 203.1h1v1h-1zM472.6 202.6h1v1h-1zM478.4 202.6h1v1h-1zM461.5 219.7h1v1h-1zM444.0 229.7h1v1h-1zM460.5 216.2h1v1h-1zM449.2 230.3h1v1h-1zM441.2 230.8h1v1h-1zM474.5 213.0h1v1h-1zM469.4 210.6h1v1h-1zM459.1 207.3h.9v.9h-.9zM450.1 226.1h1v1h-1zM464.6 215.2h1v1h-1zM455.8 227.2h1v1h-1zM450.2 221.0h1v1h-1zM468.3 219.1h1v1h-1zM466.1 220.4h1v1h-1zM459.3 212.4h1v1h-1zM460.4 218.9h1v1h-1zM460.2 216.6h1v1h-1zM466.7 210.6h1v1h-1zM461.8 211.1h1v1h-1zM464.5 222.4h1v1h-1zM460.7 218.3h1v1h-1zM476.8 199.9h1v1h-1zM470.1 207.2h1v1h-1zM459.7 215.7h1v1h-1zM475.3 201.6h1v1h-1zM437.2 226.8h.9v.9h-.9zM441.0 229.4h1v1h-1zM454.2 223.5h1v1h-1zM474.5 205.4h1v1h-1zM470.8 217.9h1v1h-1zM456.7 219.9h1v1h-1zM458.0 223.9h1v1h-1zM460.0 223.6h1v1h-1zM449.1 223.3h1v1h-1zM445.2 225.3h1v1h-1zM474.8 199.0h1v1h-1zM446.8 222.1h1v1h-1zM441.8 225.4h1v1h-1zM441.9 227.1h1v1h-1zM457.3 220.3h1v1h-1zM476.4 198.8h1v1h-1zM454.1 224.3h1v1h-1zM467.3 222.7h1v1h-1zM443.9 223.0h1v1h-1zM462.3 222.1h1v1h-1zM452.8 217.7h.9v.9h-.9zM445.5 225.7h1v1h-1zM469.2 213.1h1v1h-1zM451.6 229.9h1v1h-1zM473.3 200.4h1v1h-1zM466.0 209.0h1v1h-1zM457.3 220.9h1v1h-1zM471.2 209.5h1v1h-1zM471.9 209.9h1v1h-1zM458.2 224.3h1v1h-1zM460.7 216.8h1v1h-1zM478.8 207.6h1v1h-1zM468.4 213.6h1v1h-1zM476.1 202.1h1v1h-1zM471.0 202.3h1v1h-1zM476.4 209.2h1v1h-1zM470.5 220.5h1v1h-1zM438.1 229.8h1v1h-1zM474.6 206.2h1v1h-1zM468.5 223.3h1v1h-1zM455.5 219.9h1v1h-1zM464.3 214.1h1v1h-1zM455.5 225.5h1v1h-1zM440.4 229.8h1v1h-1zM472.0 203.0h1v1h-1zM457.1 215.4h1v1h-1zM474.7 200.8h1v1h-1zM461.5 212.4h1v1h-1zM468.5 222.7h1v1h-1zM449.0 225.4h1v1h-1zM464.0 215.4h1v1h-1zM478.0 205.7h1v1h-1zM463.5 218.5h1v1h-1zM456.7 218.3h1v1h-1zM447.4 225.3h1v1h-1zM475.9 205.7h1v1h-1zM448.4 227.4h1v1h-1zM466.5 208.5h1v1h-1zM479.3 200.9h1v1h-1zM475.6 204.1h1v1h-1zM474.9 212.8h1v1h-1zM454.2 219.9h1v1h-1zM469.0 213.2h1v1h-1zM462.3 224.8h1v1h-1zM452.2 228.2h1v1h-1zM454.0 225.0h1v1h-1zM455.8 220.3h1v1h-1zM443.1 233.7h1v1h-1zM466.0 221.5h1v1h-1zM444.5 231.4h1v1h-1zM464.0 207.4h1v1h-1zM439.8 231.8h1v1h-1zM467.1 222.1h1v1h-1zM440.4 232.9h1v1h-1zM468.4 209.4h1v1h-1zM446.5 230.2h1v1h-1zM467.3 202.5h1v1h-1zM472.4 200.1h1v1h-1zM462.9 207.8h1v1h-1zM452.9 220.8h1v1h-1zM463.6 207.8h1v1h-1zM459.3 225.1h1v1h-1zM442.7 232.1h1v1h-1zM449.2 227.5h1v1h-1zM440.5 232.0h1v1h-1zM462.0 209.6h1v1h-1zM473.8 216.6h1v1h-1zM458.3 227.3h1v1h-1zM467.8 220.5h1v1h-1zM465.3 211.2h1v1h-1zM463.2 215.2h1v1h-1zM469.4 206.9h1v1h-1zM455.1 225.8h1v1h-1zM478.8 205.2h1v1h-1zM464.7 207.0h1v1h-1zM473.2 200.7h1v1h-1zM478.5 200.4h1v1h-1zM445.5 226.7h1v1h-1zM471.2 202.6h1v1h-1zM479.0 202.2h1v1h-1zM450.7 221.2h1v1h-1zM459.1 218.3h1v1h-1zM461.3 220.3h1v1h-1zM470.9 212.9h1v1h-1zM461.0 223.3h1v1h-1zM458.7 220.9h1v1h-1zM464.5 206.7h1v1h-1zM477.4 210.0h1v1h-1zM468.7 201.4h1v1h-1zM455.2 223.0h1v1h-1zM470.3 217.2h1v1h-1zM460.0 217.9h1v1h-1zM443.2 232.5h1v1h-1zM436.7 231.2h1v1h-1zM456.3 219.2h1v1h-1zM470.3 218.0h1v1h-1zM436.7 225.1h.9v.9h-.9zM452.2 220.1h1v1h-1zM439.8 226.8h1v1h-1zM480.0 206.2h1v1h-1zM459.3 223.2h1v1h-1zM461.6 221.7h1v1h-1zM462.2 218.1h1v1h-1zM474.1 217.7h1v1h-1zM464.4 213.1h1v1h-1zM469.6 212.8h1v1h-1zM463.6 218.1h1v1h-1zM468.8 215.7h1v1h-1zM466.2 223.2h1v1h-1zM467.4 220.9h1v1h-1zM468.4 212.7h1v1h-1zM475.8 205.2h1v1h-1zM458.8 226.3h1v1h-1zM465.5 221.1h1v1h-1zM473.7 204.8h1v1h-1zM465.1 219.9h1v1h-1zM470.2 215.5h1v1h-1zM468.2 210.9h1v1h-1zM450.4 228.9h1v1h-1zM467.3 212.8h1v1h-1zM473.9 213.0h1v1h-1zM445.6 224.7h1v1h-1zM452.8 223.6h1v1h-1zM450.7 218.8h1v1h-1zM441.7 227.4h1v1h-1zM479.0 203.4h1v1h-1zM441.6 230.3h1v1h-1zM468.3 203.2h1v1h-1zM444.9 229.3h1v1h-1zM448.7 228.6h1v1h-1zM451.8 224.6h1v1h-1zM476.7 205.0h1v1h-1zM469.4 217.2h1v1h-1zM475.9 202.2h1v1h-1zM473.3 212.0h1v1h-1zM465.0 206.1h1v1h-1zM440.9 231.5h1v1h-1zM478.2 211.9h1v1h-1zM442.8 226.9h1v1h-1zM452.8 220.5h1v1h-1zM470.8 207.7h1v1h-1zM458.9 221.7h1v1h-1zM459.8 226.0h1v1h-1zM463.1 207.3h1v1h-1zM477.0 213.6h1v1h-1zM464.3 205.4h1v1h-1zM441.2 233.4h1v1h-1zM461.6 224.6h1v1h-1zM441.4 232.0h1v1h-1zM463.3 223.7h1v1h-1zM458.9 211.3h1v1h-1zM472.6 218.6h1v1h-1zM452.3 223.6h1v1h-1zM473.1 211.8h1v1h-1zM474.5 212.0h1v1h-1zM445.8 229.6h1v1h-1zM466.0 221.1h1v1h-1zM452.7 219.3h1v1h-1zM442.0 233.3h1v1h-1zM463.4 220.1h1v1h-1zM458.2 213.9h1v1h-1zM473.8 202.9h1v1h-1zM443.4 226.8h1v1h-1zM438.1 228.9h1v1h-1zM466.9 203.2h1v1h-1zM452.0 230.9h1v1h-1zM465.8 207.9h1v1h-1zM461.8 216.3h1v1h-1zM472.5 218.3h1v1h-1zM450.5 226.8h1v1h-1zM467.0 222.4h1v1h-1zM467.7 213.8h1v1h-1zM462.8 213.6h1v1h-1zM456.5 228.7h1v1h-1zM443.7 227.0h1v1h-1zM454.3 220.8h1v1h-1zM468.6 204.3h1v1h-1zM469.9 203.9h1v1h-1zM444.1 227.7h1v1h-1zM458.0 221.4h1v1h-1zM462.4 216.7h1v1h-1zM461.6 221.8h1v1h-1zM444.4 226.2h1v1h-1zM471.1 211.4h1v1h-1zM445.4 224.9h1v1h-1zM445.2 224.2h1v1h-1zM470.3 209.6h1v1h-1zM461.5 226.4h1v1h-1zM464.3 224.8h1v1h-1zM470.7 200.2h1v1h-1zM471.2 200.5h1v1h-1zM476.3 212.9h1v1h-1zM456.3 219.7h1v1h-1zM458.2 213.0h1v1h-1zM459.4 224.2h1v1h-1zM471.8 200.5h1v1h-1zM444.9 228.7h1v1h-1zM466.0 206.4h1v1h-1zM474.3 203.0h1v1h-1zM446.2 227.3h1v1h-1zM458.2 227.3h1v1h-1zM465.3 206.3h1v1h-1zM440.0 229.8h1v1h-1zM452.9 222.7h1v1h-1zM462.6 212.2h1v1h-1zM442.4 227.5h1v1h-1zM455.3 222.0h1v1h-1zM463.7 217.6h1v1h-1zM450.8 226.2h1v1h-1zM476.6 205.4h1v1h-1zM445.1 230.6h1v1h-1zM470.8 211.0h1v1h-1zM472.4 214.3h1v1h-1zM452.5 220.3h1v1h-1zM449.7 228.2h1v1h-1zM456.9 225.4h1v1h-1zM476.9 209.2h1v1h-1zM444.3 224.1h1v1h-1zM475.1 212.1h1v1h-1zM464.1 206.7h1v1h-1zM459.0 224.1h1v1h-1zM461.0 214.6h1v1h-1zM460.4 209.6h1v1h-1zM477.8 209.2h1v1h-1zM466.7 215.0h1v1h-1zM462.0 214.3h1v1h-1zM462.0 213.4h1v1h-1zM440.4 226.0h1v1h-1zM454.1 219.6h1v1h-1zM479.0 209.0h1v1h-1zM462.9 218.0h1v1h-1zM449.3 231.3h1v1h-1zM459.6 213.2h1v1h-1zM467.2 219.8h1v1h-1zM474.2 200.6h1v1h-1zM467.6 206.2h1v1h-1zM471.2 218.7h1v1h-1zM466.0 218.2h1v1h-1zM477.7 209.3h1v1h-1zM473.5 219.9h.9v.9h-.9zM442.8 228.5h1v1h-1zM459.3 216.2h1v1h-1zM443.5 234.2h.9v.9h-.9zM475.7 206.3h1v1h-1zM467.3 204.0h1v1h-1zM469.5 204.9h1v1h-1zM460.5 208.2h.9v.9h-.9zM440.7 229.3h1v1h-1zM477.8 206.5h1v1h-1zM476.0 210.0h1v1h-1zM453.4 226.7h1v1h-1zM445.8 235.0h.9v.9h-.9zM461.7 220.3h1v1h-1zM471.9 213.3h1v1h-1zM438.9 226.2h1v1h-1zM477.5 211.2h1v1h-1zM476.1 203.4h1v1h-1zM464.7 214.5h1v1h-1zM477.0 210.8h1v1h-1zM457.3 222.8h1v1h-1zM450.9 228.5h1v1h-1zM476.9 212.8h1v1h-1zM457.1 226.2h1v1h-1zM455.7 217.4h1v1h-1zM474.5 200.2h1v1h-1zM454.9 226.8h1v1h-1zM452.0 220.2h1v1h-1zM460.7 224.9h1v1h-1zM467.4 222.1h1v1h-1zM446.7 225.1h1v1h-1zM438.3 232.4h1v1h-1zM472.5 201.5h1v1h-1zM461.9 222.5h1v1h-1zM467.4 203.4h1v1h-1zM468.0 220.5h1v1h-1zM468.8 222.1h1v1h-1zM477.2 207.0h1v1h-1zM473.1 215.3h1v1h-1zM455.1 217.4h1v1h-1zM445.0 227.9h1v1h-1zM475.8 205.8h1v1h-1zM472.9 218.1h1v1h-1zM471.7 203.4h1v1h-1zM439.0 227.0h1v1h-1zM443.3 224.0h1v1h-1zM444.9 227.0h1v1h-1zM474.9 205.3h1v1h-1zM460.2 228.7h.9v.9h-.9zM458.0 225.2h1v1h-1zM471.5 211.0h1v1h-1zM458.6 214.3h1v1h-1zM477.8 206.5h1v1h-1zM474.0 217.8h1v1h-1zM461.3 220.0h1v1h-1zM472.3 202.7h1v1h-1zM476.5 209.8h1v1h-1zM466.8 222.5h1v1h-1zM479.1 203.4h1v1h-1zM467.1 205.2h1v1h-1zM469.8 214.0h1v1h-1zM448.4 229.8h1v1h-1zM441.7 232.4h1v1h-1zM440.5 225.6h1v1h-1zM473.6 214.2h1v1h-1zM452.4 220.9h1v1h-1zM471.1 205.5h1v1h-1zM468.5 208.4h1v1h-1zM460.1 209.1h1v1h-1zM453.3 228.8h1v1h-1zM452.0 218.9h1v1h-1zM465.1 215.0h1v1h-1zM471.4 206.2h1v1h-1zM457.0 227.5h1v1h-1zM464.2 213.3h1v1h-1zM461.3 216.9h1v1h-1zM464.0 210.8h1v1h-1zM467.3 215.7h1v1h-1zM480.8 205.8h.9v.9h-.9zM440.1 230.5h1v1h-1zM470.3 211.3h1v1h-1zM445.6 229.9h1v1h-1zM468.7 210.5h1v1h-1zM456.3 224.1h1v1h-1zM467.5 221.1h1v1h-1zM468.9 218.4h1v1h-1zM442.5 224.4h1v1h-1zM436.5 230.0h1v1h-1zM443.1 230.7h1v1h-1zM466.9 211.1h1v1h-1zM452.7 231.8h.9v.9h-.9zM451.4 221.7h1v1h-1zM457.6 224.4h1v1h-1zM450.4 228.0h1v1h-1zM475.7 203.3h1v1h-1zM452.5 221.3h1v1h-1zM469.0 207.7h1v1h-1zM448.3 220.8h1v1h-1zM458.5 208.6h.9v.9h-.9zM467.4 210.3h1v1h-1zM469.9 205.3h1v1h-1zM476.8 205.6h1v1h-1zM472.4 216.0h1v1h-1zM474.6 214.9h1v1h-1zM476.2 215.0h1v1h-1zM440.5 225.4h1v1h-1zM472.2 209.7h1v1h-1zM467.9 204.2h1v1h-1zM450.3 220.6h1v1h-1zM478.1 204.8h1v1h-1zM446.2 222.1h1v1h-1zM457.1 226.5h1v1h-1zM467.0 204.9h1v1h-1zM457.5 213.1h1v1h-1zM467.9 218.4h1v1h-1zM438.1 230.7h1v1h-1zM452.8 224.3h1v1h-1zM462.6 210.9h1v1h-1zM470.4 213.8h1v1h-1zM461.6 212.3h1v1h-1zM470.6 203.4h1v1h-1zM457.8 215.6h1v1h-1zM467.3 218.7h1v1h-1zM459.0 217.8h1v1h-1zM450.4 219.6h1v1h-1zM463.7 218.4h1v1h-1zM459.2 214.3h1v1h-1zM461.4 217.7h1v1h-1zM467.1 207.8h1v1h-1zM455.6 219.3h1v1h-1zM468.1 216.9h1v1h-1zM458.1 223.7h1v1h-1zM466.8 219.8h1v1h-1zM459.1 218.9h1v1h-1zM469.3 222.4h1v1h-1zM478.2 200.9h1v1h-1zM460.0 214.5h1v1h-1zM473.3 218.3h1v1h-1zM461.5 212.2h1v1h-1zM463.4 223.3h1v1h-1zM453.2 220.0h1v1h-1zM471.8 206.0h1v1h-1zM458.9 216.3h1v1h-1zM456.1 214.6h1v1h-1zM459.4 210.8h1v1h-1zM455.1 221.4h1v1h-1zM457.3 216.8h1v1h-1zM469.3 205.5h1v1h-1zM470.3 208.8h1v1h-1zM476.0 204.8h1v1h-1zM448.6 229.2h1v1h-1zM460.1 217.3h1v1h-1zM478.0 205.0h1v1h-1zM479.6 205.4h1v1h-1zM463.3 207.9h1v1h-1zM446.4 226.3h1v1h-1zM476.5 212.5h1v1h-1zM465.4 208.1h1v1h-1zM448.2 232.8h1v1h-1zM479.8 208.1h1v1h-1zM449.8 226.6h1v1h-1zM455.0 225.2h1v1h-1zM451.4 228.3h1v1h-1zM451.1 232.2h1v1h-1zM466.5 204.2h1v1h-1zM460.5 216.1h1v1h-1zM441.8 225.0h1v1h-1zM459.5 222.3h1v1h-1zM459.7 211.5h1v1h-1zM478.6 201.1h1v1h-1zM443.7 223.9h1v1h-1zM470.6 212.3h1v1h-1zM446.1 222.0h1v1h-1zM447.8 220.2h.9v.9h-.9zM440.0 229.6h1v1h-1zM455.5 216.3h1v1h-1zM455.0 222.3h1v1h-1zM449.6 226.7h1v1h-1zM478.6 206.4h1v1h-1zM459.7 227.8h.9v.9h-.9zM467.7 220.7h1v1h-1zM461.1 208.2h1v1h-1zM464.1 226.3h.9v.9h-.9zM465.1 205.0h1v1h-1zM458.6 224.5h1v1h-1zM443.6 228.9h1v1h-1zM455.0 218.1h1v1h-1zM474.2 203.3h1v1h-1zM468.8 210.8h1v1h-1zM464.0 211.4h1v1h-1zM457.4 213.7h1v1h-1zM464.8 226.9h.9v.9h-.9zM467.4 209.4h1v1h-1zM461.1 218.2h1v1h-1zM454.8 224.3h1v1h-1zM461.1 219.3h1v1h-1zM465.7 205.0h1v1h-1zM445.3 233.2h1v1h-1zM454.1 221.0h1v1h-1zM459.1 224.9h1v1h-1zM443.5 232.4h1v1h-1zM454.0 220.7h1v1h-1zM474.1 207.0h1v1h-1zM440.0 225.3h1v1h-1zM461.4 217.1h1v1h-1zM469.1 221.6h1v1h-1zM442.1 224.4h1v1h-1zM465.8 215.4h1v1h-1zM471.4 218.1h1v1h-1zM452.7 224.3h1v1h-1zM472.7 219.3h1v1h-1zM471.8 216.9h1v1h-1zM463.2 224.8h1v1h-1zM459.7 215.6h1v1h-1zM467.8 217.0h1v1h-1zM465.0 217.6h1v1h-1zM439.1 226.5h1v1h-1zM475.5 212.4h1v1h-1zM478.6 205.4h1v1h-1zM465.5 213.9h1v1h-1zM464.3 221.0h1v1h-1zM473.1 218.3h1v1h-1zM453.0 226.0h1v1h-1zM456.9 222.6h1v1h-1zM458.6 222.9h1v1h-1zM473.5 200.0h1v1h-1zM477.5 212.2h1v1h-1zM449.5 221.2h1v1h-1zM465.8 220.4h1v1h-1zM445.8 225.0h1v1h-1zM462.1 213.0h1v1h-1zM440.0 227.8h1v1h-1zM451.9 219.8h1v1h-1zM448.9 230.4h1v1h-1zM456.0 217.2h1v1h-1zM473.5 205.9h1v1h-1zM474.2 215.8h1v1h-1zM480.4 206.8h.9v.9h-.9zM464.5 222.3h1v1h-1zM440.5 226.4h1v1h-1zM465.7 207.9h1v1h-1zM455.6 216.7h1v1h-1zM477.7 206.7h1v1h-1zM471.0 208.9h1v1h-1zM462.6 226.1h1v1h-1zM441.3 233.6h1v1h-1zM443.8 224.8h1v1h-1zM475.0 216.4h1v1h-1zM444.7 235.0h.9v.9h-.9zM461.5 219.5h1v1h-1zM453.6 228.8h1v1h-1zM440.5 232.4h1v1h-1zM457.6 217.0h1v1h-1zM456.7 225.6h1v1h-1zM467.6 221.2h1v1h-1zM451.5 227.1h1v1h-1zM472.4 202.1h1v1h-1zM478.4 206.1h1v1h-1zM469.4 221.5h1v1h-1zM478.0 207.7h1v1h-1zM478.2 199.0h1v1h-1zM455.6 220.3h1v1h-1zM464.8 213.1h1v1h-1zM465.3 206.5h1v1h-1zM463.0 213.5h1v1h-1zM473.3 212.6h1v1h-1zM457.0 215.7h1v1h-1zM469.6 210.6h1v1h-1zM476.8 201.6h1v1h-1zM460.6 221.2h1v1h-1zM471.6 200.1h1v1h-1zM469.1 202.1h1v1h-1zM454.2 223.2h1v1h-1zM440.0 229.2h1v1h-1zM467.9 204.8h1v1h-1zM438.2 229.0h1v1h-1zM449.7 219.6h1v1h-1zM459.5 215.0h1v1h-1zM466.0 220.4h1v1h-1zM472.7 204.9h1v1h-1zM445.9 230.4h1v1h-1zM452.4 230.5h1v1h-1zM477.0 200.9h1v1h-1zM459.7 211.4h1v1h-1zM467.3 204.1h1v1h-1zM457.8 212.2h1v1h-1zM465.1 223.9h1v1h-1zM462.6 220.2h1v1h-1zM449.2 226.6h1v1h-1zM466.4 223.6h1v1h-1zM442.5 226.5h1v1h-1zM448.0 230.2h1v1h-1zM452.8 222.7h1v1h-1zM476.3 204.8h1v1h-1zM458.5 222.0h1v1h-1zM450.6 227.4h1v1h-1zM449.4 229.7h1v1h-1zM478.4 206.3h1v1h-1zM465.2 221.9h1v1h-1zM455.0 218.7h1v1h-1zM461.4 212.8h1v1h-1zM448.3 232.1h1v1h-1zM459.7 217.8h1v1h-1zM459.0 216.1h1v1h-1zM466.9 209.2h1v1h-1zM447.4 221.6h1v1h-1zM466.4 219.9h1v1h-1zM453.0 228.2h1v1h-1zM475.8 205.9h1v1h-1zM468.5 200.3h.9v.9h-.9zM463.7 226.4h.9v.9h-.9zM463.6 207.9h1v1h-1zM459.3 221.3h1v1h-1zM436.5 230.2h1v1h-1zM469.8 203.1h1v1h-1zM445.7 222.9h1v1h-1zM450.4 220.9h1v1h-1zM465.4 214.2h1v1h-1zM452.4 223.3h1v1h-1zM439.0 227.8h1v1h-1zM462.2 208.0h1v1h-1zM452.6 219.2h1v1h-1zM438.5 231.6h1v1h-1zM457.7 212.3h1v1h-1zM455.8 219.0h1v1h-1zM475.7 199.9h1v1h-1zM462.8 219.8h1v1h-1zM441.1 227.9h1v1h-1zM455.9 223.5h1v1h-1zM474.9 199.3h1v1h-1zM456.9 218.3h1v1h-1zM462.5 207.1h1v1h-1zM467.4 204.7h1v1h-1zM445.7 226.3h1v1h-1zM476.7 204.7h1v1h-1zM459.8 220.5h1v1h-1zM455.7 220.4h1v1h-1zM465.0 211.5h1v1h-1zM474.6 201.4h1v1h-1zM451.2 222.2h1v1h-1zM465.7 207.9h1v1h-1zM459.9 216.0h1v1h-1zM466.3 215.0h1v1h-1zM461.6 205.2h.9v.9h-.9zM479.5 201.1h1v1h-1zM452.2 222.9h1v1h-1zM463.3 224.9h1v1h-1zM462.4 215.8h1v1h-1zM437.2 231.4h1v1h-1zM459.2 225.0h1v1h-1zM471.0 219.3h1v1h-1zM475.4 211.9h1v1h-1zM449.9 222.0h1v1h-1zM447.6 226.9h1v1h-1zM457.5 222.1h1v1h-1zM461.4 215.7h1v1h-1zM457.0 224.8h1v1h-1zM477.7 204.2h1v1h-1zM462.3 209.6h1v1h-1zM467.3 204.0h1v1h-1zM475.6 207.6h1v1h-1zM449.6 226.7h1v1h-1zM472.0 214.6h1v1h-1zM468.2 219.3h1v1h-1zM474.3 202.8h1v1h-1zM467.6 215.5h1v1h-1zM471.6 205.7h1v1h-1zM453.6 222.9h1v1h-1zM442.2 230.6h1v1h-1zM459.0 210.9h1v1h-1zM469.5 206.7h1v1h-1zM470.9 220.8h1v1h-1zM452.2 226.0h1v1h-1zM460.4 220.4h1v1h-1zM474.3 199.2h1v1h-1zM457.9 222.8h1v1h-1zM470.9 215.6h1v1h-1zM469.9 204.3h1v1h-1zM448.8 230.4h1v1h-1zM440.3 231.8h1v1h-1zM454.7 219.5h1v1h-1zM471.3 220.0h1v1h-1zM452.1 220.4h1v1h-1zM475.4 203.3h1v1h-1zM441.7 231.1h1v1h-1zM443.3 230.8h1v1h-1zM450.8 232.0h1v1h-1zM465.4 218.9h1v1h-1zM475.4 214.7h1v1h-1zM469.9 216.7h1v1h-1zM468.6 218.1h1v1h-1zM443.1 224.4h1v1h-1zM479.1 201.7h1v1h-1zM444.8 231.0h1v1h-1zM459.6 227.2h1v1h-1zM449.2 232.1h1v1h-1zM458.8 216.1h1v1h-1zM461.6 210.4h1v1h-1zM466.5 209.7h1v1h-1zM457.7 220.5h1v1h-1zM444.4 229.7h1v1h-1zM459.1 229.4h.9v.9h-.9zM475.8 210.5h1v1h-1zM468.6 201.9h1v1h-1zM462.6 214.5h1v1h-1zM458.7 221.5h1v1h-1zM455.9 224.9h1v1h-1zM460.7 212.2h1v1h-1zM470.1 218.9h1v1h-1zM479.6 206.3h1v1h-1zM469.2 206.1h1v1h-1zM460.5 210.8h1v1h-1zM438.8 227.6h1v1h-1zM466.3 205.3h1v1h-1zM453.1 218.8h1v1h-1zM450.7 229.4h1v1h-1zM477.1 209.3h1v1h-1zM437.6 228.0h1v1h-1zM469.9 205.0h1v1h-1zM470.2 217.2h1v1h-1zM465.7 223.7h1v1h-1zM466.1 208.4h1v1h-1zM443.1 225.5h1v1h-1zM459.1 224.1h1v1h-1zM476.4 207.5h1v1h-1zM469.5 207.9h1v1h-1zM449.7 219.6h1v1h-1zM472.3 217.1h1v1h-1zM456.2 219.0h1v1h-1zM470.0 217.9h1v1h-1zM458.2 224.6h1v1h-1zM455.1 218.9h1v1h-1zM441.9 233.3h1v1h-1zM440.4 228.6h1v1h-1zM446.3 232.0h1v1h-1zM458.1 214.1h1v1h-1zM437.5 227.9h1v1h-1zM471.6 216.9h1v1h-1zM468.2 204.0h1v1h-1zM464.5 206.5h1v1h-1zM448.0 226.4h1v1h-1zM452.8 220.3h1v1h-1zM479.7 201.3h1v1h-1zM451.1 224.0h1v1h-1zM444.5 227.5h1v1h-1zM479.3 207.7h1v1h-1zM461.1 216.4h1v1h-1zM462.1 221.7h1v1h-1zM464.8 210.3h1v1h-1zM448.1 224.0h1v1h-1zM474.7 212.3h1v1h-1zM438.3 231.2h1v1h-1zM457.1 217.0h1v1h-1zM465.6 224.6h1v1h-1zM468.5 215.0h1v1h-1zM467.7 208.2h1v1h-1zM467.1 214.1h1v1h-1zM469.3 204.9h1v1h-1zM465.3 207.1h1v1h-1zM469.1 213.2h1v1h-1zM455.0 219.2h1v1h-1zM468.4 206.9h1v1h-1zM466.7 218.6h1v1h-1zM444.3 225.8h1v1h-1zM467.9 208.6h1v1h-1zM466.8 209.2h1v1h-1zM462.6 207.2h1v1h-1zM457.2 218.6h1v1h-1zM466.3 212.8h1v1h-1zM465.2 207.6h1v1h-1zM465.4 221.2h1v1h-1zM436.9 230.5h1v1h-1zM473.3 215.6h1v1h-1zM473.5 216.3h1v1h-1zM477.3 211.6h1v1h-1zM470.4 215.7h1v1h-1zM459.8 225.5h1v1h-1zM476.3 213.0h1v1h-1zM466.8 214.7h1v1h-1zM439.8 227.0h1v1h-1zM445.1 222.7h1v1h-1zM460.2 210.7h1v1h-1zM471.7 218.6h1v1h-1zM466.4 210.0h1v1h-1zM449.1 232.2h1v1h-1zM471.3 202.1h1v1h-1zM463.9 212.5h1v1h-1zM458.3 222.7h1v1h-1zM466.0 209.6h1v1h-1zM459.2 213.6h1v1h-1zM467.4 212.5h1v1h-1zM442.9 230.6h1v1h-1zM466.7 222.0h1v1h-1zM476.3 210.1h1v1h-1zM447.9 229.9h1v1h-1zM461.0 214.8h1v1h-1zM439.9 227.5h1v1h-1zM456.2 218.7h1v1h-1zM472.0 202.6h1v1h-1zM446.5 232.7h1v1h-1zM447.4 226.9h1v1h-1zM456.8 215.6h1v1h-1zM466.9 206.3h1v1h-1zM459.4 219.7h1v1h-1zM465.2 218.5h1v1h-1zM437.7 229.0h1v1h-1zM464.6 212.7h1v1h-1zM461.6 220.8h1v1h-1zM471.4 217.6h1v1h-1zM445.3 232.6h1v1h-1zM472.0 208.1h1v1h-1zM465.8 215.1h1v1h-1zM475.3 211.3h1v1h-1zM443.9 231.2h1v1h-1zM463.3 212.5h1v1h-1zM448.2 233.3h1v1h-1zM474.9 212.6h1v1h-1zM464.5 215.5h1v1h-1zM444.9 231.0h1v1h-1zM465.5 219.6h1v1h-1zM476.2 200.4h1v1h-1zM476.4 200.4h1v1h-1zM453.9 226.8h1v1h-1zM452.7 224.9h1v1h-1zM458.3 214.6h1v1h-1zM467.7 209.4h1v1h-1zM465.3 216.9h1v1h-1zM460.3 217.8h1v1h-1zM455.7 219.5h1v1h-1zM473.9 215.8h1v1h-1zM469.2 209.7h1v1h-1zM465.8 223.1h1v1h-1zM464.1 223.6h1v1h-1zM444.3 223.2h1v1h-1zM442.5 231.4h1v1h-1zM454.5 226.7h1v1h-1zM445.9 224.3h1v1h-1zM441.0 225.2h1v1h-1zM469.1 215.7h1v1h-1zM464.0 223.8h1v1h-1zM440.9 224.7h1v1h-1zM471.0 213.1h1v1h-1zM473.0 206.6h1v1h-1zM439.2 230.2h1v1h-1zM440.2 232.9h1v1h-1zM458.0 223.1h1v1h-1zM461.3 215.2h1v1h-1zM469.7 203.3h1v1h-1zM452.1 218.8h1v1h-1zM475.1 214.4h1v1h-1zM470.9 215.9h1v1h-1zM448.6 229.8h1v1h-1zM467.3 206.5h1v1h-1zM460.1 211.6h1v1h-1zM454.1 224.7h1v1h-1zM476.5 203.3h1v1h-1zM447.4 225.5h1v1h-1zM467.2 210.7h1v1h-1zM472.0 199.8h1v1h-1zM438.1 231.7h1v1h-1zM440.4 227.3h1v1h-1zM466.2 212.5h1v1h-1zM464.5 211.5h1v1h-1zM471.9 213.8h1v1h-1zM475.1 202.9h1v1h-1zM464.1 206.8h1v1h-1zM452.0 222.7h1v1h-1zM470.0 200.2h1v1h-1zM451.1 231.2h1v1h-1zM452.4 220.7h1v1h-1zM470.0 210.7h1v1h-1zM456.3 226.8h1v1h-1zM469.9 208.1h1v1h-1zM463.7 208.6h1v1h-1zM462.1 222.1h1v1h-1zM446.2 229.7h1v1h-1zM453.0 223.5h1v1h-1zM466.8 222.2h1v1h-1zM457.8 218.1h1v1h-1zM471.8 208.3h1v1h-1zM470.0 209.0h1v1h-1zM480.5 210.2h.9v.9h-.9zM467.5 204.3h1v1h-1zM444.6 229.0h1v1h-1zM437.7 231.3h1v1h-1zM469.1 214.9h1v1h-1zM478.5 200.4h1v1h-1zM456.7 226.2h1v1h-1zM450.3 230.2h1v1h-1zM443.1 226.9h1v1h-1zM455.3 225.2h1v1h-1zM476.1 203.4h1v1h-1zM474.6 217.5h1v1h-1zM457.2 227.7h1v1h-1zM469.1 205.8h1v1h-1zM454.5 229.4h1v1h-1zM464.1 216.2h1v1h-1zM450.1 230.3h1v1h-1zM464.9 207.1h1v1h-1zM445.4 233.2h1v1h-1zM465.6 222.5h1v1h-1zM462.6 212.7h1v1h-1zM469.0 225.1h.9v.9h-.9zM461.2 213.8h1v1h-1zM463.1 217.6h1v1h-1zM471.0 214.9h1v1h-1zM478.8 205.4h1v1h-1zM476.8 212.4h1v1h-1zM460.3 215.4h1v1h-1zM457.0 214.4h1v1h-1zM442.1 224.7h1v1h-1zM478.0 200.7h1v1h-1zM438.9 230.2h1v1h-1zM462.6 224.7h1v1h-1zM453.4 219.5h1v1h-1zM475.4 205.0h1v1h-1zM474.3 216.9h1v1h-1zM475.3 202.0h1v1h-1zM471.9 202.4h1v1h-1zM467.8 220.7h1v1h-1zM460.6 224.3h1v1h-1zM463.0 219.9h1v1h-1zM440.5 232.9h1v1h-1zM463.4 223.2h1v1h-1zM478.7 200.3h1v1h-1zM454.8 217.8h1v1h-1zM463.4 218.3h1v1h-1zM442.8 233.0h1v1h-1zM456.0 223.5h1v1h-1zM462.9 208.9h1v1h-1zM472.5 205.9h1v1h-1zM456.6 216.6h1v1h-1zM478.9 210.3h1v1h-1zM469.5 210.4h1v1h-1zM458.0 212.1h1v1h-1zM459.8 223.5h1v1h-1zM474.0 215.9h1v1h-1zM455.8 224.5h1v1h-1zM474.5 201.4h1v1h-1zM457.8 219.8h1v1h-1zM468.1 203.2h1v1h-1zM460.4 221.6h1v1h-1zM467.9 216.2h1v1h-1zM458.5 226.7h1v1h-1zM466.9 215.3h1v1h-1zM461.0 211.1h1v1h-1zM466.7 204.2h1v1h-1zM464.7 211.7h1v1h-1zM456.7 225.2h1v1h-1zM470.9 201.0h1v1h-1zM457.2 213.0h1v1h-1zM450.8 219.6h1v1h-1zM454.8 217.8h1v1h-1zM440.5 234.1h.9v.9h-.9zM468.5 205.4h1v1h-1zM449.5 228.6h1v1h-1zM458.8 222.3h1v1h-1zM471.4 217.2h1v1h-1zM447.5 223.0h1v1h-1zM464.2 212.2h1v1h-1zM441.3 227.9h1v1h-1zM457.4 223.3h1v1h-1zM460.9 222.7h1v1h-1zM460.4 214.2h1v1h-1zM474.0 214.4h1v1h-1zM469.0 209.7h1v1h-1zM468.9 205.6h1v1h-1zM470.2 207.7h1v1h-1zM440.8 233.1h1v1h-1zM463.6 216.2h1v1h-1zM449.0 224.4h1v1h-1zM452.6 228.3h1v1h-1zM467.3 207.8h1v1h-1zM459.4 223.5h1v1h-1zM465.1 223.6h1v1h-1zM446.8 227.1h1v1h-1zM466.4 208.0h1v1h-1zM442.0 228.6h1v1h-1zM476.8 207.4h1v1h-1zM465.8 218.1h1v1h-1zM441.7 227.3h1v1h-1zM453.7 218.9h1v1h-1zM472.6 203.0h1v1h-1zM455.5 218.8h1v1h-1zM472.8 200.3h1v1h-1zM473.7 203.5h1v1h-1zM443.8 232.2h1v1h-1zM479.1 205.8h1v1h-1zM461.3 218.0h1v1h-1zM462.5 220.8h1v1h-1zM465.8 209.4h1v1h-1zM443.6 229.8h1v1h-1zM469.6 214.5h1v1h-1zM476.2 216.8h.9v.9h-.9zM448.0 229.7h1v1h-1zM469.1 204.7h1v1h-1zM476.3 209.6h1v1h-1zM455.8 225.1h1v1h-1zM455.4 222.4h1v1h-1zM468.3 220.0h1v1h-1zM466.0 204.2h1v1h-1zM474.9 205.1h1v1h-1zM470.1 220.7h1v1h-1zM444.9 228.1h1v1h-1zM468.1 215.2h1v1h-1zM469.3 205.4h1v1h-1zM456.4 223.8h1v1h-1zM474.2 208.5h1v1h-1zM454.0 218.6h1v1h-1zM441.5 231.9h1v1h-1zM452.0 220.7h1v1h-1zM450.5 222.6h1v1h-1zM457.2 221.7h1v1h-1zM467.0 208.4h1v1h-1zM451.2 221.5h1v1h-1zM464.8 223.6h1v1h-1zM463.4 209.6h1v1h-1zM451.4 229.6h1v1h-1zM444.6 225.5h1v1h-1zM475.8 215.6h1v1h-1zM468.8 204.2h1v1h-1zM456.9 225.7h1v1h-1zM476.1 199.5h1v1h-1zM459.9 219.0h1v1h-1zM458.8 213.9h1v1h-1zM473.3 213.3h1v1h-1zM480.0 203.1h1v1h-1zM469.1 212.5h1v1h-1zM468.8 210.3h1v1h-1zM439.0 228.3h1v1h-1zM466.7 208.8h1v1h-1zM441.2 227.6h1v1h-1zM477.3 198.4h1v1h-1zM462.4 208.4h1v1h-1zM466.6 204.2h1v1h-1zM453.6 224.6h1v1h-1zM478.4 202.4h1v1h-1zM467.6 212.8h1v1h-1zM459.7 219.0h1v1h-1zM475.0 210.8h1v1h-1zM469.6 205.4h1v1h-1zM444.9 231.7h1v1h-1zM441.0 229.3h1v1h-1zM460.0 214.6h1v1h-1zM473.2 199.9h1v1h-1zM470.6 201.4h1v1h-1zM460.8 205.8h.9v.9h-.9zM475.1 197.7h.9v.9h-.9zM471.4 209.7h1v1h-1zM466.8 225.2h.9v.9h-.9zM472.2 209.1h1v1h-1zM447.8 230.7h1v1h-1zM445.9 233.0h1v1h-1zM472.8 216.9h1v1h-1zM468.5 221.5h1v1h-1zM445.7 222.1h1v1h-1zM451.4 231.3h1v1h-1zM445.8 222.3h1v1h-1zM468.1 214.0h1v1h-1zM469.9 213.7h1v1h-1zM443.5 224.7h1v1h-1zM459.6 211.4h1v1h-1zM465.9 221.4h1v1h-1zM438.9 229.2h1v1h-1zM451.6 230.9h1v1h-1zM450.2 222.4h1v1h-1zM437.2 228.4h.9v.9h-.9zM460.0 221.9h1v1h-1zM448.2 223.8h1v1h-1zM470.9 207.6h1v1h-1zM450.5 220.2h1v1h-1zM466.3 219.5h1v1h-1zM457.5 225.7h1v1h-1zM466.6 205.7h1v1h-1zM473.9 210.1h1v1h-1zM465.5 209.7h1v1h-1zM446.7 226.5h1v1h-1zM473.2 199.8h1v1h-1zM470.7 212.4h1v1h-1zM465.6 204.1h1v1h-1zM470.8 206.8h1v1h-1zM470.6 204.3h1v1h-1zM473.5 200.8h1v1h-1zM454.8 218.1h1v1h-1zM468.7 221.6h1v1h-1zM440.5 227.6h1v1h-1zM473.7 212.8h1v1h-1zM464.6 209.1h1v1h-1zM477.1 199.8h1v1h-1zM467.5 215.2h1v1h-1zM462.4 220.0h1v1h-1zM464.3 213.3h1v1h-1zM438.8 229.5h1v1h-1zM450.0 227.7h1v1h-1zM473.2 214.6h1v1h-1zM459.4 227.2h1v1h-1zM457.9 223.2h1v1h-1zM464.6 211.9h1v1h-1zM441.3 232.2h1v1h-1zM469.5 207.2h1v1h-1zM464.0 207.8h1v1h-1zM448.6 232.0h1v1h-1zM468.7 203.0h1v1h-1zM468.0 214.1h1v1h-1zM466.3 206.0h1v1h-1zM455.7 216.7h1v1h-1zM472.2 202.5h1v1h-1zM445.5 223.3h1v1h-1zM459.3 211.8h1v1h-1zM452.2 228.5h1v1h-1zM470.9 206.5h1v1h-1zM440.9 230.5h1v1h-1zM461.0 220.0h1v1h-1zM478.4 212.8h.9v.9h-.9zM463.4 218.9h1v1h-1zM440.4 230.6h1v1h-1zM468.5 204.8h1v1h-1zM471.7 216.0h1v1h-1zM441.3 229.4h1v1h-1zM460.0 211.9h1v1h-1zM451.3 226.4h1v1h-1zM451.7 231.4h1v1h-1zM462.8 212.7h1v1h-1zM445.9 224.1h1v1h-1zM479.2 207.5h1v1h-1zM446.5 221.5h1v1h-1zM458.8 216.5h1v1h-1zM473.1 199.0h.9v.9h-.9zM443.5 224.8h1v1h-1zM479.6 208.0h1v1h-1zM460.7 218.2h1v1h-1zM444.9 229.9h1v1h-1zM454.4 229.2h1v1h-1zM449.6 228.8h1v1h-1zM438.3 232.3h1v1h-1zM459.2 215.1h1v1h-1zM455.4 228.7h1v1h-1zM452.9 226.7h1v1h-1zM454.9 217.5h1v1h-1zM438.8 234.0h.9v.9h-.9zM472.0 205.0h1v1h-1zM439.0 232.1h1v1h-1zM442.3 225.1h1v1h-1zM476.8 198.7h1v1h-1zM454.2 218.7h1v1h-1zM457.0 215.7h1v1h-1zM461.6 219.6h1v1h-1zM478.5 200.4h1v1h-1zM477.0 204.8h1v1h-1zM451.9 219.2h1v1h-1z" fill="#000"/>
<path d="M438.5 334.5h1v1h-1zM454.1 317.5h1v1h-1zM457.5 308.6h1v1h-1zM439.8 319.0h.9v.9h-.9zM453.4 315.7h1v1h-1zM449.1 314.1h1v1h-1zM443.1 327.5h1v1h-1zM455.6 315.0h1v1h-1zM438.9 332.8h1v1h-1zM454.2 307.1h1v1h-1zM454.1 323.7h1v1h-1zM450.3 322.8h1v1h-1zM451.8 326.8h1v1h-1zM455.8 318.9h1v1h-1zM456.1 323.0h1v1h-1zM456.9 322.2h.9v.9h-.9zM438.6 325.0h1v1h-1zM448.0 313.4h1v1h-1zM447.9 338.1h1v1h-1zM450.4 320.8h1v1h-1zM443.9 325.1h1v1h-1zM444.3 334.9h1v1h-1zM457.4 313.9h1v1h-1zM450.0 329.2h1v1h-1zM448.3 329.0h1v1h-1zM449.0 308.5h.9v.9h-.9zM444.4 326.6h1v1h-1zM444.3 328.9h1v1h-1zM441.6 325.2h1v1h-1zM443.1 317.5h1v1h-1zM450.4 323.7h1v1h-1zM444.3 331.9h1v1h-1zM445.0 340.7h.9v.9h-.9zM440.3 319.2h1v1h-1zM446.6 322.7h1v1h-1zM445.1 322.7h1v1h-1zM447.7 317.4h1v1h-1zM451.3 308.4h1v1h-1zM457.5 307.8h1v1h-1zM439.7 325.1h1v1h-1zM444.2 317.2h1v1h-1zM454.9 312.6h1v1h-1zM455.6 305.1h.9v.9h-.9zM449.4 310.1h1v1h-1zM448.9 331.1h1v1h-1zM448.8 337.8h1v1h-1zM459.3 313.0h.9v.9h-.9zM450.3 330.7h1v1h-1zM452.1 332.9h1v1h-1zM442.1 337.8h1v1h-1zM447.1 313.1h1v1h-1zM445.5 339.1h1v1h-1zM454.4 319.6h1v1h-1zM441.2 340.3h1v1h-1zM449.2 332.7h1v1h-1zM446.1 338.0h1v1h-1zM451.0 324.3h1v1h-1zM452.8 328.3h1v1h-1zM435.6 330.5h1v1h-1zM454.2 330.0h.9v.9h-.9zM441.1 337.6h1v1h-1zM452.2 327.7h1v1h-1zM449.7 325.4h1v1h-1zM456.3 317.5h1v1h-1zM448.0 336.2h1v1h-1zM445.3 314.5h1v1h-1zM443.3 326.9h1v1h-1zM441.3 323.9h1v1h-1zM435.1 327.3h.9v.9h-.9zM448.4 322.6h1v1h-1zM444.7 334.9h1v1h-1zM453.5 326.2h1v1h-1zM446.1 324.2h1v1h-1zM454.5 313.6h1v1h-1zM443.3 325.3h1v1h-1zM444.7 326.6h1v1h-1zM437.7 330.2h1v1h-1zM454.6 305.1h.9v.9h-.9zM442.3 332.9h1v1h-1zM451.9 312.6h1v1h-1zM452.4 333.1h1v1h-1zM436.9 326.1h1v1h-1zM456.4 317.0h1v1h-1zM446.1 332.5h1v1h-1zM447.9 327.6h1v1h-1zM453.3 315.4h1v1h-1zM438.9 339.7h.9v.9h-.9zM454.9 324.1h1v1h-1zM439.3 321.8h1v1h-1zM440.2 334.1h1v1h-1zM444.0 332.9h1v1h-1zM440.8 334.8h1v1h-1zM446.6 327.1h1v1h-1zM441.8 332.4h1v1h-1zM444.3 318.4h1v1h-1zM436.5 329.0h1v1h-1zM441.7 337.8h1v1h-1zM438.6 329.0h1v1h-1zM456.5 306.2h.9v.9h-.9zM439.7 325.8h1v1h-1zM436.9 337.2h1v1h-1zM441.4 332.2h1v1h-1zM455.7 316.9h1v1h-1zM441.5 333.5h1v1h-1zM447.8 323.2h1v1h-1zM449.1 328.0h1v1h-1zM447.0 338.2h1v1h-1zM446.0 313.1h1v1h-1zM444.8 333.1h1v1h-1zM451.4 317.0h1v1h-1zM437.1 332.8h1v1h-1zM450.7 328.7h1v1h-1zM446.9 329.4h1v1h-1zM439.4 336.1h1v1h-1zM456.4 326.7h.9v.9h-.9zM450.0 314.4h1v1h-1zM442.4 327.4h1v1h-1zM452.2 318.4h1v1h-1zM453.9 310.8h1v1h-1zM449.8 333.3h1v1h-1zM446.8 322.4h1v1h-1zM457.4 321.8h.9v.9h-.9zM438.4 329.1h1v1h-1zM449.0 325.5h1v1h-1zM445.1 328.2h1v1h-1zM456.8 315.8h1v1h-1zM436.9 334.0h1v1h-1zM446.0 336.6h1v1h-1zM444.9 335.8h1v1h-1zM438.6 335.9h1v1h-1zM452.2 318.4h1v1h-1zM444.5 325.4h1v1h-1zM447.9 310.5h.9v.9h-.9zM441.8 320.7h1v1h-1zM457.6 308.2h1v1h-1zM446.6 312.5h1v1h-1zM445.8 327.1h1v1h-1zM444.8 329.2h1v1h-1zM442.2 326.9h1v1h-1zM448.6 317.3h1v1h-1zM452.6 316.1h1v1h-1zM445.2 327.4h1v1h-1zM438.9 334.5h1v1h-1zM438.8 327.1h1v1h-1zM453.6 314.6h1v1h-1zM436.6 335.8h1v1h-1zM455.1 308.5h1v1h-1zM446.2 333.4h1v1h-1zM455.2 322.7h1v1h-1zM445.6 316.5h1v1h-1zM444.8 328.9h1v1h-1zM438.8 332.7h1v1h-1zM438.9 329.5h1v1h-1zM450.6 313.5h1v1h-1zM455.4 320.0h1v1h-1zM446.3 333.2h1v1h-1zM437.6 326.5h1v1h-1zM457.6 311.1h1v1h-1zM440.6 331.3h1v1h-1zM444.6 328.9h1v1h-1zM435.7 333.9h1v1h-1zM442.3 341.2h.9v.9h-.9zM445.1 329.8h1v1h-1zM453.3 314.7h1v1h-1zM451.2 326.1h1v1h-1zM455.9 306.8h1v1h-1zM446.8 316.3h1v1h-1zM444.3 320.0h1v1h-1zM439.0 325.6h1v1h-1zM442.3 322.7h1v1h-1zM440.5 329.3h1v1h-1zM437.4 336.5h1v1h-1zM447.6 309.9h.9v.9h-.9zM446.8 320.2h1v1h-1zM449.5 314.4h1v1h-1zM454.2 316.0h1v1h-1zM442.0 320.9h1v1h-1zM453.3 314.2h1v1h-1zM448.4 323.6h1v1h-1zM457.2 318.5h1v1h-1zM437.2 326.5h1v1h-1zM439.6 329.5h1v1h-1zM455.3 316.3h1v1h-1zM447.3 326.2h1v1h-1zM453.4 327.2h1v1h-1zM446.5 313.9h1v1h-1zM455.9 325.0h.9v.9h-.9zM446.9 327.5h1v1h-1zM451.5 333.2h1v1h-1zM441.7 333.7h1v1h-1zM457.3 305.7h.9v.9h-.9zM451.8 332.4h1v1h-1zM449.9 319.8h1v1h-1zM447.2 333.7h1v1h-1zM442.9 335.2h1v1h-1zM437.4 325.5h1v1h-1zM439.6 333.2h1v1h-1zM455.7 309.8h1v1h-1zM437.0 329.0h1v1h-1zM449.7 309.3h1v1h-1zM440.3 327.1h1v1h-1zM458.4 321.3h.9v.9h-.9zM442.1 318.9h1v1h-1zM448.5 315.3h1v1h-1zM443.7 329.5h1v1h-1zM454.7 323.5h1v1h-1zM451.4 317.2h1v1h-1zM440.5 334.4h1v1h-1zM454.2 328.9h1v1h-1zM438.6 324.7h1v1h-1zM445.3 313.4h1v1h-1zM451.1 328.8h1v1h-1zM441.9 324.1h1v1h-1zM456.2 307.6h1v1h-1zM447.7 312.1h1v1h-1zM453.6 331.1h1v1h-1zM451.4 317.7h1v1h-1zM446.0 311.3h.9v.9h-.9zM440.0 335.3h1v1h-1zM449.8 315.9h1v1h-1zM437.9 337.0h1v1h-1zM440.8 337.1h1v1h-1zM456.5 312.0h1v1h-1zM454.8 313.4h1v1h-1zM453.2 328.8h1v1h-1zM437.5 336.2h1v1h-1zM444.1 324.0h1v1h-1zM453.0 324.5h1v1h-1zM456.2 317.9h1v1h-1zM437.4 332.2h1v1h-1zM443.9 322.6h1v1h-1zM451.5 314.6h1v1h-1zM449.4 311.2h1v1h-1zM445.2 328.6h1v1h-1zM451.9 312.9h1v1h-1zM441.4 325.2h1v1h-1zM440.7 329.6h1v1h-1zM450.8 321.9h1v1h-1zM439.7 339.8h1v1h-1zM443.7 338.4h1v1h-1zM444.5 333.1h1v1h-1zM445.3 328.2h1v1h-1zM450.0 325.5h1v1h-1zM454.2 308.1h1v1h-1zM445.9 328.0h1v1h-1zM452.0 311.9h1v1h-1zM444.9 330.0h1v1h-1zM449.2 324.2h1v1h-1zM448.7 331.5h1v1h-1zM442.5 320.8h1v1h-1zM450.4 332.2h1v1h-1zM454.8 315.5h1v1h-1zM450.1 309.0h.9v.9h-.9zM451.9 330.5h1v1h-1zM451.2 322.1h1v1h-1zM446.1 333.3h1v1h-1zM442.9 338.4h1v1h-1zM445.7 335.9h1v1h-1zM449.0 336.4h1v1h-1zM449.4 327.4h1v1h-1zM451.5 316.7h1v1h-1zM451.5 310.8h1v1h-1zM456.5 326.9h.9v.9h-.9zM443.9 335.3h1v1h-1zM445.8 322.9h1v1h-1zM449.9 324.9h1v1h-1zM449.3 324.9h1v1h-1zM442.1 334.2h1v1h-1zM445.8 325.0h1v1h-1zM447.5 311.3h1v1h-1zM448.8 317.9h1v1h-1zM455.1 327.3h1v1h-1zM448.6 335.7h1v1h-1zM447.4 318.0h1v1h-1zM441.8 326.7h1v1h-1zM448.2 326.9h1v1h-1zM456.5 309.9h1v1h-1zM451.0 324.9h1v1h-1zM445.0 333.9h1v1h-1zM454.0 316.7h1v1h-1zM446.3 331.7h1v1h-1zM450.0 309.8h1v1h-1zM450.8 332.9h1v1h-1zM457.7 311.7h1v1h-1zM447.8 327.3h1v1h-1zM449.5 337.4h1v1h-1zM446.3 323.6h1v1h-1zM440.9 321.5h1v1h-1zM448.9 314.7h1v1h-1zM448.0 337.0h1v1h-1zM441.7 339.3h1v1h-1zM443.1 321.1h1v1h-1zM442.0 314.9h.9v.9h-.9zM447.7 312.6h1v1h-1zM438.2 325.9h1v1h-1zM444.0 340.3h1v1h-1zM456.4 312.4h1v1h-1zM454.5 307.9h1v1h-1zM445.9 337.5h1v1h-1zM457.7 307.7h.9v.9h-.9zM446.9 337.9h1v1h-1zM440.9 319.2h1v1h-1zM445.2 319.3h1v1h-1zM445.0 333.7h1v1h-1zM440.4 337.4h1v1h-1zM449.8 309.5h1v1h-1zM453.9 324.6h1v1h-1zM447.6 328.5h1v1h-1zM449.5 325.4h1v1h-1zM456.6 325.0h.9v.9h-.9zM448.6 324.1h1v1h-1zM449.2 327.4h1v1h-1zM449.8 322.1h1v1h-1zM446.4 337.4h1v1h-1zM448.7 336.8h1v1h-1zM443.4 318.0h1v1h-1zM446.5 327.9h1v1h-1zM438.2 328.1h1v1h-1zM437.6 334.8h1v1h-1zM447.9 317.2h1v1h-1zM444.2 331.1h1v1h-1zM449.8 317.3h1v1h-1zM445.5 319.7h1v1h-1zM441.9 335.1h1v1h-1zM445.6 315.2h1v1h-1zM445.4 319.1h1v1h-1zM454.3 323.0h1v1h-1zM445.4 336.6h1v1h-1zM450.8 330.1h1v1h-1zM454.5 321.9h1v1h-1zM442.1 319.1h1v1h-1zM445.5 317.9h1v1h-1zM441.9 329.5h1v1h-1zM446.9 332.4h1v1h-1zM453.7 324.5h1v1h-1zM435.9 334.3h1v1h-1zM440.9 323.3h1v1h-1zM437.9 322.8h1v1h-1zM454.6 321.9h1v1h-1zM449.9 334.0h1v1h-1zM450.3 322.4h1v1h-1zM445.1 322.8h1v1h-1zM438.4 337.5h1v1h-1zM437.5 326.3h1v1h-1zM446.6 326.2h1v1h-1zM445.3 320.5h1v1h-1zM451.9 308.1h1v1h-1zM445.8 310.7h.9v.9h-.9zM449.0 334.1h1v1h-1zM447.0 333.2h1v1h-1zM447.4 315.2h1v1h-1zM443.0 321.1h1v1h-1zM446.2 333.0h1v1h-1zM440.0 325.7h1v1h-1zM440.2 321.6h1v1h-1zM442.4 333.3h1v1h-1zM449.5 322.6h1v1h-1zM439.2 321.1h1v1h-1zM442.8 329.4h1v1h-1zM447.4 322.7h1v1h-1zM444.6 335.7h1v1h-1zM447.8 333.3h1v1h-1zM436.4 328.3h1v1h-1zM440.0 327.6h1v1h-1zM444.8 328.4h1v1h-1zM443.8 336.3h1v1h-1zM437.2 333.4h1v1h-1zM435.9 332.0h1v1h-1zM443.9 316.5h1v1h-1zM455.7 324.2h1v1h-1zM443.9 318.9h1v1h-1zM436.5 325.4h.9v.9h-.9zM438.1 335.8h1v1h-1zM450.3 335.8h1v1h-1zM441.1 326.5h1v1h-1zM449.1 311.6h1v1h-1zM455.3 311.6h1v1h-1zM446.7 319.0h1v1h-1zM443.9 315.3h1v1h-1zM440.6 323.2h1v1h-1zM445.6 333.3h1v1h-1zM439.9 338.0h1v1h-1zM447.2 337.5h1v1h-1zM448.7 329.1h1v1h-1zM446.9 323.3h1v1h-1zM442.7 326.8h1v1h-1zM443.2 331.0h1v1h-1zM444.3 333.6h1v1h-1zM439.7 330.3h1v1h-1zM446.7 338.2h1v1h-1zM448.1 314.8h1v1h-1zM446.4 318.7h1v1h-1zM450.1 333.9h1v1h-1zM434.6 331.1h.9v.9h-.9zM437.1 321.6h.9v.9h-.9zM438.4 332.1h1v1h-1zM453.7 309.1h1v1h-1zM445.4 327.5h1v1h-1zM449.6 331.9h1v1h-1zM452.2 310.7h1v1h-1zM437.0 325.4h1v1h-1zM449.5 313.1h1v1h-1zM457.4 321.6h.9v.9h-.9zM449.0 334.8h1v1h-1zM443.0 335.5h1v1h-1zM456.8 320.0h1v1h-1zM454.7 308.3h1v1h-1zM454.2 315.0h1v1h-1zM443.6 340.7h1v1h-1zM436.6 328.8h1v1h-1zM452.1 324.8h1v1h-1zM438.4 318.5h.9v.9h-.9zM443.2 334.8h1v1h-1zM451.4 317.3h1v1h-1zM449.1 314.8h1v1h-1zM447.5 335.1h1v1h-1zM448.1 338.3h1v1h-1zM446.2 323.9h1v1h-1zM438.5 337.0h1v1h-1zM445.3 322.0h1v1h-1zM455.2 326.2h1v1h-1zM444.1 331.1h1v1h-1zM441.2 329.4h1v1h-1zM445.3 330.6h1v1h-1zM440.1 332.0h1v1h-1zM453.8 326.1h1v1h-1zM450.4 323.8h1v1h-1zM443.6 327.0h1v1h-1zM457.0 317.8h1v1h-1zM457.3 308.1h1v1h-1zM444.8 332.2h1v1h-1zM459.3 312.5h.9v.9h-.9zM450.2 324.6h1v1h-1zM440.5 321.4h1v1h-1zM453.3 326.9h1v1h-1zM436.3 332.4h1v1h-1zM456.6 308.6h1v1h-1zM444.7 319.1h1v1h-1zM454.3 325.4h1v1h-1zM442.7 319.8h1v1h-1zM443.3 334.2h1v1h-1zM444.2 340.0h1v1h-1zM446.5 318.0h1v1h-1zM441.4 333.9h1v1h-1zM437.8 329.9h1v1h-1zM445.3 338.3h1v1h-1zM453.8 309.6h1v1h-1zM443.8 329.4h1v1h-1zM442.7 330.4h1v1h-1zM442.8 322.2h1v1h-1zM445.0 314.2h1v1h-1zM447.7 337.5h1v1h-1zM443.0 315.9h1v1h-1zM451.3 314.3h1v1h-1zM448.8 337.4h1v1h-1zM448.5 339.2h.9v.9h-.9zM442.2 334.1h1v1h-1zM442.7 326.1h1v1h-1zM457.3 317.7h1v1h-1zM448.5 328.4h1v1h-1zM439.5 320.8h1v1h-1zM452.5 323.8h1v1h-1zM451.8 335.2h.9v.9h-.9zM444.0 337.3h1v1h-1zM456.4 317.7h1v1h-1zM445.0 333.6h1v1h-1zM439.5 322.9h1v1h-1zM446.2 335.4h1v1h-1zM436.9 325.5h1v1h-1zM459.3 317.4h.9v.9h-.9zM454.0 328.2h1v1h-1zM443.4 319.3h1v1h-1zM451.5 323.6h1v1h-1zM443.1 332.6h1v1h-1zM443.8 338.5h1v1h-1zM455.7 310.8h1v1h-1zM444.7 318.2h1v1h-1zM439.0 329.4h1v1h-1zM449.1 315.9h1v1h-1zM443.1 332.8h1v1h-1zM446.2 325.7h1v1h-1zM439.0 330.2h1v1h-1zM450.5 320.4h1v1h-1zM446.7 333.1h1v1h-1zM447.9 331.6h1v1h-1zM450.8 329.8h1v1h-1zM441.8 323.8h1v1h-1zM448.7 336.4h1v1h-1zM452.4 318.5h1v1h-1zM456.3 311.8h1v1h-1zM445.0 328.5h1v1h-1zM449.1 323.5h1v1h-1zM449.7 324.6h1v1h-1zM436.4 325.5h.9v.9h-.9zM438.6 329.8h1v1h-1zM457.6 308.2h1v1h-1zM437.6 329.4h1v1h-1zM447.2 334.8h1v1h-1zM445.9 313.4h1v1h-1zM454.3 327.7h1v1h-1zM443.3 328.0h1v1h-1zM445.2 335.5h1v1h-1zM448.7 324.3h1v1h-1zM441.5 319.4h1v1h-1zM440.5 334.5h1v1h-1zM443.3 331.7h1v1h-1zM449.5 324.3h1v1h-1zM442.7 324.2h1v1h-1zM452.0 322.5h1v1h-1zM454.1 330.0h1v1h-1zM454.3 308.9h1v1h-1zM456.7 313.9h1v1h-1zM441.1 320.7h1v1h-1zM451.2 312.4h1v1h-1zM459.1 311.7h.9v.9h-.9zM457.5 325.0h.9v.9h-.9zM451.2 330.7h1v1h-1zM451.8 323.2h1v1h-1zM441.1 327.5h1v1h-1zM445.6 329.6h1v1h-1zM448.4 318.6h1v1h-1zM445.0 335.5h1v1h-1zM457.2 309.2h1v1h-1zM456.6 319.6h1v1h-1zM451.3 327.9h1v1h-1zM456.3 311.9h1v1h-1zM449.7 317.5h1v1h-1zM456.4 321.4h1v1h-1zM450.9 328.7h1v1h-1zM439.8 328.6h1v1h-1zM434.6 335.6h.9v.9h-.9zM455.9 315.1h1v1h-1zM445.4 336.4h1v1h-1zM447.6 339.2h1v1h-1zM438.5 323.9h1v1h-1zM448.7 332.4h1v1h-1zM443.6 327.4h1v1h-1zM438.6 334.1h1v1h-1zM436.8 336.3h1v1h-1zM452.5 319.3h1v1h-1zM441.9 322.2h1v1h-1zM443.5 336.7h1v1h-1zM441.1 326.4h1v1h-1zM444.3 340.9h1v1h-1zM440.7 338.7h1v1h-1zM449.1 317.2h1v1h-1zM449.1 327.7h1v1h-1zM440.2 327.1h1v1h-1zM435.3 331.5h1v1h-1zM452.6 320.8h1v1h-1zM440.0 335.5h1v1h-1zM448.1 330.4h1v1h-1zM447.6 335.7h1v1h-1zM447.4 329.8h1v1h-1zM438.4 331.8h1v1h-1zM457.0 315.6h1v1h-1zM440.4 324.9h1v1h-1zM437.5 337.6h1v1h-1zM451.4 321.9h1v1h-1zM438.8 322.7h1v1h-1zM448.1 333.1h1v1h-1zM451.8 323.2h1v1h-1zM450.2 336.5h1v1h-1zM450.0 324.4h1v1h-1zM445.3 338.6h1v1h-1zM456.0 318.8h1v1h-1zM448.6 330.6h1v1h-1zM453.3 315.1h1v1h-1zM443.2 341.2h.9v.9h-.9zM449.4 330.9h1v1h-1zM444.5 316.0h1v1h-1zM442.5 336.2h1v1h-1zM455.6 322.4h1v1h-1zM447.6 312.5h1v1h-1zM435.1 327.5h.9v.9h-.9zM448.0 329.6h1v1h-1zM433.8 329.1h.9v.9h-.9zM448.8 328.6h1v1h-1zM456.0 322.9h1v1h-1zM442.6 336.1h1v1h-1zM450.8 330.5h1v1h-1zM442.9 332.8h1v1h-1zM442.8 329.7h1v1h-1zM443.2 329.1h1v1h-1zM448.4 331.7h1v1h-1zM451.7 330.1h1v1h-1zM449.7 322.8h1v1h-1zM451.3 318.4h1v1h-1zM449.9 310.2h1v1h-1zM451.1 317.7h1v1h-1zM449.3 325.9h1v1h-1zM442.8 319.6h1v1h-1zM453.4 310.2h1v1h-1zM447.4 321.5h1v1h-1zM439.0 329.4h1v1h-1zM453.8 317.4h1v1h-1zM436.5 330.8h1v1h-1zM437.4 335.2h1v1h-1zM442.8 327.0h1v1h-1zM454.7 308.5h1v1h-1zM437.1 337.7h.9v.9h-.9zM436.1 332.7h1v1h-1zM454.1 323.6h1v1h-1zM449.4 324.2h1v1h-1zM450.7 317.5h1v1h-1zM444.3 318.4h1v1h-1zM456.9 320.6h1v1h-1zM457.2 308.0h1v1h-1zM445.1 329.5h1v1h-1zM456.1 322.5h1v1h-1zM446.9 332.1h1v1h-1zM458.3 309.6h.9v.9h-.9zM452.2 319.2h1v1h-1zM440.0 332.0h1v1h-1zM445.9 315.6h1v1h-1zM451.2 330.2h1v1h-1zM447.3 319.3h1v1h-1zM453.8 307.9h1v1h-1zM445.9 338.3h1v1h-1zM456.0 317.9h1v1h-1zM448.1 335.3h1v1h-1zM449.0 322.8h1v1h-1zM445.5 326.1h1v1h-1zM440.2 326.6h1v1h-1zM451.6 321.6h1v1h-1zM439.2 338.5h1v1h-1zM456.0 323.5h1v1h-1zM436.7 327.2h1v1h-1zM439.9 337.5h1v1h-1zM457.3 319.0h1v1h-1zM450.0 323.3h1v1h-1zM439.6 335.6h1v1h-1zM455.6 323.6h1v1h-1zM456.0 310.0h1v1h-1zM449.4 336.9h1v1h-1zM452.2 331.5h1v1h-1zM449.7 317.2h1v1h-1zM443.8 322.4h1v1h-1zM445.8 319.6h1v1h-1zM438.2 338.7h1v1h-1zM453.7 322.8h1v1h-1zM442.4 322.9h1v1h-1zM457.2 311.2h1v1h-1zM449.7 322.6h1v1h-1zM448.9 331.8h1v1h-1zM454.5 313.5h1v1h-1zM450.7 317.7h1v1h-1zM447.9 334.5h1v1h-1zM441.6 333.5h1v1h-1zM452.6 329.7h1v1h-1zM441.9 339.7h1v1h-1zM434.3 331.6h.9v.9h-.9zM453.2 318.7h1v1h-1zM447.1 330.1h1v1h-1zM447.7 334.6h1v1h-1zM447.2 336.5h1v1h-1zM444.8 329.7h1v1h-1zM446.6 339.5h1v1h-1zM444.4 336.1h1v1h-1zM456.4 316.8h1v1h-1zM435.6 327.3h.9v.9h-.9zM443.5 323.4h1v1h-1zM454.2 307.4h1v1h-1zM445.9 330.8h1v1h-1zM454.0 327.0h1v1h-1zM443.6 319.9h1v1h-1zM448.1 338.5h1v1h-1zM452.9 321.9h1v1h-1zM450.2 322.0h1v1h-1zM440.6 321.8h1v1h-1zM454.1 330.4h.9v.9h-.9zM440.4 319.5h1v1h-1zM453.0 320.1h1v1h-1zM449.2 339.4h.9v.9h-.9zM448.7 315.6h1v1h-1zM453.5 307.3h1v1h-1zM448.8 334.0h1v1h-1zM447.1 313.7h1v1h-1zM435.8 326.1h.9v.9h-.9zM445.9 336.7h1v1h-1zM449.2 332.5h1v1h-1zM450.0 330.2h1v1h-1zM442.1 329.7h1v1h-1zM451.8 334.6h1v1h-1zM445.6 336.0h1v1h-1zM440.1 331.0h1v1h-1zM449.3 328.9h1v1h-1zM450.6 327.7h1v1h-1zM446.1 329.8h1v1h-1zM450.1 328.1h1v1h-1zM442.1 332.4h1v1h-1zM456.7 320.2h1v1h-1zM443.8 324.7h1v1h-1zM449.6 337.6h1v1h-1zM444.5 333.1h1v1h-1zM442.6 317.5h1v1h-1zM451.1 320.3h1v1h-1zM447.8 333.3h1v1h-1zM451.5 333.2h1v1h-1zM454.4 317.5h1v1h-1zM451.3 324.3h1v1h-1zM448.9 334.1h1v1h-1zM444.9 321.4h1v1h-1zM454.6 314.9h1v1h-1zM452.3 313.7h1v1h-1zM447.2 315.0h1v1h-1zM454.3 316.5h1v1h-1zM455.0 313.9h1v1h-1zM457.6 309.2h1v1h-1zM450.4 309.8h1v1h-1zM453.4 312.7h1v1h-1zM457.3 318.8h1v1h-1zM441.2 335.5h1v1h-1zM457.0 315.2h1v1h-1zM451.7 320.0h1v1h-1zM439.7 317.6h.9v.9h-.9zM450.2 337.5h.9v.9h-.9zM456.1 312.7h1v1h-1zM447.5 327.0h1v1h-1zM449.1 336.1h1v1h-1zM441.7 339.7h1v1h-1zM450.0 320.3h1v1h-1zM448.2 334.5h1v1h-1zM456.9 306.9h1v1h-1zM438.0 325.4h1v1h-1zM449.8 330.4h1v1h-1zM447.4 323.2h1v1h-1zM443.2 321.8h1v1h-1zM444.6 328.4h1v1h-1zM452.7 312.0h1v1h-1zM439.1 325.9h1v1h-1zM450.6 330.2h1v1h-1zM451.7 325.2h1v1h-1zM441.5 336.9h1v1h-1zM446.2 338.2h1v1h-1zM449.1 325.6h1v1h-1zM444.4 317.7h1v1h-1zM444.6 338.5h1v1h-1zM436.3 326.8h1v1h-1zM442.0 338.4h1v1h-1zM449.3 335.5h1v1h-1zM456.2 321.6h1v1h-1zM447.9 335.3h1v1h-1zM454.2 310.5h1v1h-1zM452.1 316.9h1v1h-1zM441.6 330.6h1v1h-1zM439.9 325.9h1v1h-1zM444.3 329.3h1v1h-1zM441.8 333.6h1v1h-1zM450.2 332.6h1v1h-1zM441.8 336.5h1v1h-1zM449.9 321.4h1v1h-1zM453.1 321.6h1v1h-1zM443.1 329.9h1v1h-1zM451.1 336.4h.9v.9h-.9zM450.9 328.4h1v1h-1zM449.9 330.1h1v1h-1zM452.2 320.5h1v1h-1zM453.1 324.5h1v1h-1zM448.2 332.7h1v1h-1zM448.3 318.2h1v1h-1zM451.3 314.4h1v1h-1zM446.7 312.4h1v1h-1zM436.4 326.2h1v1h-1zM446.8 312.7h1v1h-1zM437.0 334.1h1v1h-1zM438.0 324.8h1v1h-1zM449.1 324.3h1v1h-1zM455.3 318.8h1v1h-1zM437.9 323.8h1v1h-1zM444.0 327.0h1v1h-1zM446.9 327.4h1v1h-1zM449.3 329.8h1v1h-1zM452.7 331.2h1v1h-1zM450.9 320.6h1v1h-1zM449.2 334.8h1v1h-1zM453.7 326.1h1v1h-1zM437.1 334.3h1v1h-1zM449.4 318.6h1v1h-1zM449.3 310.4h1v1h-1zM442.8 324.1h1v1h-1zM441.1 331.2h1v1h-1zM445.1 328.9h1v1h-1zM444.3 333.7h1v1h-1zM453.9 329.4h1v1h-1zM447.2 331.2h1v1h-1zM443.1 333.0h1v1h-1zM446.2 321.8h1v1h-1zM442.6 324.4h1v1h-1zM447.5 326.4h1v1h-1zM437.6 325.9h1v1h-1zM456.7 315.5h1v1h-1zM453.2 316.0h1v1h-1zM437.1 332.4h1v1h-1zM438.2 332.9h1v1h-1zM453.1 312.4h1v1h-1zM455.3 317.1h1v1h-1zM444.3 323.9h1v1h-1zM447.3 325.0h1v1h-1zM454.0 325.0h1v1h-1zM444.4 316.4h1v1h-1zM442.7 317.3h1v1h-1zM450.9 328.0h1v1h-1zM442.9 327.8h1v1h-1zM449.6 318.4h1v1h-1zM443.2 316.1h1v1h-1zM440.7 328.1h1v1h-1zM437.7 333.4h1v1h-1zM456.9 315.7h1v1h-1zM440.1 325.2h1v1h-1zM454.0 322.6h1v1h-1zM452.2 325.4h1v1h-1zM449.4 317.9h1v1h-1zM445.9 336.8h1v1h-1zM450.1 311.6h1v1h-1zM455.1 331.8h.9v.9h-.9zM447.6 315.7h1v1h-1zM437.2 335.4h1v1h-1zM435.0 332.2h.9v.9h-.9zM446.8 328.3h1v1h-1zM435.8 336.7h.9v.9h-.9zM451.5 333.4h1v1h-1zM450.1 311.2h1v1h-1zM438.5 324.4h1v1h-1zM436.9 324.1h.9v.9h-.9zM450.2 316.2h1v1h-1zM441.7 318.7h1v1h-1zM451.3 310.2h1v1h-1zM442.2 340.1h1v1h-1zM449.3 318.0h1v1h-1zM438.6 327.1h1v1h-1zM455.2 323.2h1v1h-1zM448.2 322.2h1v1h-1zM453.7 314.3h1v1h-1zM455.7 308.0h1v1h-1zM449.8 313.4h1v1h-1zM455.2 328.0h.9v.9h-.9zM455.2 313.1h1v1h-1zM456.7 319.2h1v1h-1zM454.4 321.2h1v1h-1zM453.2 312.3h1v1h-1zM451.9 321.8h1v1h-1zM456.7 321.1h1v1h-1zM454.3 327.2h1v1h-1zM440.6 326.1h1v1h-1zM456.7 323.2h.9v.9h-.9zM443.5 324.1h1v1h-1zM443.5 328.8h1v1h-1zM447.5 322.7h1v1h-1zM443.6 316.1h1v1h-1zM440.7 330.2h1v1h-1zM438.7 324.0h1v1h-1zM442.9 333.8h1v1h-1zM453.8 316.0h1v1h-1zM451.3 329.6h1v1h-1zM450.5 321.3h1v1h-1zM451.7 330.9h1v1h-1zM445.4 329.3h1v1h-1zM451.3 333.0h1v1h-1zM449.7 313.5h1v1h-1zM451.2 327.6h1v1h-1zM437.3 326.5h1v1h-1zM458.2 323.3h.9v.9h-.9zM449.7 333.9h1v1h-1zM455.9 307.4h1v1h-1zM435.7 331.3h1v1h-1zM446.2 315.3h1v1h-1zM451.8 319.9h1v1h-1zM441.6 330.9h1v1h-1zM439.0 330.4h1v1h-1zM445.2 339.6h1v1h-1zM454.1 326.6h1v1h-1zM449.8 322.4h1v1h-1zM443.4 334.1h1v1h-1zM439.4 335.2h1v1h-1zM439.5 331.7h1v1h-1zM454.2 318.1h1v1h-1zM457.1 308.0h1v1h-1zM452.4 311.6h1v1h-1zM448.2 314.7h1v1h-1zM452.4 321.1h1v1h-1zM457.4 309.0h1v1h-1zM438.7 337.1h1v1h-1zM444.5 320.1h1v1h-1zM446.7 314.3h1v1h-1zM442.9 323.3h1v1h-1zM441.1 332.7h1v1h-1zM452.7 331.2h1v1h-1zM437.7 334.2h1v1h-1zM454.8 322.5h1v1h-1zM456.5 309.1h1v1h-1zM447.5 321.2h1v1h-1zM446.2 340.4h.9v.9h-.9zM453.5 322.3h1v1h-1zM451.7 328.3h1v1h-1zM455.8 321.4h1v1h-1zM442.7 340.1h1v1h-1zM457.0 316.5h1v1h-1zM444.0 322.4h1v1h-1zM443.7 333.2h1v1h-1zM452.9 326.7h1v1h-1zM442.5 329.6h1v1h-1zM435.5 328.5h.9v.9h-.9zM451.6 314.5h1v1h-1zM435.9 329.2h1v1h-1zM442.3 326.0h1v1h-1zM446.0 317.5h1v1h-1zM440.7 333.4h1v1h-1zM438.0 324.1h1v1h-1zM453.2 322.4h1v1h-1zM455.5 323.7h1v1h-1zM438.9 331.1h1v1h-1zM445.2 330.9h1v1h-1zM448.8 329.7h1v1h-1zM443.7 312.4h.9v.9h-.9zM436.7 328.5h1v1h-1zM448.5 338.4h1v1h-1zM439.5 332.6h1v1h-1zM444.3 319.1h1v1h-1zM442.7 339.5h1v1h-1zM452.5 321.7h1v1h-1zM452.6 311.1h1v1h-1zM447.3 325.0h1v1h-1zM449.0 323.1h1v1h-1zM440.9 326.8h1v1h-1zM439.7 322.5h1v1h-1zM450.9 318.2h1v1h-1zM442.3 319.2h1v1h-1zM442.6 339.9h1v1h-1zM437.6 331.9h1v1h-1zM444.7 325.1h1v1h-1zM440.8 320.6h1v1h-1zM455.1 315.9h1v1h-1zM452.5 317.5h1v1h-1zM452.5 316.5h1v1h-1zM441.4 326.7h1v1h-1zM454.3 305.8h.9v.9h-.9zM448.9 311.6h1v1h-1zM451.7 326.5h1v1h-1zM439.0 335.0h1v1h-1zM440.5 324.4h1v1h-1zM448.1 324.3h1v1h-1zM443.6 321.6h1v1h-1zM444.2 326.3h1v1h-1zM442.9 319.4h1v1h-1zM445.7 314.6h1v1h-1zM450.7 330.2h1v1h-1zM437.5 326.6h1v1h-1zM445.2 333.9h1v1h-1zM441.4 315.8h.9v.9h-.9zM448.9 315.8h1v1h-1zM441.5 333.5h1v1h-1zM447.2 316.4h1v1h-1zM451.5 334.9h1v1h-1zM456.6 310.8h1v1h-1zM444.0 318.1h1v1h-1zM442.3 331.0h1v1h-1zM441.8 335.7h1v1h-1zM445.8 325.4h1v1h-1zM455.7 317.6h1v1h-1zM440.5 340.4h1v1h-1zM442.3 316.2h.9v.9h-.9zM436.7 329.9h1v1h-1zM451.8 305.7h.9v.9h-.9zM449.4 335.0h1v1h-1zM454.5 319.7h1v1h-1zM450.4 311.5h1v1h-1zM454.0 322.9h1v1h-1zM456.3 307.0h1v1h-1zM456.5 310.0h1v1h-1zM441.8 328.4h1v1h-1zM442.9 323.8h1v1h-1zM448.4 320.3h1v1h-1zM452.6 328.3h1v1h-1zM450.7 322.7h1v1h-1zM444.5 326.8h1v1h-1zM438.2 324.5h1v1h-1zM452.0 317.9h1v1h-1zM441.3 325.9h1v1h-1zM444.2 329.8h1v1h-1zM441.9 324.2h1v1h-1zM443.5 318.4h1v1h-1zM437.0 329.3h1v1h-1zM445.0 336.8h1v1h-1zM448.8 327.6h1v1h-1zM447.9 322.5h1v1h-1zM440.5 336.0h1v1h-1zM442.0 318.1h1v1h-1zM449.7 312.5h1v1h-1zM452.2 320.0h1v1h-1zM438.4 334.7h1v1h-1zM455.4 309.5h1v1h-1zM453.4 309.2h1v1h-1zM452.2 324.8h1v1h-1zM445.7 325.4h1v1h-1zM442.3 338.8h1v1h-1zM445.0 327.8h1v1h-1zM442.0 330.0h1v1h-1zM443.1 329.9h1v1h-1zM444.9 337.2h1v1h-1zM437.6 330.0h1v1h-1zM447.3 332.2h1v1h-1zM448.6 333.9h1v1h-1zM453.1 319.5h1v1h-1zM441.4 331.2h1v1h-1zM440.6 333.2h1v1h-1zM448.1 327.2h1v1h-1zM449.8 322.7h1v1h-1zM441.1 329.0h1v1h-1zM447.9 310.6h.9v.9h-.9zM445.4 338.8h1v1h-1zM455.4 311.5h1v1h-1zM443.8 326.3h1v1h-1zM443.4 319.8h1v1h-1zM443.5 322.9h1v1h-1zM443.1 332.4h1v1h-1zM449.5 318.9h1v1h-1zM444.2 334.3h1v1h-1zM457.1 312.3h1v1h-1zM448.9 313.5h1v1h-1zM451.6 315.7h1v1h-1zM452.4 333.6h1v1h-1zM443.1 322.9h1v1h-1zM453.3 323.8h1v1h-1zM451.1 309.5h1v1h-1zM447.6 318.6h1v1h-1zM445.9 336.1h1v1h-1zM434.9 333.4h.9v.9h-.9zM445.9 322.4h1v1h-1zM445.0 331.2h1v1h-1zM442.0 326.3h1v1h-1zM438.5 335.3h1v1h-1zM451.9 322.1h1v1h-1zM455.0 311.3h1v1h-1zM435.8 331.6h1v1h-1zM447.1 319.9h1v1h-1zM449.1 320.0h1v1h-1zM444.5 331.6h1v1h-1zM446.5 325.2h1v1h-1zM443.8 317.3h1v1h-1zM439.5 333.0h1v1h-1zM450.0 324.9h1v1h-1zM453.2 321.5h1v1h-1zM456.8 307.0h1v1h-1zM442.5 323.3h1v1h-1zM455.0 319.2h1v1h-1zM448.5 311.0h1v1h-1zM454.0 317.9h1v1h-1zM451.4 329.7h1v1h-1zM453.2 315.4h1v1h-1zM449.8 318.9h1v1h-1zM453.9 313.4h1v1h-1zM445.6 338.7h1v1h-1zM445.4 319.8h1v1h-1zM448.1 328.1h1v1h-1zM444.9 320.6h1v1h-1zM446.7 331.6h1v1h-1zM442.9 317.9h1v1h-1zM444.2 329.2h1v1h-1zM451.1 331.5h1v1h-1zM441.8 323.9h1v1h-1zM447.1 329.8h1v1h-1zM440.4 320.6h1v1h-1zM436.3 330.1h1v1h-1zM450.8 335.1h1v1h-1zM438.3 328.1h1v1h-1zM452.7 317.5h1v1h-1zM454.7 320.7h1v1h-1zM454.6 309.5h1v1h-1zM454.2 307.1h1v1h-1zM444.2 331.6h1v1h-1zM449.0 315.4h1v1h-1zM443.7 337.0h1v1h-1zM446.4 326.0h1v1h-1zM440.0 340.6h.9v.9h-.9zM450.0 329.8h1v1h-1zM456.2 319.4h1v1h-1zM442.7 317.2h1v1h-1zM452.1 310.5h1v1h-1zM451.7 324.4h1v1h-1zM439.6 339.9h1v1h-1zM448.0 310.2h.9v.9h-.9zM457.2 307.9h1v1h-1zM443.2 325.3h1v1h-1zM437.6 323.8h1v1h-1zM451.6 331.3h1v1h-1zM444.8 315.1h1v1h-1zM451.5 314.4h1v1h-1zM452.5 334.4h.9v.9h-.9zM453.0 324.9h1v1h-1zM443.7 323.1h1v1h-1zM447.2 323.0h1v1h-1zM447.4 323.3h1v1h-1zM442.7 317.7h1v1h-1zM438.5 324.1h1v1h-1zM452.2 319.2h1v1h-1zM444.9 322.8h1v1h-1zM446.9 316.4h1v1h-1zM445.4 331.9h1v1h-1zM444.2 333.2h1v1h-1zM442.1 320.8h1v1h-1zM440.9 331.2h1v1h-1zM443.8 328.5h1v1h-1zM456.1 314.0h1v1h-1zM447.0 330.9h1v1h-1zM442.9 334.1h1v1h-1zM453.6 330.3h1v1h-1zM450.8 318.4h1v1h-1zM446.9 325.8h1v1h-1zM449.3 322.4h1v1h-1zM445.3 327.9h1v1h-1zM448.8 332.3h1v1h-1zM444.2 321.7h1v1h-1zM438.9 328.1h1v1h-1zM449.2 313.3h1v1h-1zM449.5 317.2h1v1h-1zM452.2 325.9h1v1h-1zM435.2 330.1h1v1h-1zM450.5 323.8h1v1h-1zM435.7 330.7h1v1h-1zM451.4 336.4h.9v.9h-.9zM449.6 332.0h1v1h-1zM446.3 316.5h1v1h-1zM446.7 312.9h1v1h-1zM455.2 322.9h1v1h-1zM438.8 322.6h1v1h-1zM447.6 315.1h1v1h-1zM447.0 318.0h1v1h-1zM455.7 315.1h1v1h-1zM452.9 326.2h1v1h-1zM454.3 324.8h1v1h-1zM445.2 316.0h1v1h-1zM446.6 320.8h1v1h-1zM441.8 335.4h1v1h-1zM442.7 336.7h1v1h-1zM447.5 335.9h1v1h-1zM453.9 316.9h1v1h-1zM441.3 337.5h1v1h-1zM451.3 331.1h1v1h-1zM442.3 318.9h1v1h-1zM439.6 338.3h1v1h-1zM452.0 317.0h1v1h-1zM453.5 314.0h1v1h-1zM454.2 329.3h1v1h-1zM445.6 324.4h1v1h-1zM454.5 321.5h1v1h-1zM454.7 322.3h1v1h-1zM450.2 319.4h1v1h-1zM451.1 311.0h1v1h-1zM451.7 316.0h1v1h-1zM441.8 320.4h1v1h-1zM440.2 339.5h1v1h-1zM437.7 324.6h1v1h-1zM452.5 328.0h1v1h-1zM450.0 337.0h1v1h-1zM447.2 321.1h1v1h-1zM450.0 327.1h1v1h-1zM436.3 327.1h1v1h-1zM447.3 317.5h1v1h-1zM451.6 321.9h1v1h-1zM446.5 331.2h1v1h-1zM437.2 330.8h1v1h-1zM447.4 326.0h1v1h-1zM437.6 338.1h1v1h-1zM444.9 326.7h1v1h-1zM444.1 337.3h1v1h-1zM456.8 310.3h1v1h-1zM436.9 331.4h1v1h-1zM444.6 315.3h1v1h-1zM437.7 327.9h1v1h-1zM456.0 319.1h1v1h-1zM445.2 322.5h1v1h-1zM450.5 330.1h1v1h-1zM452.7 318.4h1v1h-1zM452.2 319.6h1v1h-1zM447.1 337.5h1v1h-1zM442.6 329.6h1v1h-1zM445.6 318.9h1v1h-1zM448.6 311.8h1v1h-1zM450.3 309.9h1v1h-1zM456.9 311.5h1v1h-1zM445.3 333.5h1v1h-1zM451.7 322.1h1v1h-1zM450.4 331.5h1v1h-1zM442.1 326.0h1v1h-1zM447.5 333.3h1v1h-1zM452.5 327.7h1v1h-1zM456.2 314.8h1v1h-1zM447.4 322.0h1v1h-1zM445.0 336.1h1v1h-1zM449.5 334.7h1v1h-1zM436.7 325.0h1v1h-1zM450.6 331.4h1v1h-1zM442.9 336.8h1v1h-1zM440.8 339.9h1v1h-1zM438.9 339.3h1v1h-1zM444.3 331.6h1v1h-1zM441.9 338.8h1v1h-1zM456.8 312.5h1v1h-1zM449.9 310.5h1v1h-1zM442.1 318.7h1v1h-1zM434.7 334.1h.9v.9h-.9zM450.4 333.1h1v1h-1zM435.1 331.9h1v1h-1zM447.7 326.5h1v1h-1zM438.1 327.2h1v1h-1zM443.0 322.2h1v1h-1zM439.6 331.1h1v1h-1zM453.8 329.6h1v1h-1zM451.0 319.2h1v1h-1zM440.5 339.4h1v1h-1zM449.2 322.7h1v1h-1zM443.1 321.3h1v1h-1zM442.9 337.6h1v1h-1zM442.8 339.4h1v1h-1zM442.0 324.4h1v1h-1zM455.1 311.9h1v1h-1zM443.2 328.4h1v1h-1zM452.7 336.1h.9v.9h-.9zM444.0 322.7h1v1h-1zM437.7 334.1h1v1h-1zM436.3 325.8h.9v.9h-.9zM451.1 325.9h1v1h-1zM435.3 332.1h1v1h-1zM442.5 334.0h1v1h-1zM451.9 323.2h1v1h-1zM440.8 336.1h1v1h-1zM453.7 318.7h1v1h-1zM458.3 305.7h.9v.9h-.9zM449.3 327.1h1v1h-1zM438.7 339.3h1v1h-1zM447.4 318.2h1v1h-1zM442.5 320.5h1v1h-1zM440.5 333.4h1v1h-1zM445.5 314.5h1v1h-1zM458.0 311.0h.9v.9h-.9zM441.4 327.0h1v1h-1zM444.8 333.0h1v1h-1zM449.7 322.5h1v1h-1zM436.2 334.9h1v1h-1zM434.1 327.9h.9v.9h-.9zM441.1 337.8h1v1h-1zM445.0 337.5h1v1h-1zM448.3 313.1h1v1h-1zM455.0 314.1h1v1h-1zM440.5 338.7h1v1h-1zM439.0 328.3h1v1h-1zM440.3 340.6h.9v.9h-.9zM439.7 324.4h1v1h-1zM436.0 328.2h1v1h-1zM446.9 335.1h1v1h-1zM451.5 313.5h1v1h-1zM448.0 311.7h1v1h-1zM446.6 319.9h1v1h-1zM442.1 321.7h1v1h-1zM449.8 314.3h1v1h-1zM435.9 329.5h1v1h-1zM438.2 329.9h1v1h-1zM444.8 328.6h1v1h-1zM442.3 322.7h1v1h-1zM452.1 323.1h1v1h-1zM448.9 318.5h1v1h-1zM451.0 316.1h1v1h-1zM449.7 313.2h1v1h-1zM456.3 311.5h1v1h-1zM448.9 328.5h1v1h-1zM449.4 311.1h1v1h-1zM450.9 312.8h1v1h-1zM451.1 322.3h1v1h-1zM436.4 332.1h1v1h-1zM437.9 336.1h1v1h-1zM443.3 341.1h.9v.9h-.9zM444.5 315.9h1v1h-1zM457.4 314.8h1v1h-1zM451.0 332.7h1v1h-1zM457.4 308.1h1v1h-1zM455.2 324.7h1v1h-1zM440.4 334.5h1v1h-1zM440.4 340.1h1v1h-1zM451.4 332.1h1v1h-1zM450.6 324.8h1v1h-1zM438.7 328.7h1v1h-1zM447.8 332.9h1v1h-1zM456.3 313.4h1v1h-1zM450.4 319.7h1v1h-1zM446.4 324.2h1v1h-1zM447.5 340.3h.9v.9h-.9zM440.7 326.4h1v1h-1zM436.0 331.2h1v1h-1zM446.4 330.8h1v1h-1zM444.2 315.8h1v1h-1zM437.1 335.0h1v1h-1zM454.4 317.9h1v1h-1zM454.2 333.0h.9v.9h-.9zM453.5 324.1h1v1h-1zM447.6 326.3h1v1h-1zM454.7 326.0h1v1h-1zM454.2 307.4h1v1h-1zM447.1 342.0h.9v.9h-.9zM445.3 325.9h1v1h-1zM454.7 318.0h1v1h-1zM453.4 313.9h1v1h-1zM439.5 338.4h1v1h-1zM441.5 328.1h1v1h-1zM457.2 313.0h1v1h-1zM452.1 312.5h1v1h-1zM454.8 311.8h1v1h-1zM449.0 321.3h1v1h-1zM449.1 335.4h1v1h-1zM451.5 319.3h1v1h-1zM453.4 308.4h1v1h-1zM441.0 320.0h1v1h-1zM439.7 325.4h1v1h-1zM447.0 327.6h1v1h-1zM454.9 323.2h1v1h-1zM455.9 316.0h1v1h-1zM450.6 328.9h1v1h-1zM443.0 327.8h1v1h-1zM452.0 321.7h1v1h-1zM443.0 334.9h1v1h-1zM443.9 338.0h1v1h-1zM435.9 332.4h1v1h-1zM453.0 311.6h1v1h-1zM450.6 317.2h1v1h-1zM454.5 315.3h1v1h-1zM437.8 337.6h1v1h-1zM437.5 335.9h1v1h-1zM441.8 327.7h1v1h-1zM453.8 317.5h1v1h-1zM446.9 339.6h1v1h-1zM451.9 331.6h1v1h-1z" fill="#000"/>
<path d="M449.3 345.5h1v1h-1zM442.3 362.3h1v1h-1zM441.5 352.7h1v1h-1zM436.8 357.0h1v1h-1zM448.9 354.9h1v1h-1zM437.1 361.6h1v1h-1zM444.1 365.6h1v1h-1zM444.4 362.9h1v1h-1zM454.9 347.2h1v1h-1zM453.4 359.9h1v1h-1zM452.3 363.4h1v1h-1zM444.3 357.3h1v1h-1zM443.5 364.2h1v1h-1zM454.0 358.2h1v1h-1zM443.2 368.3h1v1h-1zM455.1 353.6h1v1h-1zM455.5 361.3h1v1h-1zM444.0 364.3h1v1h-1zM445.9 368.1h1v1h-1zM449.5 360.4h1v1h-1zM443.0 362.9h1v1h-1zM451.7 356.9h1v1h-1zM437.9 362.9h1v1h-1zM446.5 349.2h1v1h-1zM447.8 356.6h1v1h-1zM438.5 364.3h1v1h-1zM444.5 367.4h1v1h-1zM443.1 365.4h1v1h-1zM452.6 355.3h1v1h-1zM453.6 348.6h1v1h-1zM451.7 357.7h1v1h-1zM455.7 353.0h1v1h-1zM458.4 352.7h1v1h-1zM447.1 355.0h1v1h-1zM448.4 352.0h1v1h-1zM435.9 359.2h1v1h-1zM438.5 361.4h1v1h-1zM450.7 353.4h1v1h-1zM457.8 359.8h.9v.9h-.9zM458.8 343.6h.9v.9h-.9zM444.0 368.8h1v1h-1zM439.8 362.3h1v1h-1zM454.5 348.7h1v1h-1zM439.9 354.4h1v1h-1zM454.3 351.0h1v1h-1zM448.1 347.6h1v1h-1zM457.9 349.4h1v1h-1zM442.9 367.2h1v1h-1zM457.0 357.0h1v1h-1zM447.7 366.2h1v1h-1zM445.3 364.4h1v1h-1zM438.3 357.3h1v1h-1zM445.7 354.2h1v1h-1zM448.5 345.6h1v1h-1zM452.4 345.2h1v1h-1zM454.3 346.8h1v1h-1zM447.7 363.4h1v1h-1zM443.5 356.6h1v1h-1zM439.7 363.2h1v1h-1zM453.6 355.9h1v1h-1zM455.7 351.9h1v1h-1zM442.5 352.8h1v1h-1zM454.4 359.8h1v1h-1zM449.9 348.5h1v1h-1zM447.7 356.0h1v1h-1zM440.4 364.9h1v1h-1zM448.1 365.1h1v1h-1zM451.2 347.1h1v1h-1zM441.0 362.4h1v1h-1zM454.5 359.1h1v1h-1zM440.8 362.0h1v1h-1zM444.7 355.3h1v1h-1zM448.0 361.1h1v1h-1zM454.6 346.1h1v1h-1zM456.3 347.0h1v1h-1zM448.8 358.0h1v1h-1zM439.4 353.7h1v1h-1zM450.5 358.8h1v1h-1zM453.3 345.0h1v1h-1zM446.0 356.1h1v1h-1zM443.2 365.1h1v1h-1zM451.8 357.3h1v1h-1zM448.4 363.9h1v1h-1zM455.7 346.1h1v1h-1zM455.4 347.6h1v1h-1zM442.5 359.2h1v1h-1zM446.1 368.4h1v1h-1zM458.7 352.1h1v1h-1zM448.4 351.2h1v1h-1zM456.2 356.9h1v1h-1zM441.9 356.2h1v1h-1zM443.4 354.8h1v1h-1zM437.3 355.9h1v1h-1zM444.1 350.4h1v1h-1zM444.0 354.3h1v1h-1zM444.3 348.1h1v1h-1zM442.3 353.5h1v1h-1zM447.2 368.9h1v1h-1zM447.3 367.4h1v1h-1zM453.1 353.1h1v1h-1zM455.7 351.4h1v1h-1zM451.2 364.3h1v1h-1zM444.7 361.5h1v1h-1zM450.3 361.8h1v1h-1zM457.5 346.1h1v1h-1zM442.5 354.8h1v1h-1zM441.0 354.8h1v1h-1zM438.6 355.0h1v1h-1zM457.9 354.2h1v1h-1zM455.6 346.6h1v1h-1zM458.0 348.4h1v1h-1zM449.5 352.5h1v1h-1zM446.7 364.0h1v1h-1zM451.4 356.6h1v1h-1zM439.9 357.5h1v1h-1zM452.3 362.1h1v1h-1zM445.6 348.4h1v1h-1zM441.5 354.0h1v1h-1zM435.7 359.9h1v1h-1zM445.0 362.9h1v1h-1zM449.1 352.3h1v1h-1zM445.5 366.9h1v1h-1zM453.8 356.8h1v1h-1zM453.9 356.5h1v1h-1zM450.1 349.5h1v1h-1zM444.8 362.7h1v1h-1zM458.2 350.3h1v1h-1zM447.9 350.3h1v1h-1zM444.4 366.2h1v1h-1zM449.2 347.3h1v1h-1zM443.7 365.0h1v1h-1zM459.2 348.2h.9v.9h-.9zM442.7 363.8h1v1h-1zM447.8 346.7h1v1h-1zM456.8 351.1h1v1h-1zM455.3 359.3h1v1h-1zM450.5 348.8h1v1h-1zM449.8 369.4h.9v.9h-.9zM459.6 348.9h.9v.9h-.9zM437.2 356.2h1v1h-1zM436.9 359.9h1v1h-1zM445.4 360.4h1v1h-1zM440.2 363.4h1v1h-1zM447.1 352.3h1v1h-1zM445.0 362.6h1v1h-1zM453.0 357.6h1v1h-1zM439.5 356.4h1v1h-1zM439.9 358.1h1v1h-1zM435.8 364.4h1v1h-1zM437.1 362.6h1v1h-1zM453.1 364.8h1v1h-1zM444.3 362.3h1v1h-1zM446.7 358.5h1v1h-1zM439.5 358.0h1v1h-1zM456.2 357.1h1v1h-1zM446.8 357.1h1v1h-1zM448.3 348.2h1v1h-1zM442.2 367.5h1v1h-1zM452.1 362.3h1v1h-1zM449.1 360.8h1v1h-1zM445.2 347.5h1v1h-1zM441.0 363.5h1v1h-1zM446.3 348.0h1v1h-1zM457.8 348.2h1v1h-1zM437.1 364.8h1v1h-1zM455.4 359.7h1v1h-1zM453.2 365.2h.9v.9h-.9zM436.7 365.3h1v1h-1zM443.6 360.9h1v1h-1zM457.5 354.1h1v1h-1zM452.7 345.0h1v1h-1zM449.5 364.5h1v1h-1zM447.5 366.9h1v1h-1zM456.8 355.4h1v1h-1zM455.6 349.4h1v1h-1zM453.8 355.4h1v1h-1zM443.0 354.7h1v1h-1zM447.2 348.5h1v1h-1zM450.2 353.8h1v1h-1zM447.6 361.0h1v1h-1zM452.8 356.0h1v1h-1zM443.5 365.2h1v1h-1zM436.4 362.1h1v1h-1zM455.4 348.3h1v1h-1zM451.7 364.2h1v1h-1zM437.9 354.0h1v1h-1zM450.2 347.1h1v1h-1zM450.7 356.9h1v1h-1zM447.0 359.7h1v1h-1zM456.7 357.1h1v1h-1zM443.9 368.1h1v1h-1zM442.4 362.9h1v1h-1zM452.0 356.2h1v1h-1zM452.9 357.9h1v1h-1zM449.2 355.2h1v1h-1zM444.0 352.2h1v1h-1zM450.3 353.5h1v1h-1zM451.4 362.7h1v1h-1zM441.5 354.4h1v1h-1zM448.0 360.8h1v1h-1zM448.2 351.8h1v1h-1zM443.8 355.2h1v1h-1zM446.4 360.3h1v1h-1zM448.8 358.2h1v1h-1zM439.3 368.9h.9v.9h-.9zM450.6 358.8h1v1h-1zM453.1 348.3h1v1h-1zM442.3 360.0h1v1h-1zM453.9 361.7h1v1h-1zM446.2 369.8h.9v.9h-.9zM449.8 352.9h1v1h-1zM458.1 354.7h1v1h-1zM436.8 357.8h1v1h-1zM444.3 347.8h1v1h-1zM445.9 346.2h.9v.9h-.9zM441.7 355.0h1v1h-1zM455.4 351.4h1v1h-1zM447.0 357.4h1v1h-1zM442.1 362.9h1v1h-1zM444.4 350.9h1v1h-1zM438.9 368.0h.9v.9h-.9zM440.3 366.8h1v1h-1zM444.1 348.4h1v1h-1zM455.5 344.3h1v1h-1zM439.2 362.0h1v1h-1zM446.9 349.4h1v1h-1zM447.6 349.7h1v1h-1zM458.1 350.1h1v1h-1zM448.9 362.3h1v1h-1zM446.4 363.5h1v1h-1zM449.0 350.4h1v1h-1zM441.2 362.3h1v1h-1zM456.6 357.8h1v1h-1zM450.8 351.7h1v1h-1zM448.0 358.6h1v1h-1zM442.9 351.3h1v1h-1zM453.3 358.7h1v1h-1zM456.8 354.6h1v1h-1zM454.1 356.6h1v1h-1zM450.0 360.0h1v1h-1zM452.0 344.6h1v1h-1zM440.9 353.1h1v1h-1zM458.0 352.2h1v1h-1zM457.7 349.5h1v1h-1zM451.0 357.2h1v1h-1zM440.5 361.1h1v1h-1zM454.9 349.6h1v1h-1zM455.6 354.8h1v1h-1zM443.2 356.5h1v1h-1zM454.4 363.0h1v1h-1zM444.9 362.6h1v1h-1zM452.2 363.4h1v1h-1zM447.1 368.6h1v1h-1zM458.5 349.3h1v1h-1zM454.9 361.7h1v1h-1zM454.7 349.4h1v1h-1zM447.7 357.4h1v1h-1zM454.5 361.9h1v1h-1zM442.8 351.2h1v1h-1zM451.1 359.3h1v1h-1zM444.6 348.2h1v1h-1zM450.5 350.8h1v1h-1zM444.4 355.5h1v1h-1zM447.6 353.1h1v1h-1zM450.9 346.7h1v1h-1zM456.4 355.2h1v1h-1zM443.0 359.6h1v1h-1zM449.8 366.5h1v1h-1zM444.7 365.6h1v1h-1zM453.6 360.6h1v1h-1zM435.1 363.7h.9v.9h-.9zM443.2 350.2h1v1h-1zM437.5 358.2h1v1h-1zM442.5 362.0h1v1h-1zM439.7 360.1h1v1h-1zM458.7 346.0h.9v.9h-.9zM438.2 359.5h1v1h-1zM442.9 346.7h.9v.9h-.9zM450.2 346.7h1v1h-1zM448.2 353.2h1v1h-1zM441.4 367.8h1v1h-1zM442.8 363.3h1v1h-1zM448.4 355.6h1v1h-1zM440.6 365.6h1v1h-1zM441.8 354.2h1v1h-1zM453.2 350.6h1v1h-1zM446.8 361.8h1v1h-1zM443.1 353.9h1v1h-1zM446.3 350.1h1v1h-1zM444.5 353.1h1v1h-1zM449.1 349.8h1v1h-1zM456.1 346.6h1v1h-1zM442.4 349.9h1v1h-1zM449.8 352.0h1v1h-1zM452.5 360.0h1v1h-1zM451.5 356.7h1v1h-1zM457.2 348.2h1v1h-1zM457.2 348.7h1v1h-1zM452.4 362.2h1v1h-1zM452.3 363.0h1v1h-1zM444.7 357.5h1v1h-1zM454.2 355.5h1v1h-1zM442.1 350.9h1v1h-1zM451.1 358.8h1v1h-1zM453.0 361.3h1v1h-1zM443.6 351.0h1v1h-1zM444.5 352.5h1v1h-1zM444.8 363.8h1v1h-1zM457.4 354.5h1v1h-1zM449.6 362.7h1v1h-1zM451.6 345.5h1v1h-1zM457.4 354.8h1v1h-1zM448.2 350.0h1v1h-1zM452.6 361.1h1v1h-1zM441.6 355.8h1v1h-1zM443.1 359.7h1v1h-1zM447.1 358.3h1v1h-1zM440.7 365.8h1v1h-1zM449.1 349.8h1v1h-1zM455.1 361.5h1v1h-1zM457.9 346.8h1v1h-1zM449.6 351.5h1v1h-1zM441.4 353.9h1v1h-1zM447.2 366.1h1v1h-1zM451.1 354.1h1v1h-1zM450.8 355.6h1v1h-1zM449.6 363.2h1v1h-1zM437.7 365.7h1v1h-1zM446.7 353.8h1v1h-1zM451.9 358.4h1v1h-1zM454.2 358.4h1v1h-1zM442.7 351.2h1v1h-1zM451.4 364.9h1v1h-1zM452.4 352.9h1v1h-1zM447.7 358.0h1v1h-1zM440.1 354.4h1v1h-1zM449.2 346.8h1v1h-1zM454.1 350.5h1v1h-1zM456.7 347.0h1v1h-1zM447.3 352.1h1v1h-1zM448.0 358.0h1v1h-1zM451.1 358.8h1v1h-1zM441.0 349.3h.9v.9h-.9zM459.7 349.2h.9v.9h-.9zM450.1 367.0h1v1h-1zM442.2 359.8h1v1h-1zM456.8 350.6h1v1h-1zM440.0 352.6h1v1h-1zM443.5 357.5h1v1h-1zM444.0 349.4h1v1h-1zM454.8 345.8h1v1h-1zM456.5 350.1h1v1h-1zM435.8 360.6h1v1h-1zM446.5 366.2h1v1h-1zM452.3 352.7h1v1h-1zM445.7 355.9h1v1h-1zM439.9 363.5h1v1h-1zM451.1 347.5h1v1h-1zM438.3 367.2h1v1h-1zM449.0 354.7h1v1h-1zM441.0 367.5h1v1h-1zM448.7 345.0h.9v.9h-.9zM453.3 346.9h1v1h-1zM449.8 349.3h1v1h-1zM440.5 352.7h1v1h-1zM456.1 354.9h1v1h-1zM450.4 367.0h1v1h-1zM446.9 345.9h1v1h-1zM450.2 367.6h1v1h-1zM453.8 350.8h1v1h-1zM454.9 344.0h1v1h-1zM445.3 354.2h1v1h-1zM455.6 346.8h1v1h-1zM457.0 350.1h1v1h-1zM436.0 360.2h1v1h-1zM439.6 359.9h1v1h-1zM455.9 346.6h1v1h-1zM455.4 352.8h1v1h-1zM452.5 368.1h.9v.9h-.9zM452.9 346.9h1v1h-1zM451.4 351.8h1v1h-1zM455.8 353.5h1v1h-1zM449.8 367.3h1v1h-1zM442.9 370.8h.9v.9h-.9zM444.9 362.7h1v1h-1zM455.8 350.2h1v1h-1zM435.3 363.2h1v1h-1zM435.9 358.8h1v1h-1zM453.6 357.0h1v1h-1zM457.5 352.1h1v1h-1zM449.3 353.1h1v1h-1zM452.4 363.5h1v1h-1zM441.8 348.2h.9v.9h-.9zM444.7 357.8h1v1h-1zM438.4 365.2h1v1h-1zM447.0 353.5h1v1h-1zM452.0 359.5h1v1h-1zM449.8 366.5h1v1h-1zM448.6 346.6h1v1h-1zM438.5 367.5h1v1h-1zM457.3 344.7h1v1h-1zM456.1 349.3h1v1h-1zM444.2 354.6h1v1h-1zM452.2 366.9h.9v.9h-.9zM450.6 350.7h1v1h-1zM441.0 365.7h1v1h-1zM451.9 348.1h1v1h-1zM454.1 346.4h1v1h-1zM450.8 350.8h1v1h-1zM445.6 363.1h1v1h-1zM447.8 355.7h1v1h-1zM444.6 355.7h1v1h-1zM444.2 364.9h1v1h-1zM447.2 352.5h1v1h-1zM443.1 349.8h1v1h-1zM454.4 355.7h1v1h-1zM436.4 357.6h1v1h-1zM441.8 366.4h1v1h-1zM438.3 354.4h1v1h-1zM436.2 361.4h1v1h-1zM452.1 363.0h1v1h-1zM441.1 359.4h1v1h-1zM446.3 350.7h1v1h-1zM440.5 366.4h1v1h-1zM443.6 358.5h1v1h-1zM445.2 362.9h1v1h-1zM439.3 362.1h1v1h-1zM437.5 354.0h.9v.9h-.9zM440.3 363.5h1v1h-1zM447.2 349.4h1v1h-1zM446.7 347.8h1v1h-1zM445.0 347.7h1v1h-1zM448.0 366.8h1v1h-1zM448.0 354.7h1v1h-1zM447.2 351.8h1v1h-1zM452.6 356.6h1v1h-1zM456.0 360.0h1v1h-1zM442.3 366.4h1v1h-1zM442.0 362.0h1v1h-1zM446.9 362.7h1v1h-1zM443.8 355.5h1v1h-1zM439.6 357.8h1v1h-1zM445.1 364.3h1v1h-1zM452.0 365.7h1v1h-1zM452.4 350.8h1v1h-1zM457.7 353.7h1v1h-1zM455.4 360.2h1v1h-1zM447.5 351.1h1v1h-1zM447.9 347.7h1v1h-1zM439.3 362.2h1v1h-1zM449.6 351.7h1v1h-1zM452.9 359.9h1v1h-1zM456.9 357.3h1v1h-1zM446.7 350.8h1v1h-1zM454.6 362.8h1v1h-1zM451.2 362.8h1v1h-1zM455.7 346.3h1v1h-1zM455.3 350.0h1v1h-1zM437.3 360.4h1v1h-1zM446.1 351.0h1v1h-1zM456.5 353.7h1v1h-1zM450.5 346.6h1v1h-1zM445.9 351.5h1v1h-1zM457.9 347.6h1v1h-1zM450.2 356.1h1v1h-1zM455.7 356.5h1v1h-1zM451.0 347.7h1v1h-1zM443.0 363.3h1v1h-1zM453.6 364.7h1v1h-1zM452.3 343.1h.9v.9h-.9zM454.6 360.0h1v1h-1zM451.3 364.7h1v1h-1zM449.1 356.4h1v1h-1zM453.9 361.4h1v1h-1zM445.1 366.9h1v1h-1zM445.3 353.3h1v1h-1zM436.7 359.4h1v1h-1zM446.9 356.7h1v1h-1zM443.3 358.3h1v1h-1zM454.6 361.0h1v1h-1zM455.4 360.7h1v1h-1zM442.3 349.4h1v1h-1zM455.0 348.2h1v1h-1zM440.5 362.9h1v1h-1zM449.7 348.0h1v1h-1zM440.7 363.2h1v1h-1zM444.7 366.6h1v1h-1zM445.2 356.5h1v1h-1zM440.9 367.8h1v1h-1zM446.2 364.2h1v1h-1zM455.1 355.8h1v1h-1zM450.8 366.9h1v1h-1zM450.2 348.6h1v1h-1zM455.1 353.8h1v1h-1zM455.7 350.0h1v1h-1zM436.6 358.7h1v1h-1zM456.6 347.7h1v1h-1zM450.3 365.9h1v1h-1zM451.2 366.5h1v1h-1zM451.6 357.4h1v1h-1zM454.4 354.3h1v1h-1zM442.6 368.3h1v1h-1zM441.2 364.3h1v1h-1zM435.8 360.1h1v1h-1zM451.2 362.3h1v1h-1zM447.6 365.7h1v1h-1zM455.6 351.4h1v1h-1zM450.0 345.3h1v1h-1zM437.7 365.2h1v1h-1zM450.0 353.9h1v1h-1zM458.2 352.9h1v1h-1zM443.9 353.8h1v1h-1zM441.6 355.7h1v1h-1zM449.7 352.6h1v1h-1zM454.8 348.3h1v1h-1zM444.3 362.6h1v1h-1zM446.5 354.5h1v1h-1zM441.4 362.4h1v1h-1zM454.4 365.2h.9v.9h-.9zM451.9 361.4h1v1h-1zM441.2 361.2h1v1h-1zM457.0 350.2h1v1h-1zM457.1 357.3h1v1h-1zM456.6 358.1h1v1h-1zM444.5 354.3h1v1h-1zM454.3 356.2h1v1h-1zM443.3 352.3h1v1h-1zM449.6 358.8h1v1h-1zM443.3 350.8h1v1h-1zM448.7 368.1h1v1h-1zM449.8 361.8h1v1h-1zM443.2 359.8h1v1h-1zM451.8 358.7h1v1h-1zM446.1 348.5h1v1h-1zM452.6 361.4h1v1h-1zM442.5 352.0h1v1h-1zM448.4 355.6h1v1h-1zM442.7 364.0h1v1h-1zM446.4 349.3h1v1h-1zM451.1 362.9h1v1h-1zM444.6 364.0h1v1h-1zM447.9 349.5h1v1h-1zM455.7 345.4h1v1h-1zM448.2 362.2h1v1h-1zM452.9 358.1h1v1h-1zM439.9 359.6h1v1h-1zM438.6 357.5h1v1h-1zM443.2 364.3h1v1h-1zM438.2 357.1h1v1h-1zM436.4 358.5h1v1h-1zM452.7 363.9h1v1h-1zM455.1 356.6h1v1h-1zM444.3 363.4h1v1h-1zM453.7 360.7h1v1h-1zM441.0 364.6h1v1h-1zM445.4 366.0h1v1h-1zM444.9 366.8h1v1h-1zM452.1 355.2h1v1h-1zM435.9 358.9h1v1h-1zM444.2 354.3h1v1h-1zM439.7 355.0h1v1h-1zM445.9 354.8h1v1h-1zM447.2 356.8h1v1h-1zM454.5 348.5h1v1h-1zM449.2 347.5h1v1h-1zM452.0 356.1h1v1h-1zM449.4 354.8h1v1h-1zM455.3 345.1h1v1h-1zM448.5 363.2h1v1h-1zM451.0 346.2h1v1h-1zM443.1 361.8h1v1h-1zM445.4 349.2h1v1h-1zM453.3 362.9h1v1h-1zM448.2 361.0h1v1h-1zM453.1 359.7h1v1h-1zM457.6 352.8h1v1h-1zM450.6 345.9h1v1h-1zM435.1 362.2h.9v.9h-.9zM452.3 354.0h1v1h-1zM449.4 361.9h1v1h-1zM438.4 364.4h1v1h-1zM440.2 358.2h1v1h-1zM449.7 356.2h1v1h-1zM450.5 361.4h1v1h-1zM444.0 364.0h1v1h-1zM441.5 357.1h1v1h-1zM440.0 354.4h1v1h-1zM457.0 352.8h1v1h-1zM447.2 365.6h1v1h-1zM436.3 356.7h.9v.9h-.9zM457.9 351.3h1v1h-1zM444.5 368.8h1v1h-1zM436.8 362.0h1v1h-1zM450.9 362.8h1v1h-1zM442.7 350.2h1v1h-1zM442.1 354.4h1v1h-1zM451.5 347.4h1v1h-1zM455.1 355.8h1v1h-1zM443.0 351.3h1v1h-1zM454.1 351.7h1v1h-1zM440.7 365.1h1v1h-1zM455.0 349.1h1v1h-1zM443.2 368.2h1v1h-1zM448.6 346.5h1v1h-1zM440.5 362.9h1v1h-1zM440.5 364.4h1v1h-1zM446.8 368.7h1v1h-1zM453.1 364.0h1v1h-1zM457.8 345.6h1v1h-1zM435.1 361.3h.9v.9h-.9zM454.9 347.5h1v1h-1zM441.3 350.7h1v1h-1zM442.2 360.7h1v1h-1zM454.7 344.7h1v1h-1zM451.3 354.2h1v1h-1zM447.7 358.7h1v1h-1zM440.6 359.0h1v1h-1zM454.8 347.8h1v1h-1zM454.6 354.0h1v1h-1zM439.7 361.9h1v1h-1zM456.0 359.5h1v1h-1zM450.6 356.3h1v1h-1zM458.5 346.0h.9v.9h-.9zM441.6 351.3h1v1h-1zM438.4 360.4h1v1h-1zM441.4 361.7h1v1h-1zM438.4 357.2h1v1h-1zM446.2 367.3h1v1h-1zM455.1 345.9h1v1h-1zM444.5 345.9h.9v.9h-.9zM454.1 359.4h1v1h-1zM446.2 355.2h1v1h-1zM451.5 352.4h1v1h-1zM457.3 345.8h1v1h-1zM440.2 357.6h1v1h-1zM444.8 358.1h1v1h-1zM441.3 354.8h1v1h-1zM441.0 353.2h1v1h-1zM457.2 353.9h1v1h-1zM449.9 362.2h1v1h-1zM444.4 366.4h1v1h-1zM454.6 353.1h1v1h-1zM438.0 355.7h1v1h-1zM441.0 351.4h1v1h-1zM452.7 361.1h1v1h-1zM440.7 363.3h1v1h-1zM444.6 365.0h1v1h-1zM445.2 366.4h1v1h-1zM453.8 353.6h1v1h-1zM448.7 347.7h1v1h-1zM445.3 367.8h1v1h-1zM451.6 350.2h1v1h-1zM440.3 365.7h1v1h-1zM447.8 367.9h1v1h-1zM438.2 366.5h1v1h-1zM445.6 362.9h1v1h-1zM439.3 362.0h1v1h-1zM446.9 349.8h1v1h-1zM438.3 356.2h1v1h-1zM455.3 356.4h1v1h-1zM447.5 350.7h1v1h-1zM449.3 349.9h1v1h-1zM455.6 360.9h1v1h-1zM443.3 364.2h1v1h-1zM438.2 365.8h1v1h-1zM451.2 362.5h1v1h-1zM451.6 362.9h1v1h-1zM443.2 352.8h1v1h-1zM446.1 361.1h1v1h-1zM449.4 361.5h1v1h-1zM443.3 352.2h1v1h-1zM442.4 359.1h1v1h-1zM451.0 365.9h1v1h-1zM451.4 351.8h1v1h-1zM456.2 352.2h1v1h-1zM458.4 350.2h1v1h-1zM437.5 364.5h1v1h-1zM448.9 361.8h1v1h-1zM438.8 357.2h1v1h-1zM452.6 362.9h1v1h-1zM450.9 352.6h1v1h-1zM447.4 348.7h1v1h-1zM439.4 361.8h1v1h-1zM455.2 345.5h1v1h-1zM447.9 357.5h1v1h-1zM442.0 356.2h1v1h-1zM449.1 364.4h1v1h-1zM450.9 347.1h1v1h-1zM456.8 350.4h1v1h-1zM457.6 345.3h1v1h-1zM443.4 352.4h1v1h-1zM445.2 359.5h1v1h-1zM436.1 358.2h1v1h-1zM446.2 368.6h1v1h-1zM456.0 344.4h1v1h-1zM443.6 361.8h1v1h-1zM446.0 355.6h1v1h-1zM440.2 353.1h1v1h-1zM438.2 354.9h1v1h-1zM434.8 365.1h.9v.9h-.9zM436.9 363.1h1v1h-1zM457.5 354.5h1v1h-1zM455.2 361.2h1v1h-1zM450.7 356.5h1v1h-1zM444.0 366.7h1v1h-1zM450.5 364.8h1v1h-1zM453.7 351.3h1v1h-1zM454.7 344.7h1v1h-1zM448.4 361.5h1v1h-1zM451.9 355.9h1v1h-1zM439.1 356.4h1v1h-1zM455.8 351.1h1v1h-1zM443.0 366.2h1v1h-1zM453.7 351.3h1v1h-1zM437.1 362.9h1v1h-1zM447.4 350.1h1v1h-1zM458.5 353.3h1v1h-1zM445.9 362.3h1v1h-1zM440.1 364.3h1v1h-1zM444.9 358.1h1v1h-1zM450.1 367.0h1v1h-1zM450.9 347.9h1v1h-1zM454.4 355.0h1v1h-1zM438.2 363.4h1v1h-1zM456.2 356.6h1v1h-1zM450.8 349.5h1v1h-1zM451.6 351.0h1v1h-1zM441.2 366.5h1v1h-1zM455.6 361.0h1v1h-1zM442.0 351.8h1v1h-1zM436.6 356.0h.9v.9h-.9zM446.9 362.4h1v1h-1zM437.3 356.9h1v1h-1zM443.4 360.6h1v1h-1zM439.7 359.6h1v1h-1zM454.0 366.1h.9v.9h-.9zM448.9 346.8h1v1h-1zM447.1 352.6h1v1h-1zM454.1 345.6h1v1h-1zM448.8 358.6h1v1h-1zM449.0 360.8h1v1h-1zM446.9 364.6h1v1h-1zM437.6 362.9h1v1h-1zM453.4 344.9h1v1h-1zM447.1 360.3h1v1h-1zM448.7 367.0h1v1h-1zM445.5 350.7h1v1h-1zM444.8 366.3h1v1h-1zM447.2 348.8h1v1h-1zM442.3 366.8h1v1h-1zM440.3 359.2h1v1h-1zM441.2 365.3h1v1h-1zM448.7 362.0h1v1h-1zM453.8 348.9h1v1h-1zM445.0 360.7h1v1h-1zM449.0 350.4h1v1h-1zM438.9 367.6h1v1h-1zM445.0 351.5h1v1h-1zM456.2 348.4h1v1h-1zM445.0 363.8h1v1h-1zM446.0 359.3h1v1h-1zM446.9 362.5h1v1h-1zM442.3 351.1h1v1h-1zM442.2 367.1h1v1h-1zM443.8 364.5h1v1h-1zM436.7 361.7h1v1h-1zM457.0 354.5h1v1h-1zM458.3 354.3h1v1h-1zM448.9 358.6h1v1h-1zM445.1 351.1h1v1h-1zM444.8 351.9h1v1h-1zM448.4 350.3h1v1h-1zM449.9 355.8h1v1h-1zM446.1 366.1h1v1h-1zM446.1 364.7h1v1h-1zM440.3 352.8h1v1h-1zM457.3 344.7h1v1h-1zM457.3 353.8h1v1h-1zM451.4 351.9h1v1h-1zM442.4 364.7h1v1h-1zM444.4 356.6h1v1h-1zM442.6 365.6h1v1h-1zM450.7 361.2h1v1h-1zM457.7 344.5h.9v.9h-.9zM445.6 347.2h1v1h-1zM446.4 347.9h1v1h-1zM447.6 359.4h1v1h-1zM446.1 354.5h1v1h-1zM452.0 355.6h1v1h-1zM449.6 351.8h1v1h-1zM458.4 349.1h1v1h-1zM440.9 358.6h1v1h-1zM450.9 355.2h1v1h-1zM437.4 359.1h1v1h-1zM444.7 356.3h1v1h-1zM439.2 355.2h1v1h-1zM453.7 363.1h1v1h-1zM450.8 362.6h1v1h-1zM438.8 366.9h1v1h-1zM439.0 364.4h1v1h-1zM458.5 348.4h1v1h-1zM450.5 346.8h1v1h-1zM443.7 365.6h1v1h-1zM443.2 355.2h1v1h-1zM448.0 355.1h1v1h-1zM444.3 349.3h1v1h-1zM448.6 343.6h.9v.9h-.9zM453.8 350.8h1v1h-1zM449.7 363.7h1v1h-1zM454.9 360.3h1v1h-1zM445.1 359.7h1v1h-1zM448.9 345.3h1v1h-1zM435.4 363.3h1v1h-1zM454.1 355.1h1v1h-1zM443.5 358.5h1v1h-1zM454.0 345.6h1v1h-1zM450.2 363.1h1v1h-1zM456.0 353.5h1v1h-1zM454.5 352.1h1v1h-1zM450.7 366.1h1v1h-1zM451.3 352.8h1v1h-1zM444.9 366.2h1v1h-1zM453.4 345.0h1v1h-1zM454.7 349.1h1v1h-1zM440.6 354.5h1v1h-1zM454.4 347.5h1v1h-1zM453.5 362.6h1v1h-1zM457.5 345.3h1v1h-1zM445.0 348.5h1v1h-1zM444.8 355.0h1v1h-1zM447.0 350.2h1v1h-1zM440.2 359.4h1v1h-1zM444.5 363.5h1v1h-1zM439.7 357.8h1v1h-1zM448.9 362.4h1v1h-1zM456.4 344.7h1v1h-1zM440.1 352.8h1v1h-1zM448.0 363.7h1v1h-1zM453.2 346.2h1v1h-1zM454.4 356.3h1v1h-1zM448.5 352.2h1v1h-1zM444.9 362.5h1v1h-1zM441.3 368.6h1v1h-1zM443.0 350.2h1v1h-1zM449.7 357.3h1v1h-1zM439.0 365.1h1v1h-1zM457.6 355.2h1v1h-1zM440.5 350.6h1v1h-1zM447.0 350.0h1v1h-1zM451.2 362.0h1v1h-1zM438.1 354.7h1v1h-1zM443.3 368.3h1v1h-1zM439.5 367.1h1v1h-1zM456.9 355.9h1v1h-1zM455.6 348.2h1v1h-1zM456.3 355.0h1v1h-1zM447.9 347.2h1v1h-1zM446.0 353.6h1v1h-1zM451.1 347.7h1v1h-1zM446.8 352.5h1v1h-1zM458.5 351.2h1v1h-1zM443.9 359.3h1v1h-1zM449.4 352.9h1v1h-1zM451.6 360.4h1v1h-1zM443.5 361.3h1v1h-1zM437.4 366.8h1v1h-1zM449.5 366.0h1v1h-1zM448.0 366.1h1v1h-1zM453.7 357.0h1v1h-1zM440.0 356.1h1v1h-1zM452.1 353.9h1v1h-1zM448.0 347.3h1v1h-1zM455.4 353.0h1v1h-1zM449.6 355.6h1v1h-1zM443.2 349.0h1v1h-1zM441.1 368.1h1v1h-1zM445.1 351.8h1v1h-1zM444.7 354.1h1v1h-1zM456.2 357.4h1v1h-1zM438.2 365.7h1v1h-1zM452.8 361.3h1v1h-1zM448.3 359.1h1v1h-1zM441.0 363.7h1v1h-1zM437.0 361.1h1v1h-1zM436.4 367.3h.9v.9h-.9zM452.4 352.9h1v1h-1zM439.3 360.2h1v1h-1zM439.8 364.1h1v1h-1zM445.6 353.4h1v1h-1zM443.3 357.6h1v1h-1zM440.8 362.7h1v1h-1zM436.2 356.6h.9v.9h-.9zM454.5 358.4h1v1h-1zM453.2 358.7h1v1h-1zM445.4 351.4h1v1h-1zM436.6 365.6h1v1h-1zM456.3 358.8h1v1h-1zM443.2 351.1h1v1h-1zM442.6 357.9h1v1h-1zM445.1 347.5h1v1h-1zM451.8 355.6h1v1h-1zM452.1 354.5h1v1h-1zM440.7 350.1h.9v.9h-.9zM457.3 354.6h1v1h-1zM452.7 357.3h1v1h-1zM454.2 354.1h1v1h-1zM444.0 349.7h1v1h-1zM441.3 358.7h1v1h-1zM446.5 363.6h1v1h-1zM435.9 361.5h1v1h-1zM441.3 367.4h1v1h-1zM447.5 346.6h1v1h-1zM446.1 365.6h1v1h-1zM450.5 348.7h1v1h-1zM452.6 365.2h1v1h-1zM446.2 354.9h1v1h-1zM444.4 357.8h1v1h-1zM454.6 345.7h1v1h-1zM452.3 350.2h1v1h-1zM437.2 365.5h1v1h-1zM451.3 343.0h.9v.9h-.9zM441.0 354.0h1v1h-1zM453.6 355.0h1v1h-1zM456.2 356.4h1v1h-1zM450.6 362.4h1v1h-1zM447.5 352.9h1v1h-1zM451.7 346.3h1v1h-1zM447.8 358.8h1v1h-1zM439.7 364.0h1v1h-1zM449.8 352.5h1v1h-1zM438.8 362.0h1v1h-1zM437.3 358.1h1v1h-1zM453.5 350.0h1v1h-1zM456.3 359.8h1v1h-1zM443.5 367.8h1v1h-1zM443.9 367.4h1v1h-1zM456.6 354.3h1v1h-1zM448.3 352.5h1v1h-1zM451.4 362.7h1v1h-1zM444.1 359.4h1v1h-1zM455.1 361.0h1v1h-1zM442.0 368.5h1v1h-1zM458.1 348.0h1v1h-1zM453.5 347.4h1v1h-1zM447.8 357.5h1v1h-1zM458.7 353.9h.9v.9h-.9zM444.8 361.4h1v1h-1zM440.2 355.1h1v1h-1zM451.1 357.9h1v1h-1zM441.2 356.1h1v1h-1zM447.4 348.2h1v1h-1zM439.3 363.9h1v1h-1zM455.1 352.5h1v1h-1zM456.8 356.0h1v1h-1zM452.5 358.6h1v1h-1zM435.7 362.9h1v1h-1zM444.4 367.8h1v1h-1zM447.8 348.5h1v1h-1zM449.3 357.9h1v1h-1zM437.8 367.1h1v1h-1zM450.8 349.6h1v1h-1zM445.6 360.2h1v1h-1zM435.9 359.9h1v1h-1zM455.7 357.2h1v1h-1zM444.2 355.8h1v1h-1zM448.8 364.1h1v1h-1zM448.3 350.7h1v1h-1zM447.1 352.2h1v1h-1zM445.3 358.5h1v1h-1zM442.2 362.1h1v1h-1zM458.2 348.7h1v1h-1zM455.0 344.4h1v1h-1zM443.8 356.5h1v1h-1zM451.3 351.0h1v1h-1zM457.7 351.5h1v1h-1zM458.0 350.6h1v1h-1zM447.9 349.1h1v1h-1zM455.4 344.6h1v1h-1zM451.8 365.6h1v1h-1zM457.8 358.1h.9v.9h-.9zM455.5 344.0h1v1h-1zM452.3 352.2h1v1h-1zM452.6 363.9h1v1h-1zM439.6 357.4h1v1h-1zM452.2 349.6h1v1h-1zM450.1 357.3h1v1h-1zM445.8 365.0h1v1h-1zM447.5 360.8h1v1h-1zM443.8 354.4h1v1h-1zM441.9 350.0h1v1h-1zM454.8 344.9h1v1h-1zM439.5 350.3h.9v.9h-.9zM456.4 350.9h1v1h-1zM436.4 362.6h1v1h-1zM458.2 355.0h1v1h-1zM449.8 360.1h1v1h-1zM452.9 352.5h1v1h-1zM449.8 360.3h1v1h-1zM452.5 363.1h1v1h-1zM454.1 344.1h1v1h-1zM451.6 349.0h1v1h-1zM452.3 360.8h1v1h-1zM450.2 346.5h1v1h-1zM443.6 353.4h1v1h-1zM440.0 367.1h1v1h-1zM453.5 350.5h1v1h-1zM458.0 356.8h1v1h-1zM450.2 364.8h1v1h-1zM456.7 343.9h1v1h-1zM456.0 344.5h1v1h-1zM454.3 362.8h1v1h-1zM452.2 346.1h1v1h-1zM452.7 352.9h1v1h-1zM438.4 365.9h1v1h-1zM452.3 355.9h1v1h-1zM437.9 361.5h1v1h-1zM441.6 366.7h1v1h-1zM443.1 348.5h1v1h-1zM442.3 366.4h1v1h-1zM445.8 351.8h1v1h-1zM447.3 356.2h1v1h-1zM452.6 350.9h1v1h-1zM456.6 356.6h1v1h-1zM451.2 358.4h1v1h-1zM442.9 364.8h1v1h-1zM444.7 354.2h1v1h-1zM456.2 349.1h1v1h-1zM457.4 351.2h1v1h-1zM444.6 358.0h1v1h-1zM445.4 361.3h1v1h-1zM452.4 351.5h1v1h-1zM446.4 349.1h1v1h-1zM444.9 351.1h1v1h-1zM442.4 359.2h1v1h-1zM438.1 362.9h1v1h-1zM448.7 367.3h1v1h-1zM441.7 359.2h1v1h-1zM449.0 362.3h1v1h-1zM449.6 356.7h1v1h-1zM451.8 344.2h1v1h-1zM457.9 354.1h1v1h-1zM452.0 344.4h1v1h-1zM441.7 365.0h1v1h-1zM441.2 353.3h1v1h-1zM451.2 356.0h1v1h-1zM451.6 348.4h1v1h-1zM439.1 353.6h1v1h-1zM452.0 360.8h1v1h-1zM448.2 368.8h.9v.9h-.9zM449.3 365.6h1v1h-1zM437.4 355.7h1v1h-1zM451.7 361.5h1v1h-1zM449.0 360.8h1v1h-1zM452.8 359.1h1v1h-1zM452.2 348.1h1v1h-1zM436.3 363.2h1v1h-1zM453.2 351.9h1v1h-1zM455.2 349.4h1v1h-1zM451.7 361.7h1v1h-1zM443.4 351.9h1v1h-1zM443.4 368.8h1v1h-1zM453.2 358.7h1v1h-1zM447.8 349.0h1v1h-1zM453.6 361.8h1v1h-1zM452.1 345.7h1v1h-1zM453.2 350.0h1v1h-1zM450.0 358.3h1v1h-1zM447.4 368.8h1v1h-1zM440.8 359.6h1v1h-1zM453.8 344.6h1v1h-1zM457.1 349.6h1v1h-1zM454.2 354.9h1v1h-1zM448.0 356.2h1v1h-1zM451.8 355.6h1v1h-1zM445.5 351.0h1v1h-1zM447.0 365.5h1v1h-1zM453.6 364.2h1v1h-1zM439.8 369.3h.9v.9h-.9zM454.4 346.6h1v1h-1zM438.9 358.6h1v1h-1zM453.7 351.8h1v1h-1zM445.8 348.3h1v1h-1zM454.8 350.1h1v1h-1zM449.0 356.8h1v1h-1zM445.7 365.8h1v1h-1zM437.7 356.3h1v1h-1zM435.9 361.5h1v1h-1zM450.5 352.7h1v1h-1zM450.2 346.5h1v1h-1zM455.4 356.6h1v1h-1zM446.0 354.1h1v1h-1zM439.6 366.1h1v1h-1zM439.9 367.1h1v1h-1zM440.4 358.1h1v1h-1zM442.8 366.0h1v1h-1zM437.0 361.8h1v1h-1zM451.1 361.3h1v1h-1zM441.1 357.1h1v1h-1zM450.0 368.1h.9v.9h-.9zM440.5 358.4h1v1h-1zM446.2 367.4h1v1h-1zM453.4 349.5h1v1h-1zM442.5 354.7h1v1h-1zM453.2 346.9h1v1h-1zM453.7 357.7h1v1h-1zM446.8 362.9h1v1h-1zM457.0 348.3h1v1h-1zM455.0 348.2h1v1h-1zM437.0 358.1h1v1h-1zM456.2 355.6h1v1h-1zM444.1 350.5h1v1h-1zM454.9 361.8h1v1h-1zM442.9 352.5h1v1h-1zM446.5 350.1h1v1h-1zM447.9 364.1h1v1h-1zM454.2 353.2h1v1h-1zM451.6 345.0h1v1h-1zM441.2 357.2h1v1h-1zM442.4 361.9h1v1h-1zM449.6 353.1h1v1h-1zM447.3 355.2h1v1h-1zM455.3 352.5h1v1h-1zM456.8 356.6h1v1h-1zM450.7 356.3h1v1h-1zM454.2 361.8h1v1h-1zM448.3 358.1h1v1h-1zM448.0 365.4h1v1h-1zM441.3 351.0h1v1h-1zM455.6 344.0h1v1h-1zM445.6 363.0h1v1h-1zM443.1 355.9h1v1h-1zM455.4 358.1h1v1h-1zM440.2 359.9h1v1h-1zM449.6 362.7h1v1h-1zM452.6 359.3h1v1h-1zM447.2 356.0h1v1h-1zM458.7 359.9h.9v.9h-.9zM455.0 352.5h1v1h-1zM451.3 357.8h1v1h-1zM457.2 359.6h1v1h-1zM445.7 356.0h1v1h-1zM451.4 348.0h1v1h-1zM455.6 355.2h1v1h-1zM452.7 350.4h1v1h-1zM439.8 353.3h1v1h-1zM439.3 364.5h1v1h-1zM452.5 357.6h1v1h-1zM449.5 347.7h1v1h-1zM439.3 362.2h1v1h-1zM443.3 366.5h1v1h-1zM453.7 353.6h1v1h-1zM452.4 348.8h1v1h-1zM456.8 354.1h1v1h-1zM440.4 368.0h1v1h-1zM442.6 362.2h1v1h-1zM450.9 349.7h1v1h-1zM435.8 362.1h1v1h-1zM446.0 354.0h1v1h-1zM437.5 364.3h1v1h-1zM450.4 363.2h1v1h-1zM446.6 352.4h1v1h-1zM448.8 359.8h1v1h-1zM449.2 363.3h1v1h-1zM458.2 347.7h1v1h-1zM440.4 357.2h1v1h-1zM450.0 347.1h1v1h-1zM455.1 350.8h1v1h-1zM446.1 362.4h1v1h-1zM444.8 363.6h1v1h-1zM452.9 353.7h1v1h-1zM447.9 360.2h1v1h-1zM456.9 353.8h1v1h-1zM441.5 360.4h1v1h-1zM450.0 357.6h1v1h-1zM449.6 362.8h1v1h-1zM440.5 358.8h1v1h-1zM441.8 367.6h1v1h-1zM446.5 357.7h1v1h-1zM441.5 365.6h1v1h-1zM446.4 362.9h1v1h-1zM443.0 359.7h1v1h-1zM441.6 365.7h1v1h-1zM442.9 353.4h1v1h-1zM440.3 364.4h1v1h-1zM456.4 345.0h1v1h-1zM459.2 349.8h.9v.9h-.9zM449.5 347.3h1v1h-1zM450.6 358.2h1v1h-1zM441.5 354.9h1v1h-1zM451.7 345.4h1v1h-1zM437.5 352.1h.9v.9h-.9zM454.8 348.3h1v1h-1zM448.1 345.4h.9v.9h-.9zM452.9 359.3h1v1h-1zM449.9 354.1h1v1h-1zM449.2 366.9h1v1h-1zM443.5 369.7h.9v.9h-.9zM452.8 353.9h1v1h-1zM443.2 367.7h1v1h-1zM438.3 365.9h1v1h-1zM451.8 345.5h1v1h-1zM449.4 361.3h1v1h-1zM455.5 353.4h1v1h-1zM443.1 355.3h1v1h-1zM442.9 366.5h1v1h-1zM457.1 353.7h1v1h-1zM451.7 359.1h1v1h-1zM457.3 358.6h1v1h-1zM451.8 365.5h1v1h-1zM449.6 349.8h1v1h-1zM454.2 349.2h1v1h-1zM444.1 353.9h1v1h-1zM448.5 364.4h1v1h-1zM436.7 361.9h1v1h-1zM440.0 362.3h1v1h-1zM448.9 366.9h1v1h-1zM444.1 368.8h1v1h-1zM444.3 367.0h1v1h-1zM453.4 357.2h1v1h-1zM445.1 356.7h1v1h-1zM455.8 348.3h1v1h-1zM451.5 358.4h1v1h-1zM444.1 362.2h1v1h-1zM453.7 360.3h1v1h-1zM448.3 360.9h1v1h-1zM446.7 362.5h1v1h-1zM458.6 353.2h1v1h-1zM454.7 350.2h1v1h-1zM451.3 351.2h1v1h-1zM448.7 355.5h1v1h-1zM438.9 364.6h1v1h-1zM442.8 352.1h1v1h-1zM438.5 359.0h1v1h-1zM438.4 363.2h1v1h-1zM445.3 360.8h1v1h-1zM453.5 362.7h1v1h-1zM448.0 350.0h1v1h-1zM450.8 353.6h1v1h-1zM449.7 354.5h1v1h-1zM436.2 354.5h.9v.9h-.9zM443.9 353.8h1v1h-1zM436.2 355.1h.9v.9h-.9zM437.5 362.8h1v1h-1zM450.2 345.3h1v1h-1zM441.8 366.7h1v1h-1zM444.7 368.0h1v1h-1zM445.5 349.5h1v1h-1zM454.6 359.6h1v1h-1zM438.5 359.1h1v1h-1zM446.1 356.6h1v1h-1zM459.9 353.8h.9v.9h-.9zM452.1 345.6h1v1h-1zM447.3 357.0h1v1h-1zM445.5 363.8h1v1h-1zM453.1 351.3h1v1h-1zM445.3 360.3h1v1h-1zM442.9 355.3h1v1h-1zM445.8 348.8h1v1h-1zM451.1 349.7h1v1h-1zM449.1 348.4h1v1h-1zM439.9 360.3h1v1h-1zM450.4 357.8h1v1h-1zM447.2 355.8h1v1h-1zM452.1 345.2h1v1h-1zM444.9 350.2h1v1h-1zM447.9 360.9h1v1h-1zM451.4 358.3h1v1h-1zM445.2 362.5h1v1h-1zM454.4 343.8h.9v.9h-.9zM458.7 350.0h1v1h-1zM445.1 348.0h1v1h-1zM440.1 360.8h1v1h-1zM443.8 365.9h1v1h-1zM440.1 355.0h1v1h-1zM457.4 354.9h1v1h-1zM453.4 351.1h1v1h-1zM458.3 349.4h1v1h-1zM452.2 347.1h1v1h-1zM444.8 352.8h1v1h-1zM452.5 364.9h1v1h-1zM444.8 349.8h1v1h-1zM448.0 353.0h1v1h-1zM438.0 364.4h1v1h-1zM447.8 348.9h1v1h-1zM450.9 364.8h1v1h-1zM454.4 345.8h1v1h-1zM452.2 346.4h1v1h-1zM452.6 349.0h1v1h-1zM441.4 354.0h1v1h-1zM455.6 350.7h1v1h-1zM440.9 356.9h1v1h-1zM449.5 362.1h1v1h-1zM442.7 358.4h1v1h-1zM456.0 357.5h1v1h-1zM454.4 361.6h1v1h-1zM441.3 363.5h1v1h-1zM451.1 363.5h1v1h-1zM445.1 363.9h1v1h-1zM442.7 365.7h1v1h-1zM444.8 360.3h1v1h-1zM450.8 347.3h1v1h-1zM453.3 350.8h1v1h-1zM441.5 368.6h1v1h-1zM441.1 368.6h1v1h-1zM441.6 360.3h1v1h-1zM445.6 368.3h1v1h-1zM445.3 359.2h1v1h-1zM444.5 362.7h1v1h-1zM451.7 350.7h1v1h-1zM448.4 355.4h1v1h-1zM450.3 359.9h1v1h-1zM435.7 368.0h.9v.9h-.9zM441.0 359.1h1v1h-1zM455.7 347.3h1v1h-1zM440.3 358.1h1v1h-1zM452.6 353.7h1v1h-1zM455.0 361.0h1v1h-1zM452.1 352.8h1v1h-1zM434.8 357.8h.9v.9h-.9zM445.1 361.5h1v1h-1zM437.8 352.9h.9v.9h-.9zM445.4 365.7h1v1h-1zM441.5 361.7h1v1h-1zM447.1 352.0h1v1h-1zM440.6 351.3h1v1h-1zM450.7 357.5h1v1h-1zM443.6 350.2h1v1h-1zM450.7 350.1h1v1h-1zM449.2 362.2h1v1h-1zM441.9 364.5h1v1h-1zM445.2 357.3h1v1h-1zM444.9 358.7h1v1h-1zM441.3 358.4h1v1h-1zM452.7 350.9h1v1h-1zM458.1 350.8h1v1h-1zM446.7 361.4h1v1h-1zM441.1 356.2h1v1h-1zM450.4 355.8h1v1h-1zM448.0 363.7h1v1h-1zM446.7 351.8h1v1h-1zM448.8 348.1h1v1h-1zM453.2 363.6h1v1h-1zM437.2 359.0h1v1h-1zM451.4 366.4h1v1h-1zM447.6 347.1h1v1h-1zM444.1 353.8h1v1h-1zM446.1 362.5h1v1h-1zM445.7 351.6h1v1h-1zM455.1 345.0h1v1h-1zM442.3 361.0h1v1h-1zM443.9 366.7h1v1h-1zM439.8 355.3h1v1h-1zM455.1 354.1h1v1h-1zM455.0 355.0h1v1h-1zM439.1 358.3h1v1h-1zM454.3 356.8h1v1h-1zM445.0 360.7h1v1h-1zM444.2 351.0h1v1h-1zM441.8 363.3h1v1h-1zM449.7 368.5h.9v.9h-.9zM438.2 359.0h1v1h-1zM454.0 355.7h1v1h-1zM451.1 360.4h1v1h-1zM453.2 356.9h1v1h-1zM439.0 362.1h1v1h-1zM441.4 359.0h1v1h-1zM447.2 359.0h1v1h-1zM447.7 349.5h1v1h-1zM453.0 345.2h1v1h-1zM451.0 365.4h1v1h-1zM440.0 365.6h1v1h-1zM440.0 354.9h1v1h-1zM453.8 349.7h1v1h-1zM457.5 354.5h1v1h-1zM446.9 346.3h1v1h-1zM443.4 354.9h1v1h-1zM438.2 359.7h1v1h-1zM454.8 356.6h1v1h-1zM454.9 349.7h1v1h-1zM443.5 366.1h1v1h-1zM441.1 366.1h1v1h-1zM446.9 363.6h1v1h-1zM448.1 358.8h1v1h-1zM451.4 363.6h1v1h-1zM447.4 367.3h1v1h-1zM450.1 355.9h1v1h-1zM447.8 345.9h1v1h-1zM453.3 354.8h1v1h-1zM451.3 360.3h1v1h-1zM441.9 356.6h1v1h-1zM437.3 359.2h1v1h-1zM445.2 362.3h1v1h-1zM447.9 349.5h1v1h-1zM456.6 358.1h1v1h-1zM447.0 351.7h1v1h-1zM449.7 346.5h1v1h-1zM438.0 353.9h1v1h-1zM446.4 349.0h1v1h-1zM450.6 359.3h1v1h-1zM442.0 357.3h1v1h-1zM447.2 357.1h1v1h-1zM450.2 347.9h1v1h-1zM445.6 362.3h1v1h-1zM451.2 346.5h1v1h-1zM456.6 347.0h1v1h-1zM453.9 363.1h1v1h-1zM445.7 354.2h1v1h-1zM436.2 361.4h1v1h-1zM450.7 363.4h1v1h-1zM448.8 361.6h1v1h-1zM442.8 366.5h1v1h-1zM438.8 362.4h1v1h-1zM448.8 359.9h1v1h-1zM444.7 356.4h1v1h-1zM450.7 362.5h1v1h-1zM456.1 352.6h1v1h-1zM434.7 363.3h.9v.9h-.9zM440.9 364.7h1v1h-1zM453.7 351.0h1v1h-1zM448.1 359.8h1v1h-1zM441.0 355.7h1v1h-1zM449.1 361.0h1v1h-1zM450.8 366.6h1v1h-1zM455.8 348.2h1v1h-1zM447.7 361.7h1v1h-1zM454.7 354.4h1v1h-1zM446.7 357.4h1v1h-1zM458.8 350.9h1v1h-1zM442.1 349.3h1v1h-1zM444.7 360.8h1v1h-1zM446.1 359.4h1v1h-1zM452.5 354.0h1v1h-1zM452.2 353.7h1v1h-1zM442.2 368.5h1v1h-1zM454.4 366.3h.9v.9h-.9zM458.0 352.5h1v1h-1zM455.3 345.1h1v1h-1zM442.2 359.4h1v1h-1zM453.9 346.6h1v1h-1zM436.6 365.8h1v1h-1zM446.8 347.7h1v1h-1zM454.2 345.0h1v1h-1zM439.8 365.7h1v1h-1zM448.5 353.8h1v1h-1zM450.8 356.1h1v1h-1zM446.2 364.4h1v1h-1zM453.6 353.7h1v1h-1zM450.9 344.9h1v1h-1zM449.3 347.4h1v1h-1zM454.9 345.1h1v1h-1zM445.4 367.7h1v1h-1zM448.5 364.7h1v1h-1zM451.0 366.3h1v1h-1zM454.4 347.4h1v1h-1zM458.0 354.3h1v1h-1zM454.3 354.1h1v1h-1zM447.6 362.7h1v1h-1zM447.1 368.1h1v1h-1zM440.2 355.9h1v1h-1zM444.8 361.4h1v1h-1zM441.3 359.7h1v1h-1zM450.4 347.2h1v1h-1zM450.7 349.9h1v1h-1zM450.0 347.0h1v1h-1zM445.7 352.8h1v1h-1zM445.0 361.9h1v1h-1zM449.0 362.9h1v1h-1zM450.0 350.2h1v1h-1z" fill="#000"/>
</svg>
</body></html>
